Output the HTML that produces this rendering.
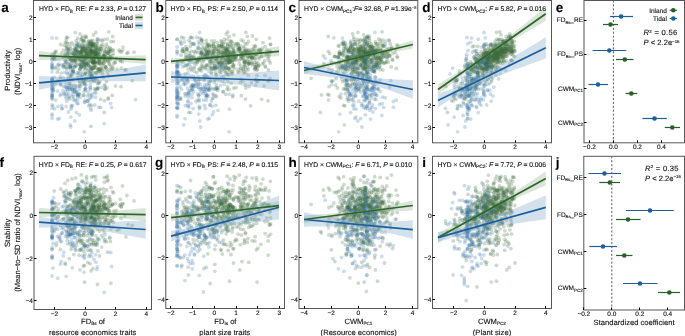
<!DOCTYPE html>
<html><head><meta charset="utf-8"><title>Figure</title>
<style>html,body{margin:0;padding:0;background:#fff;width:685px;height:336px;overflow:hidden} svg{display:block;will-change:transform}</style>
</head><body>
<svg xmlns="http://www.w3.org/2000/svg" width="685" height="336" viewBox="0 0 685 336">
<style>
text{font-family:"Liberation Sans", sans-serif;fill:#111;stroke:#111;stroke-width:0.12px;text-rendering:geometricPrecision}
.tk{font-size:6.5px}
.tt{font-size:6.8px}
.lab{font-size:13.5px;font-weight:bold;fill:#000}
.ax{font-size:7.6px}
</style>
<rect width="685" height="336" fill="#fff"/>
<clipPath id="clipa"><rect x="33.5" y="0.5" width="118.0" height="142.3"/></clipPath>
<g clip-path="url(#clipa)">
<g fill="#3d6d3c" fill-opacity="0.26"><circle cx="97.4" cy="55.3" r="1.9"/><circle cx="67.7" cy="43.3" r="1.9"/><circle cx="60.7" cy="44.5" r="1.9"/><circle cx="71.2" cy="60.2" r="1.9"/><circle cx="92.1" cy="58.2" r="1.9"/><circle cx="105.2" cy="60.3" r="1.9"/><circle cx="124.8" cy="69.8" r="1.9"/><circle cx="108.9" cy="56.1" r="1.9"/><circle cx="68.3" cy="48.8" r="1.9"/><circle cx="57.3" cy="72.2" r="1.9"/><circle cx="91.3" cy="41.4" r="1.9"/><circle cx="103.9" cy="56.4" r="1.9"/><circle cx="67.0" cy="49.4" r="1.9"/><circle cx="82.2" cy="56.8" r="1.9"/><circle cx="83.2" cy="95.1" r="1.9"/><circle cx="89.9" cy="51.4" r="1.9"/><circle cx="87.0" cy="63.6" r="1.9"/><circle cx="96.6" cy="57.4" r="1.9"/><circle cx="104.1" cy="56.9" r="1.9"/><circle cx="90.5" cy="49.4" r="1.9"/><circle cx="99.9" cy="63.4" r="1.9"/><circle cx="117.0" cy="69.2" r="1.9"/><circle cx="75.5" cy="52.0" r="1.9"/><circle cx="75.2" cy="61.6" r="1.9"/><circle cx="96.7" cy="72.9" r="1.9"/><circle cx="115.2" cy="62.9" r="1.9"/><circle cx="92.0" cy="73.9" r="1.9"/><circle cx="104.8" cy="66.3" r="1.9"/><circle cx="85.5" cy="88.6" r="1.9"/><circle cx="102.4" cy="55.2" r="1.9"/><circle cx="81.2" cy="47.5" r="1.9"/><circle cx="99.1" cy="57.7" r="1.9"/><circle cx="95.3" cy="62.3" r="1.9"/><circle cx="95.3" cy="52.1" r="1.9"/><circle cx="108.9" cy="49.1" r="1.9"/><circle cx="104.6" cy="58.3" r="1.9"/><circle cx="81.7" cy="50.6" r="1.9"/><circle cx="102.2" cy="71.7" r="1.9"/><circle cx="66.6" cy="57.4" r="1.9"/><circle cx="103.7" cy="62.9" r="1.9"/><circle cx="128.0" cy="52.4" r="1.9"/><circle cx="97.4" cy="53.3" r="1.9"/><circle cx="97.2" cy="45.6" r="1.9"/><circle cx="91.1" cy="67.1" r="1.9"/><circle cx="101.7" cy="61.5" r="1.9"/><circle cx="84.1" cy="63.5" r="1.9"/><circle cx="99.5" cy="71.2" r="1.9"/><circle cx="86.6" cy="54.4" r="1.9"/><circle cx="84.5" cy="50.8" r="1.9"/><circle cx="92.1" cy="62.2" r="1.9"/><circle cx="89.6" cy="43.1" r="1.9"/><circle cx="66.6" cy="48.1" r="1.9"/><circle cx="119.1" cy="49.9" r="1.9"/><circle cx="92.4" cy="51.9" r="1.9"/><circle cx="67.2" cy="46.9" r="1.9"/><circle cx="105.4" cy="56.7" r="1.9"/><circle cx="90.1" cy="50.0" r="1.9"/><circle cx="93.4" cy="72.7" r="1.9"/><circle cx="100.3" cy="71.5" r="1.9"/><circle cx="78.2" cy="52.4" r="1.9"/><circle cx="54.2" cy="57.8" r="1.9"/><circle cx="89.2" cy="48.5" r="1.9"/><circle cx="93.9" cy="81.6" r="1.9"/><circle cx="104.4" cy="55.7" r="1.9"/><circle cx="80.1" cy="52.5" r="1.9"/><circle cx="86.9" cy="63.5" r="1.9"/><circle cx="96.0" cy="50.2" r="1.9"/><circle cx="86.2" cy="78.3" r="1.9"/><circle cx="87.1" cy="56.7" r="1.9"/><circle cx="94.1" cy="60.3" r="1.9"/><circle cx="76.8" cy="45.8" r="1.9"/><circle cx="112.4" cy="50.1" r="1.9"/><circle cx="77.8" cy="57.2" r="1.9"/><circle cx="91.0" cy="49.9" r="1.9"/><circle cx="86.0" cy="44.2" r="1.9"/><circle cx="80.8" cy="39.4" r="1.9"/><circle cx="97.9" cy="69.8" r="1.9"/><circle cx="104.5" cy="100.8" r="1.9"/><circle cx="110.6" cy="51.4" r="1.9"/><circle cx="98.5" cy="56.4" r="1.9"/><circle cx="84.3" cy="64.6" r="1.9"/><circle cx="102.4" cy="44.2" r="1.9"/><circle cx="70.6" cy="66.9" r="1.9"/><circle cx="91.2" cy="50.4" r="1.9"/><circle cx="97.7" cy="87.7" r="1.9"/><circle cx="98.2" cy="70.0" r="1.9"/><circle cx="74.6" cy="58.3" r="1.9"/><circle cx="69.8" cy="67.4" r="1.9"/><circle cx="113.3" cy="53.4" r="1.9"/><circle cx="83.3" cy="81.2" r="1.9"/><circle cx="67.7" cy="37.3" r="1.9"/><circle cx="73.3" cy="71.6" r="1.9"/><circle cx="90.5" cy="60.7" r="1.9"/><circle cx="106.5" cy="49.2" r="1.9"/><circle cx="90.2" cy="41.3" r="1.9"/><circle cx="106.8" cy="51.8" r="1.9"/><circle cx="93.3" cy="62.3" r="1.9"/><circle cx="96.7" cy="52.9" r="1.9"/><circle cx="103.7" cy="55.7" r="1.9"/><circle cx="85.0" cy="57.4" r="1.9"/><circle cx="94.2" cy="62.2" r="1.9"/><circle cx="84.8" cy="52.1" r="1.9"/><circle cx="81.3" cy="52.8" r="1.9"/><circle cx="99.1" cy="56.4" r="1.9"/><circle cx="78.8" cy="57.6" r="1.9"/><circle cx="91.1" cy="81.3" r="1.9"/><circle cx="79.1" cy="59.9" r="1.9"/><circle cx="88.8" cy="105.8" r="1.9"/><circle cx="82.7" cy="57.3" r="1.9"/><circle cx="105.0" cy="58.8" r="1.9"/><circle cx="91.0" cy="43.5" r="1.9"/><circle cx="91.0" cy="50.8" r="1.9"/><circle cx="112.6" cy="36.5" r="1.9"/><circle cx="54.2" cy="55.0" r="1.9"/><circle cx="74.4" cy="59.7" r="1.9"/><circle cx="52.2" cy="68.6" r="1.9"/><circle cx="89.6" cy="43.6" r="1.9"/><circle cx="95.7" cy="32.4" r="1.9"/><circle cx="98.5" cy="63.0" r="1.9"/><circle cx="93.3" cy="61.4" r="1.9"/><circle cx="77.5" cy="50.2" r="1.9"/><circle cx="113.7" cy="63.0" r="1.9"/><circle cx="93.7" cy="58.0" r="1.9"/><circle cx="85.9" cy="79.6" r="1.9"/><circle cx="74.0" cy="85.2" r="1.9"/><circle cx="95.2" cy="45.7" r="1.9"/><circle cx="82.6" cy="66.4" r="1.9"/><circle cx="83.2" cy="47.3" r="1.9"/><circle cx="92.2" cy="59.3" r="1.9"/><circle cx="92.3" cy="52.6" r="1.9"/><circle cx="78.0" cy="74.8" r="1.9"/><circle cx="106.5" cy="68.6" r="1.9"/><circle cx="75.5" cy="48.4" r="1.9"/><circle cx="73.9" cy="60.9" r="1.9"/><circle cx="93.5" cy="50.3" r="1.9"/><circle cx="91.0" cy="50.7" r="1.9"/><circle cx="90.2" cy="43.6" r="1.9"/><circle cx="83.5" cy="82.2" r="1.9"/><circle cx="89.8" cy="46.4" r="1.9"/><circle cx="81.4" cy="56.6" r="1.9"/><circle cx="66.4" cy="61.9" r="1.9"/><circle cx="99.3" cy="62.2" r="1.9"/><circle cx="75.2" cy="60.0" r="1.9"/><circle cx="86.0" cy="65.8" r="1.9"/><circle cx="99.2" cy="60.5" r="1.9"/><circle cx="89.4" cy="56.4" r="1.9"/><circle cx="126.9" cy="53.3" r="1.9"/><circle cx="69.8" cy="58.6" r="1.9"/><circle cx="78.8" cy="72.9" r="1.9"/><circle cx="90.3" cy="56.2" r="1.9"/><circle cx="107.8" cy="53.5" r="1.9"/><circle cx="85.6" cy="69.4" r="1.9"/><circle cx="69.3" cy="50.3" r="1.9"/><circle cx="104.8" cy="61.4" r="1.9"/><circle cx="76.3" cy="62.1" r="1.9"/><circle cx="86.3" cy="37.4" r="1.9"/><circle cx="101.2" cy="48.7" r="1.9"/><circle cx="79.8" cy="69.0" r="1.9"/><circle cx="82.8" cy="36.4" r="1.9"/><circle cx="95.7" cy="62.9" r="1.9"/><circle cx="86.2" cy="52.1" r="1.9"/><circle cx="92.9" cy="79.5" r="1.9"/><circle cx="75.9" cy="50.5" r="1.9"/><circle cx="87.3" cy="50.7" r="1.9"/><circle cx="73.9" cy="53.7" r="1.9"/><circle cx="67.5" cy="54.0" r="1.9"/><circle cx="113.1" cy="69.1" r="1.9"/><circle cx="95.2" cy="57.1" r="1.9"/><circle cx="101.5" cy="62.3" r="1.9"/><circle cx="75.6" cy="65.7" r="1.9"/><circle cx="88.5" cy="59.8" r="1.9"/><circle cx="86.1" cy="64.9" r="1.9"/><circle cx="69.3" cy="99.0" r="1.9"/><circle cx="96.4" cy="52.8" r="1.9"/><circle cx="79.0" cy="52.7" r="1.9"/><circle cx="86.1" cy="54.7" r="1.9"/><circle cx="68.0" cy="59.6" r="1.9"/><circle cx="102.6" cy="57.0" r="1.9"/><circle cx="99.3" cy="60.0" r="1.9"/><circle cx="94.3" cy="52.1" r="1.9"/><circle cx="76.4" cy="55.4" r="1.9"/><circle cx="81.5" cy="50.3" r="1.9"/><circle cx="105.7" cy="67.5" r="1.9"/><circle cx="85.1" cy="47.6" r="1.9"/><circle cx="92.6" cy="62.4" r="1.9"/><circle cx="90.8" cy="71.2" r="1.9"/><circle cx="73.5" cy="96.8" r="1.9"/><circle cx="109.9" cy="60.6" r="1.9"/><circle cx="61.6" cy="52.9" r="1.9"/><circle cx="92.0" cy="60.7" r="1.9"/><circle cx="87.7" cy="65.2" r="1.9"/><circle cx="66.6" cy="94.3" r="1.9"/><circle cx="93.5" cy="43.7" r="1.9"/><circle cx="96.0" cy="55.2" r="1.9"/><circle cx="89.6" cy="66.1" r="1.9"/><circle cx="77.5" cy="55.5" r="1.9"/><circle cx="95.1" cy="64.9" r="1.9"/><circle cx="104.2" cy="39.4" r="1.9"/><circle cx="91.9" cy="69.3" r="1.9"/><circle cx="112.6" cy="66.2" r="1.9"/><circle cx="100.7" cy="50.7" r="1.9"/><circle cx="99.5" cy="68.6" r="1.9"/><circle cx="108.0" cy="52.9" r="1.9"/><circle cx="79.8" cy="46.6" r="1.9"/><circle cx="81.7" cy="51.3" r="1.9"/><circle cx="96.0" cy="53.2" r="1.9"/><circle cx="96.0" cy="47.0" r="1.9"/><circle cx="109.7" cy="54.1" r="1.9"/><circle cx="104.7" cy="52.5" r="1.9"/><circle cx="91.3" cy="56.7" r="1.9"/><circle cx="91.9" cy="49.9" r="1.9"/><circle cx="85.1" cy="64.1" r="1.9"/><circle cx="83.9" cy="48.4" r="1.9"/><circle cx="82.7" cy="60.1" r="1.9"/><circle cx="101.4" cy="65.4" r="1.9"/><circle cx="82.5" cy="52.3" r="1.9"/><circle cx="84.1" cy="40.3" r="1.9"/><circle cx="91.2" cy="46.9" r="1.9"/><circle cx="82.0" cy="60.2" r="1.9"/><circle cx="85.9" cy="49.3" r="1.9"/><circle cx="59.0" cy="59.7" r="1.9"/><circle cx="94.3" cy="56.7" r="1.9"/><circle cx="84.9" cy="54.8" r="1.9"/><circle cx="91.8" cy="76.5" r="1.9"/><circle cx="94.3" cy="53.8" r="1.9"/><circle cx="63.7" cy="64.8" r="1.9"/><circle cx="122.4" cy="61.9" r="1.9"/><circle cx="91.6" cy="68.9" r="1.9"/><circle cx="92.0" cy="69.2" r="1.9"/><circle cx="65.1" cy="64.1" r="1.9"/><circle cx="98.4" cy="88.1" r="1.9"/><circle cx="95.6" cy="89.5" r="1.9"/><circle cx="85.1" cy="55.8" r="1.9"/><circle cx="93.6" cy="45.7" r="1.9"/><circle cx="108.0" cy="57.9" r="1.9"/><circle cx="85.8" cy="72.8" r="1.9"/><circle cx="78.1" cy="54.2" r="1.9"/><circle cx="108.9" cy="51.5" r="1.9"/><circle cx="94.3" cy="59.4" r="1.9"/><circle cx="88.3" cy="52.8" r="1.9"/><circle cx="122.5" cy="50.4" r="1.9"/><circle cx="93.0" cy="63.3" r="1.9"/><circle cx="88.5" cy="68.9" r="1.9"/><circle cx="94.5" cy="57.6" r="1.9"/><circle cx="85.3" cy="57.5" r="1.9"/><circle cx="93.8" cy="58.7" r="1.9"/><circle cx="92.9" cy="46.7" r="1.9"/><circle cx="81.8" cy="40.0" r="1.9"/><circle cx="87.2" cy="59.3" r="1.9"/><circle cx="95.0" cy="49.3" r="1.9"/><circle cx="96.0" cy="47.1" r="1.9"/><circle cx="98.8" cy="49.1" r="1.9"/><circle cx="101.5" cy="46.1" r="1.9"/><circle cx="94.1" cy="59.1" r="1.9"/><circle cx="97.8" cy="48.9" r="1.9"/><circle cx="85.4" cy="37.3" r="1.9"/><circle cx="87.1" cy="48.3" r="1.9"/><circle cx="104.9" cy="70.2" r="1.9"/><circle cx="63.4" cy="50.1" r="1.9"/><circle cx="95.6" cy="44.2" r="1.9"/><circle cx="134.0" cy="52.2" r="1.9"/><circle cx="64.9" cy="60.6" r="1.9"/><circle cx="111.0" cy="41.6" r="1.9"/><circle cx="66.1" cy="66.8" r="1.9"/><circle cx="95.2" cy="51.0" r="1.9"/><circle cx="112.5" cy="55.7" r="1.9"/><circle cx="110.6" cy="66.3" r="1.9"/><circle cx="77.5" cy="44.6" r="1.9"/><circle cx="72.0" cy="52.4" r="1.9"/><circle cx="70.1" cy="66.1" r="1.9"/><circle cx="99.7" cy="50.1" r="1.9"/><circle cx="84.4" cy="59.5" r="1.9"/><circle cx="89.8" cy="72.7" r="1.9"/><circle cx="93.2" cy="61.8" r="1.9"/><circle cx="95.3" cy="53.2" r="1.9"/><circle cx="97.0" cy="49.8" r="1.9"/><circle cx="91.3" cy="54.1" r="1.9"/><circle cx="67.4" cy="55.2" r="1.9"/><circle cx="109.6" cy="51.3" r="1.9"/><circle cx="52.5" cy="57.5" r="1.9"/><circle cx="106.5" cy="81.6" r="1.9"/><circle cx="81.2" cy="54.2" r="1.9"/><circle cx="86.7" cy="52.9" r="1.9"/><circle cx="82.2" cy="50.7" r="1.9"/><circle cx="84.3" cy="65.1" r="1.9"/><circle cx="89.1" cy="62.0" r="1.9"/><circle cx="85.5" cy="88.2" r="1.9"/><circle cx="74.3" cy="52.5" r="1.9"/><circle cx="101.1" cy="58.1" r="1.9"/><circle cx="81.4" cy="52.5" r="1.9"/><circle cx="107.9" cy="59.9" r="1.9"/><circle cx="87.2" cy="53.0" r="1.9"/><circle cx="79.6" cy="93.7" r="1.9"/><circle cx="95.4" cy="53.1" r="1.9"/><circle cx="101.6" cy="69.8" r="1.9"/><circle cx="76.6" cy="43.6" r="1.9"/><circle cx="85.4" cy="73.6" r="1.9"/><circle cx="109.0" cy="69.8" r="1.9"/><circle cx="75.6" cy="49.5" r="1.9"/><circle cx="77.6" cy="58.9" r="1.9"/><circle cx="91.6" cy="75.6" r="1.9"/><circle cx="72.6" cy="65.9" r="1.9"/><circle cx="55.4" cy="52.0" r="1.9"/><circle cx="66.4" cy="39.4" r="1.9"/><circle cx="94.5" cy="67.1" r="1.9"/><circle cx="98.4" cy="52.5" r="1.9"/><circle cx="97.5" cy="89.0" r="1.9"/><circle cx="94.7" cy="53.8" r="1.9"/><circle cx="72.4" cy="71.9" r="1.9"/><circle cx="98.7" cy="82.8" r="1.9"/><circle cx="105.2" cy="51.4" r="1.9"/><circle cx="79.7" cy="55.9" r="1.9"/><circle cx="102.3" cy="40.8" r="1.9"/><circle cx="84.3" cy="61.9" r="1.9"/><circle cx="92.0" cy="54.0" r="1.9"/><circle cx="94.4" cy="88.9" r="1.9"/><circle cx="68.9" cy="85.2" r="1.9"/><circle cx="109.5" cy="63.7" r="1.9"/><circle cx="77.6" cy="79.1" r="1.9"/><circle cx="88.0" cy="56.0" r="1.9"/><circle cx="82.6" cy="47.9" r="1.9"/><circle cx="95.7" cy="54.4" r="1.9"/><circle cx="95.3" cy="62.4" r="1.9"/><circle cx="89.7" cy="53.7" r="1.9"/><circle cx="108.8" cy="31.8" r="1.9"/><circle cx="93.3" cy="44.1" r="1.9"/><circle cx="83.9" cy="95.7" r="1.9"/><circle cx="54.5" cy="56.8" r="1.9"/><circle cx="85.5" cy="63.5" r="1.9"/><circle cx="85.4" cy="49.9" r="1.9"/><circle cx="77.4" cy="57.1" r="1.9"/><circle cx="77.5" cy="38.1" r="1.9"/><circle cx="97.6" cy="47.2" r="1.9"/><circle cx="103.8" cy="63.4" r="1.9"/><circle cx="115.5" cy="85.9" r="1.9"/><circle cx="105.1" cy="86.1" r="1.9"/><circle cx="79.6" cy="64.8" r="1.9"/><circle cx="92.9" cy="43.9" r="1.9"/><circle cx="70.6" cy="75.3" r="1.9"/><circle cx="99.5" cy="58.7" r="1.9"/><circle cx="94.3" cy="44.1" r="1.9"/><circle cx="81.0" cy="53.8" r="1.9"/><circle cx="87.9" cy="56.3" r="1.9"/><circle cx="85.9" cy="62.7" r="1.9"/><circle cx="80.6" cy="60.7" r="1.9"/><circle cx="107.6" cy="61.3" r="1.9"/><circle cx="132.2" cy="80.7" r="1.9"/><circle cx="100.7" cy="46.4" r="1.9"/><circle cx="104.0" cy="50.5" r="1.9"/><circle cx="91.6" cy="57.5" r="1.9"/><circle cx="84.6" cy="46.1" r="1.9"/><circle cx="119.6" cy="51.6" r="1.9"/><circle cx="84.4" cy="74.7" r="1.9"/><circle cx="94.9" cy="77.9" r="1.9"/><circle cx="87.8" cy="57.7" r="1.9"/><circle cx="97.5" cy="50.8" r="1.9"/><circle cx="88.7" cy="41.0" r="1.9"/><circle cx="97.6" cy="39.0" r="1.9"/><circle cx="72.0" cy="42.7" r="1.9"/><circle cx="88.0" cy="81.1" r="1.9"/><circle cx="108.3" cy="75.4" r="1.9"/><circle cx="75.2" cy="50.4" r="1.9"/><circle cx="80.2" cy="55.3" r="1.9"/><circle cx="108.3" cy="99.1" r="1.9"/><circle cx="95.0" cy="56.7" r="1.9"/><circle cx="104.1" cy="53.6" r="1.9"/><circle cx="58.6" cy="69.1" r="1.9"/><circle cx="91.4" cy="51.5" r="1.9"/><circle cx="71.8" cy="59.6" r="1.9"/><circle cx="70.2" cy="46.7" r="1.9"/><circle cx="95.1" cy="51.4" r="1.9"/><circle cx="105.7" cy="56.6" r="1.9"/><circle cx="68.8" cy="52.7" r="1.9"/><circle cx="74.1" cy="55.7" r="1.9"/><circle cx="81.3" cy="48.7" r="1.9"/><circle cx="87.6" cy="101.0" r="1.9"/><circle cx="71.0" cy="60.5" r="1.9"/><circle cx="120.5" cy="60.9" r="1.9"/><circle cx="97.5" cy="83.8" r="1.9"/><circle cx="84.4" cy="67.2" r="1.9"/><circle cx="82.2" cy="46.6" r="1.9"/><circle cx="121.4" cy="52.0" r="1.9"/><circle cx="120.2" cy="60.6" r="1.9"/><circle cx="82.6" cy="62.3" r="1.9"/><circle cx="94.1" cy="54.5" r="1.9"/><circle cx="106.7" cy="53.2" r="1.9"/><circle cx="72.9" cy="50.0" r="1.9"/><circle cx="81.2" cy="67.0" r="1.9"/><circle cx="107.9" cy="60.9" r="1.9"/><circle cx="79.7" cy="56.4" r="1.9"/><circle cx="83.3" cy="41.1" r="1.9"/><circle cx="70.6" cy="76.8" r="1.9"/><circle cx="78.7" cy="51.6" r="1.9"/><circle cx="98.7" cy="60.4" r="1.9"/><circle cx="77.8" cy="51.7" r="1.9"/><circle cx="71.1" cy="60.0" r="1.9"/><circle cx="80.5" cy="52.3" r="1.9"/><circle cx="113.6" cy="41.4" r="1.9"/><circle cx="91.6" cy="105.3" r="1.9"/><circle cx="81.4" cy="66.5" r="1.9"/><circle cx="91.2" cy="52.2" r="1.9"/><circle cx="95.2" cy="62.3" r="1.9"/><circle cx="90.8" cy="50.7" r="1.9"/><circle cx="64.1" cy="57.4" r="1.9"/><circle cx="93.2" cy="62.9" r="1.9"/><circle cx="86.1" cy="55.9" r="1.9"/><circle cx="100.7" cy="57.6" r="1.9"/><circle cx="70.3" cy="48.8" r="1.9"/><circle cx="103.5" cy="55.9" r="1.9"/><circle cx="82.1" cy="62.4" r="1.9"/><circle cx="65.3" cy="42.4" r="1.9"/><circle cx="107.4" cy="46.6" r="1.9"/><circle cx="81.8" cy="44.1" r="1.9"/><circle cx="94.1" cy="68.0" r="1.9"/><circle cx="86.7" cy="56.5" r="1.9"/><circle cx="104.1" cy="59.3" r="1.9"/><circle cx="104.2" cy="112.4" r="1.9"/><circle cx="104.4" cy="47.0" r="1.9"/><circle cx="98.8" cy="54.6" r="1.9"/><circle cx="66.5" cy="68.9" r="1.9"/><circle cx="65.5" cy="55.9" r="1.9"/><circle cx="91.6" cy="68.3" r="1.9"/><circle cx="75.6" cy="54.1" r="1.9"/><circle cx="95.3" cy="66.4" r="1.9"/><circle cx="91.1" cy="67.0" r="1.9"/><circle cx="69.2" cy="54.5" r="1.9"/><circle cx="74.4" cy="56.3" r="1.9"/><circle cx="73.1" cy="70.5" r="1.9"/><circle cx="76.5" cy="48.8" r="1.9"/><circle cx="85.9" cy="36.0" r="1.9"/><circle cx="98.3" cy="68.9" r="1.9"/><circle cx="107.4" cy="39.1" r="1.9"/><circle cx="75.3" cy="88.1" r="1.9"/><circle cx="81.0" cy="60.0" r="1.9"/><circle cx="110.4" cy="57.2" r="1.9"/><circle cx="101.2" cy="68.6" r="1.9"/><circle cx="92.0" cy="43.8" r="1.9"/><circle cx="56.2" cy="51.1" r="1.9"/><circle cx="74.8" cy="62.3" r="1.9"/><circle cx="91.0" cy="58.1" r="1.9"/><circle cx="80.6" cy="86.2" r="1.9"/><circle cx="116.4" cy="58.7" r="1.9"/><circle cx="90.0" cy="75.2" r="1.9"/><circle cx="92.7" cy="62.5" r="1.9"/><circle cx="73.5" cy="59.5" r="1.9"/><circle cx="74.3" cy="54.2" r="1.9"/><circle cx="79.5" cy="46.1" r="1.9"/><circle cx="80.1" cy="80.7" r="1.9"/><circle cx="85.5" cy="59.7" r="1.9"/><circle cx="94.0" cy="62.2" r="1.9"/><circle cx="92.1" cy="51.5" r="1.9"/><circle cx="102.7" cy="58.8" r="1.9"/><circle cx="70.0" cy="58.4" r="1.9"/><circle cx="91.7" cy="45.8" r="1.9"/><circle cx="92.1" cy="75.4" r="1.9"/><circle cx="110.9" cy="69.7" r="1.9"/><circle cx="85.7" cy="57.3" r="1.9"/><circle cx="93.3" cy="68.4" r="1.9"/><circle cx="77.4" cy="72.6" r="1.9"/><circle cx="94.7" cy="55.7" r="1.9"/><circle cx="94.3" cy="65.1" r="1.9"/><circle cx="80.0" cy="34.0" r="1.9"/><circle cx="82.7" cy="49.1" r="1.9"/><circle cx="88.3" cy="54.3" r="1.9"/><circle cx="96.8" cy="57.3" r="1.9"/><circle cx="72.8" cy="90.4" r="1.9"/><circle cx="101.1" cy="49.1" r="1.9"/><circle cx="84.2" cy="40.9" r="1.9"/><circle cx="115.2" cy="62.1" r="1.9"/><circle cx="109.1" cy="64.0" r="1.9"/><circle cx="83.1" cy="49.0" r="1.9"/><circle cx="80.1" cy="69.5" r="1.9"/><circle cx="123.0" cy="47.1" r="1.9"/><circle cx="97.5" cy="43.3" r="1.9"/><circle cx="96.7" cy="53.5" r="1.9"/><circle cx="82.9" cy="56.1" r="1.9"/><circle cx="87.0" cy="48.5" r="1.9"/><circle cx="100.0" cy="69.5" r="1.9"/><circle cx="97.4" cy="54.7" r="1.9"/><circle cx="77.3" cy="46.0" r="1.9"/><circle cx="106.1" cy="66.8" r="1.9"/><circle cx="93.1" cy="46.6" r="1.9"/><circle cx="75.6" cy="59.3" r="1.9"/><circle cx="102.6" cy="74.3" r="1.9"/><circle cx="86.4" cy="56.5" r="1.9"/><circle cx="99.7" cy="81.6" r="1.9"/><circle cx="81.1" cy="65.4" r="1.9"/><circle cx="93.8" cy="66.1" r="1.9"/><circle cx="66.2" cy="46.1" r="1.9"/><circle cx="94.0" cy="62.2" r="1.9"/><circle cx="67.7" cy="52.3" r="1.9"/><circle cx="91.1" cy="60.9" r="1.9"/><circle cx="53.5" cy="58.5" r="1.9"/><circle cx="87.9" cy="44.8" r="1.9"/><circle cx="98.9" cy="53.6" r="1.9"/><circle cx="95.5" cy="72.5" r="1.9"/><circle cx="105.4" cy="66.8" r="1.9"/><circle cx="73.9" cy="45.1" r="1.9"/><circle cx="110.6" cy="49.0" r="1.9"/><circle cx="111.1" cy="58.5" r="1.9"/><circle cx="72.1" cy="53.4" r="1.9"/><circle cx="77.7" cy="96.5" r="1.9"/><circle cx="80.8" cy="64.7" r="1.9"/><circle cx="88.5" cy="63.0" r="1.9"/><circle cx="91.4" cy="52.4" r="1.9"/><circle cx="54.5" cy="52.9" r="1.9"/><circle cx="97.0" cy="62.3" r="1.9"/><circle cx="85.2" cy="48.9" r="1.9"/><circle cx="74.6" cy="48.5" r="1.9"/><circle cx="102.0" cy="68.5" r="1.9"/><circle cx="84.0" cy="46.2" r="1.9"/><circle cx="104.6" cy="58.2" r="1.9"/><circle cx="96.2" cy="56.6" r="1.9"/><circle cx="84.3" cy="51.3" r="1.9"/><circle cx="105.1" cy="55.9" r="1.9"/><circle cx="100.0" cy="48.4" r="1.9"/><circle cx="81.7" cy="79.1" r="1.9"/><circle cx="66.4" cy="42.7" r="1.9"/><circle cx="81.2" cy="62.6" r="1.9"/><circle cx="97.3" cy="57.0" r="1.9"/><circle cx="85.5" cy="68.0" r="1.9"/><circle cx="113.3" cy="50.1" r="1.9"/><circle cx="92.4" cy="44.1" r="1.9"/><circle cx="91.5" cy="45.9" r="1.9"/><circle cx="94.4" cy="48.0" r="1.9"/><circle cx="76.5" cy="91.9" r="1.9"/><circle cx="87.1" cy="62.6" r="1.9"/><circle cx="79.6" cy="59.7" r="1.9"/><circle cx="56.1" cy="82.3" r="1.9"/><circle cx="64.1" cy="45.4" r="1.9"/><circle cx="99.0" cy="53.9" r="1.9"/><circle cx="82.6" cy="55.8" r="1.9"/><circle cx="87.1" cy="51.2" r="1.9"/><circle cx="68.2" cy="64.1" r="1.9"/><circle cx="80.6" cy="68.2" r="1.9"/><circle cx="99.6" cy="63.5" r="1.9"/><circle cx="90.1" cy="51.1" r="1.9"/><circle cx="81.5" cy="52.5" r="1.9"/><circle cx="110.0" cy="50.3" r="1.9"/><circle cx="87.9" cy="45.8" r="1.9"/><circle cx="83.9" cy="67.8" r="1.9"/><circle cx="104.6" cy="85.0" r="1.9"/><circle cx="64.7" cy="54.2" r="1.9"/><circle cx="96.4" cy="67.7" r="1.9"/><circle cx="73.3" cy="60.4" r="1.9"/><circle cx="77.8" cy="86.5" r="1.9"/><circle cx="79.3" cy="81.7" r="1.9"/><circle cx="90.5" cy="45.8" r="1.9"/><circle cx="90.2" cy="55.2" r="1.9"/><circle cx="93.0" cy="57.5" r="1.9"/><circle cx="91.6" cy="45.8" r="1.9"/><circle cx="108.2" cy="98.0" r="1.9"/><circle cx="112.2" cy="68.5" r="1.9"/><circle cx="98.6" cy="68.8" r="1.9"/><circle cx="99.3" cy="58.9" r="1.9"/><circle cx="83.5" cy="61.1" r="1.9"/><circle cx="73.5" cy="55.6" r="1.9"/><circle cx="97.0" cy="79.7" r="1.9"/><circle cx="89.3" cy="94.9" r="1.9"/><circle cx="100.7" cy="99.3" r="1.9"/><circle cx="63.4" cy="67.5" r="1.9"/><circle cx="125.9" cy="70.0" r="1.9"/><circle cx="71.1" cy="63.3" r="1.9"/><circle cx="89.3" cy="54.1" r="1.9"/><circle cx="102.5" cy="63.9" r="1.9"/><circle cx="69.6" cy="67.7" r="1.9"/><circle cx="81.1" cy="66.5" r="1.9"/><circle cx="60.7" cy="78.5" r="1.9"/><circle cx="68.9" cy="57.2" r="1.9"/><circle cx="61.9" cy="64.8" r="1.9"/><circle cx="90.2" cy="73.9" r="1.9"/><circle cx="92.9" cy="40.3" r="1.9"/><circle cx="84.4" cy="56.9" r="1.9"/><circle cx="106.3" cy="44.1" r="1.9"/><circle cx="108.1" cy="53.0" r="1.9"/><circle cx="88.7" cy="65.7" r="1.9"/><circle cx="85.7" cy="57.9" r="1.9"/><circle cx="85.0" cy="81.1" r="1.9"/><circle cx="82.5" cy="48.6" r="1.9"/><circle cx="106.9" cy="87.9" r="1.9"/><circle cx="92.1" cy="43.6" r="1.9"/><circle cx="84.2" cy="50.3" r="1.9"/><circle cx="85.7" cy="73.8" r="1.9"/><circle cx="96.4" cy="48.5" r="1.9"/><circle cx="83.3" cy="41.6" r="1.9"/><circle cx="93.2" cy="62.7" r="1.9"/><circle cx="88.3" cy="46.7" r="1.9"/><circle cx="107.6" cy="71.8" r="1.9"/><circle cx="104.9" cy="89.3" r="1.9"/><circle cx="69.2" cy="83.4" r="1.9"/><circle cx="86.6" cy="51.2" r="1.9"/><circle cx="98.7" cy="71.7" r="1.9"/><circle cx="82.6" cy="79.3" r="1.9"/><circle cx="100.1" cy="52.0" r="1.9"/><circle cx="93.5" cy="34.9" r="1.9"/><circle cx="97.1" cy="60.9" r="1.9"/><circle cx="88.0" cy="48.1" r="1.9"/><circle cx="93.1" cy="54.6" r="1.9"/><circle cx="96.1" cy="57.6" r="1.9"/><circle cx="68.5" cy="50.0" r="1.9"/><circle cx="76.2" cy="40.7" r="1.9"/><circle cx="74.7" cy="66.7" r="1.9"/><circle cx="112.2" cy="95.4" r="1.9"/><circle cx="93.1" cy="52.4" r="1.9"/><circle cx="94.0" cy="68.4" r="1.9"/><circle cx="91.3" cy="41.0" r="1.9"/><circle cx="81.7" cy="38.0" r="1.9"/><circle cx="78.5" cy="64.2" r="1.9"/><circle cx="100.6" cy="39.9" r="1.9"/><circle cx="83.7" cy="55.1" r="1.9"/><circle cx="110.8" cy="57.0" r="1.9"/><circle cx="91.6" cy="76.4" r="1.9"/><circle cx="90.1" cy="53.5" r="1.9"/><circle cx="85.8" cy="52.6" r="1.9"/><circle cx="87.9" cy="41.9" r="1.9"/><circle cx="89.4" cy="43.9" r="1.9"/><circle cx="110.0" cy="47.5" r="1.9"/><circle cx="121.2" cy="68.2" r="1.9"/><circle cx="72.9" cy="69.7" r="1.9"/><circle cx="92.4" cy="79.1" r="1.9"/><circle cx="98.7" cy="63.9" r="1.9"/><circle cx="76.4" cy="54.2" r="1.9"/><circle cx="80.1" cy="65.2" r="1.9"/><circle cx="82.6" cy="57.2" r="1.9"/><circle cx="55.6" cy="67.1" r="1.9"/><circle cx="97.9" cy="40.9" r="1.9"/><circle cx="88.3" cy="64.8" r="1.9"/><circle cx="87.6" cy="56.7" r="1.9"/><circle cx="90.1" cy="57.3" r="1.9"/><circle cx="92.4" cy="44.7" r="1.9"/><circle cx="120.9" cy="86.6" r="1.9"/><circle cx="91.4" cy="55.9" r="1.9"/><circle cx="100.5" cy="57.4" r="1.9"/><circle cx="81.8" cy="50.8" r="1.9"/><circle cx="93.8" cy="51.3" r="1.9"/><circle cx="84.6" cy="59.7" r="1.9"/><circle cx="86.9" cy="53.4" r="1.9"/><circle cx="76.5" cy="58.9" r="1.9"/><circle cx="77.7" cy="51.3" r="1.9"/><circle cx="95.3" cy="56.5" r="1.9"/></g>
<g fill="#2c6ca3" fill-opacity="0.24"><circle cx="110.7" cy="103.5" r="1.9"/><circle cx="90.8" cy="67.6" r="1.9"/><circle cx="77.8" cy="94.3" r="1.9"/><circle cx="66.1" cy="98.3" r="1.9"/><circle cx="64.0" cy="93.8" r="1.9"/><circle cx="93.2" cy="58.6" r="1.9"/><circle cx="52.1" cy="85.1" r="1.9"/><circle cx="94.8" cy="92.5" r="1.9"/><circle cx="90.2" cy="98.1" r="1.9"/><circle cx="94.9" cy="105.0" r="1.9"/><circle cx="66.5" cy="37.4" r="1.9"/><circle cx="63.8" cy="86.7" r="1.9"/><circle cx="60.4" cy="83.4" r="1.9"/><circle cx="75.0" cy="91.5" r="1.9"/><circle cx="72.5" cy="67.6" r="1.9"/><circle cx="77.0" cy="103.4" r="1.9"/><circle cx="57.6" cy="119.1" r="1.9"/><circle cx="77.9" cy="96.0" r="1.9"/><circle cx="52.1" cy="80.2" r="1.9"/><circle cx="76.5" cy="47.0" r="1.9"/><circle cx="68.6" cy="87.3" r="1.9"/><circle cx="75.0" cy="100.9" r="1.9"/><circle cx="70.1" cy="89.9" r="1.9"/><circle cx="52.1" cy="99.5" r="1.9"/><circle cx="73.0" cy="99.6" r="1.9"/><circle cx="84.6" cy="84.4" r="1.9"/><circle cx="69.6" cy="80.9" r="1.9"/><circle cx="80.1" cy="97.4" r="1.9"/><circle cx="52.1" cy="67.1" r="1.9"/><circle cx="71.3" cy="87.3" r="1.9"/><circle cx="79.9" cy="84.0" r="1.9"/><circle cx="77.7" cy="94.9" r="1.9"/><circle cx="84.3" cy="79.6" r="1.9"/><circle cx="73.6" cy="78.9" r="1.9"/><circle cx="82.3" cy="74.5" r="1.9"/><circle cx="55.7" cy="100.1" r="1.9"/><circle cx="71.9" cy="75.1" r="1.9"/><circle cx="87.4" cy="95.8" r="1.9"/><circle cx="85.1" cy="84.2" r="1.9"/><circle cx="61.2" cy="73.1" r="1.9"/><circle cx="52.1" cy="59.8" r="1.9"/><circle cx="52.1" cy="93.7" r="1.9"/><circle cx="52.1" cy="105.0" r="1.9"/><circle cx="82.1" cy="83.5" r="1.9"/><circle cx="76.2" cy="64.8" r="1.9"/><circle cx="76.9" cy="91.6" r="1.9"/><circle cx="90.5" cy="43.9" r="1.9"/><circle cx="52.1" cy="118.4" r="1.9"/><circle cx="55.0" cy="59.9" r="1.9"/><circle cx="52.1" cy="65.7" r="1.9"/><circle cx="64.1" cy="66.7" r="1.9"/><circle cx="85.3" cy="100.2" r="1.9"/><circle cx="65.4" cy="62.4" r="1.9"/><circle cx="59.1" cy="65.6" r="1.9"/><circle cx="52.1" cy="64.2" r="1.9"/><circle cx="74.2" cy="89.7" r="1.9"/><circle cx="52.1" cy="90.0" r="1.9"/><circle cx="72.0" cy="63.4" r="1.9"/><circle cx="72.7" cy="79.8" r="1.9"/><circle cx="72.1" cy="53.8" r="1.9"/><circle cx="77.6" cy="100.2" r="1.9"/><circle cx="58.3" cy="81.3" r="1.9"/><circle cx="71.0" cy="109.2" r="1.9"/><circle cx="81.7" cy="75.8" r="1.9"/><circle cx="84.1" cy="83.1" r="1.9"/><circle cx="76.4" cy="112.6" r="1.9"/><circle cx="63.4" cy="78.0" r="1.9"/><circle cx="57.9" cy="65.0" r="1.9"/><circle cx="96.4" cy="81.5" r="1.9"/><circle cx="58.8" cy="64.1" r="1.9"/><circle cx="68.5" cy="96.3" r="1.9"/><circle cx="75.3" cy="32.5" r="1.9"/><circle cx="52.1" cy="108.3" r="1.9"/><circle cx="74.8" cy="92.3" r="1.9"/><circle cx="63.2" cy="66.1" r="1.9"/><circle cx="52.1" cy="90.8" r="1.9"/><circle cx="52.1" cy="95.9" r="1.9"/><circle cx="52.1" cy="71.9" r="1.9"/><circle cx="71.9" cy="58.0" r="1.9"/><circle cx="84.6" cy="79.0" r="1.9"/><circle cx="54.6" cy="108.8" r="1.9"/><circle cx="78.3" cy="42.4" r="1.9"/><circle cx="85.6" cy="90.2" r="1.9"/><circle cx="70.8" cy="117.1" r="1.9"/><circle cx="101.7" cy="87.4" r="1.9"/><circle cx="88.0" cy="70.2" r="1.9"/><circle cx="84.2" cy="131.8" r="1.9"/><circle cx="67.1" cy="89.0" r="1.9"/><circle cx="66.3" cy="80.3" r="1.9"/><circle cx="52.1" cy="95.3" r="1.9"/><circle cx="68.1" cy="79.2" r="1.9"/><circle cx="54.6" cy="77.3" r="1.9"/><circle cx="66.8" cy="67.8" r="1.9"/><circle cx="97.4" cy="39.2" r="1.9"/><circle cx="52.1" cy="80.4" r="1.9"/><circle cx="87.9" cy="101.5" r="1.9"/><circle cx="78.1" cy="103.7" r="1.9"/><circle cx="98.8" cy="107.3" r="1.9"/><circle cx="69.7" cy="73.6" r="1.9"/><circle cx="57.9" cy="80.1" r="1.9"/><circle cx="103.3" cy="77.9" r="1.9"/><circle cx="52.1" cy="82.5" r="1.9"/><circle cx="78.9" cy="58.3" r="1.9"/><circle cx="70.4" cy="67.0" r="1.9"/><circle cx="55.3" cy="68.4" r="1.9"/><circle cx="69.1" cy="97.7" r="1.9"/><circle cx="73.3" cy="91.5" r="1.9"/><circle cx="61.9" cy="108.5" r="1.9"/><circle cx="95.5" cy="97.2" r="1.9"/><circle cx="90.4" cy="84.4" r="1.9"/><circle cx="71.3" cy="107.2" r="1.9"/><circle cx="52.1" cy="97.0" r="1.9"/><circle cx="74.8" cy="51.0" r="1.9"/><circle cx="79.4" cy="89.2" r="1.9"/><circle cx="68.4" cy="112.0" r="1.9"/><circle cx="111.6" cy="107.6" r="1.9"/><circle cx="53.6" cy="87.5" r="1.9"/><circle cx="73.3" cy="71.4" r="1.9"/><circle cx="90.5" cy="87.5" r="1.9"/><circle cx="90.4" cy="71.0" r="1.9"/><circle cx="52.5" cy="80.6" r="1.9"/><circle cx="61.6" cy="105.3" r="1.9"/><circle cx="52.1" cy="68.1" r="1.9"/><circle cx="63.8" cy="93.8" r="1.9"/><circle cx="65.7" cy="53.4" r="1.9"/><circle cx="71.8" cy="96.2" r="1.9"/><circle cx="52.1" cy="88.4" r="1.9"/><circle cx="91.5" cy="95.4" r="1.9"/><circle cx="53.6" cy="90.6" r="1.9"/><circle cx="90.9" cy="78.0" r="1.9"/><circle cx="72.2" cy="89.2" r="1.9"/><circle cx="84.0" cy="65.4" r="1.9"/><circle cx="70.4" cy="78.5" r="1.9"/><circle cx="109.8" cy="58.5" r="1.9"/><circle cx="55.0" cy="84.7" r="1.9"/><circle cx="52.1" cy="63.5" r="1.9"/><circle cx="69.0" cy="65.1" r="1.9"/><circle cx="72.1" cy="88.3" r="1.9"/><circle cx="96.3" cy="41.9" r="1.9"/><circle cx="52.1" cy="59.6" r="1.9"/><circle cx="88.8" cy="76.4" r="1.9"/><circle cx="96.8" cy="89.2" r="1.9"/><circle cx="66.9" cy="87.2" r="1.9"/><circle cx="105.1" cy="88.7" r="1.9"/><circle cx="94.0" cy="80.8" r="1.9"/><circle cx="72.4" cy="105.3" r="1.9"/><circle cx="52.1" cy="84.7" r="1.9"/><circle cx="65.3" cy="96.1" r="1.9"/><circle cx="80.0" cy="56.9" r="1.9"/><circle cx="88.4" cy="72.4" r="1.9"/><circle cx="52.1" cy="56.8" r="1.9"/><circle cx="79.0" cy="44.4" r="1.9"/><circle cx="68.2" cy="77.3" r="1.9"/><circle cx="66.3" cy="50.7" r="1.9"/><circle cx="52.1" cy="79.0" r="1.9"/><circle cx="71.6" cy="74.6" r="1.9"/><circle cx="84.5" cy="101.9" r="1.9"/><circle cx="52.1" cy="84.1" r="1.9"/><circle cx="65.8" cy="60.8" r="1.9"/><circle cx="60.3" cy="76.9" r="1.9"/><circle cx="84.0" cy="92.0" r="1.9"/><circle cx="71.9" cy="85.4" r="1.9"/><circle cx="52.1" cy="98.2" r="1.9"/><circle cx="91.9" cy="97.1" r="1.9"/><circle cx="91.1" cy="110.3" r="1.9"/><circle cx="76.0" cy="66.3" r="1.9"/><circle cx="70.6" cy="66.5" r="1.9"/><circle cx="52.1" cy="87.3" r="1.9"/><circle cx="62.2" cy="108.6" r="1.9"/><circle cx="90.3" cy="89.6" r="1.9"/><circle cx="95.9" cy="50.7" r="1.9"/><circle cx="90.7" cy="108.4" r="1.9"/><circle cx="79.2" cy="94.2" r="1.9"/><circle cx="52.1" cy="93.6" r="1.9"/><circle cx="83.4" cy="71.6" r="1.9"/><circle cx="100.6" cy="107.4" r="1.9"/><circle cx="64.1" cy="80.9" r="1.9"/><circle cx="75.4" cy="99.7" r="1.9"/><circle cx="65.6" cy="91.6" r="1.9"/><circle cx="58.0" cy="106.4" r="1.9"/><circle cx="80.5" cy="76.3" r="1.9"/><circle cx="92.2" cy="93.9" r="1.9"/><circle cx="60.2" cy="95.6" r="1.9"/><circle cx="52.1" cy="66.5" r="1.9"/><circle cx="52.1" cy="79.4" r="1.9"/><circle cx="82.5" cy="44.6" r="1.9"/><circle cx="95.5" cy="78.1" r="1.9"/><circle cx="66.1" cy="83.9" r="1.9"/><circle cx="99.2" cy="83.2" r="1.9"/><circle cx="52.1" cy="37.8" r="1.9"/><circle cx="83.6" cy="63.8" r="1.9"/><circle cx="53.2" cy="90.2" r="1.9"/><circle cx="89.8" cy="79.8" r="1.9"/><circle cx="76.1" cy="94.2" r="1.9"/><circle cx="67.4" cy="73.9" r="1.9"/><circle cx="60.7" cy="94.0" r="1.9"/><circle cx="78.6" cy="94.9" r="1.9"/><circle cx="95.0" cy="77.7" r="1.9"/><circle cx="83.3" cy="61.9" r="1.9"/><circle cx="70.7" cy="70.6" r="1.9"/><circle cx="64.5" cy="72.4" r="1.9"/><circle cx="60.4" cy="84.6" r="1.9"/><circle cx="70.8" cy="127.0" r="1.9"/><circle cx="52.1" cy="88.2" r="1.9"/><circle cx="70.1" cy="89.0" r="1.9"/><circle cx="91.5" cy="76.2" r="1.9"/><circle cx="74.7" cy="55.1" r="1.9"/><circle cx="73.3" cy="72.3" r="1.9"/><circle cx="52.1" cy="115.5" r="1.9"/><circle cx="85.9" cy="85.0" r="1.9"/><circle cx="84.7" cy="89.5" r="1.9"/><circle cx="96.2" cy="73.0" r="1.9"/><circle cx="65.3" cy="86.5" r="1.9"/><circle cx="59.3" cy="118.6" r="1.9"/><circle cx="66.6" cy="101.2" r="1.9"/><circle cx="57.5" cy="91.1" r="1.9"/><circle cx="74.7" cy="121.0" r="1.9"/><circle cx="69.1" cy="87.8" r="1.9"/><circle cx="62.9" cy="90.6" r="1.9"/><circle cx="74.6" cy="67.1" r="1.9"/><circle cx="90.0" cy="87.7" r="1.9"/><circle cx="52.1" cy="96.5" r="1.9"/><circle cx="66.2" cy="87.9" r="1.9"/><circle cx="75.8" cy="85.4" r="1.9"/><circle cx="79.9" cy="68.9" r="1.9"/><circle cx="84.9" cy="102.3" r="1.9"/><circle cx="70.3" cy="124.9" r="1.9"/><circle cx="56.6" cy="38.1" r="1.9"/><circle cx="80.3" cy="72.7" r="1.9"/><circle cx="61.2" cy="85.1" r="1.9"/><circle cx="69.9" cy="43.9" r="1.9"/><circle cx="71.4" cy="105.7" r="1.9"/><circle cx="88.7" cy="99.6" r="1.9"/><circle cx="68.4" cy="93.5" r="1.9"/><circle cx="77.6" cy="77.4" r="1.9"/><circle cx="72.2" cy="93.9" r="1.9"/><circle cx="67.3" cy="72.4" r="1.9"/><circle cx="88.0" cy="92.0" r="1.9"/><circle cx="68.5" cy="63.4" r="1.9"/><circle cx="52.1" cy="77.9" r="1.9"/><circle cx="79.4" cy="114.8" r="1.9"/><circle cx="55.8" cy="59.2" r="1.9"/><circle cx="52.9" cy="105.8" r="1.9"/><circle cx="74.8" cy="88.4" r="1.9"/><circle cx="79.5" cy="86.0" r="1.9"/><circle cx="79.0" cy="47.1" r="1.9"/><circle cx="67.7" cy="90.1" r="1.9"/><circle cx="52.1" cy="114.1" r="1.9"/><circle cx="70.6" cy="84.2" r="1.9"/><circle cx="66.1" cy="106.4" r="1.9"/><circle cx="52.1" cy="54.3" r="1.9"/><circle cx="74.7" cy="73.8" r="1.9"/><circle cx="62.3" cy="58.8" r="1.9"/><circle cx="95.9" cy="93.1" r="1.9"/><circle cx="89.9" cy="104.4" r="1.9"/></g>
<circle cx="104.2" cy="123.6" r="1.9" fill="#2c6ca3" fill-opacity="0.24"/>
<circle cx="90.9" cy="126.3" r="1.9" fill="#3d6d3c" fill-opacity="0.26"/>
<circle cx="135.5" cy="99.7" r="1.9" fill="#2c6ca3" fill-opacity="0.24"/>
<polygon points="39.0,51.1 41.7,51.4 44.5,51.7 47.2,52.0 49.9,52.3 52.7,52.6 55.4,52.9 58.2,53.2 60.9,53.5 63.6,53.8 66.4,54.0 69.1,54.3 71.8,54.5 74.6,54.8 77.3,55.0 80.0,55.2 82.8,55.4 85.5,55.6 88.2,55.7 91.0,55.8 93.7,55.9 96.5,55.9 99.2,56.0 101.9,56.0 104.7,56.0 107.4,56.0 110.1,56.0 112.9,56.0 115.6,56.0 118.3,55.9 121.1,55.9 123.8,55.8 126.5,55.8 129.3,55.7 132.0,55.7 134.8,55.6 137.5,55.5 140.2,55.4 143.0,55.4 145.7,55.3 145.7,64.1 143.0,63.8 140.2,63.5 137.5,63.3 134.8,63.0 132.0,62.7 129.3,62.4 126.5,62.2 123.8,61.9 121.1,61.6 118.3,61.4 115.6,61.1 112.9,60.9 110.1,60.6 107.4,60.4 104.7,60.2 101.9,60.0 99.2,59.8 96.5,59.7 93.7,59.5 91.0,59.4 88.2,59.3 85.5,59.2 82.8,59.2 80.0,59.1 77.3,59.1 74.6,59.2 71.8,59.2 69.1,59.2 66.4,59.3 63.6,59.3 60.9,59.4 58.2,59.5 55.4,59.6 52.7,59.6 49.9,59.7 47.2,59.8 44.5,59.9 41.7,60.0 39.0,60.1" fill="#7d9f74" fill-opacity="0.27"/>
<polygon points="39.0,75.9 41.7,76.1 44.5,76.2 47.2,76.3 49.9,76.5 52.7,76.6 55.4,76.7 58.2,76.8 60.9,76.8 63.6,76.8 66.4,76.8 69.1,76.7 71.8,76.5 74.6,76.3 77.3,76.1 80.0,75.8 82.8,75.4 85.5,75.1 88.2,74.7 91.0,74.3 93.7,73.9 96.5,73.5 99.2,73.0 101.9,72.6 104.7,72.1 107.4,71.6 110.1,71.1 112.9,70.6 115.6,70.1 118.3,69.6 121.1,69.1 123.8,68.6 126.5,68.0 129.3,67.5 132.0,67.0 134.8,66.5 137.5,65.9 140.2,65.4 143.0,64.8 145.7,64.3 145.7,81.3 143.0,81.3 140.2,81.3 137.5,81.2 134.8,81.2 132.0,81.2 129.3,81.2 126.5,81.2 123.8,81.2 121.1,81.2 118.3,81.2 115.6,81.2 112.9,81.2 110.1,81.2 107.4,81.2 104.7,81.3 101.9,81.3 99.2,81.4 96.5,81.5 93.7,81.5 91.0,81.6 88.2,81.8 85.5,81.9 82.8,82.1 80.0,82.3 77.3,82.5 74.6,82.7 71.8,83.0 69.1,83.4 66.4,83.8 63.6,84.3 60.9,84.9 58.2,85.4 55.4,86.0 52.7,86.6 49.9,87.3 47.2,87.9 44.5,88.6 41.7,89.2 39.0,89.9" fill="#7ea7c9" fill-opacity="0.34"/>
<line x1="39" y1="55.6" x2="145.7" y2="59.7" stroke="#2c672c" stroke-width="1.7"/>
<line x1="39" y1="82.9" x2="145.7" y2="72.8" stroke="#1c5f9c" stroke-width="1.7"/>
</g>
<rect x="33.5" y="0.5" width="118.0" height="142.3" fill="none" stroke="#575757" stroke-width="1"/>
<line x1="33.5" y1="17.5" x2="36.0" y2="17.5" stroke="#000" stroke-width="1"/>
<text x="32.5" y="19.9" text-anchor="end" class="tk">2</text>
<line x1="33.5" y1="39.5" x2="36.0" y2="39.5" stroke="#000" stroke-width="1"/>
<text x="32.5" y="41.9" text-anchor="end" class="tk">1</text>
<line x1="33.5" y1="61.5" x2="36.0" y2="61.5" stroke="#000" stroke-width="1"/>
<text x="32.5" y="63.9" text-anchor="end" class="tk">0</text>
<line x1="33.5" y1="83.5" x2="36.0" y2="83.5" stroke="#000" stroke-width="1"/>
<text x="32.5" y="85.8" text-anchor="end" class="tk">−1</text>
<line x1="33.5" y1="105.5" x2="36.0" y2="105.5" stroke="#000" stroke-width="1"/>
<text x="32.5" y="107.8" text-anchor="end" class="tk">−2</text>
<line x1="33.5" y1="127.5" x2="36.0" y2="127.5" stroke="#000" stroke-width="1"/>
<text x="32.5" y="129.8" text-anchor="end" class="tk">−3</text>
<line x1="54.5" y1="142.8" x2="54.5" y2="140.3" stroke="#000" stroke-width="1"/>
<text x="54.4" y="149.2" text-anchor="middle" class="tk">−2</text>
<line x1="85.5" y1="142.8" x2="85.5" y2="140.3" stroke="#000" stroke-width="1"/>
<text x="85.0" y="149.2" text-anchor="middle" class="tk">0</text>
<line x1="115.5" y1="142.8" x2="115.5" y2="140.3" stroke="#000" stroke-width="1"/>
<text x="115.6" y="149.2" text-anchor="middle" class="tk">2</text>
<line x1="146.5" y1="142.8" x2="146.5" y2="140.3" stroke="#000" stroke-width="1"/>
<text x="146.2" y="149.2" text-anchor="middle" class="tk">4</text>
<text x="38.9" y="11.2" class="tt" textLength="107.2">HYD × FD<tspan dy="1.3" font-size="4.6">B</tspan><tspan dy="0.2" font-size="5.2" fill="#888" stroke="none">_</tspan><tspan dy="-1.5">RE: </tspan><tspan font-style="italic">F</tspan> = 2.33, <tspan font-style="italic">P</tspan> = 0.127</text>
<clipPath id="clipb"><rect x="165.8" y="0.5" width="118.7" height="142.3"/></clipPath>
<g clip-path="url(#clipb)">
<g fill="#3d6d3c" fill-opacity="0.26"><circle cx="243.3" cy="55.3" r="1.9"/><circle cx="236.5" cy="43.3" r="1.9"/><circle cx="209.3" cy="44.5" r="1.9"/><circle cx="233.0" cy="60.2" r="1.9"/><circle cx="189.3" cy="58.2" r="1.9"/><circle cx="248.0" cy="60.3" r="1.9"/><circle cx="224.6" cy="69.8" r="1.9"/><circle cx="232.0" cy="56.1" r="1.9"/><circle cx="253.4" cy="48.8" r="1.9"/><circle cx="215.4" cy="72.2" r="1.9"/><circle cx="248.5" cy="41.4" r="1.9"/><circle cx="215.0" cy="56.4" r="1.9"/><circle cx="238.6" cy="49.4" r="1.9"/><circle cx="215.8" cy="56.8" r="1.9"/><circle cx="232.9" cy="95.1" r="1.9"/><circle cx="260.4" cy="51.4" r="1.9"/><circle cx="210.0" cy="63.6" r="1.9"/><circle cx="211.0" cy="57.4" r="1.9"/><circle cx="217.8" cy="56.9" r="1.9"/><circle cx="232.9" cy="49.4" r="1.9"/><circle cx="249.9" cy="63.4" r="1.9"/><circle cx="211.9" cy="69.2" r="1.9"/><circle cx="177.1" cy="52.0" r="1.9"/><circle cx="210.1" cy="61.6" r="1.9"/><circle cx="187.8" cy="72.9" r="1.9"/><circle cx="212.4" cy="62.9" r="1.9"/><circle cx="226.2" cy="73.9" r="1.9"/><circle cx="202.8" cy="66.3" r="1.9"/><circle cx="209.5" cy="88.6" r="1.9"/><circle cx="181.1" cy="55.2" r="1.9"/><circle cx="230.2" cy="47.5" r="1.9"/><circle cx="207.9" cy="57.7" r="1.9"/><circle cx="251.9" cy="62.3" r="1.9"/><circle cx="251.0" cy="52.1" r="1.9"/><circle cx="205.1" cy="49.1" r="1.9"/><circle cx="217.0" cy="58.3" r="1.9"/><circle cx="227.2" cy="50.6" r="1.9"/><circle cx="244.1" cy="71.7" r="1.9"/><circle cx="185.9" cy="57.4" r="1.9"/><circle cx="224.2" cy="62.9" r="1.9"/><circle cx="270.6" cy="52.4" r="1.9"/><circle cx="223.9" cy="53.3" r="1.9"/><circle cx="231.3" cy="45.6" r="1.9"/><circle cx="226.0" cy="67.1" r="1.9"/><circle cx="197.5" cy="61.5" r="1.9"/><circle cx="248.8" cy="63.5" r="1.9"/><circle cx="232.5" cy="71.2" r="1.9"/><circle cx="230.0" cy="54.4" r="1.9"/><circle cx="243.5" cy="50.8" r="1.9"/><circle cx="245.0" cy="62.2" r="1.9"/><circle cx="180.8" cy="43.1" r="1.9"/><circle cx="237.7" cy="48.1" r="1.9"/><circle cx="212.2" cy="49.9" r="1.9"/><circle cx="230.0" cy="51.9" r="1.9"/><circle cx="209.1" cy="46.9" r="1.9"/><circle cx="205.5" cy="56.7" r="1.9"/><circle cx="249.0" cy="50.0" r="1.9"/><circle cx="226.0" cy="72.7" r="1.9"/><circle cx="219.5" cy="71.5" r="1.9"/><circle cx="219.4" cy="52.4" r="1.9"/><circle cx="228.2" cy="57.8" r="1.9"/><circle cx="225.9" cy="48.5" r="1.9"/><circle cx="184.2" cy="81.6" r="1.9"/><circle cx="205.5" cy="55.7" r="1.9"/><circle cx="220.8" cy="52.5" r="1.9"/><circle cx="244.3" cy="63.5" r="1.9"/><circle cx="259.1" cy="50.2" r="1.9"/><circle cx="204.2" cy="78.3" r="1.9"/><circle cx="268.5" cy="56.7" r="1.9"/><circle cx="228.9" cy="60.3" r="1.9"/><circle cx="238.4" cy="45.8" r="1.9"/><circle cx="213.9" cy="50.1" r="1.9"/><circle cx="212.3" cy="57.2" r="1.9"/><circle cx="261.1" cy="49.9" r="1.9"/><circle cx="221.6" cy="44.2" r="1.9"/><circle cx="224.4" cy="39.4" r="1.9"/><circle cx="254.6" cy="69.8" r="1.9"/><circle cx="268.1" cy="100.8" r="1.9"/><circle cx="191.1" cy="51.4" r="1.9"/><circle cx="222.5" cy="56.4" r="1.9"/><circle cx="226.8" cy="64.6" r="1.9"/><circle cx="270.5" cy="44.2" r="1.9"/><circle cx="255.4" cy="66.9" r="1.9"/><circle cx="225.9" cy="50.4" r="1.9"/><circle cx="236.1" cy="87.7" r="1.9"/><circle cx="247.9" cy="70.0" r="1.9"/><circle cx="254.8" cy="58.3" r="1.9"/><circle cx="219.6" cy="67.4" r="1.9"/><circle cx="247.8" cy="53.4" r="1.9"/><circle cx="210.6" cy="81.2" r="1.9"/><circle cx="190.6" cy="37.3" r="1.9"/><circle cx="194.4" cy="71.6" r="1.9"/><circle cx="232.6" cy="60.7" r="1.9"/><circle cx="246.2" cy="49.2" r="1.9"/><circle cx="180.5" cy="41.3" r="1.9"/><circle cx="184.4" cy="51.8" r="1.9"/><circle cx="226.9" cy="62.3" r="1.9"/><circle cx="207.1" cy="52.9" r="1.9"/><circle cx="241.1" cy="55.7" r="1.9"/><circle cx="252.5" cy="57.4" r="1.9"/><circle cx="197.5" cy="62.2" r="1.9"/><circle cx="246.2" cy="52.1" r="1.9"/><circle cx="223.3" cy="52.8" r="1.9"/><circle cx="261.9" cy="56.4" r="1.9"/><circle cx="234.7" cy="57.6" r="1.9"/><circle cx="222.3" cy="81.3" r="1.9"/><circle cx="231.0" cy="59.9" r="1.9"/><circle cx="250.6" cy="105.8" r="1.9"/><circle cx="232.7" cy="57.3" r="1.9"/><circle cx="229.2" cy="58.8" r="1.9"/><circle cx="193.7" cy="43.5" r="1.9"/><circle cx="239.8" cy="50.8" r="1.9"/><circle cx="229.1" cy="36.5" r="1.9"/><circle cx="269.1" cy="55.0" r="1.9"/><circle cx="228.1" cy="59.7" r="1.9"/><circle cx="226.3" cy="68.6" r="1.9"/><circle cx="213.5" cy="43.6" r="1.9"/><circle cx="245.8" cy="32.4" r="1.9"/><circle cx="223.6" cy="63.0" r="1.9"/><circle cx="211.6" cy="61.4" r="1.9"/><circle cx="266.9" cy="50.2" r="1.9"/><circle cx="270.3" cy="63.0" r="1.9"/><circle cx="217.7" cy="58.0" r="1.9"/><circle cx="204.1" cy="79.6" r="1.9"/><circle cx="255.6" cy="85.2" r="1.9"/><circle cx="208.6" cy="45.7" r="1.9"/><circle cx="245.2" cy="66.4" r="1.9"/><circle cx="225.4" cy="47.3" r="1.9"/><circle cx="251.7" cy="59.3" r="1.9"/><circle cx="197.6" cy="52.6" r="1.9"/><circle cx="227.9" cy="74.8" r="1.9"/><circle cx="254.9" cy="68.6" r="1.9"/><circle cx="239.3" cy="48.4" r="1.9"/><circle cx="215.9" cy="60.9" r="1.9"/><circle cx="253.9" cy="50.3" r="1.9"/><circle cx="246.5" cy="50.7" r="1.9"/><circle cx="223.3" cy="43.6" r="1.9"/><circle cx="214.3" cy="82.2" r="1.9"/><circle cx="222.3" cy="46.4" r="1.9"/><circle cx="261.2" cy="56.6" r="1.9"/><circle cx="210.3" cy="61.9" r="1.9"/><circle cx="229.6" cy="62.2" r="1.9"/><circle cx="209.1" cy="60.0" r="1.9"/><circle cx="258.9" cy="65.8" r="1.9"/><circle cx="224.9" cy="60.5" r="1.9"/><circle cx="249.5" cy="56.4" r="1.9"/><circle cx="242.4" cy="53.3" r="1.9"/><circle cx="214.9" cy="58.6" r="1.9"/><circle cx="245.6" cy="72.9" r="1.9"/><circle cx="251.4" cy="56.2" r="1.9"/><circle cx="201.3" cy="53.5" r="1.9"/><circle cx="245.7" cy="69.4" r="1.9"/><circle cx="227.2" cy="50.3" r="1.9"/><circle cx="221.7" cy="61.4" r="1.9"/><circle cx="244.2" cy="62.1" r="1.9"/><circle cx="196.8" cy="37.4" r="1.9"/><circle cx="239.9" cy="48.7" r="1.9"/><circle cx="214.7" cy="69.0" r="1.9"/><circle cx="247.3" cy="36.4" r="1.9"/><circle cx="227.6" cy="62.9" r="1.9"/><circle cx="200.6" cy="52.1" r="1.9"/><circle cx="255.3" cy="79.5" r="1.9"/><circle cx="223.7" cy="50.5" r="1.9"/><circle cx="204.5" cy="50.7" r="1.9"/><circle cx="230.5" cy="53.7" r="1.9"/><circle cx="205.6" cy="54.0" r="1.9"/><circle cx="238.4" cy="69.1" r="1.9"/><circle cx="227.3" cy="57.1" r="1.9"/><circle cx="220.0" cy="62.3" r="1.9"/><circle cx="244.9" cy="65.7" r="1.9"/><circle cx="198.1" cy="59.8" r="1.9"/><circle cx="252.3" cy="64.9" r="1.9"/><circle cx="180.6" cy="99.0" r="1.9"/><circle cx="267.6" cy="52.8" r="1.9"/><circle cx="233.3" cy="52.7" r="1.9"/><circle cx="222.5" cy="54.7" r="1.9"/><circle cx="211.2" cy="59.6" r="1.9"/><circle cx="242.1" cy="57.0" r="1.9"/><circle cx="225.0" cy="60.0" r="1.9"/><circle cx="224.6" cy="52.1" r="1.9"/><circle cx="253.7" cy="55.4" r="1.9"/><circle cx="218.4" cy="50.3" r="1.9"/><circle cx="223.2" cy="67.5" r="1.9"/><circle cx="239.2" cy="47.6" r="1.9"/><circle cx="254.7" cy="62.4" r="1.9"/><circle cx="225.3" cy="71.2" r="1.9"/><circle cx="232.7" cy="96.8" r="1.9"/><circle cx="230.0" cy="60.6" r="1.9"/><circle cx="246.8" cy="52.9" r="1.9"/><circle cx="264.8" cy="60.7" r="1.9"/><circle cx="206.3" cy="65.2" r="1.9"/><circle cx="225.7" cy="94.3" r="1.9"/><circle cx="227.7" cy="43.7" r="1.9"/><circle cx="243.1" cy="55.2" r="1.9"/><circle cx="265.1" cy="66.1" r="1.9"/><circle cx="228.5" cy="55.5" r="1.9"/><circle cx="234.0" cy="64.9" r="1.9"/><circle cx="256.2" cy="39.4" r="1.9"/><circle cx="198.8" cy="69.3" r="1.9"/><circle cx="210.3" cy="66.2" r="1.9"/><circle cx="218.0" cy="50.7" r="1.9"/><circle cx="228.7" cy="68.6" r="1.9"/><circle cx="234.4" cy="52.9" r="1.9"/><circle cx="216.3" cy="46.6" r="1.9"/><circle cx="270.3" cy="51.3" r="1.9"/><circle cx="211.8" cy="53.2" r="1.9"/><circle cx="223.9" cy="47.0" r="1.9"/><circle cx="255.1" cy="54.1" r="1.9"/><circle cx="247.5" cy="52.5" r="1.9"/><circle cx="228.4" cy="56.7" r="1.9"/><circle cx="237.9" cy="49.9" r="1.9"/><circle cx="248.6" cy="64.1" r="1.9"/><circle cx="228.4" cy="48.4" r="1.9"/><circle cx="244.4" cy="60.1" r="1.9"/><circle cx="206.5" cy="65.4" r="1.9"/><circle cx="230.4" cy="52.3" r="1.9"/><circle cx="189.0" cy="40.3" r="1.9"/><circle cx="207.1" cy="46.9" r="1.9"/><circle cx="201.0" cy="60.2" r="1.9"/><circle cx="258.8" cy="49.3" r="1.9"/><circle cx="217.4" cy="59.7" r="1.9"/><circle cx="235.8" cy="56.7" r="1.9"/><circle cx="206.1" cy="54.8" r="1.9"/><circle cx="223.6" cy="76.5" r="1.9"/><circle cx="221.7" cy="53.8" r="1.9"/><circle cx="207.7" cy="64.8" r="1.9"/><circle cx="249.2" cy="61.9" r="1.9"/><circle cx="188.1" cy="68.9" r="1.9"/><circle cx="243.5" cy="69.2" r="1.9"/><circle cx="248.7" cy="64.1" r="1.9"/><circle cx="208.4" cy="88.1" r="1.9"/><circle cx="229.0" cy="89.5" r="1.9"/><circle cx="190.4" cy="55.8" r="1.9"/><circle cx="227.5" cy="45.7" r="1.9"/><circle cx="186.0" cy="57.9" r="1.9"/><circle cx="243.2" cy="72.8" r="1.9"/><circle cx="216.0" cy="54.2" r="1.9"/><circle cx="183.0" cy="51.5" r="1.9"/><circle cx="196.4" cy="59.4" r="1.9"/><circle cx="189.2" cy="52.8" r="1.9"/><circle cx="220.7" cy="50.4" r="1.9"/><circle cx="248.2" cy="63.3" r="1.9"/><circle cx="217.8" cy="68.9" r="1.9"/><circle cx="198.8" cy="57.6" r="1.9"/><circle cx="207.0" cy="57.5" r="1.9"/><circle cx="230.0" cy="58.7" r="1.9"/><circle cx="186.0" cy="46.7" r="1.9"/><circle cx="241.3" cy="40.0" r="1.9"/><circle cx="236.8" cy="59.3" r="1.9"/><circle cx="186.8" cy="49.3" r="1.9"/><circle cx="255.5" cy="47.1" r="1.9"/><circle cx="186.9" cy="49.1" r="1.9"/><circle cx="221.4" cy="46.1" r="1.9"/><circle cx="255.2" cy="59.1" r="1.9"/><circle cx="186.7" cy="48.9" r="1.9"/><circle cx="181.5" cy="37.3" r="1.9"/><circle cx="199.1" cy="48.3" r="1.9"/><circle cx="199.9" cy="70.2" r="1.9"/><circle cx="222.9" cy="50.1" r="1.9"/><circle cx="213.4" cy="44.2" r="1.9"/><circle cx="214.1" cy="52.2" r="1.9"/><circle cx="214.4" cy="60.6" r="1.9"/><circle cx="221.7" cy="41.6" r="1.9"/><circle cx="205.3" cy="66.8" r="1.9"/><circle cx="234.1" cy="51.0" r="1.9"/><circle cx="226.0" cy="55.7" r="1.9"/><circle cx="201.3" cy="66.3" r="1.9"/><circle cx="270.5" cy="44.6" r="1.9"/><circle cx="195.1" cy="52.4" r="1.9"/><circle cx="244.0" cy="66.1" r="1.9"/><circle cx="208.0" cy="50.1" r="1.9"/><circle cx="234.9" cy="59.5" r="1.9"/><circle cx="238.9" cy="72.7" r="1.9"/><circle cx="247.2" cy="61.8" r="1.9"/><circle cx="260.9" cy="53.2" r="1.9"/><circle cx="205.8" cy="49.8" r="1.9"/><circle cx="245.4" cy="54.1" r="1.9"/><circle cx="236.3" cy="55.2" r="1.9"/><circle cx="206.7" cy="51.3" r="1.9"/><circle cx="193.4" cy="57.5" r="1.9"/><circle cx="257.7" cy="81.6" r="1.9"/><circle cx="266.7" cy="54.2" r="1.9"/><circle cx="226.3" cy="52.9" r="1.9"/><circle cx="245.3" cy="50.7" r="1.9"/><circle cx="258.9" cy="65.1" r="1.9"/><circle cx="229.2" cy="62.0" r="1.9"/><circle cx="216.5" cy="88.2" r="1.9"/><circle cx="226.0" cy="52.5" r="1.9"/><circle cx="247.4" cy="58.1" r="1.9"/><circle cx="227.5" cy="52.5" r="1.9"/><circle cx="197.0" cy="59.9" r="1.9"/><circle cx="245.4" cy="53.0" r="1.9"/><circle cx="184.9" cy="93.7" r="1.9"/><circle cx="208.7" cy="53.1" r="1.9"/><circle cx="257.2" cy="69.8" r="1.9"/><circle cx="232.8" cy="43.6" r="1.9"/><circle cx="232.7" cy="73.6" r="1.9"/><circle cx="229.6" cy="69.8" r="1.9"/><circle cx="252.2" cy="49.5" r="1.9"/><circle cx="225.7" cy="58.9" r="1.9"/><circle cx="179.4" cy="75.6" r="1.9"/><circle cx="233.0" cy="65.9" r="1.9"/><circle cx="201.8" cy="52.0" r="1.9"/><circle cx="177.0" cy="39.4" r="1.9"/><circle cx="265.6" cy="67.1" r="1.9"/><circle cx="252.3" cy="52.5" r="1.9"/><circle cx="215.6" cy="89.0" r="1.9"/><circle cx="225.1" cy="53.8" r="1.9"/><circle cx="229.0" cy="71.9" r="1.9"/><circle cx="251.4" cy="82.8" r="1.9"/><circle cx="208.0" cy="51.4" r="1.9"/><circle cx="205.4" cy="55.9" r="1.9"/><circle cx="211.5" cy="40.8" r="1.9"/><circle cx="230.2" cy="61.9" r="1.9"/><circle cx="233.3" cy="54.0" r="1.9"/><circle cx="217.2" cy="88.9" r="1.9"/><circle cx="245.4" cy="85.2" r="1.9"/><circle cx="201.9" cy="63.7" r="1.9"/><circle cx="225.0" cy="79.1" r="1.9"/><circle cx="210.0" cy="56.0" r="1.9"/><circle cx="202.3" cy="47.9" r="1.9"/><circle cx="256.8" cy="54.4" r="1.9"/><circle cx="219.1" cy="62.4" r="1.9"/><circle cx="202.3" cy="53.7" r="1.9"/><circle cx="227.8" cy="31.8" r="1.9"/><circle cx="202.4" cy="44.1" r="1.9"/><circle cx="241.4" cy="95.7" r="1.9"/><circle cx="247.6" cy="56.8" r="1.9"/><circle cx="251.9" cy="63.5" r="1.9"/><circle cx="201.0" cy="49.9" r="1.9"/><circle cx="223.3" cy="57.1" r="1.9"/><circle cx="269.6" cy="38.1" r="1.9"/><circle cx="221.6" cy="47.2" r="1.9"/><circle cx="257.8" cy="63.4" r="1.9"/><circle cx="264.1" cy="85.9" r="1.9"/><circle cx="193.2" cy="86.1" r="1.9"/><circle cx="256.5" cy="64.8" r="1.9"/><circle cx="245.3" cy="43.9" r="1.9"/><circle cx="248.3" cy="75.3" r="1.9"/><circle cx="268.2" cy="58.7" r="1.9"/><circle cx="238.2" cy="44.1" r="1.9"/><circle cx="228.9" cy="53.8" r="1.9"/><circle cx="241.9" cy="56.3" r="1.9"/><circle cx="218.5" cy="62.7" r="1.9"/><circle cx="239.1" cy="60.7" r="1.9"/><circle cx="177.8" cy="61.3" r="1.9"/><circle cx="269.2" cy="80.7" r="1.9"/><circle cx="214.0" cy="46.4" r="1.9"/><circle cx="240.1" cy="50.5" r="1.9"/><circle cx="234.6" cy="57.5" r="1.9"/><circle cx="229.5" cy="46.1" r="1.9"/><circle cx="229.7" cy="51.6" r="1.9"/><circle cx="228.5" cy="74.7" r="1.9"/><circle cx="186.9" cy="77.9" r="1.9"/><circle cx="213.6" cy="57.7" r="1.9"/><circle cx="256.1" cy="50.8" r="1.9"/><circle cx="202.0" cy="41.0" r="1.9"/><circle cx="201.2" cy="39.0" r="1.9"/><circle cx="262.9" cy="42.7" r="1.9"/><circle cx="256.4" cy="81.1" r="1.9"/><circle cx="265.0" cy="75.4" r="1.9"/><circle cx="226.6" cy="50.4" r="1.9"/><circle cx="233.4" cy="55.3" r="1.9"/><circle cx="245.5" cy="99.1" r="1.9"/><circle cx="240.6" cy="56.7" r="1.9"/><circle cx="224.7" cy="53.6" r="1.9"/><circle cx="191.2" cy="69.1" r="1.9"/><circle cx="208.9" cy="51.5" r="1.9"/><circle cx="190.0" cy="59.6" r="1.9"/><circle cx="265.1" cy="46.7" r="1.9"/><circle cx="216.9" cy="51.4" r="1.9"/><circle cx="222.2" cy="56.6" r="1.9"/><circle cx="233.5" cy="52.7" r="1.9"/><circle cx="227.0" cy="55.7" r="1.9"/><circle cx="239.4" cy="48.7" r="1.9"/><circle cx="211.3" cy="101.0" r="1.9"/><circle cx="189.4" cy="60.5" r="1.9"/><circle cx="269.1" cy="60.9" r="1.9"/><circle cx="209.1" cy="83.8" r="1.9"/><circle cx="214.8" cy="67.2" r="1.9"/><circle cx="207.0" cy="46.6" r="1.9"/><circle cx="213.0" cy="52.0" r="1.9"/><circle cx="226.8" cy="60.6" r="1.9"/><circle cx="244.4" cy="62.3" r="1.9"/><circle cx="200.6" cy="54.5" r="1.9"/><circle cx="233.2" cy="53.2" r="1.9"/><circle cx="209.8" cy="50.0" r="1.9"/><circle cx="255.3" cy="67.0" r="1.9"/><circle cx="196.2" cy="60.9" r="1.9"/><circle cx="228.5" cy="56.4" r="1.9"/><circle cx="243.4" cy="41.1" r="1.9"/><circle cx="193.0" cy="76.8" r="1.9"/><circle cx="228.7" cy="51.6" r="1.9"/><circle cx="229.5" cy="60.4" r="1.9"/><circle cx="206.6" cy="51.7" r="1.9"/><circle cx="220.7" cy="60.0" r="1.9"/><circle cx="249.9" cy="52.3" r="1.9"/><circle cx="231.8" cy="41.4" r="1.9"/><circle cx="215.8" cy="105.3" r="1.9"/><circle cx="220.8" cy="66.5" r="1.9"/><circle cx="236.6" cy="52.2" r="1.9"/><circle cx="256.5" cy="62.3" r="1.9"/><circle cx="245.0" cy="50.7" r="1.9"/><circle cx="243.4" cy="57.4" r="1.9"/><circle cx="263.6" cy="62.9" r="1.9"/><circle cx="188.4" cy="55.9" r="1.9"/><circle cx="191.0" cy="57.6" r="1.9"/><circle cx="183.2" cy="48.8" r="1.9"/><circle cx="245.8" cy="55.9" r="1.9"/><circle cx="183.6" cy="62.4" r="1.9"/><circle cx="224.5" cy="42.4" r="1.9"/><circle cx="243.8" cy="46.6" r="1.9"/><circle cx="191.9" cy="44.1" r="1.9"/><circle cx="209.6" cy="68.0" r="1.9"/><circle cx="219.2" cy="56.5" r="1.9"/><circle cx="243.1" cy="59.3" r="1.9"/><circle cx="188.9" cy="112.4" r="1.9"/><circle cx="233.1" cy="47.0" r="1.9"/><circle cx="242.2" cy="54.6" r="1.9"/><circle cx="228.8" cy="68.9" r="1.9"/><circle cx="229.2" cy="55.9" r="1.9"/><circle cx="255.4" cy="68.3" r="1.9"/><circle cx="230.7" cy="54.1" r="1.9"/><circle cx="224.8" cy="66.4" r="1.9"/><circle cx="217.3" cy="67.0" r="1.9"/><circle cx="241.0" cy="54.5" r="1.9"/><circle cx="218.4" cy="56.3" r="1.9"/><circle cx="241.0" cy="70.5" r="1.9"/><circle cx="227.7" cy="48.8" r="1.9"/><circle cx="252.4" cy="36.0" r="1.9"/><circle cx="206.3" cy="68.9" r="1.9"/><circle cx="227.1" cy="39.1" r="1.9"/><circle cx="233.7" cy="88.1" r="1.9"/><circle cx="235.2" cy="60.0" r="1.9"/><circle cx="252.4" cy="57.2" r="1.9"/><circle cx="234.7" cy="68.6" r="1.9"/><circle cx="247.0" cy="43.8" r="1.9"/><circle cx="269.1" cy="51.1" r="1.9"/><circle cx="245.5" cy="62.3" r="1.9"/><circle cx="199.9" cy="58.1" r="1.9"/><circle cx="191.1" cy="86.2" r="1.9"/><circle cx="241.3" cy="58.7" r="1.9"/><circle cx="216.2" cy="75.2" r="1.9"/><circle cx="232.2" cy="62.5" r="1.9"/><circle cx="221.1" cy="59.5" r="1.9"/><circle cx="256.6" cy="54.2" r="1.9"/><circle cx="254.0" cy="46.1" r="1.9"/><circle cx="198.2" cy="80.7" r="1.9"/><circle cx="231.8" cy="59.7" r="1.9"/><circle cx="218.0" cy="62.2" r="1.9"/><circle cx="193.9" cy="51.5" r="1.9"/><circle cx="240.7" cy="58.8" r="1.9"/><circle cx="221.8" cy="58.4" r="1.9"/><circle cx="235.8" cy="45.8" r="1.9"/><circle cx="257.0" cy="75.4" r="1.9"/><circle cx="257.0" cy="69.7" r="1.9"/><circle cx="251.6" cy="57.3" r="1.9"/><circle cx="215.5" cy="68.4" r="1.9"/><circle cx="196.9" cy="72.6" r="1.9"/><circle cx="255.1" cy="55.7" r="1.9"/><circle cx="218.0" cy="65.1" r="1.9"/><circle cx="226.3" cy="34.0" r="1.9"/><circle cx="216.2" cy="49.1" r="1.9"/><circle cx="227.6" cy="54.3" r="1.9"/><circle cx="258.7" cy="57.3" r="1.9"/><circle cx="217.7" cy="90.4" r="1.9"/><circle cx="218.4" cy="49.1" r="1.9"/><circle cx="230.0" cy="40.9" r="1.9"/><circle cx="232.0" cy="62.1" r="1.9"/><circle cx="196.5" cy="64.0" r="1.9"/><circle cx="182.7" cy="49.0" r="1.9"/><circle cx="211.2" cy="69.5" r="1.9"/><circle cx="220.0" cy="47.1" r="1.9"/><circle cx="206.2" cy="43.3" r="1.9"/><circle cx="201.1" cy="53.5" r="1.9"/><circle cx="202.5" cy="56.1" r="1.9"/><circle cx="215.5" cy="48.5" r="1.9"/><circle cx="222.0" cy="69.5" r="1.9"/><circle cx="185.8" cy="54.7" r="1.9"/><circle cx="211.6" cy="46.0" r="1.9"/><circle cx="233.2" cy="66.8" r="1.9"/><circle cx="221.7" cy="46.6" r="1.9"/><circle cx="192.2" cy="59.3" r="1.9"/><circle cx="216.1" cy="74.3" r="1.9"/><circle cx="224.1" cy="56.5" r="1.9"/><circle cx="242.9" cy="81.6" r="1.9"/><circle cx="185.7" cy="65.4" r="1.9"/><circle cx="240.9" cy="66.1" r="1.9"/><circle cx="213.5" cy="46.1" r="1.9"/><circle cx="229.4" cy="62.2" r="1.9"/><circle cx="240.8" cy="52.3" r="1.9"/><circle cx="203.7" cy="60.9" r="1.9"/><circle cx="205.2" cy="58.5" r="1.9"/><circle cx="221.7" cy="44.8" r="1.9"/><circle cx="241.7" cy="53.6" r="1.9"/><circle cx="211.4" cy="72.5" r="1.9"/><circle cx="190.7" cy="66.8" r="1.9"/><circle cx="207.8" cy="45.1" r="1.9"/><circle cx="233.5" cy="49.0" r="1.9"/><circle cx="252.0" cy="58.5" r="1.9"/><circle cx="212.2" cy="53.4" r="1.9"/><circle cx="216.5" cy="96.5" r="1.9"/><circle cx="220.0" cy="64.7" r="1.9"/><circle cx="221.0" cy="63.0" r="1.9"/><circle cx="201.6" cy="52.4" r="1.9"/><circle cx="213.7" cy="52.9" r="1.9"/><circle cx="229.3" cy="62.3" r="1.9"/><circle cx="226.6" cy="48.9" r="1.9"/><circle cx="224.7" cy="48.5" r="1.9"/><circle cx="200.2" cy="68.5" r="1.9"/><circle cx="211.0" cy="46.2" r="1.9"/><circle cx="207.1" cy="58.2" r="1.9"/><circle cx="249.1" cy="56.6" r="1.9"/><circle cx="258.7" cy="51.3" r="1.9"/><circle cx="232.2" cy="55.9" r="1.9"/><circle cx="262.0" cy="48.4" r="1.9"/><circle cx="217.2" cy="79.1" r="1.9"/><circle cx="217.3" cy="42.7" r="1.9"/><circle cx="193.3" cy="62.6" r="1.9"/><circle cx="229.6" cy="57.0" r="1.9"/><circle cx="213.4" cy="68.0" r="1.9"/><circle cx="226.4" cy="50.1" r="1.9"/><circle cx="235.8" cy="44.1" r="1.9"/><circle cx="218.5" cy="45.9" r="1.9"/><circle cx="197.6" cy="48.0" r="1.9"/><circle cx="223.2" cy="91.9" r="1.9"/><circle cx="222.5" cy="62.6" r="1.9"/><circle cx="224.9" cy="59.7" r="1.9"/><circle cx="240.3" cy="82.3" r="1.9"/><circle cx="219.2" cy="45.4" r="1.9"/><circle cx="218.0" cy="53.9" r="1.9"/><circle cx="265.4" cy="55.8" r="1.9"/><circle cx="249.8" cy="51.2" r="1.9"/><circle cx="222.2" cy="64.1" r="1.9"/><circle cx="202.3" cy="68.2" r="1.9"/><circle cx="213.9" cy="63.5" r="1.9"/><circle cx="233.5" cy="51.1" r="1.9"/><circle cx="244.4" cy="52.5" r="1.9"/><circle cx="260.0" cy="50.3" r="1.9"/><circle cx="218.8" cy="45.8" r="1.9"/><circle cx="228.2" cy="67.8" r="1.9"/><circle cx="216.3" cy="85.0" r="1.9"/><circle cx="226.6" cy="54.2" r="1.9"/><circle cx="215.7" cy="67.7" r="1.9"/><circle cx="199.5" cy="60.4" r="1.9"/><circle cx="249.0" cy="86.5" r="1.9"/><circle cx="227.9" cy="81.7" r="1.9"/><circle cx="255.3" cy="45.8" r="1.9"/><circle cx="213.0" cy="55.2" r="1.9"/><circle cx="231.2" cy="57.5" r="1.9"/><circle cx="240.5" cy="45.8" r="1.9"/><circle cx="180.7" cy="98.0" r="1.9"/><circle cx="193.9" cy="68.5" r="1.9"/><circle cx="242.8" cy="68.8" r="1.9"/><circle cx="227.5" cy="58.9" r="1.9"/><circle cx="181.8" cy="61.1" r="1.9"/><circle cx="207.7" cy="55.6" r="1.9"/><circle cx="200.4" cy="79.7" r="1.9"/><circle cx="213.8" cy="94.9" r="1.9"/><circle cx="261.7" cy="99.3" r="1.9"/><circle cx="211.7" cy="67.5" r="1.9"/><circle cx="268.3" cy="70.0" r="1.9"/><circle cx="219.4" cy="63.3" r="1.9"/><circle cx="208.1" cy="54.1" r="1.9"/><circle cx="262.4" cy="63.9" r="1.9"/><circle cx="247.8" cy="67.7" r="1.9"/><circle cx="258.0" cy="66.5" r="1.9"/><circle cx="270.1" cy="78.5" r="1.9"/><circle cx="250.6" cy="57.2" r="1.9"/><circle cx="254.4" cy="64.8" r="1.9"/><circle cx="185.1" cy="73.9" r="1.9"/><circle cx="206.2" cy="40.3" r="1.9"/><circle cx="236.2" cy="56.9" r="1.9"/><circle cx="230.6" cy="44.1" r="1.9"/><circle cx="242.8" cy="53.0" r="1.9"/><circle cx="214.6" cy="65.7" r="1.9"/><circle cx="252.1" cy="57.9" r="1.9"/><circle cx="267.9" cy="81.1" r="1.9"/><circle cx="239.8" cy="48.6" r="1.9"/><circle cx="245.8" cy="87.9" r="1.9"/><circle cx="238.1" cy="43.6" r="1.9"/><circle cx="248.1" cy="50.3" r="1.9"/><circle cx="231.3" cy="73.8" r="1.9"/><circle cx="214.3" cy="48.5" r="1.9"/><circle cx="230.9" cy="41.6" r="1.9"/><circle cx="228.8" cy="62.7" r="1.9"/><circle cx="190.2" cy="46.7" r="1.9"/><circle cx="231.8" cy="71.8" r="1.9"/><circle cx="226.9" cy="89.3" r="1.9"/><circle cx="231.2" cy="83.4" r="1.9"/><circle cx="213.4" cy="51.2" r="1.9"/><circle cx="237.7" cy="71.7" r="1.9"/><circle cx="241.0" cy="79.3" r="1.9"/><circle cx="209.6" cy="52.0" r="1.9"/><circle cx="233.9" cy="34.9" r="1.9"/><circle cx="244.7" cy="60.9" r="1.9"/><circle cx="243.8" cy="48.1" r="1.9"/><circle cx="204.5" cy="54.6" r="1.9"/><circle cx="202.0" cy="57.6" r="1.9"/><circle cx="226.7" cy="50.0" r="1.9"/><circle cx="201.3" cy="40.7" r="1.9"/><circle cx="256.5" cy="66.7" r="1.9"/><circle cx="206.7" cy="95.4" r="1.9"/><circle cx="207.0" cy="52.4" r="1.9"/><circle cx="240.9" cy="68.4" r="1.9"/><circle cx="214.5" cy="41.0" r="1.9"/><circle cx="183.8" cy="38.0" r="1.9"/><circle cx="222.0" cy="64.2" r="1.9"/><circle cx="202.0" cy="39.9" r="1.9"/><circle cx="212.8" cy="55.1" r="1.9"/><circle cx="187.0" cy="57.0" r="1.9"/><circle cx="203.7" cy="76.4" r="1.9"/><circle cx="221.0" cy="53.5" r="1.9"/><circle cx="222.9" cy="52.6" r="1.9"/><circle cx="198.4" cy="41.9" r="1.9"/><circle cx="207.6" cy="43.9" r="1.9"/><circle cx="204.3" cy="47.5" r="1.9"/><circle cx="227.6" cy="68.2" r="1.9"/><circle cx="220.7" cy="69.7" r="1.9"/><circle cx="194.7" cy="79.1" r="1.9"/><circle cx="239.3" cy="63.9" r="1.9"/><circle cx="207.6" cy="54.2" r="1.9"/><circle cx="233.2" cy="65.2" r="1.9"/><circle cx="202.4" cy="57.2" r="1.9"/><circle cx="230.9" cy="67.1" r="1.9"/><circle cx="221.1" cy="40.9" r="1.9"/><circle cx="225.2" cy="64.8" r="1.9"/><circle cx="235.7" cy="56.7" r="1.9"/><circle cx="234.1" cy="57.3" r="1.9"/><circle cx="227.7" cy="44.7" r="1.9"/><circle cx="227.6" cy="86.6" r="1.9"/><circle cx="193.8" cy="55.9" r="1.9"/><circle cx="222.1" cy="57.4" r="1.9"/><circle cx="181.8" cy="50.8" r="1.9"/><circle cx="183.0" cy="51.3" r="1.9"/><circle cx="216.4" cy="59.7" r="1.9"/><circle cx="218.5" cy="53.4" r="1.9"/><circle cx="259.0" cy="58.9" r="1.9"/><circle cx="239.5" cy="51.3" r="1.9"/><circle cx="249.9" cy="56.5" r="1.9"/></g>
<g fill="#2c6ca3" fill-opacity="0.24"><circle cx="191.0" cy="103.5" r="1.9"/><circle cx="225.6" cy="67.6" r="1.9"/><circle cx="229.4" cy="94.3" r="1.9"/><circle cx="213.1" cy="98.3" r="1.9"/><circle cx="212.5" cy="93.8" r="1.9"/><circle cx="188.7" cy="58.6" r="1.9"/><circle cx="192.3" cy="85.1" r="1.9"/><circle cx="178.7" cy="92.5" r="1.9"/><circle cx="177.0" cy="98.1" r="1.9"/><circle cx="209.7" cy="105.0" r="1.9"/><circle cx="191.0" cy="37.4" r="1.9"/><circle cx="180.0" cy="86.7" r="1.9"/><circle cx="177.0" cy="83.4" r="1.9"/><circle cx="223.0" cy="91.5" r="1.9"/><circle cx="216.9" cy="67.6" r="1.9"/><circle cx="177.9" cy="103.4" r="1.9"/><circle cx="207.7" cy="119.1" r="1.9"/><circle cx="185.4" cy="96.0" r="1.9"/><circle cx="194.7" cy="80.2" r="1.9"/><circle cx="177.0" cy="47.0" r="1.9"/><circle cx="217.2" cy="87.3" r="1.9"/><circle cx="188.2" cy="100.9" r="1.9"/><circle cx="191.9" cy="89.9" r="1.9"/><circle cx="179.6" cy="99.5" r="1.9"/><circle cx="177.0" cy="99.6" r="1.9"/><circle cx="183.5" cy="84.4" r="1.9"/><circle cx="177.0" cy="80.9" r="1.9"/><circle cx="206.9" cy="97.4" r="1.9"/><circle cx="177.0" cy="67.1" r="1.9"/><circle cx="198.2" cy="87.3" r="1.9"/><circle cx="200.4" cy="84.0" r="1.9"/><circle cx="207.4" cy="94.9" r="1.9"/><circle cx="215.3" cy="79.6" r="1.9"/><circle cx="180.9" cy="78.9" r="1.9"/><circle cx="179.0" cy="74.5" r="1.9"/><circle cx="203.6" cy="100.1" r="1.9"/><circle cx="206.0" cy="75.1" r="1.9"/><circle cx="215.4" cy="95.8" r="1.9"/><circle cx="207.2" cy="84.2" r="1.9"/><circle cx="220.0" cy="73.1" r="1.9"/><circle cx="203.6" cy="59.8" r="1.9"/><circle cx="188.1" cy="93.7" r="1.9"/><circle cx="210.2" cy="105.0" r="1.9"/><circle cx="184.6" cy="83.5" r="1.9"/><circle cx="187.4" cy="64.8" r="1.9"/><circle cx="202.2" cy="91.6" r="1.9"/><circle cx="193.2" cy="43.9" r="1.9"/><circle cx="209.3" cy="118.4" r="1.9"/><circle cx="191.6" cy="59.9" r="1.9"/><circle cx="221.3" cy="65.7" r="1.9"/><circle cx="182.9" cy="66.7" r="1.9"/><circle cx="206.2" cy="100.2" r="1.9"/><circle cx="190.4" cy="62.4" r="1.9"/><circle cx="177.0" cy="65.6" r="1.9"/><circle cx="188.9" cy="64.2" r="1.9"/><circle cx="207.0" cy="89.7" r="1.9"/><circle cx="200.0" cy="90.0" r="1.9"/><circle cx="177.0" cy="63.4" r="1.9"/><circle cx="219.1" cy="79.8" r="1.9"/><circle cx="177.0" cy="53.8" r="1.9"/><circle cx="197.9" cy="100.2" r="1.9"/><circle cx="208.8" cy="81.3" r="1.9"/><circle cx="229.3" cy="109.2" r="1.9"/><circle cx="177.0" cy="75.8" r="1.9"/><circle cx="195.7" cy="83.1" r="1.9"/><circle cx="190.6" cy="112.6" r="1.9"/><circle cx="206.3" cy="78.0" r="1.9"/><circle cx="187.3" cy="65.0" r="1.9"/><circle cx="178.2" cy="81.5" r="1.9"/><circle cx="177.7" cy="64.1" r="1.9"/><circle cx="205.8" cy="96.3" r="1.9"/><circle cx="199.7" cy="32.5" r="1.9"/><circle cx="177.0" cy="108.3" r="1.9"/><circle cx="177.0" cy="92.3" r="1.9"/><circle cx="184.7" cy="66.1" r="1.9"/><circle cx="189.5" cy="90.8" r="1.9"/><circle cx="208.4" cy="95.9" r="1.9"/><circle cx="177.0" cy="71.9" r="1.9"/><circle cx="194.6" cy="58.0" r="1.9"/><circle cx="183.3" cy="79.0" r="1.9"/><circle cx="199.5" cy="108.8" r="1.9"/><circle cx="190.5" cy="42.4" r="1.9"/><circle cx="208.9" cy="90.2" r="1.9"/><circle cx="177.0" cy="117.1" r="1.9"/><circle cx="198.5" cy="87.4" r="1.9"/><circle cx="177.0" cy="70.2" r="1.9"/><circle cx="229.1" cy="131.8" r="1.9"/><circle cx="205.5" cy="89.0" r="1.9"/><circle cx="204.2" cy="80.3" r="1.9"/><circle cx="198.5" cy="95.3" r="1.9"/><circle cx="199.3" cy="79.2" r="1.9"/><circle cx="198.2" cy="77.3" r="1.9"/><circle cx="177.0" cy="67.8" r="1.9"/><circle cx="177.2" cy="39.2" r="1.9"/><circle cx="187.3" cy="80.4" r="1.9"/><circle cx="195.8" cy="101.5" r="1.9"/><circle cx="177.0" cy="103.7" r="1.9"/><circle cx="199.7" cy="107.3" r="1.9"/><circle cx="177.0" cy="73.6" r="1.9"/><circle cx="181.6" cy="80.1" r="1.9"/><circle cx="184.0" cy="77.9" r="1.9"/><circle cx="188.0" cy="82.5" r="1.9"/><circle cx="198.8" cy="58.3" r="1.9"/><circle cx="194.4" cy="67.0" r="1.9"/><circle cx="223.8" cy="68.4" r="1.9"/><circle cx="191.9" cy="97.7" r="1.9"/><circle cx="193.7" cy="91.5" r="1.9"/><circle cx="177.9" cy="108.5" r="1.9"/><circle cx="177.0" cy="97.2" r="1.9"/><circle cx="198.1" cy="84.4" r="1.9"/><circle cx="177.0" cy="107.2" r="1.9"/><circle cx="188.3" cy="97.0" r="1.9"/><circle cx="177.0" cy="51.0" r="1.9"/><circle cx="192.3" cy="89.2" r="1.9"/><circle cx="213.5" cy="112.0" r="1.9"/><circle cx="177.0" cy="107.6" r="1.9"/><circle cx="191.2" cy="87.5" r="1.9"/><circle cx="177.0" cy="71.4" r="1.9"/><circle cx="205.0" cy="87.5" r="1.9"/><circle cx="201.5" cy="71.0" r="1.9"/><circle cx="210.4" cy="80.6" r="1.9"/><circle cx="204.4" cy="105.3" r="1.9"/><circle cx="204.8" cy="68.1" r="1.9"/><circle cx="197.8" cy="93.8" r="1.9"/><circle cx="209.3" cy="53.4" r="1.9"/><circle cx="177.0" cy="96.2" r="1.9"/><circle cx="201.6" cy="88.4" r="1.9"/><circle cx="178.5" cy="95.4" r="1.9"/><circle cx="190.8" cy="90.6" r="1.9"/><circle cx="187.8" cy="78.0" r="1.9"/><circle cx="181.4" cy="89.2" r="1.9"/><circle cx="214.8" cy="65.4" r="1.9"/><circle cx="177.0" cy="78.5" r="1.9"/><circle cx="211.8" cy="58.5" r="1.9"/><circle cx="204.8" cy="84.7" r="1.9"/><circle cx="217.2" cy="63.5" r="1.9"/><circle cx="177.0" cy="65.1" r="1.9"/><circle cx="214.3" cy="88.3" r="1.9"/><circle cx="184.3" cy="41.9" r="1.9"/><circle cx="199.2" cy="59.6" r="1.9"/><circle cx="177.0" cy="76.4" r="1.9"/><circle cx="203.9" cy="89.2" r="1.9"/><circle cx="205.8" cy="87.2" r="1.9"/><circle cx="177.0" cy="88.7" r="1.9"/><circle cx="187.5" cy="80.8" r="1.9"/><circle cx="187.8" cy="105.3" r="1.9"/><circle cx="185.7" cy="84.7" r="1.9"/><circle cx="198.7" cy="96.1" r="1.9"/><circle cx="192.3" cy="56.9" r="1.9"/><circle cx="178.5" cy="72.4" r="1.9"/><circle cx="209.9" cy="56.8" r="1.9"/><circle cx="181.5" cy="44.4" r="1.9"/><circle cx="190.3" cy="77.3" r="1.9"/><circle cx="186.9" cy="50.7" r="1.9"/><circle cx="186.8" cy="79.0" r="1.9"/><circle cx="204.7" cy="74.6" r="1.9"/><circle cx="187.5" cy="101.9" r="1.9"/><circle cx="177.0" cy="84.1" r="1.9"/><circle cx="188.0" cy="60.8" r="1.9"/><circle cx="177.0" cy="76.9" r="1.9"/><circle cx="177.0" cy="92.0" r="1.9"/><circle cx="209.2" cy="85.4" r="1.9"/><circle cx="212.4" cy="98.2" r="1.9"/><circle cx="177.4" cy="97.1" r="1.9"/><circle cx="218.0" cy="110.3" r="1.9"/><circle cx="221.6" cy="66.3" r="1.9"/><circle cx="178.1" cy="66.5" r="1.9"/><circle cx="202.5" cy="87.3" r="1.9"/><circle cx="193.1" cy="108.6" r="1.9"/><circle cx="208.1" cy="89.6" r="1.9"/><circle cx="196.8" cy="50.7" r="1.9"/><circle cx="205.3" cy="108.4" r="1.9"/><circle cx="191.9" cy="94.2" r="1.9"/><circle cx="203.3" cy="93.6" r="1.9"/><circle cx="208.8" cy="71.6" r="1.9"/><circle cx="189.0" cy="107.4" r="1.9"/><circle cx="196.2" cy="80.9" r="1.9"/><circle cx="177.0" cy="99.7" r="1.9"/><circle cx="205.0" cy="91.6" r="1.9"/><circle cx="212.2" cy="106.4" r="1.9"/><circle cx="207.1" cy="76.3" r="1.9"/><circle cx="186.4" cy="93.9" r="1.9"/><circle cx="206.4" cy="95.6" r="1.9"/><circle cx="177.0" cy="66.5" r="1.9"/><circle cx="177.0" cy="79.4" r="1.9"/><circle cx="194.5" cy="44.6" r="1.9"/><circle cx="194.4" cy="78.1" r="1.9"/><circle cx="198.7" cy="83.9" r="1.9"/><circle cx="178.6" cy="83.2" r="1.9"/><circle cx="192.6" cy="37.8" r="1.9"/><circle cx="180.8" cy="63.8" r="1.9"/><circle cx="209.4" cy="90.2" r="1.9"/><circle cx="214.0" cy="79.8" r="1.9"/><circle cx="177.4" cy="94.2" r="1.9"/><circle cx="177.0" cy="73.9" r="1.9"/><circle cx="200.1" cy="94.0" r="1.9"/><circle cx="189.1" cy="94.9" r="1.9"/><circle cx="184.3" cy="77.7" r="1.9"/><circle cx="227.7" cy="61.9" r="1.9"/><circle cx="191.3" cy="70.6" r="1.9"/><circle cx="177.0" cy="72.4" r="1.9"/><circle cx="193.1" cy="84.6" r="1.9"/><circle cx="200.7" cy="127.0" r="1.9"/><circle cx="218.1" cy="88.2" r="1.9"/><circle cx="201.0" cy="89.0" r="1.9"/><circle cx="180.0" cy="76.2" r="1.9"/><circle cx="190.2" cy="55.1" r="1.9"/><circle cx="221.7" cy="72.3" r="1.9"/><circle cx="177.0" cy="115.5" r="1.9"/><circle cx="196.2" cy="85.0" r="1.9"/><circle cx="212.8" cy="89.5" r="1.9"/><circle cx="177.0" cy="73.0" r="1.9"/><circle cx="194.0" cy="86.5" r="1.9"/><circle cx="185.0" cy="118.6" r="1.9"/><circle cx="199.1" cy="101.2" r="1.9"/><circle cx="204.0" cy="91.1" r="1.9"/><circle cx="199.9" cy="121.0" r="1.9"/><circle cx="210.7" cy="87.8" r="1.9"/><circle cx="177.0" cy="90.6" r="1.9"/><circle cx="214.4" cy="67.1" r="1.9"/><circle cx="177.0" cy="87.7" r="1.9"/><circle cx="177.0" cy="96.5" r="1.9"/><circle cx="192.6" cy="87.9" r="1.9"/><circle cx="220.5" cy="85.4" r="1.9"/><circle cx="213.9" cy="68.9" r="1.9"/><circle cx="177.0" cy="102.3" r="1.9"/><circle cx="183.7" cy="124.9" r="1.9"/><circle cx="199.6" cy="38.1" r="1.9"/><circle cx="177.0" cy="72.7" r="1.9"/><circle cx="192.1" cy="85.1" r="1.9"/><circle cx="199.2" cy="43.9" r="1.9"/><circle cx="185.3" cy="105.7" r="1.9"/><circle cx="199.2" cy="99.6" r="1.9"/><circle cx="206.0" cy="93.5" r="1.9"/><circle cx="221.5" cy="77.4" r="1.9"/><circle cx="177.0" cy="93.9" r="1.9"/><circle cx="178.0" cy="72.4" r="1.9"/><circle cx="188.5" cy="92.0" r="1.9"/><circle cx="194.9" cy="63.4" r="1.9"/><circle cx="209.2" cy="77.9" r="1.9"/><circle cx="212.2" cy="114.8" r="1.9"/><circle cx="198.4" cy="59.2" r="1.9"/><circle cx="188.2" cy="105.8" r="1.9"/><circle cx="187.6" cy="88.4" r="1.9"/><circle cx="195.2" cy="86.0" r="1.9"/><circle cx="198.4" cy="47.1" r="1.9"/><circle cx="177.0" cy="90.1" r="1.9"/><circle cx="198.8" cy="114.1" r="1.9"/><circle cx="224.2" cy="84.2" r="1.9"/><circle cx="199.3" cy="106.4" r="1.9"/><circle cx="203.8" cy="54.3" r="1.9"/><circle cx="211.3" cy="73.8" r="1.9"/><circle cx="210.0" cy="58.8" r="1.9"/><circle cx="188.5" cy="93.1" r="1.9"/><circle cx="178.6" cy="104.4" r="1.9"/></g>
<polygon points="171.0,58.3 173.8,58.2 176.5,58.0 179.3,57.9 182.1,57.7 184.8,57.6 187.6,57.4 190.4,57.3 193.2,57.1 195.9,57.0 198.7,56.8 201.5,56.6 204.2,56.5 207.0,56.3 209.8,56.1 212.5,55.9 215.3,55.6 218.1,55.4 220.8,55.2 223.6,54.9 226.4,54.6 229.2,54.3 231.9,54.0 234.7,53.6 237.5,53.2 240.2,52.8 243.0,52.4 245.8,51.9 248.5,51.5 251.3,51.0 254.1,50.6 256.8,50.1 259.6,49.6 262.4,49.2 265.2,48.7 267.9,48.2 270.7,47.7 273.5,47.3 276.2,46.8 279.0,46.3 279.0,56.3 276.2,56.3 273.5,56.4 270.7,56.4 267.9,56.4 265.2,56.5 262.4,56.5 259.6,56.6 256.8,56.6 254.1,56.7 251.3,56.7 248.5,56.8 245.8,56.8 243.0,56.9 240.2,57.0 237.5,57.1 234.7,57.2 231.9,57.3 229.2,57.5 226.4,57.7 223.6,57.9 220.8,58.2 218.1,58.5 215.3,58.7 212.5,59.0 209.8,59.3 207.0,59.7 204.2,60.0 201.5,60.3 198.7,60.7 195.9,61.0 193.2,61.4 190.4,61.7 187.6,62.1 184.8,62.4 182.1,62.8 179.3,63.2 176.5,63.6 173.8,63.9 171.0,64.3" fill="#7d9f74" fill-opacity="0.27"/>
<polygon points="171.0,71.0 173.8,71.6 176.5,72.1 179.3,72.6 182.1,73.1 184.8,73.6 187.6,74.0 190.4,74.3 193.2,74.6 195.9,74.8 198.7,74.9 201.5,74.9 204.2,75.0 207.0,74.9 209.8,74.9 212.5,74.8 215.3,74.8 218.1,74.7 220.8,74.5 223.6,74.4 226.4,74.2 229.2,74.1 231.9,73.9 234.7,73.8 237.5,73.6 240.2,73.4 243.0,73.2 245.8,73.0 248.5,72.8 251.3,72.6 254.1,72.4 256.8,72.2 259.6,72.0 262.4,71.8 265.2,71.6 267.9,71.4 270.7,71.1 273.5,70.9 276.2,70.7 279.0,70.5 279.0,90.5 276.2,90.1 273.5,89.7 270.7,89.3 267.9,88.9 265.2,88.5 262.4,88.1 259.6,87.7 256.8,87.4 254.1,87.0 251.3,86.6 248.5,86.2 245.8,85.8 243.0,85.5 240.2,85.1 237.5,84.7 234.7,84.4 231.9,84.0 229.2,83.7 226.4,83.3 223.6,83.0 220.8,82.7 218.1,82.4 215.3,82.1 212.5,81.8 209.8,81.6 207.0,81.4 204.2,81.2 201.5,81.0 198.7,80.9 195.9,80.8 193.2,80.8 190.4,80.9 187.6,81.1 184.8,81.3 182.1,81.6 179.3,81.9 176.5,82.3 173.8,82.6 171.0,83.0" fill="#7ea7c9" fill-opacity="0.34"/>
<line x1="171" y1="61.3" x2="279" y2="51.3" stroke="#2c672c" stroke-width="1.7"/>
<line x1="171" y1="77" x2="279" y2="80.5" stroke="#1c5f9c" stroke-width="1.7"/>
</g>
<rect x="165.8" y="0.5" width="118.7" height="142.3" fill="none" stroke="#575757" stroke-width="1"/>
<line x1="165.8" y1="17.5" x2="168.3" y2="17.5" stroke="#000" stroke-width="1"/>
<text x="164.8" y="19.9" text-anchor="end" class="tk">2</text>
<line x1="165.8" y1="39.5" x2="168.3" y2="39.5" stroke="#000" stroke-width="1"/>
<text x="164.8" y="41.9" text-anchor="end" class="tk">1</text>
<line x1="165.8" y1="61.5" x2="168.3" y2="61.5" stroke="#000" stroke-width="1"/>
<text x="164.8" y="63.9" text-anchor="end" class="tk">0</text>
<line x1="165.8" y1="83.5" x2="168.3" y2="83.5" stroke="#000" stroke-width="1"/>
<text x="164.8" y="85.8" text-anchor="end" class="tk">−1</text>
<line x1="165.8" y1="105.5" x2="168.3" y2="105.5" stroke="#000" stroke-width="1"/>
<text x="164.8" y="107.8" text-anchor="end" class="tk">−2</text>
<line x1="165.8" y1="127.5" x2="168.3" y2="127.5" stroke="#000" stroke-width="1"/>
<text x="164.8" y="129.8" text-anchor="end" class="tk">−3</text>
<line x1="170.5" y1="142.8" x2="170.5" y2="140.3" stroke="#000" stroke-width="1"/>
<text x="170.9" y="149.2" text-anchor="middle" class="tk">−2</text>
<line x1="192.5" y1="142.8" x2="192.5" y2="140.3" stroke="#000" stroke-width="1"/>
<text x="192.6" y="149.2" text-anchor="middle" class="tk">−1</text>
<line x1="214.5" y1="142.8" x2="214.5" y2="140.3" stroke="#000" stroke-width="1"/>
<text x="214.3" y="149.2" text-anchor="middle" class="tk">0</text>
<line x1="236.5" y1="142.8" x2="236.5" y2="140.3" stroke="#000" stroke-width="1"/>
<text x="236.0" y="149.2" text-anchor="middle" class="tk">1</text>
<line x1="257.5" y1="142.8" x2="257.5" y2="140.3" stroke="#000" stroke-width="1"/>
<text x="257.7" y="149.2" text-anchor="middle" class="tk">2</text>
<line x1="279.5" y1="142.8" x2="279.5" y2="140.3" stroke="#000" stroke-width="1"/>
<text x="279.4" y="149.2" text-anchor="middle" class="tk">3</text>
<text x="170.5" y="11.2" class="tt" textLength="107.5">HYD × FD<tspan dy="1.3" font-size="4.6">B</tspan><tspan dy="0.2" font-size="5.2" fill="#888" stroke="none">_</tspan><tspan dy="-1.5">PS: </tspan><tspan font-style="italic">F</tspan> = 2.50, <tspan font-style="italic">P</tspan> = 0.114</text>
<clipPath id="clipc"><rect x="299.0" y="0.5" width="118.8" height="142.3"/></clipPath>
<g clip-path="url(#clipc)">
<g fill="#3d6d3c" fill-opacity="0.26"><circle cx="342.9" cy="55.3" r="1.9"/><circle cx="367.1" cy="43.3" r="1.9"/><circle cx="355.7" cy="44.5" r="1.9"/><circle cx="392.6" cy="60.2" r="1.9"/><circle cx="361.5" cy="58.2" r="1.9"/><circle cx="358.9" cy="60.3" r="1.9"/><circle cx="352.9" cy="69.8" r="1.9"/><circle cx="390.2" cy="56.1" r="1.9"/><circle cx="353.1" cy="48.8" r="1.9"/><circle cx="355.4" cy="72.2" r="1.9"/><circle cx="358.3" cy="41.4" r="1.9"/><circle cx="361.8" cy="56.4" r="1.9"/><circle cx="365.7" cy="49.4" r="1.9"/><circle cx="379.0" cy="56.8" r="1.9"/><circle cx="329.0" cy="95.1" r="1.9"/><circle cx="365.2" cy="51.4" r="1.9"/><circle cx="383.7" cy="63.6" r="1.9"/><circle cx="356.0" cy="57.4" r="1.9"/><circle cx="360.9" cy="56.9" r="1.9"/><circle cx="353.7" cy="49.4" r="1.9"/><circle cx="323.9" cy="63.4" r="1.9"/><circle cx="357.3" cy="69.2" r="1.9"/><circle cx="381.9" cy="52.0" r="1.9"/><circle cx="355.0" cy="61.6" r="1.9"/><circle cx="331.3" cy="72.9" r="1.9"/><circle cx="364.9" cy="62.9" r="1.9"/><circle cx="358.1" cy="73.9" r="1.9"/><circle cx="374.0" cy="66.3" r="1.9"/><circle cx="364.3" cy="88.6" r="1.9"/><circle cx="360.2" cy="55.2" r="1.9"/><circle cx="372.6" cy="47.5" r="1.9"/><circle cx="337.7" cy="57.7" r="1.9"/><circle cx="377.1" cy="62.3" r="1.9"/><circle cx="367.8" cy="52.1" r="1.9"/><circle cx="381.7" cy="49.1" r="1.9"/><circle cx="377.9" cy="58.3" r="1.9"/><circle cx="361.7" cy="50.6" r="1.9"/><circle cx="355.7" cy="71.7" r="1.9"/><circle cx="350.8" cy="57.4" r="1.9"/><circle cx="331.9" cy="62.9" r="1.9"/><circle cx="363.2" cy="52.4" r="1.9"/><circle cx="366.9" cy="53.3" r="1.9"/><circle cx="352.3" cy="45.6" r="1.9"/><circle cx="369.6" cy="67.1" r="1.9"/><circle cx="363.1" cy="61.5" r="1.9"/><circle cx="367.3" cy="63.5" r="1.9"/><circle cx="347.1" cy="71.2" r="1.9"/><circle cx="339.4" cy="54.4" r="1.9"/><circle cx="376.7" cy="50.8" r="1.9"/><circle cx="370.0" cy="62.2" r="1.9"/><circle cx="367.0" cy="43.1" r="1.9"/><circle cx="360.7" cy="48.1" r="1.9"/><circle cx="362.1" cy="49.9" r="1.9"/><circle cx="363.3" cy="51.9" r="1.9"/><circle cx="359.9" cy="46.9" r="1.9"/><circle cx="335.0" cy="56.7" r="1.9"/><circle cx="377.1" cy="50.0" r="1.9"/><circle cx="336.3" cy="72.7" r="1.9"/><circle cx="353.2" cy="71.5" r="1.9"/><circle cx="360.7" cy="52.4" r="1.9"/><circle cx="366.7" cy="57.8" r="1.9"/><circle cx="343.7" cy="48.5" r="1.9"/><circle cx="371.2" cy="81.6" r="1.9"/><circle cx="373.1" cy="55.7" r="1.9"/><circle cx="376.0" cy="52.5" r="1.9"/><circle cx="378.9" cy="63.5" r="1.9"/><circle cx="354.7" cy="50.2" r="1.9"/><circle cx="311.1" cy="78.3" r="1.9"/><circle cx="368.2" cy="56.7" r="1.9"/><circle cx="380.8" cy="60.3" r="1.9"/><circle cx="384.1" cy="45.8" r="1.9"/><circle cx="358.5" cy="50.1" r="1.9"/><circle cx="362.1" cy="57.2" r="1.9"/><circle cx="370.2" cy="49.9" r="1.9"/><circle cx="342.7" cy="44.2" r="1.9"/><circle cx="360.7" cy="39.4" r="1.9"/><circle cx="349.7" cy="69.8" r="1.9"/><circle cx="369.4" cy="100.8" r="1.9"/><circle cx="356.4" cy="51.4" r="1.9"/><circle cx="386.0" cy="56.4" r="1.9"/><circle cx="360.9" cy="64.6" r="1.9"/><circle cx="344.6" cy="44.2" r="1.9"/><circle cx="391.2" cy="66.9" r="1.9"/><circle cx="352.3" cy="50.4" r="1.9"/><circle cx="360.8" cy="87.7" r="1.9"/><circle cx="382.8" cy="70.0" r="1.9"/><circle cx="355.6" cy="58.3" r="1.9"/><circle cx="342.3" cy="67.4" r="1.9"/><circle cx="379.7" cy="53.4" r="1.9"/><circle cx="355.4" cy="81.2" r="1.9"/><circle cx="353.6" cy="37.3" r="1.9"/><circle cx="342.8" cy="71.6" r="1.9"/><circle cx="356.7" cy="60.7" r="1.9"/><circle cx="380.2" cy="49.2" r="1.9"/><circle cx="365.4" cy="41.3" r="1.9"/><circle cx="374.8" cy="51.8" r="1.9"/><circle cx="385.0" cy="62.3" r="1.9"/><circle cx="383.1" cy="52.9" r="1.9"/><circle cx="384.4" cy="55.7" r="1.9"/><circle cx="380.9" cy="57.4" r="1.9"/><circle cx="338.9" cy="62.2" r="1.9"/><circle cx="382.7" cy="52.1" r="1.9"/><circle cx="369.8" cy="52.8" r="1.9"/><circle cx="362.1" cy="56.4" r="1.9"/><circle cx="348.1" cy="57.6" r="1.9"/><circle cx="332.0" cy="81.3" r="1.9"/><circle cx="346.8" cy="59.9" r="1.9"/><circle cx="344.9" cy="105.8" r="1.9"/><circle cx="346.9" cy="57.3" r="1.9"/><circle cx="351.4" cy="58.8" r="1.9"/><circle cx="359.9" cy="43.5" r="1.9"/><circle cx="375.4" cy="50.8" r="1.9"/><circle cx="367.1" cy="36.5" r="1.9"/><circle cx="362.3" cy="55.0" r="1.9"/><circle cx="381.3" cy="59.7" r="1.9"/><circle cx="354.7" cy="68.6" r="1.9"/><circle cx="377.1" cy="43.6" r="1.9"/><circle cx="357.9" cy="32.4" r="1.9"/><circle cx="366.0" cy="63.0" r="1.9"/><circle cx="363.6" cy="61.4" r="1.9"/><circle cx="368.6" cy="50.2" r="1.9"/><circle cx="354.7" cy="63.0" r="1.9"/><circle cx="348.7" cy="58.0" r="1.9"/><circle cx="350.9" cy="79.6" r="1.9"/><circle cx="346.4" cy="85.2" r="1.9"/><circle cx="382.5" cy="45.7" r="1.9"/><circle cx="372.9" cy="66.4" r="1.9"/><circle cx="350.3" cy="47.3" r="1.9"/><circle cx="371.6" cy="59.3" r="1.9"/><circle cx="358.5" cy="52.6" r="1.9"/><circle cx="363.4" cy="74.8" r="1.9"/><circle cx="352.4" cy="68.6" r="1.9"/><circle cx="346.0" cy="48.4" r="1.9"/><circle cx="376.5" cy="60.9" r="1.9"/><circle cx="372.5" cy="50.3" r="1.9"/><circle cx="348.7" cy="50.7" r="1.9"/><circle cx="341.9" cy="43.6" r="1.9"/><circle cx="346.6" cy="82.2" r="1.9"/><circle cx="350.9" cy="46.4" r="1.9"/><circle cx="358.6" cy="56.6" r="1.9"/><circle cx="370.5" cy="61.9" r="1.9"/><circle cx="382.4" cy="62.2" r="1.9"/><circle cx="357.4" cy="60.0" r="1.9"/><circle cx="379.8" cy="65.8" r="1.9"/><circle cx="378.7" cy="60.5" r="1.9"/><circle cx="357.7" cy="56.4" r="1.9"/><circle cx="341.4" cy="53.3" r="1.9"/><circle cx="375.1" cy="58.6" r="1.9"/><circle cx="366.3" cy="72.9" r="1.9"/><circle cx="397.2" cy="56.2" r="1.9"/><circle cx="385.2" cy="53.5" r="1.9"/><circle cx="370.0" cy="69.4" r="1.9"/><circle cx="390.0" cy="50.3" r="1.9"/><circle cx="347.2" cy="61.4" r="1.9"/><circle cx="364.5" cy="62.1" r="1.9"/><circle cx="367.1" cy="37.4" r="1.9"/><circle cx="391.4" cy="48.7" r="1.9"/><circle cx="367.2" cy="69.0" r="1.9"/><circle cx="328.2" cy="36.4" r="1.9"/><circle cx="380.8" cy="62.9" r="1.9"/><circle cx="352.7" cy="52.1" r="1.9"/><circle cx="366.2" cy="79.5" r="1.9"/><circle cx="359.4" cy="50.5" r="1.9"/><circle cx="369.6" cy="50.7" r="1.9"/><circle cx="374.0" cy="53.7" r="1.9"/><circle cx="367.6" cy="54.0" r="1.9"/><circle cx="345.7" cy="69.1" r="1.9"/><circle cx="383.5" cy="57.1" r="1.9"/><circle cx="367.4" cy="62.3" r="1.9"/><circle cx="360.3" cy="65.7" r="1.9"/><circle cx="372.7" cy="59.8" r="1.9"/><circle cx="353.3" cy="64.9" r="1.9"/><circle cx="374.7" cy="99.0" r="1.9"/><circle cx="368.6" cy="52.8" r="1.9"/><circle cx="370.6" cy="52.7" r="1.9"/><circle cx="369.6" cy="54.7" r="1.9"/><circle cx="350.0" cy="59.6" r="1.9"/><circle cx="347.2" cy="57.0" r="1.9"/><circle cx="365.8" cy="60.0" r="1.9"/><circle cx="370.7" cy="52.1" r="1.9"/><circle cx="383.5" cy="55.4" r="1.9"/><circle cx="372.8" cy="50.3" r="1.9"/><circle cx="344.5" cy="67.5" r="1.9"/><circle cx="374.9" cy="47.6" r="1.9"/><circle cx="373.5" cy="62.4" r="1.9"/><circle cx="372.7" cy="71.2" r="1.9"/><circle cx="353.6" cy="96.8" r="1.9"/><circle cx="345.2" cy="60.6" r="1.9"/><circle cx="381.8" cy="52.9" r="1.9"/><circle cx="352.1" cy="60.7" r="1.9"/><circle cx="368.9" cy="65.2" r="1.9"/><circle cx="327.6" cy="94.3" r="1.9"/><circle cx="379.7" cy="43.7" r="1.9"/><circle cx="353.5" cy="55.2" r="1.9"/><circle cx="375.8" cy="66.1" r="1.9"/><circle cx="389.4" cy="55.5" r="1.9"/><circle cx="377.4" cy="64.9" r="1.9"/><circle cx="354.0" cy="39.4" r="1.9"/><circle cx="345.9" cy="69.3" r="1.9"/><circle cx="348.1" cy="66.2" r="1.9"/><circle cx="375.6" cy="50.7" r="1.9"/><circle cx="364.4" cy="68.6" r="1.9"/><circle cx="367.6" cy="52.9" r="1.9"/><circle cx="372.1" cy="46.6" r="1.9"/><circle cx="374.2" cy="51.3" r="1.9"/><circle cx="374.5" cy="53.2" r="1.9"/><circle cx="391.5" cy="47.0" r="1.9"/><circle cx="364.1" cy="54.1" r="1.9"/><circle cx="368.4" cy="52.5" r="1.9"/><circle cx="337.7" cy="56.7" r="1.9"/><circle cx="347.8" cy="49.9" r="1.9"/><circle cx="351.3" cy="64.1" r="1.9"/><circle cx="350.2" cy="48.4" r="1.9"/><circle cx="365.7" cy="60.1" r="1.9"/><circle cx="375.3" cy="65.4" r="1.9"/><circle cx="359.4" cy="52.3" r="1.9"/><circle cx="363.2" cy="40.3" r="1.9"/><circle cx="360.3" cy="46.9" r="1.9"/><circle cx="364.4" cy="60.2" r="1.9"/><circle cx="358.9" cy="49.3" r="1.9"/><circle cx="368.7" cy="59.7" r="1.9"/><circle cx="368.1" cy="56.7" r="1.9"/><circle cx="369.4" cy="54.8" r="1.9"/><circle cx="367.2" cy="76.5" r="1.9"/><circle cx="365.3" cy="53.8" r="1.9"/><circle cx="362.7" cy="64.8" r="1.9"/><circle cx="386.7" cy="61.9" r="1.9"/><circle cx="358.5" cy="68.9" r="1.9"/><circle cx="370.3" cy="69.2" r="1.9"/><circle cx="361.7" cy="64.1" r="1.9"/><circle cx="345.5" cy="88.1" r="1.9"/><circle cx="344.9" cy="89.5" r="1.9"/><circle cx="352.5" cy="55.8" r="1.9"/><circle cx="368.0" cy="45.7" r="1.9"/><circle cx="354.7" cy="57.9" r="1.9"/><circle cx="351.7" cy="72.8" r="1.9"/><circle cx="381.9" cy="54.2" r="1.9"/><circle cx="363.7" cy="51.5" r="1.9"/><circle cx="378.8" cy="59.4" r="1.9"/><circle cx="368.9" cy="52.8" r="1.9"/><circle cx="378.2" cy="50.4" r="1.9"/><circle cx="352.6" cy="63.3" r="1.9"/><circle cx="361.2" cy="68.9" r="1.9"/><circle cx="397.4" cy="57.6" r="1.9"/><circle cx="375.1" cy="57.5" r="1.9"/><circle cx="377.1" cy="58.7" r="1.9"/><circle cx="370.7" cy="46.7" r="1.9"/><circle cx="382.1" cy="40.0" r="1.9"/><circle cx="346.2" cy="59.3" r="1.9"/><circle cx="354.4" cy="49.3" r="1.9"/><circle cx="373.3" cy="47.1" r="1.9"/><circle cx="378.1" cy="49.1" r="1.9"/><circle cx="361.8" cy="46.1" r="1.9"/><circle cx="360.1" cy="59.1" r="1.9"/><circle cx="361.4" cy="48.9" r="1.9"/><circle cx="368.2" cy="37.3" r="1.9"/><circle cx="349.8" cy="48.3" r="1.9"/><circle cx="338.2" cy="70.2" r="1.9"/><circle cx="364.9" cy="50.1" r="1.9"/><circle cx="343.7" cy="44.2" r="1.9"/><circle cx="351.4" cy="52.2" r="1.9"/><circle cx="352.7" cy="60.6" r="1.9"/><circle cx="354.3" cy="41.6" r="1.9"/><circle cx="363.1" cy="66.8" r="1.9"/><circle cx="359.3" cy="51.0" r="1.9"/><circle cx="362.7" cy="55.7" r="1.9"/><circle cx="345.6" cy="66.3" r="1.9"/><circle cx="357.5" cy="44.6" r="1.9"/><circle cx="372.3" cy="52.4" r="1.9"/><circle cx="365.0" cy="66.1" r="1.9"/><circle cx="359.3" cy="50.1" r="1.9"/><circle cx="367.5" cy="59.5" r="1.9"/><circle cx="360.0" cy="72.7" r="1.9"/><circle cx="363.7" cy="61.8" r="1.9"/><circle cx="387.2" cy="53.2" r="1.9"/><circle cx="360.3" cy="49.8" r="1.9"/><circle cx="370.3" cy="54.1" r="1.9"/><circle cx="369.9" cy="55.2" r="1.9"/><circle cx="362.0" cy="51.3" r="1.9"/><circle cx="346.5" cy="57.5" r="1.9"/><circle cx="363.7" cy="81.6" r="1.9"/><circle cx="367.9" cy="54.2" r="1.9"/><circle cx="365.4" cy="52.9" r="1.9"/><circle cx="365.8" cy="50.7" r="1.9"/><circle cx="360.4" cy="65.1" r="1.9"/><circle cx="348.6" cy="62.0" r="1.9"/><circle cx="355.5" cy="88.2" r="1.9"/><circle cx="339.2" cy="52.5" r="1.9"/><circle cx="362.3" cy="58.1" r="1.9"/><circle cx="343.6" cy="52.5" r="1.9"/><circle cx="356.9" cy="59.9" r="1.9"/><circle cx="374.6" cy="53.0" r="1.9"/><circle cx="345.5" cy="93.7" r="1.9"/><circle cx="357.7" cy="53.1" r="1.9"/><circle cx="365.4" cy="69.8" r="1.9"/><circle cx="364.2" cy="43.6" r="1.9"/><circle cx="350.9" cy="73.6" r="1.9"/><circle cx="352.5" cy="69.8" r="1.9"/><circle cx="387.1" cy="49.5" r="1.9"/><circle cx="371.6" cy="58.9" r="1.9"/><circle cx="362.7" cy="75.6" r="1.9"/><circle cx="342.7" cy="65.9" r="1.9"/><circle cx="373.5" cy="52.0" r="1.9"/><circle cx="357.4" cy="39.4" r="1.9"/><circle cx="365.8" cy="67.1" r="1.9"/><circle cx="348.7" cy="52.5" r="1.9"/><circle cx="378.4" cy="89.0" r="1.9"/><circle cx="340.2" cy="53.8" r="1.9"/><circle cx="374.5" cy="71.9" r="1.9"/><circle cx="364.4" cy="82.8" r="1.9"/><circle cx="339.8" cy="51.4" r="1.9"/><circle cx="359.8" cy="55.9" r="1.9"/><circle cx="389.3" cy="40.8" r="1.9"/><circle cx="377.0" cy="61.9" r="1.9"/><circle cx="340.4" cy="54.0" r="1.9"/><circle cx="343.4" cy="88.9" r="1.9"/><circle cx="335.6" cy="85.2" r="1.9"/><circle cx="345.7" cy="63.7" r="1.9"/><circle cx="345.3" cy="79.1" r="1.9"/><circle cx="389.1" cy="56.0" r="1.9"/><circle cx="368.0" cy="47.9" r="1.9"/><circle cx="360.5" cy="54.4" r="1.9"/><circle cx="356.0" cy="62.4" r="1.9"/><circle cx="373.4" cy="53.7" r="1.9"/><circle cx="382.0" cy="31.8" r="1.9"/><circle cx="354.6" cy="44.1" r="1.9"/><circle cx="368.9" cy="95.7" r="1.9"/><circle cx="347.4" cy="56.8" r="1.9"/><circle cx="356.3" cy="63.5" r="1.9"/><circle cx="371.7" cy="49.9" r="1.9"/><circle cx="386.8" cy="57.1" r="1.9"/><circle cx="364.9" cy="38.1" r="1.9"/><circle cx="370.4" cy="47.2" r="1.9"/><circle cx="378.7" cy="63.4" r="1.9"/><circle cx="360.6" cy="85.9" r="1.9"/><circle cx="367.7" cy="86.1" r="1.9"/><circle cx="374.4" cy="64.8" r="1.9"/><circle cx="371.3" cy="43.9" r="1.9"/><circle cx="364.7" cy="75.3" r="1.9"/><circle cx="375.0" cy="58.7" r="1.9"/><circle cx="367.2" cy="44.1" r="1.9"/><circle cx="386.5" cy="53.8" r="1.9"/><circle cx="334.9" cy="56.3" r="1.9"/><circle cx="347.5" cy="62.7" r="1.9"/><circle cx="381.7" cy="60.7" r="1.9"/><circle cx="367.1" cy="61.3" r="1.9"/><circle cx="344.7" cy="80.7" r="1.9"/><circle cx="372.0" cy="46.4" r="1.9"/><circle cx="380.5" cy="50.5" r="1.9"/><circle cx="354.6" cy="57.5" r="1.9"/><circle cx="377.6" cy="46.1" r="1.9"/><circle cx="363.0" cy="51.6" r="1.9"/><circle cx="354.4" cy="74.7" r="1.9"/><circle cx="353.9" cy="77.9" r="1.9"/><circle cx="378.2" cy="57.7" r="1.9"/><circle cx="349.2" cy="50.8" r="1.9"/><circle cx="363.5" cy="41.0" r="1.9"/><circle cx="378.8" cy="39.0" r="1.9"/><circle cx="350.8" cy="42.7" r="1.9"/><circle cx="331.3" cy="81.1" r="1.9"/><circle cx="363.8" cy="75.4" r="1.9"/><circle cx="365.2" cy="50.4" r="1.9"/><circle cx="361.3" cy="55.3" r="1.9"/><circle cx="348.9" cy="99.1" r="1.9"/><circle cx="349.1" cy="56.7" r="1.9"/><circle cx="392.8" cy="53.6" r="1.9"/><circle cx="344.2" cy="69.1" r="1.9"/><circle cx="358.6" cy="51.5" r="1.9"/><circle cx="341.6" cy="59.6" r="1.9"/><circle cx="360.7" cy="46.7" r="1.9"/><circle cx="386.4" cy="51.4" r="1.9"/><circle cx="363.1" cy="56.6" r="1.9"/><circle cx="372.7" cy="52.7" r="1.9"/><circle cx="356.4" cy="55.7" r="1.9"/><circle cx="391.5" cy="48.7" r="1.9"/><circle cx="348.5" cy="101.0" r="1.9"/><circle cx="343.7" cy="60.5" r="1.9"/><circle cx="372.1" cy="60.9" r="1.9"/><circle cx="347.4" cy="83.8" r="1.9"/><circle cx="367.5" cy="67.2" r="1.9"/><circle cx="368.6" cy="46.6" r="1.9"/><circle cx="368.3" cy="52.0" r="1.9"/><circle cx="363.3" cy="60.6" r="1.9"/><circle cx="347.9" cy="62.3" r="1.9"/><circle cx="342.4" cy="54.5" r="1.9"/><circle cx="377.9" cy="53.2" r="1.9"/><circle cx="363.4" cy="50.0" r="1.9"/><circle cx="363.0" cy="67.0" r="1.9"/><circle cx="354.7" cy="60.9" r="1.9"/><circle cx="334.3" cy="56.4" r="1.9"/><circle cx="350.6" cy="41.1" r="1.9"/><circle cx="375.0" cy="76.8" r="1.9"/><circle cx="353.6" cy="51.6" r="1.9"/><circle cx="356.0" cy="60.4" r="1.9"/><circle cx="343.9" cy="51.7" r="1.9"/><circle cx="354.1" cy="60.0" r="1.9"/><circle cx="359.2" cy="52.3" r="1.9"/><circle cx="365.4" cy="41.4" r="1.9"/><circle cx="343.5" cy="105.3" r="1.9"/><circle cx="350.2" cy="66.5" r="1.9"/><circle cx="356.4" cy="52.2" r="1.9"/><circle cx="360.5" cy="62.3" r="1.9"/><circle cx="369.6" cy="50.7" r="1.9"/><circle cx="360.5" cy="57.4" r="1.9"/><circle cx="385.1" cy="62.9" r="1.9"/><circle cx="366.0" cy="55.9" r="1.9"/><circle cx="364.7" cy="57.6" r="1.9"/><circle cx="356.5" cy="48.8" r="1.9"/><circle cx="377.6" cy="55.9" r="1.9"/><circle cx="346.1" cy="62.4" r="1.9"/><circle cx="345.2" cy="42.4" r="1.9"/><circle cx="352.7" cy="46.6" r="1.9"/><circle cx="376.2" cy="44.1" r="1.9"/><circle cx="342.3" cy="68.0" r="1.9"/><circle cx="381.1" cy="56.5" r="1.9"/><circle cx="361.4" cy="59.3" r="1.9"/><circle cx="320.4" cy="112.4" r="1.9"/><circle cx="363.1" cy="47.0" r="1.9"/><circle cx="388.7" cy="54.6" r="1.9"/><circle cx="346.0" cy="68.9" r="1.9"/><circle cx="344.5" cy="55.9" r="1.9"/><circle cx="365.6" cy="68.3" r="1.9"/><circle cx="382.2" cy="54.1" r="1.9"/><circle cx="373.4" cy="66.4" r="1.9"/><circle cx="354.2" cy="67.0" r="1.9"/><circle cx="366.2" cy="54.5" r="1.9"/><circle cx="367.5" cy="56.3" r="1.9"/><circle cx="374.1" cy="70.5" r="1.9"/><circle cx="396.0" cy="48.8" r="1.9"/><circle cx="368.9" cy="36.0" r="1.9"/><circle cx="376.5" cy="68.9" r="1.9"/><circle cx="364.4" cy="39.1" r="1.9"/><circle cx="359.2" cy="88.1" r="1.9"/><circle cx="348.3" cy="60.0" r="1.9"/><circle cx="351.7" cy="57.2" r="1.9"/><circle cx="364.1" cy="68.6" r="1.9"/><circle cx="354.9" cy="43.8" r="1.9"/><circle cx="377.3" cy="51.1" r="1.9"/><circle cx="352.8" cy="62.3" r="1.9"/><circle cx="363.3" cy="58.1" r="1.9"/><circle cx="350.4" cy="86.2" r="1.9"/><circle cx="357.2" cy="58.7" r="1.9"/><circle cx="357.6" cy="75.2" r="1.9"/><circle cx="375.8" cy="62.5" r="1.9"/><circle cx="392.4" cy="59.5" r="1.9"/><circle cx="346.8" cy="54.2" r="1.9"/><circle cx="370.9" cy="46.1" r="1.9"/><circle cx="351.2" cy="80.7" r="1.9"/><circle cx="348.7" cy="59.7" r="1.9"/><circle cx="364.7" cy="62.2" r="1.9"/><circle cx="352.2" cy="51.5" r="1.9"/><circle cx="360.8" cy="58.8" r="1.9"/><circle cx="379.6" cy="58.4" r="1.9"/><circle cx="338.2" cy="45.8" r="1.9"/><circle cx="359.2" cy="75.4" r="1.9"/><circle cx="364.1" cy="69.7" r="1.9"/><circle cx="348.9" cy="57.3" r="1.9"/><circle cx="365.7" cy="68.4" r="1.9"/><circle cx="361.7" cy="72.6" r="1.9"/><circle cx="358.1" cy="55.7" r="1.9"/><circle cx="376.7" cy="65.1" r="1.9"/><circle cx="352.7" cy="34.0" r="1.9"/><circle cx="374.7" cy="49.1" r="1.9"/><circle cx="360.3" cy="54.3" r="1.9"/><circle cx="347.5" cy="57.3" r="1.9"/><circle cx="347.5" cy="90.4" r="1.9"/><circle cx="360.6" cy="49.1" r="1.9"/><circle cx="380.2" cy="40.9" r="1.9"/><circle cx="339.5" cy="62.1" r="1.9"/><circle cx="357.2" cy="64.0" r="1.9"/><circle cx="359.1" cy="49.0" r="1.9"/><circle cx="380.1" cy="69.5" r="1.9"/><circle cx="350.5" cy="47.1" r="1.9"/><circle cx="382.7" cy="43.3" r="1.9"/><circle cx="339.1" cy="53.5" r="1.9"/><circle cx="367.8" cy="56.1" r="1.9"/><circle cx="363.8" cy="48.5" r="1.9"/><circle cx="363.2" cy="69.5" r="1.9"/><circle cx="353.5" cy="54.7" r="1.9"/><circle cx="339.1" cy="46.0" r="1.9"/><circle cx="337.0" cy="66.8" r="1.9"/><circle cx="385.0" cy="46.6" r="1.9"/><circle cx="364.6" cy="59.3" r="1.9"/><circle cx="343.7" cy="74.3" r="1.9"/><circle cx="375.4" cy="56.5" r="1.9"/><circle cx="342.7" cy="81.6" r="1.9"/><circle cx="348.8" cy="65.4" r="1.9"/><circle cx="341.8" cy="66.1" r="1.9"/><circle cx="383.2" cy="46.1" r="1.9"/><circle cx="388.2" cy="62.2" r="1.9"/><circle cx="350.5" cy="52.3" r="1.9"/><circle cx="365.0" cy="60.9" r="1.9"/><circle cx="375.6" cy="58.5" r="1.9"/><circle cx="396.9" cy="44.8" r="1.9"/><circle cx="329.7" cy="53.6" r="1.9"/><circle cx="358.5" cy="72.5" r="1.9"/><circle cx="367.8" cy="66.8" r="1.9"/><circle cx="345.9" cy="45.1" r="1.9"/><circle cx="371.1" cy="49.0" r="1.9"/><circle cx="364.5" cy="58.5" r="1.9"/><circle cx="373.9" cy="53.4" r="1.9"/><circle cx="339.2" cy="96.5" r="1.9"/><circle cx="365.3" cy="64.7" r="1.9"/><circle cx="351.5" cy="63.0" r="1.9"/><circle cx="372.6" cy="52.4" r="1.9"/><circle cx="366.0" cy="52.9" r="1.9"/><circle cx="355.0" cy="62.3" r="1.9"/><circle cx="345.3" cy="48.9" r="1.9"/><circle cx="388.8" cy="48.5" r="1.9"/><circle cx="373.6" cy="68.5" r="1.9"/><circle cx="378.8" cy="46.2" r="1.9"/><circle cx="352.4" cy="58.2" r="1.9"/><circle cx="357.5" cy="56.6" r="1.9"/><circle cx="388.0" cy="51.3" r="1.9"/><circle cx="373.2" cy="55.9" r="1.9"/><circle cx="353.4" cy="48.4" r="1.9"/><circle cx="354.6" cy="79.1" r="1.9"/><circle cx="369.6" cy="42.7" r="1.9"/><circle cx="357.3" cy="62.6" r="1.9"/><circle cx="348.9" cy="57.0" r="1.9"/><circle cx="375.9" cy="68.0" r="1.9"/><circle cx="373.2" cy="50.1" r="1.9"/><circle cx="364.4" cy="44.1" r="1.9"/><circle cx="344.2" cy="45.9" r="1.9"/><circle cx="357.4" cy="48.0" r="1.9"/><circle cx="349.1" cy="91.9" r="1.9"/><circle cx="372.5" cy="62.6" r="1.9"/><circle cx="356.1" cy="59.7" r="1.9"/><circle cx="368.5" cy="82.3" r="1.9"/><circle cx="368.7" cy="45.4" r="1.9"/><circle cx="353.0" cy="53.9" r="1.9"/><circle cx="323.4" cy="55.8" r="1.9"/><circle cx="348.0" cy="51.2" r="1.9"/><circle cx="338.7" cy="64.1" r="1.9"/><circle cx="356.1" cy="68.2" r="1.9"/><circle cx="364.7" cy="63.5" r="1.9"/><circle cx="384.4" cy="51.1" r="1.9"/><circle cx="364.0" cy="52.5" r="1.9"/><circle cx="348.6" cy="50.3" r="1.9"/><circle cx="398.0" cy="45.8" r="1.9"/><circle cx="362.9" cy="67.8" r="1.9"/><circle cx="348.3" cy="85.0" r="1.9"/><circle cx="359.9" cy="54.2" r="1.9"/><circle cx="339.4" cy="67.7" r="1.9"/><circle cx="370.3" cy="60.4" r="1.9"/><circle cx="356.8" cy="86.5" r="1.9"/><circle cx="375.7" cy="81.7" r="1.9"/><circle cx="382.4" cy="45.8" r="1.9"/><circle cx="375.6" cy="55.2" r="1.9"/><circle cx="380.2" cy="57.5" r="1.9"/><circle cx="362.8" cy="45.8" r="1.9"/><circle cx="340.9" cy="98.0" r="1.9"/><circle cx="357.6" cy="68.5" r="1.9"/><circle cx="340.6" cy="68.8" r="1.9"/><circle cx="359.9" cy="58.9" r="1.9"/><circle cx="356.5" cy="61.1" r="1.9"/><circle cx="372.7" cy="55.6" r="1.9"/><circle cx="354.0" cy="79.7" r="1.9"/><circle cx="321.5" cy="94.9" r="1.9"/><circle cx="347.3" cy="99.3" r="1.9"/><circle cx="378.8" cy="67.5" r="1.9"/><circle cx="331.9" cy="70.0" r="1.9"/><circle cx="349.7" cy="63.3" r="1.9"/><circle cx="364.1" cy="54.1" r="1.9"/><circle cx="341.4" cy="63.9" r="1.9"/><circle cx="351.0" cy="67.7" r="1.9"/><circle cx="360.1" cy="66.5" r="1.9"/><circle cx="336.1" cy="78.5" r="1.9"/><circle cx="366.9" cy="57.2" r="1.9"/><circle cx="365.7" cy="64.8" r="1.9"/><circle cx="338.6" cy="73.9" r="1.9"/><circle cx="369.6" cy="40.3" r="1.9"/><circle cx="378.2" cy="56.9" r="1.9"/><circle cx="365.3" cy="44.1" r="1.9"/><circle cx="370.6" cy="53.0" r="1.9"/><circle cx="368.8" cy="65.7" r="1.9"/><circle cx="359.3" cy="57.9" r="1.9"/><circle cx="367.8" cy="81.1" r="1.9"/><circle cx="371.6" cy="48.6" r="1.9"/><circle cx="337.4" cy="87.9" r="1.9"/><circle cx="375.4" cy="43.6" r="1.9"/><circle cx="377.7" cy="50.3" r="1.9"/><circle cx="368.1" cy="73.8" r="1.9"/><circle cx="357.1" cy="48.5" r="1.9"/><circle cx="375.4" cy="41.6" r="1.9"/><circle cx="380.3" cy="62.7" r="1.9"/><circle cx="370.2" cy="46.7" r="1.9"/><circle cx="374.3" cy="71.8" r="1.9"/><circle cx="369.4" cy="89.3" r="1.9"/><circle cx="352.7" cy="83.4" r="1.9"/><circle cx="374.7" cy="51.2" r="1.9"/><circle cx="353.5" cy="71.7" r="1.9"/><circle cx="369.9" cy="79.3" r="1.9"/><circle cx="363.8" cy="52.0" r="1.9"/><circle cx="363.7" cy="34.9" r="1.9"/><circle cx="361.4" cy="60.9" r="1.9"/><circle cx="365.5" cy="48.1" r="1.9"/><circle cx="369.5" cy="54.6" r="1.9"/><circle cx="369.6" cy="57.6" r="1.9"/><circle cx="349.4" cy="50.0" r="1.9"/><circle cx="360.2" cy="40.7" r="1.9"/><circle cx="364.7" cy="66.7" r="1.9"/><circle cx="355.6" cy="95.4" r="1.9"/><circle cx="366.2" cy="52.4" r="1.9"/><circle cx="396.3" cy="68.4" r="1.9"/><circle cx="385.2" cy="41.0" r="1.9"/><circle cx="369.4" cy="38.0" r="1.9"/><circle cx="371.0" cy="64.2" r="1.9"/><circle cx="388.7" cy="39.9" r="1.9"/><circle cx="369.3" cy="55.1" r="1.9"/><circle cx="338.7" cy="57.0" r="1.9"/><circle cx="357.5" cy="76.4" r="1.9"/><circle cx="365.5" cy="53.5" r="1.9"/><circle cx="395.3" cy="52.6" r="1.9"/><circle cx="343.2" cy="41.9" r="1.9"/><circle cx="390.3" cy="43.9" r="1.9"/><circle cx="364.9" cy="47.5" r="1.9"/><circle cx="372.5" cy="68.2" r="1.9"/><circle cx="354.7" cy="69.7" r="1.9"/><circle cx="357.8" cy="79.1" r="1.9"/><circle cx="377.0" cy="63.9" r="1.9"/><circle cx="365.9" cy="54.2" r="1.9"/><circle cx="375.5" cy="65.2" r="1.9"/><circle cx="362.4" cy="57.2" r="1.9"/><circle cx="354.1" cy="67.1" r="1.9"/><circle cx="366.7" cy="40.9" r="1.9"/><circle cx="353.7" cy="64.8" r="1.9"/><circle cx="362.1" cy="56.7" r="1.9"/><circle cx="382.9" cy="57.3" r="1.9"/><circle cx="351.8" cy="44.7" r="1.9"/><circle cx="329.1" cy="86.6" r="1.9"/><circle cx="363.9" cy="55.9" r="1.9"/><circle cx="387.4" cy="57.4" r="1.9"/><circle cx="380.9" cy="50.8" r="1.9"/><circle cx="384.6" cy="51.3" r="1.9"/><circle cx="380.5" cy="59.7" r="1.9"/><circle cx="354.9" cy="53.4" r="1.9"/><circle cx="364.8" cy="58.9" r="1.9"/><circle cx="328.4" cy="51.3" r="1.9"/><circle cx="355.4" cy="56.5" r="1.9"/></g>
<g fill="#2c6ca3" fill-opacity="0.24"><circle cx="369.4" cy="103.5" r="1.9"/><circle cx="342.9" cy="67.6" r="1.9"/><circle cx="369.9" cy="94.3" r="1.9"/><circle cx="367.5" cy="98.3" r="1.9"/><circle cx="364.4" cy="93.8" r="1.9"/><circle cx="364.1" cy="58.6" r="1.9"/><circle cx="359.1" cy="85.1" r="1.9"/><circle cx="372.0" cy="92.5" r="1.9"/><circle cx="371.2" cy="98.1" r="1.9"/><circle cx="372.5" cy="105.0" r="1.9"/><circle cx="366.8" cy="37.4" r="1.9"/><circle cx="374.1" cy="86.7" r="1.9"/><circle cx="359.0" cy="83.4" r="1.9"/><circle cx="380.3" cy="91.5" r="1.9"/><circle cx="357.5" cy="67.6" r="1.9"/><circle cx="382.1" cy="103.4" r="1.9"/><circle cx="370.6" cy="119.1" r="1.9"/><circle cx="363.1" cy="96.0" r="1.9"/><circle cx="347.4" cy="80.2" r="1.9"/><circle cx="364.4" cy="47.0" r="1.9"/><circle cx="366.8" cy="87.3" r="1.9"/><circle cx="365.0" cy="100.9" r="1.9"/><circle cx="368.1" cy="89.9" r="1.9"/><circle cx="365.9" cy="99.5" r="1.9"/><circle cx="351.6" cy="99.6" r="1.9"/><circle cx="345.7" cy="84.4" r="1.9"/><circle cx="369.8" cy="80.9" r="1.9"/><circle cx="366.2" cy="97.4" r="1.9"/><circle cx="379.7" cy="67.1" r="1.9"/><circle cx="389.6" cy="87.3" r="1.9"/><circle cx="373.0" cy="84.0" r="1.9"/><circle cx="372.1" cy="94.9" r="1.9"/><circle cx="368.7" cy="79.6" r="1.9"/><circle cx="362.3" cy="78.9" r="1.9"/><circle cx="351.5" cy="74.5" r="1.9"/><circle cx="328.5" cy="100.1" r="1.9"/><circle cx="370.7" cy="75.1" r="1.9"/><circle cx="371.6" cy="95.8" r="1.9"/><circle cx="362.2" cy="84.2" r="1.9"/><circle cx="361.7" cy="73.1" r="1.9"/><circle cx="371.1" cy="59.8" r="1.9"/><circle cx="375.7" cy="93.7" r="1.9"/><circle cx="367.7" cy="105.0" r="1.9"/><circle cx="366.8" cy="83.5" r="1.9"/><circle cx="366.9" cy="64.8" r="1.9"/><circle cx="373.8" cy="91.6" r="1.9"/><circle cx="385.4" cy="43.9" r="1.9"/><circle cx="354.8" cy="118.4" r="1.9"/><circle cx="364.7" cy="59.9" r="1.9"/><circle cx="346.9" cy="65.7" r="1.9"/><circle cx="352.8" cy="66.7" r="1.9"/><circle cx="396.2" cy="100.2" r="1.9"/><circle cx="352.7" cy="62.4" r="1.9"/><circle cx="357.1" cy="65.6" r="1.9"/><circle cx="350.7" cy="64.2" r="1.9"/><circle cx="374.3" cy="89.7" r="1.9"/><circle cx="356.9" cy="90.0" r="1.9"/><circle cx="335.8" cy="63.4" r="1.9"/><circle cx="362.9" cy="79.8" r="1.9"/><circle cx="374.2" cy="53.8" r="1.9"/><circle cx="363.9" cy="100.2" r="1.9"/><circle cx="363.4" cy="81.3" r="1.9"/><circle cx="356.1" cy="109.2" r="1.9"/><circle cx="347.6" cy="75.8" r="1.9"/><circle cx="361.5" cy="83.1" r="1.9"/><circle cx="350.6" cy="112.6" r="1.9"/><circle cx="354.6" cy="78.0" r="1.9"/><circle cx="345.1" cy="65.0" r="1.9"/><circle cx="357.9" cy="81.5" r="1.9"/><circle cx="376.2" cy="64.1" r="1.9"/><circle cx="363.0" cy="96.3" r="1.9"/><circle cx="374.9" cy="32.5" r="1.9"/><circle cx="370.3" cy="108.3" r="1.9"/><circle cx="366.8" cy="92.3" r="1.9"/><circle cx="346.2" cy="66.1" r="1.9"/><circle cx="363.9" cy="90.8" r="1.9"/><circle cx="366.8" cy="95.9" r="1.9"/><circle cx="369.8" cy="71.9" r="1.9"/><circle cx="338.9" cy="58.0" r="1.9"/><circle cx="341.6" cy="79.0" r="1.9"/><circle cx="353.6" cy="108.8" r="1.9"/><circle cx="343.2" cy="42.4" r="1.9"/><circle cx="363.7" cy="90.2" r="1.9"/><circle cx="356.0" cy="117.1" r="1.9"/><circle cx="355.5" cy="87.4" r="1.9"/><circle cx="366.8" cy="70.2" r="1.9"/><circle cx="338.7" cy="131.8" r="1.9"/><circle cx="358.7" cy="89.0" r="1.9"/><circle cx="365.5" cy="80.3" r="1.9"/><circle cx="376.9" cy="95.3" r="1.9"/><circle cx="362.3" cy="79.2" r="1.9"/><circle cx="351.0" cy="77.3" r="1.9"/><circle cx="371.4" cy="67.8" r="1.9"/><circle cx="366.8" cy="39.2" r="1.9"/><circle cx="390.8" cy="80.4" r="1.9"/><circle cx="393.3" cy="101.5" r="1.9"/><circle cx="361.5" cy="103.7" r="1.9"/><circle cx="383.6" cy="107.3" r="1.9"/><circle cx="362.5" cy="73.6" r="1.9"/><circle cx="346.8" cy="80.1" r="1.9"/><circle cx="369.9" cy="77.9" r="1.9"/><circle cx="378.8" cy="82.5" r="1.9"/><circle cx="325.2" cy="58.3" r="1.9"/><circle cx="376.7" cy="67.0" r="1.9"/><circle cx="347.5" cy="68.4" r="1.9"/><circle cx="385.3" cy="97.7" r="1.9"/><circle cx="365.7" cy="91.5" r="1.9"/><circle cx="367.2" cy="108.5" r="1.9"/><circle cx="382.4" cy="97.2" r="1.9"/><circle cx="356.8" cy="84.4" r="1.9"/><circle cx="393.4" cy="107.2" r="1.9"/><circle cx="366.8" cy="97.0" r="1.9"/><circle cx="347.9" cy="51.0" r="1.9"/><circle cx="347.2" cy="89.2" r="1.9"/><circle cx="373.0" cy="112.0" r="1.9"/><circle cx="363.9" cy="107.6" r="1.9"/><circle cx="372.6" cy="87.5" r="1.9"/><circle cx="374.1" cy="71.4" r="1.9"/><circle cx="372.5" cy="87.5" r="1.9"/><circle cx="373.8" cy="71.0" r="1.9"/><circle cx="375.4" cy="80.6" r="1.9"/><circle cx="363.3" cy="105.3" r="1.9"/><circle cx="348.5" cy="68.1" r="1.9"/><circle cx="349.2" cy="93.8" r="1.9"/><circle cx="366.3" cy="53.4" r="1.9"/><circle cx="355.7" cy="96.2" r="1.9"/><circle cx="366.8" cy="88.4" r="1.9"/><circle cx="351.3" cy="95.4" r="1.9"/><circle cx="359.0" cy="90.6" r="1.9"/><circle cx="363.0" cy="78.0" r="1.9"/><circle cx="358.2" cy="89.2" r="1.9"/><circle cx="343.9" cy="65.4" r="1.9"/><circle cx="367.3" cy="78.5" r="1.9"/><circle cx="366.8" cy="58.5" r="1.9"/><circle cx="356.4" cy="84.7" r="1.9"/><circle cx="371.5" cy="63.5" r="1.9"/><circle cx="361.2" cy="65.1" r="1.9"/><circle cx="377.4" cy="88.3" r="1.9"/><circle cx="355.3" cy="41.9" r="1.9"/><circle cx="364.5" cy="59.6" r="1.9"/><circle cx="359.8" cy="76.4" r="1.9"/><circle cx="355.4" cy="89.2" r="1.9"/><circle cx="366.0" cy="87.2" r="1.9"/><circle cx="374.3" cy="88.7" r="1.9"/><circle cx="333.0" cy="80.8" r="1.9"/><circle cx="352.6" cy="105.3" r="1.9"/><circle cx="331.8" cy="84.7" r="1.9"/><circle cx="349.4" cy="96.1" r="1.9"/><circle cx="338.4" cy="56.9" r="1.9"/><circle cx="366.8" cy="72.4" r="1.9"/><circle cx="351.7" cy="56.8" r="1.9"/><circle cx="366.7" cy="44.4" r="1.9"/><circle cx="375.6" cy="77.3" r="1.9"/><circle cx="343.7" cy="50.7" r="1.9"/><circle cx="352.3" cy="79.0" r="1.9"/><circle cx="366.8" cy="74.6" r="1.9"/><circle cx="353.9" cy="101.9" r="1.9"/><circle cx="354.3" cy="84.1" r="1.9"/><circle cx="331.0" cy="60.8" r="1.9"/><circle cx="368.5" cy="76.9" r="1.9"/><circle cx="364.6" cy="92.0" r="1.9"/><circle cx="346.9" cy="85.4" r="1.9"/><circle cx="366.8" cy="98.2" r="1.9"/><circle cx="347.4" cy="97.1" r="1.9"/><circle cx="369.8" cy="110.3" r="1.9"/><circle cx="350.4" cy="66.3" r="1.9"/><circle cx="340.4" cy="66.5" r="1.9"/><circle cx="355.8" cy="87.3" r="1.9"/><circle cx="375.3" cy="108.6" r="1.9"/><circle cx="377.6" cy="89.6" r="1.9"/><circle cx="372.8" cy="50.7" r="1.9"/><circle cx="365.5" cy="108.4" r="1.9"/><circle cx="365.1" cy="94.2" r="1.9"/><circle cx="365.6" cy="93.6" r="1.9"/><circle cx="367.2" cy="71.6" r="1.9"/><circle cx="371.8" cy="107.4" r="1.9"/><circle cx="346.6" cy="80.9" r="1.9"/><circle cx="352.7" cy="99.7" r="1.9"/><circle cx="356.2" cy="91.6" r="1.9"/><circle cx="366.8" cy="106.4" r="1.9"/><circle cx="352.1" cy="76.3" r="1.9"/><circle cx="351.4" cy="93.9" r="1.9"/><circle cx="375.9" cy="95.6" r="1.9"/><circle cx="377.2" cy="66.5" r="1.9"/><circle cx="347.2" cy="79.4" r="1.9"/><circle cx="352.2" cy="44.6" r="1.9"/><circle cx="366.8" cy="78.1" r="1.9"/><circle cx="354.8" cy="83.9" r="1.9"/><circle cx="372.5" cy="83.2" r="1.9"/><circle cx="333.8" cy="37.8" r="1.9"/><circle cx="354.1" cy="63.8" r="1.9"/><circle cx="370.1" cy="90.2" r="1.9"/><circle cx="380.3" cy="79.8" r="1.9"/><circle cx="374.7" cy="94.2" r="1.9"/><circle cx="366.8" cy="73.9" r="1.9"/><circle cx="341.0" cy="94.0" r="1.9"/><circle cx="350.2" cy="94.9" r="1.9"/><circle cx="370.4" cy="77.7" r="1.9"/><circle cx="366.6" cy="61.9" r="1.9"/><circle cx="372.8" cy="70.6" r="1.9"/><circle cx="367.7" cy="72.4" r="1.9"/><circle cx="352.5" cy="84.6" r="1.9"/><circle cx="361.9" cy="127.0" r="1.9"/><circle cx="348.8" cy="88.2" r="1.9"/><circle cx="372.2" cy="89.0" r="1.9"/><circle cx="341.9" cy="76.2" r="1.9"/><circle cx="356.5" cy="55.1" r="1.9"/><circle cx="366.8" cy="72.3" r="1.9"/><circle cx="381.8" cy="115.5" r="1.9"/><circle cx="350.0" cy="85.0" r="1.9"/><circle cx="366.4" cy="89.5" r="1.9"/><circle cx="344.9" cy="73.0" r="1.9"/><circle cx="374.4" cy="86.5" r="1.9"/><circle cx="360.7" cy="118.6" r="1.9"/><circle cx="358.7" cy="101.2" r="1.9"/><circle cx="348.4" cy="91.1" r="1.9"/><circle cx="357.8" cy="121.0" r="1.9"/><circle cx="352.0" cy="87.8" r="1.9"/><circle cx="352.9" cy="90.6" r="1.9"/><circle cx="373.2" cy="67.1" r="1.9"/><circle cx="347.4" cy="87.7" r="1.9"/><circle cx="365.4" cy="96.5" r="1.9"/><circle cx="372.1" cy="87.9" r="1.9"/><circle cx="366.8" cy="85.4" r="1.9"/><circle cx="328.8" cy="68.9" r="1.9"/><circle cx="369.4" cy="102.3" r="1.9"/><circle cx="344.3" cy="124.9" r="1.9"/><circle cx="342.4" cy="38.1" r="1.9"/><circle cx="357.1" cy="72.7" r="1.9"/><circle cx="364.1" cy="85.1" r="1.9"/><circle cx="350.2" cy="43.9" r="1.9"/><circle cx="354.1" cy="105.7" r="1.9"/><circle cx="376.0" cy="99.6" r="1.9"/><circle cx="364.7" cy="93.5" r="1.9"/><circle cx="366.8" cy="77.4" r="1.9"/><circle cx="349.6" cy="93.9" r="1.9"/><circle cx="357.1" cy="72.4" r="1.9"/><circle cx="360.9" cy="92.0" r="1.9"/><circle cx="364.2" cy="63.4" r="1.9"/><circle cx="362.3" cy="77.9" r="1.9"/><circle cx="365.4" cy="114.8" r="1.9"/><circle cx="387.0" cy="59.2" r="1.9"/><circle cx="361.5" cy="105.8" r="1.9"/><circle cx="366.9" cy="88.4" r="1.9"/><circle cx="363.1" cy="86.0" r="1.9"/><circle cx="346.2" cy="47.1" r="1.9"/><circle cx="371.2" cy="90.1" r="1.9"/><circle cx="339.9" cy="114.1" r="1.9"/><circle cx="375.7" cy="84.2" r="1.9"/><circle cx="366.8" cy="106.4" r="1.9"/><circle cx="351.3" cy="54.3" r="1.9"/><circle cx="360.0" cy="73.8" r="1.9"/><circle cx="349.6" cy="58.8" r="1.9"/><circle cx="354.7" cy="93.1" r="1.9"/><circle cx="379.6" cy="104.4" r="1.9"/></g>
<polygon points="304.0,67.0 306.8,66.5 309.6,65.9 312.4,65.4 315.2,64.9 317.9,64.3 320.7,63.8 323.5,63.2 326.3,62.7 329.1,62.1 331.9,61.6 334.7,61.0 337.5,60.4 340.3,59.9 343.1,59.3 345.8,58.7 348.6,58.1 351.4,57.5 354.2,56.9 357.0,56.3 359.8,55.7 362.6,55.0 365.4,54.3 368.2,53.6 371.0,52.9 373.7,52.1 376.5,51.4 379.3,50.6 382.1,49.7 384.9,48.9 387.7,48.1 390.5,47.2 393.3,46.4 396.1,45.5 398.9,44.7 401.6,43.8 404.4,42.9 407.2,42.0 410.0,41.2 412.8,40.3 412.8,48.7 410.0,49.2 407.2,49.6 404.4,50.1 401.6,50.5 398.9,51.0 396.1,51.5 393.3,52.0 390.5,52.4 387.7,52.9 384.9,53.4 382.1,53.9 379.3,54.4 376.5,55.0 373.7,55.5 371.0,56.1 368.2,56.7 365.4,57.3 362.6,58.0 359.8,58.7 357.0,59.4 354.2,60.1 351.4,60.8 348.6,61.5 345.8,62.3 343.1,63.0 340.3,63.8 337.5,64.6 334.7,65.3 331.9,66.1 329.1,66.9 326.3,67.7 323.5,68.4 320.7,69.2 317.9,70.0 315.2,70.8 312.4,71.6 309.6,72.4 306.8,73.2 304.0,74.0" fill="#7d9f74" fill-opacity="0.27"/>
<polygon points="304.0,61.1 306.8,61.9 309.6,62.7 312.4,63.5 315.2,64.3 317.9,65.1 320.7,65.9 323.5,66.7 326.3,67.4 329.1,68.2 331.9,69.0 334.7,69.7 337.5,70.5 340.3,71.2 343.1,71.9 345.8,72.6 348.6,73.3 351.4,73.9 354.2,74.6 357.0,75.2 359.8,75.8 362.6,76.3 365.4,76.8 368.2,77.2 371.0,77.6 373.7,77.9 376.5,78.2 379.3,78.4 382.1,78.7 384.9,78.8 387.7,79.0 390.5,79.2 393.3,79.4 396.1,79.5 398.9,79.7 401.6,79.8 404.4,79.9 407.2,80.1 410.0,80.2 412.8,80.3 412.8,98.7 410.0,97.7 407.2,96.7 404.4,95.7 401.6,94.7 398.9,93.7 396.1,92.7 393.3,91.7 390.5,90.8 387.7,89.8 384.9,88.9 382.1,87.9 379.3,87.0 376.5,86.1 373.7,85.3 371.0,84.5 368.2,83.7 365.4,83.0 362.6,82.4 359.8,81.8 357.0,81.2 354.2,80.7 351.4,80.2 348.6,79.8 345.8,79.3 343.1,78.9 340.3,78.5 337.5,78.1 334.7,77.7 331.9,77.3 329.1,76.9 326.3,76.6 323.5,76.2 320.7,75.9 317.9,75.5 315.2,75.2 312.4,74.9 309.6,74.5 306.8,74.2 304.0,73.9" fill="#7ea7c9" fill-opacity="0.34"/>
<line x1="304" y1="70.5" x2="412.8" y2="44.5" stroke="#2c672c" stroke-width="1.7"/>
<line x1="304" y1="67.5" x2="412.8" y2="89.5" stroke="#1c5f9c" stroke-width="1.7"/>
</g>
<rect x="299.0" y="0.5" width="118.8" height="142.3" fill="none" stroke="#575757" stroke-width="1"/>
<line x1="299.0" y1="17.5" x2="301.5" y2="17.5" stroke="#000" stroke-width="1"/>
<text x="298.0" y="19.9" text-anchor="end" class="tk">2</text>
<line x1="299.0" y1="39.5" x2="301.5" y2="39.5" stroke="#000" stroke-width="1"/>
<text x="298.0" y="41.9" text-anchor="end" class="tk">1</text>
<line x1="299.0" y1="61.5" x2="301.5" y2="61.5" stroke="#000" stroke-width="1"/>
<text x="298.0" y="63.9" text-anchor="end" class="tk">0</text>
<line x1="299.0" y1="83.5" x2="301.5" y2="83.5" stroke="#000" stroke-width="1"/>
<text x="298.0" y="85.8" text-anchor="end" class="tk">−1</text>
<line x1="299.0" y1="105.5" x2="301.5" y2="105.5" stroke="#000" stroke-width="1"/>
<text x="298.0" y="107.8" text-anchor="end" class="tk">−2</text>
<line x1="299.0" y1="127.5" x2="301.5" y2="127.5" stroke="#000" stroke-width="1"/>
<text x="298.0" y="129.8" text-anchor="end" class="tk">−3</text>
<line x1="304.5" y1="142.8" x2="304.5" y2="140.3" stroke="#000" stroke-width="1"/>
<text x="304.3" y="149.2" text-anchor="middle" class="tk">−4</text>
<line x1="331.5" y1="142.8" x2="331.5" y2="140.3" stroke="#000" stroke-width="1"/>
<text x="331.3" y="149.2" text-anchor="middle" class="tk">−2</text>
<line x1="358.5" y1="142.8" x2="358.5" y2="140.3" stroke="#000" stroke-width="1"/>
<text x="358.4" y="149.2" text-anchor="middle" class="tk">0</text>
<line x1="385.5" y1="142.8" x2="385.5" y2="140.3" stroke="#000" stroke-width="1"/>
<text x="385.5" y="149.2" text-anchor="middle" class="tk">2</text>
<line x1="412.5" y1="142.8" x2="412.5" y2="140.3" stroke="#000" stroke-width="1"/>
<text x="412.5" y="149.2" text-anchor="middle" class="tk">4</text>
<text x="304.0" y="11.2" class="tt" textLength="112.4">HYD × CWM<tspan dy="1.3" font-size="4.8">PC1</tspan><tspan dy="-1.3">:</tspan><tspan font-style="italic">F</tspan>= 32.68, <tspan font-style="italic">P</tspan> =1.39e<tspan dy="-2.4" font-size="4.0">−8</tspan></text>
<clipPath id="clipd"><rect x="432.5" y="0.5" width="119.0" height="142.3"/></clipPath>
<g clip-path="url(#clipd)">
<g fill="#3d6d3c" fill-opacity="0.26"><circle cx="488.7" cy="55.3" r="1.9"/><circle cx="503.9" cy="43.3" r="1.9"/><circle cx="506.4" cy="44.5" r="1.9"/><circle cx="510.8" cy="60.2" r="1.9"/><circle cx="487.8" cy="58.2" r="1.9"/><circle cx="493.2" cy="60.3" r="1.9"/><circle cx="495.9" cy="69.8" r="1.9"/><circle cx="475.4" cy="56.1" r="1.9"/><circle cx="484.2" cy="48.8" r="1.9"/><circle cx="470.4" cy="72.2" r="1.9"/><circle cx="504.6" cy="41.4" r="1.9"/><circle cx="514.8" cy="56.4" r="1.9"/><circle cx="502.7" cy="49.4" r="1.9"/><circle cx="504.1" cy="56.8" r="1.9"/><circle cx="460.7" cy="95.1" r="1.9"/><circle cx="475.7" cy="51.4" r="1.9"/><circle cx="467.3" cy="63.6" r="1.9"/><circle cx="501.9" cy="57.4" r="1.9"/><circle cx="494.8" cy="56.9" r="1.9"/><circle cx="487.7" cy="49.4" r="1.9"/><circle cx="498.0" cy="63.4" r="1.9"/><circle cx="469.7" cy="69.2" r="1.9"/><circle cx="507.2" cy="52.0" r="1.9"/><circle cx="502.4" cy="61.6" r="1.9"/><circle cx="473.6" cy="72.9" r="1.9"/><circle cx="478.6" cy="62.9" r="1.9"/><circle cx="487.1" cy="73.9" r="1.9"/><circle cx="476.0" cy="66.3" r="1.9"/><circle cx="475.5" cy="88.6" r="1.9"/><circle cx="483.9" cy="55.2" r="1.9"/><circle cx="508.0" cy="47.5" r="1.9"/><circle cx="493.5" cy="57.7" r="1.9"/><circle cx="485.1" cy="62.3" r="1.9"/><circle cx="489.1" cy="52.1" r="1.9"/><circle cx="501.6" cy="49.1" r="1.9"/><circle cx="475.3" cy="58.3" r="1.9"/><circle cx="495.8" cy="50.6" r="1.9"/><circle cx="477.8" cy="71.7" r="1.9"/><circle cx="498.8" cy="57.4" r="1.9"/><circle cx="477.3" cy="62.9" r="1.9"/><circle cx="512.0" cy="52.4" r="1.9"/><circle cx="493.3" cy="53.3" r="1.9"/><circle cx="492.1" cy="45.6" r="1.9"/><circle cx="497.4" cy="67.1" r="1.9"/><circle cx="504.3" cy="61.5" r="1.9"/><circle cx="486.3" cy="63.5" r="1.9"/><circle cx="473.9" cy="71.2" r="1.9"/><circle cx="495.4" cy="54.4" r="1.9"/><circle cx="492.0" cy="50.8" r="1.9"/><circle cx="486.2" cy="62.2" r="1.9"/><circle cx="512.0" cy="43.1" r="1.9"/><circle cx="503.7" cy="48.1" r="1.9"/><circle cx="500.1" cy="49.9" r="1.9"/><circle cx="500.3" cy="51.9" r="1.9"/><circle cx="500.7" cy="46.9" r="1.9"/><circle cx="500.9" cy="56.7" r="1.9"/><circle cx="506.6" cy="50.0" r="1.9"/><circle cx="477.3" cy="72.7" r="1.9"/><circle cx="482.5" cy="71.5" r="1.9"/><circle cx="511.9" cy="52.4" r="1.9"/><circle cx="496.2" cy="57.8" r="1.9"/><circle cx="498.3" cy="48.5" r="1.9"/><circle cx="491.7" cy="81.6" r="1.9"/><circle cx="494.3" cy="55.7" r="1.9"/><circle cx="487.0" cy="52.5" r="1.9"/><circle cx="494.0" cy="63.5" r="1.9"/><circle cx="490.6" cy="50.2" r="1.9"/><circle cx="471.7" cy="78.3" r="1.9"/><circle cx="496.3" cy="56.7" r="1.9"/><circle cx="489.4" cy="60.3" r="1.9"/><circle cx="495.4" cy="45.8" r="1.9"/><circle cx="493.8" cy="50.1" r="1.9"/><circle cx="487.7" cy="57.2" r="1.9"/><circle cx="509.2" cy="49.9" r="1.9"/><circle cx="497.0" cy="44.2" r="1.9"/><circle cx="502.1" cy="39.4" r="1.9"/><circle cx="501.1" cy="69.8" r="1.9"/><circle cx="453.2" cy="100.8" r="1.9"/><circle cx="510.9" cy="51.4" r="1.9"/><circle cx="505.3" cy="56.4" r="1.9"/><circle cx="485.7" cy="64.6" r="1.9"/><circle cx="490.8" cy="44.2" r="1.9"/><circle cx="489.2" cy="66.9" r="1.9"/><circle cx="504.4" cy="50.4" r="1.9"/><circle cx="477.2" cy="87.7" r="1.9"/><circle cx="483.4" cy="70.0" r="1.9"/><circle cx="502.8" cy="58.3" r="1.9"/><circle cx="497.2" cy="67.4" r="1.9"/><circle cx="486.7" cy="53.4" r="1.9"/><circle cx="486.5" cy="81.2" r="1.9"/><circle cx="510.5" cy="37.3" r="1.9"/><circle cx="476.4" cy="71.6" r="1.9"/><circle cx="487.3" cy="60.7" r="1.9"/><circle cx="514.0" cy="49.2" r="1.9"/><circle cx="514.4" cy="41.3" r="1.9"/><circle cx="481.4" cy="51.8" r="1.9"/><circle cx="489.7" cy="62.3" r="1.9"/><circle cx="495.2" cy="52.9" r="1.9"/><circle cx="492.6" cy="55.7" r="1.9"/><circle cx="488.3" cy="57.4" r="1.9"/><circle cx="476.1" cy="62.2" r="1.9"/><circle cx="504.8" cy="52.1" r="1.9"/><circle cx="488.2" cy="52.8" r="1.9"/><circle cx="490.3" cy="56.4" r="1.9"/><circle cx="487.3" cy="57.6" r="1.9"/><circle cx="467.2" cy="81.3" r="1.9"/><circle cx="497.4" cy="59.9" r="1.9"/><circle cx="457.5" cy="105.8" r="1.9"/><circle cx="486.9" cy="57.3" r="1.9"/><circle cx="483.3" cy="58.8" r="1.9"/><circle cx="499.8" cy="43.5" r="1.9"/><circle cx="506.7" cy="50.8" r="1.9"/><circle cx="510.6" cy="36.5" r="1.9"/><circle cx="496.8" cy="55.0" r="1.9"/><circle cx="488.1" cy="59.7" r="1.9"/><circle cx="481.6" cy="68.6" r="1.9"/><circle cx="505.8" cy="43.6" r="1.9"/><circle cx="496.5" cy="32.4" r="1.9"/><circle cx="502.7" cy="63.0" r="1.9"/><circle cx="482.6" cy="61.4" r="1.9"/><circle cx="493.6" cy="50.2" r="1.9"/><circle cx="500.2" cy="63.0" r="1.9"/><circle cx="494.3" cy="58.0" r="1.9"/><circle cx="475.5" cy="79.6" r="1.9"/><circle cx="465.4" cy="85.2" r="1.9"/><circle cx="488.3" cy="45.7" r="1.9"/><circle cx="487.3" cy="66.4" r="1.9"/><circle cx="511.6" cy="47.3" r="1.9"/><circle cx="483.3" cy="59.3" r="1.9"/><circle cx="508.8" cy="52.6" r="1.9"/><circle cx="468.8" cy="74.8" r="1.9"/><circle cx="477.3" cy="68.6" r="1.9"/><circle cx="504.5" cy="48.4" r="1.9"/><circle cx="490.0" cy="60.9" r="1.9"/><circle cx="504.6" cy="50.3" r="1.9"/><circle cx="491.6" cy="50.7" r="1.9"/><circle cx="494.7" cy="43.6" r="1.9"/><circle cx="456.4" cy="82.2" r="1.9"/><circle cx="490.9" cy="46.4" r="1.9"/><circle cx="483.9" cy="56.6" r="1.9"/><circle cx="476.6" cy="61.9" r="1.9"/><circle cx="491.8" cy="62.2" r="1.9"/><circle cx="484.9" cy="60.0" r="1.9"/><circle cx="468.5" cy="65.8" r="1.9"/><circle cx="512.4" cy="60.5" r="1.9"/><circle cx="486.2" cy="56.4" r="1.9"/><circle cx="485.0" cy="53.3" r="1.9"/><circle cx="502.9" cy="58.6" r="1.9"/><circle cx="490.8" cy="72.9" r="1.9"/><circle cx="483.5" cy="56.2" r="1.9"/><circle cx="482.8" cy="53.5" r="1.9"/><circle cx="474.3" cy="69.4" r="1.9"/><circle cx="508.5" cy="50.3" r="1.9"/><circle cx="486.9" cy="61.4" r="1.9"/><circle cx="481.9" cy="62.1" r="1.9"/><circle cx="508.6" cy="37.4" r="1.9"/><circle cx="510.5" cy="48.7" r="1.9"/><circle cx="471.2" cy="69.0" r="1.9"/><circle cx="506.3" cy="36.4" r="1.9"/><circle cx="476.1" cy="62.9" r="1.9"/><circle cx="513.7" cy="52.1" r="1.9"/><circle cx="491.3" cy="79.5" r="1.9"/><circle cx="506.8" cy="50.5" r="1.9"/><circle cx="497.0" cy="50.7" r="1.9"/><circle cx="501.6" cy="53.7" r="1.9"/><circle cx="476.9" cy="54.0" r="1.9"/><circle cx="485.9" cy="69.1" r="1.9"/><circle cx="481.2" cy="57.1" r="1.9"/><circle cx="477.1" cy="62.3" r="1.9"/><circle cx="479.9" cy="65.7" r="1.9"/><circle cx="487.8" cy="59.8" r="1.9"/><circle cx="491.9" cy="64.9" r="1.9"/><circle cx="465.8" cy="99.0" r="1.9"/><circle cx="498.9" cy="52.8" r="1.9"/><circle cx="488.2" cy="52.7" r="1.9"/><circle cx="501.0" cy="54.7" r="1.9"/><circle cx="490.0" cy="59.6" r="1.9"/><circle cx="503.6" cy="57.0" r="1.9"/><circle cx="482.6" cy="60.0" r="1.9"/><circle cx="472.5" cy="52.1" r="1.9"/><circle cx="490.2" cy="55.4" r="1.9"/><circle cx="512.5" cy="50.3" r="1.9"/><circle cx="488.9" cy="67.5" r="1.9"/><circle cx="499.0" cy="47.6" r="1.9"/><circle cx="496.7" cy="62.4" r="1.9"/><circle cx="486.2" cy="71.2" r="1.9"/><circle cx="465.4" cy="96.8" r="1.9"/><circle cx="485.7" cy="60.6" r="1.9"/><circle cx="497.1" cy="52.9" r="1.9"/><circle cx="491.9" cy="60.7" r="1.9"/><circle cx="480.9" cy="65.2" r="1.9"/><circle cx="453.4" cy="94.3" r="1.9"/><circle cx="505.0" cy="43.7" r="1.9"/><circle cx="503.2" cy="55.2" r="1.9"/><circle cx="491.6" cy="66.1" r="1.9"/><circle cx="498.8" cy="55.5" r="1.9"/><circle cx="491.3" cy="64.9" r="1.9"/><circle cx="499.9" cy="39.4" r="1.9"/><circle cx="485.6" cy="69.3" r="1.9"/><circle cx="495.1" cy="66.2" r="1.9"/><circle cx="514.5" cy="50.7" r="1.9"/><circle cx="484.3" cy="68.6" r="1.9"/><circle cx="498.8" cy="52.9" r="1.9"/><circle cx="510.8" cy="46.6" r="1.9"/><circle cx="512.7" cy="51.3" r="1.9"/><circle cx="499.0" cy="53.2" r="1.9"/><circle cx="504.4" cy="47.0" r="1.9"/><circle cx="496.3" cy="54.1" r="1.9"/><circle cx="486.0" cy="52.5" r="1.9"/><circle cx="503.3" cy="56.7" r="1.9"/><circle cx="496.6" cy="49.9" r="1.9"/><circle cx="472.2" cy="64.1" r="1.9"/><circle cx="498.7" cy="48.4" r="1.9"/><circle cx="475.3" cy="60.1" r="1.9"/><circle cx="477.5" cy="65.4" r="1.9"/><circle cx="497.1" cy="52.3" r="1.9"/><circle cx="498.4" cy="40.3" r="1.9"/><circle cx="510.8" cy="46.9" r="1.9"/><circle cx="477.6" cy="60.2" r="1.9"/><circle cx="501.7" cy="49.3" r="1.9"/><circle cx="496.0" cy="59.7" r="1.9"/><circle cx="506.5" cy="56.7" r="1.9"/><circle cx="503.2" cy="54.8" r="1.9"/><circle cx="479.7" cy="76.5" r="1.9"/><circle cx="496.5" cy="53.8" r="1.9"/><circle cx="486.4" cy="64.8" r="1.9"/><circle cx="499.5" cy="61.9" r="1.9"/><circle cx="477.9" cy="68.9" r="1.9"/><circle cx="488.1" cy="69.2" r="1.9"/><circle cx="486.7" cy="64.1" r="1.9"/><circle cx="470.5" cy="88.1" r="1.9"/><circle cx="464.9" cy="89.5" r="1.9"/><circle cx="513.2" cy="55.8" r="1.9"/><circle cx="496.4" cy="45.7" r="1.9"/><circle cx="494.7" cy="57.9" r="1.9"/><circle cx="483.1" cy="72.8" r="1.9"/><circle cx="500.9" cy="54.2" r="1.9"/><circle cx="501.6" cy="51.5" r="1.9"/><circle cx="495.1" cy="59.4" r="1.9"/><circle cx="505.3" cy="52.8" r="1.9"/><circle cx="485.2" cy="50.4" r="1.9"/><circle cx="488.3" cy="63.3" r="1.9"/><circle cx="472.8" cy="68.9" r="1.9"/><circle cx="494.9" cy="57.6" r="1.9"/><circle cx="482.4" cy="57.5" r="1.9"/><circle cx="483.3" cy="58.7" r="1.9"/><circle cx="501.0" cy="46.7" r="1.9"/><circle cx="510.8" cy="40.0" r="1.9"/><circle cx="496.5" cy="59.3" r="1.9"/><circle cx="502.1" cy="49.3" r="1.9"/><circle cx="513.7" cy="47.1" r="1.9"/><circle cx="491.2" cy="49.1" r="1.9"/><circle cx="483.4" cy="46.1" r="1.9"/><circle cx="487.8" cy="59.1" r="1.9"/><circle cx="497.3" cy="48.9" r="1.9"/><circle cx="510.1" cy="37.3" r="1.9"/><circle cx="510.9" cy="48.3" r="1.9"/><circle cx="470.9" cy="70.2" r="1.9"/><circle cx="509.3" cy="50.1" r="1.9"/><circle cx="512.7" cy="44.2" r="1.9"/><circle cx="504.5" cy="52.2" r="1.9"/><circle cx="493.6" cy="60.6" r="1.9"/><circle cx="503.0" cy="41.6" r="1.9"/><circle cx="486.1" cy="66.8" r="1.9"/><circle cx="493.8" cy="51.0" r="1.9"/><circle cx="495.5" cy="55.7" r="1.9"/><circle cx="473.6" cy="66.3" r="1.9"/><circle cx="507.4" cy="44.6" r="1.9"/><circle cx="496.0" cy="52.4" r="1.9"/><circle cx="488.9" cy="66.1" r="1.9"/><circle cx="502.0" cy="50.1" r="1.9"/><circle cx="481.9" cy="59.5" r="1.9"/><circle cx="492.4" cy="72.7" r="1.9"/><circle cx="480.4" cy="61.8" r="1.9"/><circle cx="504.2" cy="53.2" r="1.9"/><circle cx="484.8" cy="49.8" r="1.9"/><circle cx="498.9" cy="54.1" r="1.9"/><circle cx="487.5" cy="55.2" r="1.9"/><circle cx="498.2" cy="51.3" r="1.9"/><circle cx="487.1" cy="57.5" r="1.9"/><circle cx="454.2" cy="81.6" r="1.9"/><circle cx="485.6" cy="54.2" r="1.9"/><circle cx="497.2" cy="52.9" r="1.9"/><circle cx="503.9" cy="50.7" r="1.9"/><circle cx="473.7" cy="65.1" r="1.9"/><circle cx="470.4" cy="62.0" r="1.9"/><circle cx="460.5" cy="88.2" r="1.9"/><circle cx="495.0" cy="52.5" r="1.9"/><circle cx="486.8" cy="58.1" r="1.9"/><circle cx="489.7" cy="52.5" r="1.9"/><circle cx="498.5" cy="59.9" r="1.9"/><circle cx="505.0" cy="53.0" r="1.9"/><circle cx="470.5" cy="93.7" r="1.9"/><circle cx="488.1" cy="53.1" r="1.9"/><circle cx="483.7" cy="69.8" r="1.9"/><circle cx="502.3" cy="43.6" r="1.9"/><circle cx="467.3" cy="73.6" r="1.9"/><circle cx="490.9" cy="69.8" r="1.9"/><circle cx="500.0" cy="49.5" r="1.9"/><circle cx="487.5" cy="58.9" r="1.9"/><circle cx="491.0" cy="75.6" r="1.9"/><circle cx="493.0" cy="65.9" r="1.9"/><circle cx="504.9" cy="52.0" r="1.9"/><circle cx="498.9" cy="39.4" r="1.9"/><circle cx="491.6" cy="67.1" r="1.9"/><circle cx="485.6" cy="52.5" r="1.9"/><circle cx="464.2" cy="89.0" r="1.9"/><circle cx="504.7" cy="53.8" r="1.9"/><circle cx="474.5" cy="71.9" r="1.9"/><circle cx="473.0" cy="82.8" r="1.9"/><circle cx="501.3" cy="51.4" r="1.9"/><circle cx="507.0" cy="55.9" r="1.9"/><circle cx="512.3" cy="40.8" r="1.9"/><circle cx="497.3" cy="61.9" r="1.9"/><circle cx="494.0" cy="54.0" r="1.9"/><circle cx="475.9" cy="88.9" r="1.9"/><circle cx="475.4" cy="85.2" r="1.9"/><circle cx="486.5" cy="63.7" r="1.9"/><circle cx="487.7" cy="79.1" r="1.9"/><circle cx="498.5" cy="56.0" r="1.9"/><circle cx="493.8" cy="47.9" r="1.9"/><circle cx="506.6" cy="54.4" r="1.9"/><circle cx="486.7" cy="62.4" r="1.9"/><circle cx="501.2" cy="53.7" r="1.9"/><circle cx="499.9" cy="31.8" r="1.9"/><circle cx="503.4" cy="44.1" r="1.9"/><circle cx="453.9" cy="95.7" r="1.9"/><circle cx="484.7" cy="56.8" r="1.9"/><circle cx="471.1" cy="63.5" r="1.9"/><circle cx="512.2" cy="49.9" r="1.9"/><circle cx="491.8" cy="57.1" r="1.9"/><circle cx="510.5" cy="38.1" r="1.9"/><circle cx="511.0" cy="47.2" r="1.9"/><circle cx="487.0" cy="63.4" r="1.9"/><circle cx="474.7" cy="85.9" r="1.9"/><circle cx="457.9" cy="86.1" r="1.9"/><circle cx="488.8" cy="64.8" r="1.9"/><circle cx="500.1" cy="43.9" r="1.9"/><circle cx="483.1" cy="75.3" r="1.9"/><circle cx="493.5" cy="58.7" r="1.9"/><circle cx="491.3" cy="44.1" r="1.9"/><circle cx="479.3" cy="53.8" r="1.9"/><circle cx="484.8" cy="56.3" r="1.9"/><circle cx="495.2" cy="62.7" r="1.9"/><circle cx="494.1" cy="60.7" r="1.9"/><circle cx="493.4" cy="61.3" r="1.9"/><circle cx="456.3" cy="80.7" r="1.9"/><circle cx="477.8" cy="46.4" r="1.9"/><circle cx="492.9" cy="50.5" r="1.9"/><circle cx="489.9" cy="57.5" r="1.9"/><circle cx="496.5" cy="46.1" r="1.9"/><circle cx="500.7" cy="51.6" r="1.9"/><circle cx="477.5" cy="74.7" r="1.9"/><circle cx="465.9" cy="77.9" r="1.9"/><circle cx="484.8" cy="57.7" r="1.9"/><circle cx="499.5" cy="50.8" r="1.9"/><circle cx="506.6" cy="41.0" r="1.9"/><circle cx="507.0" cy="39.0" r="1.9"/><circle cx="505.3" cy="42.7" r="1.9"/><circle cx="471.6" cy="81.1" r="1.9"/><circle cx="479.5" cy="75.4" r="1.9"/><circle cx="489.6" cy="50.4" r="1.9"/><circle cx="491.3" cy="55.3" r="1.9"/><circle cx="464.2" cy="99.1" r="1.9"/><circle cx="498.5" cy="56.7" r="1.9"/><circle cx="494.5" cy="53.6" r="1.9"/><circle cx="487.0" cy="69.1" r="1.9"/><circle cx="498.0" cy="51.5" r="1.9"/><circle cx="474.4" cy="59.6" r="1.9"/><circle cx="472.3" cy="46.7" r="1.9"/><circle cx="512.0" cy="51.4" r="1.9"/><circle cx="500.8" cy="56.6" r="1.9"/><circle cx="496.1" cy="52.7" r="1.9"/><circle cx="478.8" cy="55.7" r="1.9"/><circle cx="488.4" cy="48.7" r="1.9"/><circle cx="470.0" cy="101.0" r="1.9"/><circle cx="465.6" cy="60.5" r="1.9"/><circle cx="487.2" cy="60.9" r="1.9"/><circle cx="479.4" cy="83.8" r="1.9"/><circle cx="486.3" cy="67.2" r="1.9"/><circle cx="508.2" cy="46.6" r="1.9"/><circle cx="496.0" cy="52.0" r="1.9"/><circle cx="511.5" cy="60.6" r="1.9"/><circle cx="479.8" cy="62.3" r="1.9"/><circle cx="483.1" cy="54.5" r="1.9"/><circle cx="498.6" cy="53.2" r="1.9"/><circle cx="511.4" cy="50.0" r="1.9"/><circle cx="484.7" cy="67.0" r="1.9"/><circle cx="499.3" cy="60.9" r="1.9"/><circle cx="488.9" cy="56.4" r="1.9"/><circle cx="495.3" cy="41.1" r="1.9"/><circle cx="489.7" cy="76.8" r="1.9"/><circle cx="511.4" cy="51.6" r="1.9"/><circle cx="504.0" cy="60.4" r="1.9"/><circle cx="493.5" cy="51.7" r="1.9"/><circle cx="480.5" cy="60.0" r="1.9"/><circle cx="486.5" cy="52.3" r="1.9"/><circle cx="503.6" cy="41.4" r="1.9"/><circle cx="459.7" cy="105.3" r="1.9"/><circle cx="490.1" cy="66.5" r="1.9"/><circle cx="484.2" cy="52.2" r="1.9"/><circle cx="490.6" cy="62.3" r="1.9"/><circle cx="498.4" cy="50.7" r="1.9"/><circle cx="493.6" cy="57.4" r="1.9"/><circle cx="488.2" cy="62.9" r="1.9"/><circle cx="492.2" cy="55.9" r="1.9"/><circle cx="497.9" cy="57.6" r="1.9"/><circle cx="500.9" cy="48.8" r="1.9"/><circle cx="496.0" cy="55.9" r="1.9"/><circle cx="482.7" cy="62.4" r="1.9"/><circle cx="508.3" cy="42.4" r="1.9"/><circle cx="500.4" cy="46.6" r="1.9"/><circle cx="484.7" cy="44.1" r="1.9"/><circle cx="488.6" cy="68.0" r="1.9"/><circle cx="491.2" cy="56.5" r="1.9"/><circle cx="499.5" cy="59.3" r="1.9"/><circle cx="447.4" cy="112.4" r="1.9"/><circle cx="500.3" cy="47.0" r="1.9"/><circle cx="497.0" cy="54.6" r="1.9"/><circle cx="483.5" cy="68.9" r="1.9"/><circle cx="490.0" cy="55.9" r="1.9"/><circle cx="468.1" cy="68.3" r="1.9"/><circle cx="511.9" cy="54.1" r="1.9"/><circle cx="471.6" cy="66.4" r="1.9"/><circle cx="482.1" cy="67.0" r="1.9"/><circle cx="501.0" cy="54.5" r="1.9"/><circle cx="497.1" cy="56.3" r="1.9"/><circle cx="487.4" cy="70.5" r="1.9"/><circle cx="506.5" cy="48.8" r="1.9"/><circle cx="509.0" cy="36.0" r="1.9"/><circle cx="486.3" cy="68.9" r="1.9"/><circle cx="496.8" cy="39.1" r="1.9"/><circle cx="459.3" cy="88.1" r="1.9"/><circle cx="492.8" cy="60.0" r="1.9"/><circle cx="489.8" cy="57.2" r="1.9"/><circle cx="479.0" cy="68.6" r="1.9"/><circle cx="506.2" cy="43.8" r="1.9"/><circle cx="510.8" cy="51.1" r="1.9"/><circle cx="482.6" cy="62.3" r="1.9"/><circle cx="486.0" cy="58.1" r="1.9"/><circle cx="476.2" cy="86.2" r="1.9"/><circle cx="496.6" cy="58.7" r="1.9"/><circle cx="496.0" cy="75.2" r="1.9"/><circle cx="497.9" cy="62.5" r="1.9"/><circle cx="493.2" cy="59.5" r="1.9"/><circle cx="492.4" cy="54.2" r="1.9"/><circle cx="503.8" cy="46.1" r="1.9"/><circle cx="472.6" cy="80.7" r="1.9"/><circle cx="478.9" cy="59.7" r="1.9"/><circle cx="489.0" cy="62.2" r="1.9"/><circle cx="496.0" cy="51.5" r="1.9"/><circle cx="489.6" cy="58.8" r="1.9"/><circle cx="488.2" cy="58.4" r="1.9"/><circle cx="513.0" cy="45.8" r="1.9"/><circle cx="484.6" cy="75.4" r="1.9"/><circle cx="491.3" cy="69.7" r="1.9"/><circle cx="487.5" cy="57.3" r="1.9"/><circle cx="475.0" cy="68.4" r="1.9"/><circle cx="478.2" cy="72.6" r="1.9"/><circle cx="496.3" cy="55.7" r="1.9"/><circle cx="483.6" cy="65.1" r="1.9"/><circle cx="509.9" cy="34.0" r="1.9"/><circle cx="508.0" cy="49.1" r="1.9"/><circle cx="498.0" cy="54.3" r="1.9"/><circle cx="484.2" cy="57.3" r="1.9"/><circle cx="462.6" cy="90.4" r="1.9"/><circle cx="493.6" cy="49.1" r="1.9"/><circle cx="507.7" cy="40.9" r="1.9"/><circle cx="478.7" cy="62.1" r="1.9"/><circle cx="485.9" cy="64.0" r="1.9"/><circle cx="505.7" cy="49.0" r="1.9"/><circle cx="483.4" cy="69.5" r="1.9"/><circle cx="492.9" cy="47.1" r="1.9"/><circle cx="498.6" cy="43.3" r="1.9"/><circle cx="497.1" cy="53.5" r="1.9"/><circle cx="498.1" cy="56.1" r="1.9"/><circle cx="507.4" cy="48.5" r="1.9"/><circle cx="481.9" cy="69.5" r="1.9"/><circle cx="483.3" cy="54.7" r="1.9"/><circle cx="514.6" cy="46.0" r="1.9"/><circle cx="488.0" cy="66.8" r="1.9"/><circle cx="505.1" cy="46.6" r="1.9"/><circle cx="494.0" cy="59.3" r="1.9"/><circle cx="470.1" cy="74.3" r="1.9"/><circle cx="490.7" cy="56.5" r="1.9"/><circle cx="475.8" cy="81.6" r="1.9"/><circle cx="495.6" cy="65.4" r="1.9"/><circle cx="486.4" cy="66.1" r="1.9"/><circle cx="474.1" cy="46.1" r="1.9"/><circle cx="486.8" cy="62.2" r="1.9"/><circle cx="500.0" cy="52.3" r="1.9"/><circle cx="501.5" cy="60.9" r="1.9"/><circle cx="498.3" cy="58.5" r="1.9"/><circle cx="505.1" cy="44.8" r="1.9"/><circle cx="508.5" cy="53.6" r="1.9"/><circle cx="492.7" cy="72.5" r="1.9"/><circle cx="493.7" cy="66.8" r="1.9"/><circle cx="490.4" cy="45.1" r="1.9"/><circle cx="507.1" cy="49.0" r="1.9"/><circle cx="497.3" cy="58.5" r="1.9"/><circle cx="491.4" cy="53.4" r="1.9"/><circle cx="466.8" cy="96.5" r="1.9"/><circle cx="490.7" cy="64.7" r="1.9"/><circle cx="484.2" cy="63.0" r="1.9"/><circle cx="495.8" cy="52.4" r="1.9"/><circle cx="494.1" cy="52.9" r="1.9"/><circle cx="491.0" cy="62.3" r="1.9"/><circle cx="495.9" cy="48.9" r="1.9"/><circle cx="504.8" cy="48.5" r="1.9"/><circle cx="466.9" cy="68.5" r="1.9"/><circle cx="499.3" cy="46.2" r="1.9"/><circle cx="477.2" cy="58.2" r="1.9"/><circle cx="489.2" cy="56.6" r="1.9"/><circle cx="502.3" cy="51.3" r="1.9"/><circle cx="494.2" cy="55.9" r="1.9"/><circle cx="499.0" cy="48.4" r="1.9"/><circle cx="476.1" cy="79.1" r="1.9"/><circle cx="511.6" cy="42.7" r="1.9"/><circle cx="478.8" cy="62.6" r="1.9"/><circle cx="501.0" cy="57.0" r="1.9"/><circle cx="470.9" cy="68.0" r="1.9"/><circle cx="494.5" cy="50.1" r="1.9"/><circle cx="504.9" cy="44.1" r="1.9"/><circle cx="494.5" cy="45.9" r="1.9"/><circle cx="502.1" cy="48.0" r="1.9"/><circle cx="471.7" cy="91.9" r="1.9"/><circle cx="478.0" cy="62.6" r="1.9"/><circle cx="490.3" cy="59.7" r="1.9"/><circle cx="469.6" cy="82.3" r="1.9"/><circle cx="485.2" cy="45.4" r="1.9"/><circle cx="494.0" cy="53.9" r="1.9"/><circle cx="487.0" cy="55.8" r="1.9"/><circle cx="509.7" cy="51.2" r="1.9"/><circle cx="479.6" cy="64.1" r="1.9"/><circle cx="499.3" cy="68.2" r="1.9"/><circle cx="483.2" cy="63.5" r="1.9"/><circle cx="515.0" cy="51.1" r="1.9"/><circle cx="501.6" cy="52.5" r="1.9"/><circle cx="502.5" cy="50.3" r="1.9"/><circle cx="509.2" cy="45.8" r="1.9"/><circle cx="492.5" cy="67.8" r="1.9"/><circle cx="483.2" cy="85.0" r="1.9"/><circle cx="510.8" cy="54.2" r="1.9"/><circle cx="481.5" cy="67.7" r="1.9"/><circle cx="479.3" cy="60.4" r="1.9"/><circle cx="445.8" cy="86.5" r="1.9"/><circle cx="469.9" cy="81.7" r="1.9"/><circle cx="508.8" cy="45.8" r="1.9"/><circle cx="498.0" cy="55.2" r="1.9"/><circle cx="493.8" cy="57.5" r="1.9"/><circle cx="499.0" cy="45.8" r="1.9"/><circle cx="454.6" cy="98.0" r="1.9"/><circle cx="481.4" cy="68.5" r="1.9"/><circle cx="487.2" cy="68.8" r="1.9"/><circle cx="476.0" cy="58.9" r="1.9"/><circle cx="496.4" cy="61.1" r="1.9"/><circle cx="481.3" cy="55.6" r="1.9"/><circle cx="473.6" cy="79.7" r="1.9"/><circle cx="457.2" cy="94.9" r="1.9"/><circle cx="456.0" cy="99.3" r="1.9"/><circle cx="475.4" cy="67.5" r="1.9"/><circle cx="472.5" cy="70.0" r="1.9"/><circle cx="486.0" cy="63.3" r="1.9"/><circle cx="485.8" cy="54.1" r="1.9"/><circle cx="509.4" cy="63.9" r="1.9"/><circle cx="480.9" cy="67.7" r="1.9"/><circle cx="479.7" cy="66.5" r="1.9"/><circle cx="471.0" cy="78.5" r="1.9"/><circle cx="483.4" cy="57.2" r="1.9"/><circle cx="465.0" cy="64.8" r="1.9"/><circle cx="477.3" cy="73.9" r="1.9"/><circle cx="509.2" cy="40.3" r="1.9"/><circle cx="479.8" cy="56.9" r="1.9"/><circle cx="503.5" cy="44.1" r="1.9"/><circle cx="485.6" cy="53.0" r="1.9"/><circle cx="485.8" cy="65.7" r="1.9"/><circle cx="495.6" cy="57.9" r="1.9"/><circle cx="478.1" cy="81.1" r="1.9"/><circle cx="503.6" cy="48.6" r="1.9"/><circle cx="462.1" cy="87.9" r="1.9"/><circle cx="511.6" cy="43.6" r="1.9"/><circle cx="494.4" cy="50.3" r="1.9"/><circle cx="482.7" cy="73.8" r="1.9"/><circle cx="506.2" cy="48.5" r="1.9"/><circle cx="502.7" cy="41.6" r="1.9"/><circle cx="477.1" cy="62.7" r="1.9"/><circle cx="506.8" cy="46.7" r="1.9"/><circle cx="471.3" cy="71.8" r="1.9"/><circle cx="459.3" cy="89.3" r="1.9"/><circle cx="462.2" cy="83.4" r="1.9"/><circle cx="505.2" cy="51.2" r="1.9"/><circle cx="479.9" cy="71.7" r="1.9"/><circle cx="455.2" cy="79.3" r="1.9"/><circle cx="503.6" cy="52.0" r="1.9"/><circle cx="501.0" cy="34.9" r="1.9"/><circle cx="505.9" cy="60.9" r="1.9"/><circle cx="495.2" cy="48.1" r="1.9"/><circle cx="495.7" cy="54.6" r="1.9"/><circle cx="497.1" cy="57.6" r="1.9"/><circle cx="506.6" cy="50.0" r="1.9"/><circle cx="506.4" cy="40.7" r="1.9"/><circle cx="475.6" cy="66.7" r="1.9"/><circle cx="469.1" cy="95.4" r="1.9"/><circle cx="502.2" cy="52.4" r="1.9"/><circle cx="472.1" cy="68.4" r="1.9"/><circle cx="502.6" cy="41.0" r="1.9"/><circle cx="510.7" cy="38.0" r="1.9"/><circle cx="487.3" cy="64.2" r="1.9"/><circle cx="511.4" cy="39.9" r="1.9"/><circle cx="501.7" cy="55.1" r="1.9"/><circle cx="497.8" cy="57.0" r="1.9"/><circle cx="476.5" cy="76.4" r="1.9"/><circle cx="483.8" cy="53.5" r="1.9"/><circle cx="502.0" cy="52.6" r="1.9"/><circle cx="512.5" cy="41.9" r="1.9"/><circle cx="509.1" cy="43.9" r="1.9"/><circle cx="500.3" cy="47.5" r="1.9"/><circle cx="483.8" cy="68.2" r="1.9"/><circle cx="495.7" cy="69.7" r="1.9"/><circle cx="488.2" cy="79.1" r="1.9"/><circle cx="490.5" cy="63.9" r="1.9"/><circle cx="501.6" cy="54.2" r="1.9"/><circle cx="479.7" cy="65.2" r="1.9"/><circle cx="498.1" cy="57.2" r="1.9"/><circle cx="477.6" cy="67.1" r="1.9"/><circle cx="504.7" cy="40.9" r="1.9"/><circle cx="485.7" cy="64.8" r="1.9"/><circle cx="489.1" cy="56.7" r="1.9"/><circle cx="474.0" cy="57.3" r="1.9"/><circle cx="495.5" cy="44.7" r="1.9"/><circle cx="472.3" cy="86.6" r="1.9"/><circle cx="493.4" cy="55.9" r="1.9"/><circle cx="489.2" cy="57.4" r="1.9"/><circle cx="501.8" cy="50.8" r="1.9"/><circle cx="503.7" cy="51.3" r="1.9"/><circle cx="498.4" cy="59.7" r="1.9"/><circle cx="488.7" cy="53.4" r="1.9"/><circle cx="491.7" cy="58.9" r="1.9"/><circle cx="494.6" cy="51.3" r="1.9"/><circle cx="485.6" cy="56.5" r="1.9"/></g>
<g fill="#2c6ca3" fill-opacity="0.24"><circle cx="470.7" cy="103.5" r="1.9"/><circle cx="465.1" cy="67.6" r="1.9"/><circle cx="461.8" cy="94.3" r="1.9"/><circle cx="462.6" cy="98.3" r="1.9"/><circle cx="469.3" cy="93.8" r="1.9"/><circle cx="466.1" cy="58.6" r="1.9"/><circle cx="454.3" cy="85.1" r="1.9"/><circle cx="483.8" cy="92.5" r="1.9"/><circle cx="464.6" cy="98.1" r="1.9"/><circle cx="466.0" cy="105.0" r="1.9"/><circle cx="467.0" cy="37.4" r="1.9"/><circle cx="467.4" cy="86.7" r="1.9"/><circle cx="467.4" cy="83.4" r="1.9"/><circle cx="467.2" cy="91.5" r="1.9"/><circle cx="492.0" cy="67.6" r="1.9"/><circle cx="479.5" cy="103.4" r="1.9"/><circle cx="470.8" cy="119.1" r="1.9"/><circle cx="485.1" cy="96.0" r="1.9"/><circle cx="457.2" cy="80.2" r="1.9"/><circle cx="484.1" cy="47.0" r="1.9"/><circle cx="467.8" cy="87.3" r="1.9"/><circle cx="451.5" cy="100.9" r="1.9"/><circle cx="474.8" cy="89.9" r="1.9"/><circle cx="475.1" cy="99.5" r="1.9"/><circle cx="471.6" cy="99.6" r="1.9"/><circle cx="468.1" cy="84.4" r="1.9"/><circle cx="472.2" cy="80.9" r="1.9"/><circle cx="471.8" cy="97.4" r="1.9"/><circle cx="467.8" cy="67.1" r="1.9"/><circle cx="475.0" cy="87.3" r="1.9"/><circle cx="477.9" cy="84.0" r="1.9"/><circle cx="483.3" cy="94.9" r="1.9"/><circle cx="476.6" cy="79.6" r="1.9"/><circle cx="498.5" cy="78.9" r="1.9"/><circle cx="477.8" cy="74.5" r="1.9"/><circle cx="471.8" cy="100.1" r="1.9"/><circle cx="482.8" cy="75.1" r="1.9"/><circle cx="469.7" cy="95.8" r="1.9"/><circle cx="470.4" cy="84.2" r="1.9"/><circle cx="467.1" cy="73.1" r="1.9"/><circle cx="466.7" cy="59.8" r="1.9"/><circle cx="454.9" cy="93.7" r="1.9"/><circle cx="486.7" cy="105.0" r="1.9"/><circle cx="480.3" cy="83.5" r="1.9"/><circle cx="483.4" cy="64.8" r="1.9"/><circle cx="474.3" cy="91.6" r="1.9"/><circle cx="486.5" cy="43.9" r="1.9"/><circle cx="467.5" cy="118.4" r="1.9"/><circle cx="477.2" cy="59.9" r="1.9"/><circle cx="469.0" cy="65.7" r="1.9"/><circle cx="488.5" cy="66.7" r="1.9"/><circle cx="475.0" cy="100.2" r="1.9"/><circle cx="481.3" cy="62.4" r="1.9"/><circle cx="466.9" cy="65.6" r="1.9"/><circle cx="477.5" cy="64.2" r="1.9"/><circle cx="461.6" cy="89.7" r="1.9"/><circle cx="487.4" cy="90.0" r="1.9"/><circle cx="484.8" cy="63.4" r="1.9"/><circle cx="473.1" cy="79.8" r="1.9"/><circle cx="476.8" cy="53.8" r="1.9"/><circle cx="480.8" cy="100.2" r="1.9"/><circle cx="485.0" cy="81.3" r="1.9"/><circle cx="467.7" cy="109.2" r="1.9"/><circle cx="467.7" cy="75.8" r="1.9"/><circle cx="471.7" cy="83.1" r="1.9"/><circle cx="478.3" cy="112.6" r="1.9"/><circle cx="483.8" cy="78.0" r="1.9"/><circle cx="487.1" cy="65.0" r="1.9"/><circle cx="462.5" cy="81.5" r="1.9"/><circle cx="472.9" cy="64.1" r="1.9"/><circle cx="468.1" cy="96.3" r="1.9"/><circle cx="484.1" cy="32.5" r="1.9"/><circle cx="445.4" cy="108.3" r="1.9"/><circle cx="454.5" cy="92.3" r="1.9"/><circle cx="480.7" cy="66.1" r="1.9"/><circle cx="463.2" cy="90.8" r="1.9"/><circle cx="473.9" cy="95.9" r="1.9"/><circle cx="475.8" cy="71.9" r="1.9"/><circle cx="488.0" cy="58.0" r="1.9"/><circle cx="469.7" cy="79.0" r="1.9"/><circle cx="457.3" cy="108.8" r="1.9"/><circle cx="470.4" cy="42.4" r="1.9"/><circle cx="469.3" cy="90.2" r="1.9"/><circle cx="454.1" cy="117.1" r="1.9"/><circle cx="454.5" cy="87.4" r="1.9"/><circle cx="505.5" cy="70.2" r="1.9"/><circle cx="457.6" cy="131.8" r="1.9"/><circle cx="469.8" cy="89.0" r="1.9"/><circle cx="456.4" cy="80.3" r="1.9"/><circle cx="461.1" cy="95.3" r="1.9"/><circle cx="473.1" cy="79.2" r="1.9"/><circle cx="478.0" cy="77.3" r="1.9"/><circle cx="484.6" cy="67.8" r="1.9"/><circle cx="478.2" cy="39.2" r="1.9"/><circle cx="478.6" cy="80.4" r="1.9"/><circle cx="479.2" cy="101.5" r="1.9"/><circle cx="463.5" cy="103.7" r="1.9"/><circle cx="467.2" cy="107.3" r="1.9"/><circle cx="459.6" cy="73.6" r="1.9"/><circle cx="466.8" cy="80.1" r="1.9"/><circle cx="462.3" cy="77.9" r="1.9"/><circle cx="479.7" cy="82.5" r="1.9"/><circle cx="478.3" cy="58.3" r="1.9"/><circle cx="492.2" cy="67.0" r="1.9"/><circle cx="479.0" cy="68.4" r="1.9"/><circle cx="477.0" cy="97.7" r="1.9"/><circle cx="467.2" cy="91.5" r="1.9"/><circle cx="468.7" cy="108.5" r="1.9"/><circle cx="460.0" cy="97.2" r="1.9"/><circle cx="488.2" cy="84.4" r="1.9"/><circle cx="467.4" cy="107.2" r="1.9"/><circle cx="453.1" cy="97.0" r="1.9"/><circle cx="476.6" cy="51.0" r="1.9"/><circle cx="467.9" cy="89.2" r="1.9"/><circle cx="467.2" cy="112.0" r="1.9"/><circle cx="476.7" cy="107.6" r="1.9"/><circle cx="467.7" cy="87.5" r="1.9"/><circle cx="496.5" cy="71.4" r="1.9"/><circle cx="466.4" cy="87.5" r="1.9"/><circle cx="459.4" cy="71.0" r="1.9"/><circle cx="465.6" cy="80.6" r="1.9"/><circle cx="471.5" cy="105.3" r="1.9"/><circle cx="452.7" cy="68.1" r="1.9"/><circle cx="465.2" cy="93.8" r="1.9"/><circle cx="489.0" cy="53.4" r="1.9"/><circle cx="462.3" cy="96.2" r="1.9"/><circle cx="467.2" cy="88.4" r="1.9"/><circle cx="468.3" cy="95.4" r="1.9"/><circle cx="487.6" cy="90.6" r="1.9"/><circle cx="492.7" cy="78.0" r="1.9"/><circle cx="462.6" cy="89.2" r="1.9"/><circle cx="470.4" cy="65.4" r="1.9"/><circle cx="475.9" cy="78.5" r="1.9"/><circle cx="486.4" cy="58.5" r="1.9"/><circle cx="477.2" cy="84.7" r="1.9"/><circle cx="484.8" cy="63.5" r="1.9"/><circle cx="487.6" cy="65.1" r="1.9"/><circle cx="483.7" cy="88.3" r="1.9"/><circle cx="502.1" cy="41.9" r="1.9"/><circle cx="481.9" cy="59.6" r="1.9"/><circle cx="471.7" cy="76.4" r="1.9"/><circle cx="472.0" cy="89.2" r="1.9"/><circle cx="493.8" cy="87.2" r="1.9"/><circle cx="480.7" cy="88.7" r="1.9"/><circle cx="481.7" cy="80.8" r="1.9"/><circle cx="481.1" cy="105.3" r="1.9"/><circle cx="485.5" cy="84.7" r="1.9"/><circle cx="492.9" cy="96.1" r="1.9"/><circle cx="474.0" cy="56.9" r="1.9"/><circle cx="479.3" cy="72.4" r="1.9"/><circle cx="466.5" cy="56.8" r="1.9"/><circle cx="492.2" cy="44.4" r="1.9"/><circle cx="467.8" cy="77.3" r="1.9"/><circle cx="468.0" cy="50.7" r="1.9"/><circle cx="473.1" cy="79.0" r="1.9"/><circle cx="470.3" cy="74.6" r="1.9"/><circle cx="468.6" cy="101.9" r="1.9"/><circle cx="484.4" cy="84.1" r="1.9"/><circle cx="486.7" cy="60.8" r="1.9"/><circle cx="465.5" cy="76.9" r="1.9"/><circle cx="465.2" cy="92.0" r="1.9"/><circle cx="475.6" cy="85.4" r="1.9"/><circle cx="480.9" cy="98.2" r="1.9"/><circle cx="470.1" cy="97.1" r="1.9"/><circle cx="469.2" cy="110.3" r="1.9"/><circle cx="464.7" cy="66.3" r="1.9"/><circle cx="474.1" cy="66.5" r="1.9"/><circle cx="465.8" cy="87.3" r="1.9"/><circle cx="469.3" cy="108.6" r="1.9"/><circle cx="469.9" cy="89.6" r="1.9"/><circle cx="474.4" cy="50.7" r="1.9"/><circle cx="457.4" cy="108.4" r="1.9"/><circle cx="473.0" cy="94.2" r="1.9"/><circle cx="465.2" cy="93.6" r="1.9"/><circle cx="487.3" cy="71.6" r="1.9"/><circle cx="468.9" cy="107.4" r="1.9"/><circle cx="471.9" cy="80.9" r="1.9"/><circle cx="477.8" cy="99.7" r="1.9"/><circle cx="460.5" cy="91.6" r="1.9"/><circle cx="476.1" cy="106.4" r="1.9"/><circle cx="468.9" cy="76.3" r="1.9"/><circle cx="477.6" cy="93.9" r="1.9"/><circle cx="464.1" cy="95.6" r="1.9"/><circle cx="467.5" cy="66.5" r="1.9"/><circle cx="457.6" cy="79.4" r="1.9"/><circle cx="484.0" cy="44.6" r="1.9"/><circle cx="479.3" cy="78.1" r="1.9"/><circle cx="460.5" cy="83.9" r="1.9"/><circle cx="489.8" cy="83.2" r="1.9"/><circle cx="485.2" cy="37.8" r="1.9"/><circle cx="468.2" cy="63.8" r="1.9"/><circle cx="489.7" cy="90.2" r="1.9"/><circle cx="467.6" cy="79.8" r="1.9"/><circle cx="484.0" cy="94.2" r="1.9"/><circle cx="450.0" cy="73.9" r="1.9"/><circle cx="490.4" cy="94.0" r="1.9"/><circle cx="467.4" cy="94.9" r="1.9"/><circle cx="474.8" cy="77.7" r="1.9"/><circle cx="481.9" cy="61.9" r="1.9"/><circle cx="467.4" cy="70.6" r="1.9"/><circle cx="484.7" cy="72.4" r="1.9"/><circle cx="477.1" cy="84.6" r="1.9"/><circle cx="464.9" cy="127.0" r="1.9"/><circle cx="466.8" cy="88.2" r="1.9"/><circle cx="468.1" cy="89.0" r="1.9"/><circle cx="478.5" cy="76.2" r="1.9"/><circle cx="488.3" cy="55.1" r="1.9"/><circle cx="477.5" cy="72.3" r="1.9"/><circle cx="463.1" cy="115.5" r="1.9"/><circle cx="466.5" cy="85.0" r="1.9"/><circle cx="478.3" cy="89.5" r="1.9"/><circle cx="467.4" cy="73.0" r="1.9"/><circle cx="471.1" cy="86.5" r="1.9"/><circle cx="467.7" cy="118.6" r="1.9"/><circle cx="491.2" cy="101.2" r="1.9"/><circle cx="457.0" cy="91.1" r="1.9"/><circle cx="465.8" cy="121.0" r="1.9"/><circle cx="471.2" cy="87.8" r="1.9"/><circle cx="483.4" cy="90.6" r="1.9"/><circle cx="476.3" cy="67.1" r="1.9"/><circle cx="467.5" cy="87.7" r="1.9"/><circle cx="459.4" cy="96.5" r="1.9"/><circle cx="473.1" cy="87.9" r="1.9"/><circle cx="467.4" cy="85.4" r="1.9"/><circle cx="471.0" cy="68.9" r="1.9"/><circle cx="463.2" cy="102.3" r="1.9"/><circle cx="448.1" cy="124.9" r="1.9"/><circle cx="471.6" cy="38.1" r="1.9"/><circle cx="467.9" cy="72.7" r="1.9"/><circle cx="466.5" cy="85.1" r="1.9"/><circle cx="467.7" cy="43.9" r="1.9"/><circle cx="467.8" cy="105.7" r="1.9"/><circle cx="483.4" cy="99.6" r="1.9"/><circle cx="454.6" cy="93.5" r="1.9"/><circle cx="482.8" cy="77.4" r="1.9"/><circle cx="475.6" cy="93.9" r="1.9"/><circle cx="490.7" cy="72.4" r="1.9"/><circle cx="483.8" cy="92.0" r="1.9"/><circle cx="467.6" cy="63.4" r="1.9"/><circle cx="478.1" cy="77.9" r="1.9"/><circle cx="467.8" cy="114.8" r="1.9"/><circle cx="481.3" cy="59.2" r="1.9"/><circle cx="472.3" cy="105.8" r="1.9"/><circle cx="467.0" cy="88.4" r="1.9"/><circle cx="484.6" cy="86.0" r="1.9"/><circle cx="481.9" cy="47.1" r="1.9"/><circle cx="467.4" cy="90.1" r="1.9"/><circle cx="467.2" cy="114.1" r="1.9"/><circle cx="469.3" cy="84.2" r="1.9"/><circle cx="461.5" cy="106.4" r="1.9"/><circle cx="466.6" cy="54.3" r="1.9"/><circle cx="500.1" cy="73.8" r="1.9"/><circle cx="483.0" cy="58.8" r="1.9"/><circle cx="471.8" cy="93.1" r="1.9"/><circle cx="467.2" cy="104.4" r="1.9"/></g>
<polygon points="438.0,84.5 440.8,82.8 443.5,81.1 446.3,79.3 449.1,77.6 451.8,75.9 454.6,74.1 457.3,72.4 460.1,70.7 462.9,68.9 465.6,67.2 468.4,65.4 471.2,63.6 473.9,61.8 476.7,60.0 479.5,58.2 482.2,56.3 485.0,54.5 487.8,52.6 490.5,50.6 493.3,48.6 496.0,46.6 498.8,44.5 501.6,42.4 504.3,40.3 507.1,38.1 509.9,35.9 512.6,33.7 515.4,31.5 518.2,29.3 520.9,27.0 523.7,24.8 526.5,22.6 529.2,20.3 532.0,18.1 534.7,15.8 537.5,13.6 540.3,11.3 543.0,9.1 545.8,6.8 545.8,20.8 543.0,22.4 540.3,24.0 537.5,25.7 534.7,27.3 532.0,28.9 529.2,30.6 526.5,32.2 523.7,33.8 520.9,35.5 518.2,37.1 515.4,38.8 512.6,40.5 509.9,42.1 507.1,43.8 504.3,45.6 501.6,47.3 498.8,49.1 496.0,50.9 493.3,52.7 490.5,54.6 487.8,56.6 485.0,58.6 482.2,60.6 479.5,62.6 476.7,64.6 473.9,66.7 471.2,68.8 468.4,70.9 465.6,73.0 462.9,75.1 460.1,77.3 457.3,79.4 454.6,81.6 451.8,83.7 449.1,85.9 446.3,88.0 443.5,90.2 440.8,92.3 438.0,94.5" fill="#7d9f74" fill-opacity="0.27"/>
<polygon points="438.0,93.7 440.8,92.8 443.5,91.8 446.3,90.9 449.1,89.9 451.8,88.9 454.6,87.8 457.3,86.8 460.1,85.7 462.9,84.6 465.6,83.4 468.4,82.1 471.2,80.8 473.9,79.4 476.7,78.0 479.5,76.5 482.2,75.1 485.0,73.5 487.8,72.0 490.5,70.4 493.3,68.9 496.0,67.3 498.8,65.6 501.6,64.0 504.3,62.4 507.1,60.7 509.9,59.1 512.6,57.4 515.4,55.7 518.2,54.0 520.9,52.4 523.7,50.7 526.5,49.0 529.2,47.3 532.0,45.6 534.7,43.9 537.5,42.2 540.3,40.5 543.0,38.8 545.8,37.1 545.8,58.5 543.0,59.5 540.3,60.5 537.5,61.5 534.7,62.5 532.0,63.5 529.2,64.5 526.5,65.5 523.7,66.5 520.9,67.6 518.2,68.6 515.4,69.6 512.6,70.6 509.9,71.7 507.1,72.7 504.3,73.8 501.6,74.8 498.8,75.9 496.0,77.0 493.3,78.1 490.5,79.2 487.8,80.3 485.0,81.5 482.2,82.7 479.5,83.9 476.7,85.2 473.9,86.5 471.2,87.8 468.4,89.2 465.6,90.6 462.9,92.1 460.1,93.7 457.3,95.3 454.6,96.9 451.8,98.6 449.1,100.3 446.3,102.0 443.5,103.8 440.8,105.5 438.0,107.3" fill="#7ea7c9" fill-opacity="0.34"/>
<line x1="438" y1="89.5" x2="545.8" y2="13.8" stroke="#2c672c" stroke-width="1.7"/>
<line x1="438" y1="100.5" x2="545.8" y2="47.8" stroke="#1c5f9c" stroke-width="1.7"/>
</g>
<rect x="432.5" y="0.5" width="119.0" height="142.3" fill="none" stroke="#575757" stroke-width="1"/>
<line x1="432.5" y1="17.5" x2="435.0" y2="17.5" stroke="#000" stroke-width="1"/>
<text x="431.5" y="19.9" text-anchor="end" class="tk">2</text>
<line x1="432.5" y1="39.5" x2="435.0" y2="39.5" stroke="#000" stroke-width="1"/>
<text x="431.5" y="41.9" text-anchor="end" class="tk">1</text>
<line x1="432.5" y1="61.5" x2="435.0" y2="61.5" stroke="#000" stroke-width="1"/>
<text x="431.5" y="63.9" text-anchor="end" class="tk">0</text>
<line x1="432.5" y1="83.5" x2="435.0" y2="83.5" stroke="#000" stroke-width="1"/>
<text x="431.5" y="85.8" text-anchor="end" class="tk">−1</text>
<line x1="432.5" y1="105.5" x2="435.0" y2="105.5" stroke="#000" stroke-width="1"/>
<text x="431.5" y="107.8" text-anchor="end" class="tk">−2</text>
<line x1="432.5" y1="127.5" x2="435.0" y2="127.5" stroke="#000" stroke-width="1"/>
<text x="431.5" y="129.8" text-anchor="end" class="tk">−3</text>
<line x1="453.5" y1="142.8" x2="453.5" y2="140.3" stroke="#000" stroke-width="1"/>
<text x="453.7" y="149.2" text-anchor="middle" class="tk">−2</text>
<line x1="484.5" y1="142.8" x2="484.5" y2="140.3" stroke="#000" stroke-width="1"/>
<text x="484.4" y="149.2" text-anchor="middle" class="tk">0</text>
<line x1="515.5" y1="142.8" x2="515.5" y2="140.3" stroke="#000" stroke-width="1"/>
<text x="515.1" y="149.2" text-anchor="middle" class="tk">2</text>
<line x1="545.5" y1="142.8" x2="545.5" y2="140.3" stroke="#000" stroke-width="1"/>
<text x="545.7" y="149.2" text-anchor="middle" class="tk">4</text>
<text x="437.5" y="11.2" class="tt" textLength="108.5">HYD × CWM<tspan dy="1.3" font-size="4.8">PC2</tspan><tspan dy="-1.3">: </tspan><tspan font-style="italic">F</tspan> = 5.82, <tspan font-style="italic">P</tspan> = 0.016</text>
<clipPath id="clipf"><rect x="34.0" y="156.3" width="117.5" height="153.2"/></clipPath>
<g clip-path="url(#clipf)">
<g fill="#3d6d3c" fill-opacity="0.26"><circle cx="97.4" cy="211.2" r="1.9"/><circle cx="67.7" cy="227.2" r="1.9"/><circle cx="60.7" cy="189.0" r="1.9"/><circle cx="71.2" cy="249.3" r="1.9"/><circle cx="92.1" cy="208.2" r="1.9"/><circle cx="105.2" cy="204.3" r="1.9"/><circle cx="124.8" cy="216.1" r="1.9"/><circle cx="108.9" cy="223.8" r="1.9"/><circle cx="68.3" cy="225.2" r="1.9"/><circle cx="57.3" cy="212.0" r="1.9"/><circle cx="91.3" cy="203.8" r="1.9"/><circle cx="103.9" cy="205.7" r="1.9"/><circle cx="67.0" cy="197.9" r="1.9"/><circle cx="82.2" cy="209.1" r="1.9"/><circle cx="83.2" cy="207.7" r="1.9"/><circle cx="89.9" cy="190.2" r="1.9"/><circle cx="87.0" cy="212.9" r="1.9"/><circle cx="96.6" cy="211.6" r="1.9"/><circle cx="104.1" cy="223.2" r="1.9"/><circle cx="90.5" cy="185.5" r="1.9"/><circle cx="99.9" cy="195.9" r="1.9"/><circle cx="117.0" cy="230.3" r="1.9"/><circle cx="75.5" cy="191.1" r="1.9"/><circle cx="75.2" cy="222.5" r="1.9"/><circle cx="96.7" cy="221.6" r="1.9"/><circle cx="115.2" cy="215.9" r="1.9"/><circle cx="92.0" cy="234.3" r="1.9"/><circle cx="104.8" cy="227.7" r="1.9"/><circle cx="85.5" cy="187.3" r="1.9"/><circle cx="102.4" cy="217.2" r="1.9"/><circle cx="81.2" cy="243.1" r="1.9"/><circle cx="99.1" cy="206.9" r="1.9"/><circle cx="95.3" cy="226.6" r="1.9"/><circle cx="95.3" cy="213.0" r="1.9"/><circle cx="108.9" cy="201.7" r="1.9"/><circle cx="104.6" cy="203.6" r="1.9"/><circle cx="81.7" cy="209.2" r="1.9"/><circle cx="102.2" cy="207.6" r="1.9"/><circle cx="66.6" cy="210.1" r="1.9"/><circle cx="103.7" cy="206.3" r="1.9"/><circle cx="128.0" cy="224.4" r="1.9"/><circle cx="97.4" cy="199.6" r="1.9"/><circle cx="97.2" cy="213.6" r="1.9"/><circle cx="91.1" cy="211.3" r="1.9"/><circle cx="101.7" cy="235.7" r="1.9"/><circle cx="84.1" cy="227.9" r="1.9"/><circle cx="99.5" cy="207.0" r="1.9"/><circle cx="86.6" cy="178.8" r="1.9"/><circle cx="84.5" cy="213.9" r="1.9"/><circle cx="92.1" cy="215.7" r="1.9"/><circle cx="89.6" cy="192.8" r="1.9"/><circle cx="66.6" cy="198.1" r="1.9"/><circle cx="119.1" cy="229.4" r="1.9"/><circle cx="92.4" cy="205.1" r="1.9"/><circle cx="67.2" cy="208.5" r="1.9"/><circle cx="105.4" cy="219.5" r="1.9"/><circle cx="90.1" cy="190.5" r="1.9"/><circle cx="93.4" cy="192.7" r="1.9"/><circle cx="100.3" cy="200.5" r="1.9"/><circle cx="78.2" cy="188.6" r="1.9"/><circle cx="54.2" cy="231.6" r="1.9"/><circle cx="89.2" cy="193.4" r="1.9"/><circle cx="93.9" cy="221.1" r="1.9"/><circle cx="104.4" cy="182.2" r="1.9"/><circle cx="80.1" cy="250.2" r="1.9"/><circle cx="86.9" cy="188.8" r="1.9"/><circle cx="96.0" cy="214.6" r="1.9"/><circle cx="86.2" cy="204.4" r="1.9"/><circle cx="87.1" cy="197.8" r="1.9"/><circle cx="94.1" cy="209.7" r="1.9"/><circle cx="76.8" cy="212.3" r="1.9"/><circle cx="112.4" cy="216.7" r="1.9"/><circle cx="77.8" cy="188.6" r="1.9"/><circle cx="91.0" cy="183.7" r="1.9"/><circle cx="86.0" cy="203.5" r="1.9"/><circle cx="80.8" cy="200.3" r="1.9"/><circle cx="97.9" cy="209.7" r="1.9"/><circle cx="104.5" cy="241.5" r="1.9"/><circle cx="110.6" cy="221.3" r="1.9"/><circle cx="98.5" cy="208.3" r="1.9"/><circle cx="84.3" cy="211.0" r="1.9"/><circle cx="102.4" cy="218.2" r="1.9"/><circle cx="70.6" cy="195.5" r="1.9"/><circle cx="91.2" cy="195.7" r="1.9"/><circle cx="97.7" cy="210.4" r="1.9"/><circle cx="98.2" cy="239.1" r="1.9"/><circle cx="74.6" cy="203.1" r="1.9"/><circle cx="69.8" cy="205.2" r="1.9"/><circle cx="113.3" cy="222.2" r="1.9"/><circle cx="83.3" cy="234.9" r="1.9"/><circle cx="67.7" cy="180.4" r="1.9"/><circle cx="73.3" cy="207.7" r="1.9"/><circle cx="90.5" cy="229.3" r="1.9"/><circle cx="106.5" cy="177.3" r="1.9"/><circle cx="90.2" cy="187.5" r="1.9"/><circle cx="106.8" cy="208.1" r="1.9"/><circle cx="93.3" cy="205.0" r="1.9"/><circle cx="96.7" cy="200.6" r="1.9"/><circle cx="103.7" cy="188.8" r="1.9"/><circle cx="85.0" cy="206.0" r="1.9"/><circle cx="94.2" cy="219.6" r="1.9"/><circle cx="84.8" cy="193.6" r="1.9"/><circle cx="81.3" cy="240.8" r="1.9"/><circle cx="99.1" cy="204.4" r="1.9"/><circle cx="78.8" cy="241.8" r="1.9"/><circle cx="91.1" cy="217.3" r="1.9"/><circle cx="79.1" cy="255.2" r="1.9"/><circle cx="88.8" cy="226.7" r="1.9"/><circle cx="82.7" cy="207.2" r="1.9"/><circle cx="105.0" cy="209.3" r="1.9"/><circle cx="91.0" cy="206.7" r="1.9"/><circle cx="91.0" cy="270.9" r="1.9"/><circle cx="112.6" cy="204.7" r="1.9"/><circle cx="54.2" cy="190.9" r="1.9"/><circle cx="74.4" cy="227.6" r="1.9"/><circle cx="52.2" cy="208.6" r="1.9"/><circle cx="89.6" cy="196.5" r="1.9"/><circle cx="95.7" cy="218.4" r="1.9"/><circle cx="98.5" cy="207.3" r="1.9"/><circle cx="93.3" cy="196.1" r="1.9"/><circle cx="77.5" cy="205.4" r="1.9"/><circle cx="113.7" cy="211.0" r="1.9"/><circle cx="93.7" cy="240.5" r="1.9"/><circle cx="85.9" cy="210.7" r="1.9"/><circle cx="74.0" cy="214.9" r="1.9"/><circle cx="95.2" cy="202.1" r="1.9"/><circle cx="82.6" cy="181.2" r="1.9"/><circle cx="83.2" cy="198.7" r="1.9"/><circle cx="92.2" cy="207.3" r="1.9"/><circle cx="92.3" cy="209.2" r="1.9"/><circle cx="78.0" cy="216.8" r="1.9"/><circle cx="106.5" cy="241.8" r="1.9"/><circle cx="75.5" cy="192.1" r="1.9"/><circle cx="73.9" cy="201.6" r="1.9"/><circle cx="93.5" cy="207.0" r="1.9"/><circle cx="91.0" cy="211.2" r="1.9"/><circle cx="90.2" cy="189.8" r="1.9"/><circle cx="83.5" cy="233.0" r="1.9"/><circle cx="89.8" cy="254.8" r="1.9"/><circle cx="81.4" cy="189.4" r="1.9"/><circle cx="66.4" cy="206.3" r="1.9"/><circle cx="99.3" cy="203.7" r="1.9"/><circle cx="75.2" cy="194.8" r="1.9"/><circle cx="86.0" cy="210.5" r="1.9"/><circle cx="99.2" cy="198.4" r="1.9"/><circle cx="89.4" cy="210.1" r="1.9"/><circle cx="126.9" cy="195.5" r="1.9"/><circle cx="69.8" cy="194.8" r="1.9"/><circle cx="78.8" cy="188.3" r="1.9"/><circle cx="90.3" cy="212.7" r="1.9"/><circle cx="107.8" cy="215.4" r="1.9"/><circle cx="85.6" cy="217.9" r="1.9"/><circle cx="69.3" cy="226.1" r="1.9"/><circle cx="104.8" cy="217.0" r="1.9"/><circle cx="76.3" cy="199.2" r="1.9"/><circle cx="86.3" cy="197.5" r="1.9"/><circle cx="101.2" cy="209.6" r="1.9"/><circle cx="79.8" cy="250.0" r="1.9"/><circle cx="82.8" cy="220.7" r="1.9"/><circle cx="95.7" cy="196.6" r="1.9"/><circle cx="86.2" cy="198.7" r="1.9"/><circle cx="92.9" cy="203.7" r="1.9"/><circle cx="75.9" cy="205.6" r="1.9"/><circle cx="87.3" cy="235.3" r="1.9"/><circle cx="73.9" cy="224.6" r="1.9"/><circle cx="67.5" cy="237.0" r="1.9"/><circle cx="113.1" cy="227.4" r="1.9"/><circle cx="95.2" cy="210.3" r="1.9"/><circle cx="101.5" cy="205.0" r="1.9"/><circle cx="75.6" cy="205.2" r="1.9"/><circle cx="88.5" cy="211.4" r="1.9"/><circle cx="86.1" cy="220.1" r="1.9"/><circle cx="69.3" cy="258.7" r="1.9"/><circle cx="96.4" cy="204.9" r="1.9"/><circle cx="79.0" cy="208.1" r="1.9"/><circle cx="86.1" cy="204.0" r="1.9"/><circle cx="68.0" cy="220.7" r="1.9"/><circle cx="102.6" cy="209.4" r="1.9"/><circle cx="99.3" cy="217.5" r="1.9"/><circle cx="94.3" cy="244.6" r="1.9"/><circle cx="76.4" cy="203.1" r="1.9"/><circle cx="81.5" cy="198.6" r="1.9"/><circle cx="105.7" cy="196.4" r="1.9"/><circle cx="85.1" cy="224.0" r="1.9"/><circle cx="92.6" cy="189.8" r="1.9"/><circle cx="90.8" cy="210.0" r="1.9"/><circle cx="73.5" cy="219.2" r="1.9"/><circle cx="109.9" cy="218.4" r="1.9"/><circle cx="61.6" cy="212.9" r="1.9"/><circle cx="92.0" cy="221.9" r="1.9"/><circle cx="87.7" cy="202.0" r="1.9"/><circle cx="66.6" cy="225.1" r="1.9"/><circle cx="93.5" cy="231.3" r="1.9"/><circle cx="96.0" cy="191.6" r="1.9"/><circle cx="89.6" cy="210.5" r="1.9"/><circle cx="77.5" cy="206.5" r="1.9"/><circle cx="95.1" cy="210.5" r="1.9"/><circle cx="104.2" cy="177.5" r="1.9"/><circle cx="91.9" cy="209.3" r="1.9"/><circle cx="112.6" cy="204.3" r="1.9"/><circle cx="100.7" cy="189.1" r="1.9"/><circle cx="99.5" cy="210.6" r="1.9"/><circle cx="108.0" cy="179.9" r="1.9"/><circle cx="79.8" cy="210.2" r="1.9"/><circle cx="81.7" cy="181.3" r="1.9"/><circle cx="96.0" cy="188.4" r="1.9"/><circle cx="96.0" cy="214.8" r="1.9"/><circle cx="109.7" cy="237.2" r="1.9"/><circle cx="104.7" cy="204.8" r="1.9"/><circle cx="91.3" cy="191.9" r="1.9"/><circle cx="91.9" cy="218.0" r="1.9"/><circle cx="85.1" cy="210.8" r="1.9"/><circle cx="83.9" cy="215.0" r="1.9"/><circle cx="82.7" cy="216.4" r="1.9"/><circle cx="101.4" cy="197.3" r="1.9"/><circle cx="82.5" cy="205.9" r="1.9"/><circle cx="84.1" cy="243.6" r="1.9"/><circle cx="91.2" cy="216.0" r="1.9"/><circle cx="82.0" cy="227.1" r="1.9"/><circle cx="85.9" cy="189.2" r="1.9"/><circle cx="59.0" cy="213.5" r="1.9"/><circle cx="94.3" cy="218.1" r="1.9"/><circle cx="84.9" cy="190.2" r="1.9"/><circle cx="91.8" cy="244.9" r="1.9"/><circle cx="94.3" cy="201.1" r="1.9"/><circle cx="63.7" cy="219.1" r="1.9"/><circle cx="122.4" cy="185.9" r="1.9"/><circle cx="91.6" cy="215.9" r="1.9"/><circle cx="92.0" cy="230.1" r="1.9"/><circle cx="65.1" cy="263.1" r="1.9"/><circle cx="98.4" cy="226.2" r="1.9"/><circle cx="95.6" cy="219.5" r="1.9"/><circle cx="85.1" cy="191.0" r="1.9"/><circle cx="93.6" cy="213.1" r="1.9"/><circle cx="108.0" cy="214.6" r="1.9"/><circle cx="85.8" cy="184.1" r="1.9"/><circle cx="78.1" cy="202.6" r="1.9"/><circle cx="108.9" cy="211.1" r="1.9"/><circle cx="94.3" cy="206.6" r="1.9"/><circle cx="88.3" cy="217.6" r="1.9"/><circle cx="122.5" cy="203.6" r="1.9"/><circle cx="93.0" cy="195.9" r="1.9"/><circle cx="88.5" cy="221.7" r="1.9"/><circle cx="94.5" cy="195.4" r="1.9"/><circle cx="85.3" cy="215.0" r="1.9"/><circle cx="93.8" cy="206.7" r="1.9"/><circle cx="92.9" cy="214.6" r="1.9"/><circle cx="81.8" cy="203.8" r="1.9"/><circle cx="87.2" cy="240.8" r="1.9"/><circle cx="95.0" cy="207.1" r="1.9"/><circle cx="96.0" cy="199.4" r="1.9"/><circle cx="98.8" cy="212.0" r="1.9"/><circle cx="101.5" cy="223.5" r="1.9"/><circle cx="94.1" cy="220.3" r="1.9"/><circle cx="97.8" cy="213.9" r="1.9"/><circle cx="85.4" cy="192.1" r="1.9"/><circle cx="87.1" cy="193.4" r="1.9"/><circle cx="104.9" cy="224.6" r="1.9"/><circle cx="63.4" cy="191.6" r="1.9"/><circle cx="95.6" cy="176.6" r="1.9"/><circle cx="134.0" cy="200.9" r="1.9"/><circle cx="64.9" cy="183.3" r="1.9"/><circle cx="111.0" cy="187.4" r="1.9"/><circle cx="66.1" cy="194.9" r="1.9"/><circle cx="95.2" cy="211.6" r="1.9"/><circle cx="112.5" cy="191.7" r="1.9"/><circle cx="110.6" cy="229.2" r="1.9"/><circle cx="77.5" cy="234.8" r="1.9"/><circle cx="72.0" cy="210.5" r="1.9"/><circle cx="70.1" cy="244.1" r="1.9"/><circle cx="99.7" cy="219.2" r="1.9"/><circle cx="84.4" cy="197.3" r="1.9"/><circle cx="89.8" cy="200.2" r="1.9"/><circle cx="93.2" cy="243.0" r="1.9"/><circle cx="95.3" cy="245.0" r="1.9"/><circle cx="97.0" cy="244.1" r="1.9"/><circle cx="91.3" cy="197.2" r="1.9"/><circle cx="67.4" cy="214.6" r="1.9"/><circle cx="109.6" cy="211.0" r="1.9"/><circle cx="52.5" cy="215.6" r="1.9"/><circle cx="106.5" cy="219.7" r="1.9"/><circle cx="81.2" cy="218.2" r="1.9"/><circle cx="86.7" cy="190.3" r="1.9"/><circle cx="82.2" cy="195.6" r="1.9"/><circle cx="84.3" cy="220.0" r="1.9"/><circle cx="89.1" cy="220.3" r="1.9"/><circle cx="85.5" cy="209.0" r="1.9"/><circle cx="74.3" cy="228.2" r="1.9"/><circle cx="101.1" cy="205.5" r="1.9"/><circle cx="81.4" cy="221.7" r="1.9"/><circle cx="107.9" cy="210.6" r="1.9"/><circle cx="87.2" cy="213.4" r="1.9"/><circle cx="79.6" cy="239.9" r="1.9"/><circle cx="95.4" cy="199.0" r="1.9"/><circle cx="101.6" cy="212.3" r="1.9"/><circle cx="76.6" cy="206.9" r="1.9"/><circle cx="85.4" cy="227.6" r="1.9"/><circle cx="109.0" cy="198.3" r="1.9"/><circle cx="75.6" cy="177.9" r="1.9"/><circle cx="77.6" cy="201.9" r="1.9"/><circle cx="91.6" cy="199.0" r="1.9"/><circle cx="72.6" cy="220.3" r="1.9"/><circle cx="55.4" cy="203.4" r="1.9"/><circle cx="66.4" cy="190.7" r="1.9"/><circle cx="94.5" cy="187.6" r="1.9"/><circle cx="98.4" cy="207.9" r="1.9"/><circle cx="97.5" cy="229.6" r="1.9"/><circle cx="94.7" cy="202.3" r="1.9"/><circle cx="72.4" cy="218.8" r="1.9"/><circle cx="98.7" cy="196.6" r="1.9"/><circle cx="105.2" cy="208.7" r="1.9"/><circle cx="79.7" cy="197.8" r="1.9"/><circle cx="102.3" cy="194.9" r="1.9"/><circle cx="84.3" cy="194.6" r="1.9"/><circle cx="92.0" cy="211.2" r="1.9"/><circle cx="94.4" cy="224.5" r="1.9"/><circle cx="68.9" cy="234.2" r="1.9"/><circle cx="109.5" cy="196.7" r="1.9"/><circle cx="77.6" cy="202.8" r="1.9"/><circle cx="88.0" cy="197.6" r="1.9"/><circle cx="82.6" cy="206.8" r="1.9"/><circle cx="95.7" cy="180.0" r="1.9"/><circle cx="95.3" cy="220.7" r="1.9"/><circle cx="89.7" cy="190.4" r="1.9"/><circle cx="108.8" cy="213.2" r="1.9"/><circle cx="93.3" cy="208.6" r="1.9"/><circle cx="83.9" cy="235.7" r="1.9"/><circle cx="54.5" cy="207.6" r="1.9"/><circle cx="85.5" cy="217.4" r="1.9"/><circle cx="85.4" cy="192.5" r="1.9"/><circle cx="77.4" cy="213.8" r="1.9"/><circle cx="77.5" cy="212.8" r="1.9"/><circle cx="97.6" cy="219.4" r="1.9"/><circle cx="103.8" cy="192.4" r="1.9"/><circle cx="115.5" cy="203.5" r="1.9"/><circle cx="105.1" cy="240.0" r="1.9"/><circle cx="79.6" cy="201.9" r="1.9"/><circle cx="92.9" cy="222.1" r="1.9"/><circle cx="70.6" cy="213.3" r="1.9"/><circle cx="99.5" cy="256.0" r="1.9"/><circle cx="94.3" cy="201.3" r="1.9"/><circle cx="81.0" cy="221.8" r="1.9"/><circle cx="87.9" cy="262.5" r="1.9"/><circle cx="85.9" cy="207.5" r="1.9"/><circle cx="80.6" cy="197.0" r="1.9"/><circle cx="107.6" cy="252.2" r="1.9"/><circle cx="132.2" cy="225.4" r="1.9"/><circle cx="100.7" cy="209.7" r="1.9"/><circle cx="104.0" cy="202.3" r="1.9"/><circle cx="91.6" cy="224.0" r="1.9"/><circle cx="84.6" cy="282.2" r="1.9"/><circle cx="119.6" cy="205.4" r="1.9"/><circle cx="84.4" cy="207.4" r="1.9"/><circle cx="94.9" cy="209.8" r="1.9"/><circle cx="87.8" cy="228.0" r="1.9"/><circle cx="97.5" cy="205.9" r="1.9"/><circle cx="88.7" cy="204.5" r="1.9"/><circle cx="97.6" cy="200.3" r="1.9"/><circle cx="72.0" cy="178.9" r="1.9"/><circle cx="88.0" cy="250.5" r="1.9"/><circle cx="108.3" cy="203.8" r="1.9"/><circle cx="75.2" cy="227.8" r="1.9"/><circle cx="80.2" cy="215.5" r="1.9"/><circle cx="108.3" cy="223.4" r="1.9"/><circle cx="95.0" cy="206.6" r="1.9"/><circle cx="104.1" cy="213.0" r="1.9"/><circle cx="58.6" cy="216.8" r="1.9"/><circle cx="91.4" cy="209.3" r="1.9"/><circle cx="71.8" cy="219.2" r="1.9"/><circle cx="70.2" cy="234.1" r="1.9"/><circle cx="95.1" cy="212.7" r="1.9"/><circle cx="105.7" cy="208.5" r="1.9"/><circle cx="68.8" cy="198.8" r="1.9"/><circle cx="74.1" cy="200.8" r="1.9"/><circle cx="81.3" cy="174.9" r="1.9"/><circle cx="87.6" cy="215.5" r="1.9"/><circle cx="71.0" cy="228.8" r="1.9"/><circle cx="120.5" cy="204.5" r="1.9"/><circle cx="97.5" cy="205.2" r="1.9"/><circle cx="84.4" cy="265.3" r="1.9"/><circle cx="82.2" cy="213.4" r="1.9"/><circle cx="121.4" cy="207.1" r="1.9"/><circle cx="120.2" cy="199.3" r="1.9"/><circle cx="82.6" cy="240.2" r="1.9"/><circle cx="94.1" cy="225.8" r="1.9"/><circle cx="106.7" cy="190.0" r="1.9"/><circle cx="72.9" cy="225.3" r="1.9"/><circle cx="81.2" cy="206.4" r="1.9"/><circle cx="107.9" cy="208.5" r="1.9"/><circle cx="79.7" cy="192.1" r="1.9"/><circle cx="83.3" cy="197.6" r="1.9"/><circle cx="70.6" cy="219.5" r="1.9"/><circle cx="78.7" cy="184.3" r="1.9"/><circle cx="98.7" cy="208.2" r="1.9"/><circle cx="77.8" cy="184.5" r="1.9"/><circle cx="71.1" cy="193.0" r="1.9"/><circle cx="80.5" cy="208.8" r="1.9"/><circle cx="113.6" cy="192.9" r="1.9"/><circle cx="91.6" cy="218.6" r="1.9"/><circle cx="81.4" cy="218.3" r="1.9"/><circle cx="91.2" cy="197.3" r="1.9"/><circle cx="95.2" cy="200.9" r="1.9"/><circle cx="90.8" cy="193.5" r="1.9"/><circle cx="64.1" cy="193.0" r="1.9"/><circle cx="93.2" cy="190.2" r="1.9"/><circle cx="86.1" cy="196.9" r="1.9"/><circle cx="100.7" cy="226.5" r="1.9"/><circle cx="70.3" cy="205.1" r="1.9"/><circle cx="103.5" cy="199.4" r="1.9"/><circle cx="82.1" cy="215.0" r="1.9"/><circle cx="65.3" cy="202.8" r="1.9"/><circle cx="107.4" cy="181.1" r="1.9"/><circle cx="81.8" cy="206.0" r="1.9"/><circle cx="94.1" cy="187.4" r="1.9"/><circle cx="86.7" cy="216.2" r="1.9"/><circle cx="104.1" cy="203.2" r="1.9"/><circle cx="104.2" cy="232.1" r="1.9"/><circle cx="104.4" cy="207.4" r="1.9"/><circle cx="98.8" cy="207.1" r="1.9"/><circle cx="66.5" cy="211.5" r="1.9"/><circle cx="65.5" cy="212.3" r="1.9"/><circle cx="91.6" cy="194.4" r="1.9"/><circle cx="75.6" cy="190.5" r="1.9"/><circle cx="95.3" cy="223.7" r="1.9"/><circle cx="91.1" cy="217.5" r="1.9"/><circle cx="69.2" cy="193.7" r="1.9"/><circle cx="74.4" cy="198.8" r="1.9"/><circle cx="73.1" cy="214.8" r="1.9"/><circle cx="76.5" cy="190.1" r="1.9"/><circle cx="85.9" cy="209.6" r="1.9"/><circle cx="98.3" cy="215.5" r="1.9"/><circle cx="107.4" cy="176.0" r="1.9"/><circle cx="75.3" cy="249.5" r="1.9"/><circle cx="81.0" cy="208.2" r="1.9"/><circle cx="110.4" cy="241.4" r="1.9"/><circle cx="101.2" cy="213.2" r="1.9"/><circle cx="92.0" cy="208.6" r="1.9"/><circle cx="56.2" cy="206.6" r="1.9"/><circle cx="74.8" cy="233.3" r="1.9"/><circle cx="91.0" cy="250.2" r="1.9"/><circle cx="80.6" cy="214.3" r="1.9"/><circle cx="116.4" cy="210.4" r="1.9"/><circle cx="90.0" cy="239.4" r="1.9"/><circle cx="92.7" cy="232.4" r="1.9"/><circle cx="73.5" cy="203.2" r="1.9"/><circle cx="74.3" cy="223.8" r="1.9"/><circle cx="79.5" cy="203.8" r="1.9"/><circle cx="80.1" cy="220.0" r="1.9"/><circle cx="85.5" cy="245.3" r="1.9"/><circle cx="94.0" cy="218.5" r="1.9"/><circle cx="92.1" cy="231.7" r="1.9"/><circle cx="102.7" cy="229.7" r="1.9"/><circle cx="70.0" cy="199.2" r="1.9"/><circle cx="91.7" cy="177.1" r="1.9"/><circle cx="92.1" cy="198.3" r="1.9"/><circle cx="110.9" cy="283.2" r="1.9"/><circle cx="85.7" cy="200.4" r="1.9"/><circle cx="93.3" cy="218.6" r="1.9"/><circle cx="77.4" cy="240.8" r="1.9"/><circle cx="94.7" cy="216.6" r="1.9"/><circle cx="94.3" cy="207.8" r="1.9"/><circle cx="80.0" cy="230.4" r="1.9"/><circle cx="82.7" cy="212.6" r="1.9"/><circle cx="88.3" cy="190.2" r="1.9"/><circle cx="96.8" cy="194.1" r="1.9"/><circle cx="72.8" cy="214.0" r="1.9"/><circle cx="101.1" cy="197.1" r="1.9"/><circle cx="84.2" cy="246.8" r="1.9"/><circle cx="115.2" cy="213.4" r="1.9"/><circle cx="109.1" cy="226.2" r="1.9"/><circle cx="83.1" cy="214.2" r="1.9"/><circle cx="80.1" cy="203.0" r="1.9"/><circle cx="123.0" cy="204.0" r="1.9"/><circle cx="97.5" cy="238.3" r="1.9"/><circle cx="96.7" cy="190.8" r="1.9"/><circle cx="82.9" cy="243.3" r="1.9"/><circle cx="87.0" cy="182.4" r="1.9"/><circle cx="100.0" cy="198.1" r="1.9"/><circle cx="97.4" cy="217.3" r="1.9"/><circle cx="77.3" cy="197.0" r="1.9"/><circle cx="106.1" cy="216.2" r="1.9"/><circle cx="93.1" cy="211.0" r="1.9"/><circle cx="75.6" cy="211.0" r="1.9"/><circle cx="102.6" cy="210.4" r="1.9"/><circle cx="86.4" cy="191.6" r="1.9"/><circle cx="99.7" cy="222.5" r="1.9"/><circle cx="81.1" cy="199.2" r="1.9"/><circle cx="93.8" cy="207.6" r="1.9"/><circle cx="66.2" cy="217.1" r="1.9"/><circle cx="94.0" cy="195.6" r="1.9"/><circle cx="67.7" cy="206.4" r="1.9"/><circle cx="91.1" cy="188.0" r="1.9"/><circle cx="53.5" cy="208.8" r="1.9"/><circle cx="87.9" cy="203.6" r="1.9"/><circle cx="98.9" cy="190.0" r="1.9"/><circle cx="95.5" cy="223.6" r="1.9"/><circle cx="105.4" cy="221.2" r="1.9"/><circle cx="73.9" cy="254.6" r="1.9"/><circle cx="110.6" cy="199.7" r="1.9"/><circle cx="111.1" cy="205.9" r="1.9"/><circle cx="72.1" cy="229.9" r="1.9"/><circle cx="77.7" cy="232.5" r="1.9"/><circle cx="80.8" cy="201.4" r="1.9"/><circle cx="88.5" cy="203.7" r="1.9"/><circle cx="91.4" cy="217.6" r="1.9"/><circle cx="54.5" cy="203.1" r="1.9"/><circle cx="97.0" cy="212.2" r="1.9"/><circle cx="85.2" cy="245.6" r="1.9"/><circle cx="74.6" cy="209.5" r="1.9"/><circle cx="102.0" cy="201.4" r="1.9"/><circle cx="84.0" cy="207.6" r="1.9"/><circle cx="104.6" cy="196.9" r="1.9"/><circle cx="96.2" cy="212.4" r="1.9"/><circle cx="84.3" cy="211.9" r="1.9"/><circle cx="105.1" cy="208.6" r="1.9"/><circle cx="100.0" cy="198.2" r="1.9"/><circle cx="81.7" cy="201.7" r="1.9"/><circle cx="66.4" cy="211.6" r="1.9"/><circle cx="81.2" cy="235.8" r="1.9"/><circle cx="97.3" cy="195.2" r="1.9"/><circle cx="85.5" cy="207.3" r="1.9"/><circle cx="113.3" cy="217.3" r="1.9"/><circle cx="92.4" cy="240.0" r="1.9"/><circle cx="91.5" cy="200.7" r="1.9"/><circle cx="94.4" cy="223.7" r="1.9"/><circle cx="76.5" cy="212.1" r="1.9"/><circle cx="87.1" cy="201.7" r="1.9"/><circle cx="79.6" cy="206.9" r="1.9"/><circle cx="56.1" cy="245.5" r="1.9"/><circle cx="64.1" cy="196.0" r="1.9"/><circle cx="99.0" cy="192.7" r="1.9"/><circle cx="82.6" cy="190.0" r="1.9"/><circle cx="87.1" cy="187.8" r="1.9"/><circle cx="68.2" cy="230.9" r="1.9"/><circle cx="80.6" cy="240.6" r="1.9"/><circle cx="99.6" cy="231.0" r="1.9"/><circle cx="90.1" cy="263.8" r="1.9"/><circle cx="81.5" cy="203.2" r="1.9"/><circle cx="110.0" cy="201.8" r="1.9"/><circle cx="87.9" cy="202.3" r="1.9"/><circle cx="83.9" cy="251.2" r="1.9"/><circle cx="104.6" cy="207.3" r="1.9"/><circle cx="64.7" cy="200.8" r="1.9"/><circle cx="96.4" cy="225.8" r="1.9"/><circle cx="73.3" cy="207.5" r="1.9"/><circle cx="77.8" cy="224.0" r="1.9"/><circle cx="79.3" cy="213.7" r="1.9"/><circle cx="90.5" cy="186.4" r="1.9"/><circle cx="90.2" cy="196.2" r="1.9"/><circle cx="93.0" cy="205.2" r="1.9"/><circle cx="91.6" cy="200.1" r="1.9"/><circle cx="108.2" cy="223.1" r="1.9"/><circle cx="112.2" cy="204.1" r="1.9"/><circle cx="98.6" cy="199.4" r="1.9"/><circle cx="99.3" cy="211.2" r="1.9"/><circle cx="83.5" cy="266.2" r="1.9"/><circle cx="73.5" cy="202.0" r="1.9"/><circle cx="97.0" cy="245.0" r="1.9"/><circle cx="89.3" cy="233.6" r="1.9"/><circle cx="100.7" cy="214.7" r="1.9"/><circle cx="63.4" cy="218.3" r="1.9"/><circle cx="125.9" cy="236.9" r="1.9"/><circle cx="71.1" cy="209.6" r="1.9"/><circle cx="89.3" cy="198.9" r="1.9"/><circle cx="102.5" cy="205.6" r="1.9"/><circle cx="69.6" cy="217.8" r="1.9"/><circle cx="81.1" cy="248.8" r="1.9"/><circle cx="60.7" cy="225.2" r="1.9"/><circle cx="68.9" cy="219.4" r="1.9"/><circle cx="61.9" cy="219.6" r="1.9"/><circle cx="90.2" cy="207.5" r="1.9"/><circle cx="92.9" cy="268.5" r="1.9"/><circle cx="84.4" cy="216.9" r="1.9"/><circle cx="106.3" cy="204.9" r="1.9"/><circle cx="108.1" cy="207.1" r="1.9"/><circle cx="88.7" cy="214.0" r="1.9"/><circle cx="85.7" cy="213.4" r="1.9"/><circle cx="85.0" cy="222.1" r="1.9"/><circle cx="82.5" cy="192.7" r="1.9"/><circle cx="106.9" cy="220.2" r="1.9"/><circle cx="92.1" cy="234.6" r="1.9"/><circle cx="84.2" cy="197.1" r="1.9"/><circle cx="85.7" cy="218.6" r="1.9"/><circle cx="96.4" cy="201.2" r="1.9"/><circle cx="83.3" cy="197.8" r="1.9"/><circle cx="93.2" cy="207.8" r="1.9"/><circle cx="88.3" cy="197.1" r="1.9"/><circle cx="107.6" cy="209.4" r="1.9"/><circle cx="104.9" cy="221.4" r="1.9"/><circle cx="69.2" cy="211.0" r="1.9"/><circle cx="86.6" cy="176.6" r="1.9"/><circle cx="98.7" cy="215.8" r="1.9"/><circle cx="82.6" cy="225.1" r="1.9"/><circle cx="100.1" cy="194.4" r="1.9"/><circle cx="93.5" cy="176.4" r="1.9"/><circle cx="97.1" cy="241.8" r="1.9"/><circle cx="88.0" cy="190.2" r="1.9"/><circle cx="93.1" cy="206.6" r="1.9"/><circle cx="96.1" cy="208.3" r="1.9"/><circle cx="68.5" cy="192.9" r="1.9"/><circle cx="76.2" cy="194.1" r="1.9"/><circle cx="74.7" cy="190.8" r="1.9"/><circle cx="112.2" cy="220.4" r="1.9"/><circle cx="93.1" cy="224.2" r="1.9"/><circle cx="94.0" cy="204.9" r="1.9"/><circle cx="91.3" cy="222.6" r="1.9"/><circle cx="81.7" cy="225.9" r="1.9"/><circle cx="78.5" cy="204.1" r="1.9"/><circle cx="100.6" cy="201.7" r="1.9"/><circle cx="83.7" cy="207.2" r="1.9"/><circle cx="110.8" cy="220.9" r="1.9"/><circle cx="91.6" cy="225.7" r="1.9"/><circle cx="90.1" cy="212.6" r="1.9"/><circle cx="85.8" cy="219.7" r="1.9"/><circle cx="87.9" cy="198.7" r="1.9"/><circle cx="89.4" cy="244.6" r="1.9"/><circle cx="110.0" cy="206.0" r="1.9"/><circle cx="121.2" cy="206.4" r="1.9"/><circle cx="72.9" cy="206.1" r="1.9"/><circle cx="92.4" cy="223.1" r="1.9"/><circle cx="98.7" cy="218.3" r="1.9"/><circle cx="76.4" cy="202.0" r="1.9"/><circle cx="80.1" cy="200.2" r="1.9"/><circle cx="82.6" cy="203.6" r="1.9"/><circle cx="55.6" cy="218.0" r="1.9"/><circle cx="97.9" cy="251.0" r="1.9"/><circle cx="88.3" cy="230.0" r="1.9"/><circle cx="87.6" cy="218.7" r="1.9"/><circle cx="90.1" cy="217.9" r="1.9"/><circle cx="92.4" cy="205.8" r="1.9"/><circle cx="120.9" cy="218.4" r="1.9"/><circle cx="91.4" cy="243.4" r="1.9"/><circle cx="100.5" cy="221.6" r="1.9"/><circle cx="81.8" cy="212.1" r="1.9"/><circle cx="93.8" cy="201.9" r="1.9"/><circle cx="84.6" cy="225.7" r="1.9"/><circle cx="86.9" cy="215.7" r="1.9"/><circle cx="76.5" cy="209.0" r="1.9"/><circle cx="77.7" cy="187.9" r="1.9"/><circle cx="95.3" cy="200.3" r="1.9"/></g>
<g fill="#2c6ca3" fill-opacity="0.24"><circle cx="110.7" cy="252.5" r="1.9"/><circle cx="90.8" cy="218.6" r="1.9"/><circle cx="77.8" cy="212.6" r="1.9"/><circle cx="66.1" cy="220.7" r="1.9"/><circle cx="64.0" cy="211.4" r="1.9"/><circle cx="93.2" cy="212.8" r="1.9"/><circle cx="52.1" cy="249.3" r="1.9"/><circle cx="94.8" cy="186.2" r="1.9"/><circle cx="90.2" cy="185.6" r="1.9"/><circle cx="94.9" cy="212.7" r="1.9"/><circle cx="66.5" cy="231.9" r="1.9"/><circle cx="63.8" cy="229.4" r="1.9"/><circle cx="60.4" cy="249.5" r="1.9"/><circle cx="75.0" cy="222.6" r="1.9"/><circle cx="72.5" cy="233.2" r="1.9"/><circle cx="77.0" cy="232.7" r="1.9"/><circle cx="57.6" cy="229.4" r="1.9"/><circle cx="77.9" cy="191.3" r="1.9"/><circle cx="52.1" cy="249.6" r="1.9"/><circle cx="76.5" cy="220.6" r="1.9"/><circle cx="68.6" cy="231.2" r="1.9"/><circle cx="75.0" cy="208.8" r="1.9"/><circle cx="70.1" cy="210.6" r="1.9"/><circle cx="52.1" cy="258.3" r="1.9"/><circle cx="73.0" cy="245.3" r="1.9"/><circle cx="84.6" cy="232.5" r="1.9"/><circle cx="69.6" cy="242.0" r="1.9"/><circle cx="80.1" cy="217.7" r="1.9"/><circle cx="52.1" cy="228.1" r="1.9"/><circle cx="71.3" cy="246.5" r="1.9"/><circle cx="79.9" cy="231.6" r="1.9"/><circle cx="77.7" cy="213.6" r="1.9"/><circle cx="84.3" cy="224.4" r="1.9"/><circle cx="73.6" cy="223.3" r="1.9"/><circle cx="82.3" cy="227.5" r="1.9"/><circle cx="55.7" cy="228.2" r="1.9"/><circle cx="71.9" cy="200.6" r="1.9"/><circle cx="87.4" cy="246.0" r="1.9"/><circle cx="85.1" cy="218.6" r="1.9"/><circle cx="61.2" cy="228.1" r="1.9"/><circle cx="52.1" cy="225.8" r="1.9"/><circle cx="52.1" cy="221.2" r="1.9"/><circle cx="52.1" cy="208.2" r="1.9"/><circle cx="82.1" cy="218.2" r="1.9"/><circle cx="76.2" cy="216.5" r="1.9"/><circle cx="76.9" cy="217.1" r="1.9"/><circle cx="90.5" cy="232.9" r="1.9"/><circle cx="52.1" cy="215.2" r="1.9"/><circle cx="55.0" cy="213.9" r="1.9"/><circle cx="52.1" cy="209.8" r="1.9"/><circle cx="64.1" cy="224.3" r="1.9"/><circle cx="85.3" cy="219.5" r="1.9"/><circle cx="65.4" cy="264.4" r="1.9"/><circle cx="59.1" cy="236.8" r="1.9"/><circle cx="52.1" cy="234.7" r="1.9"/><circle cx="74.2" cy="211.7" r="1.9"/><circle cx="52.1" cy="214.7" r="1.9"/><circle cx="72.0" cy="227.2" r="1.9"/><circle cx="72.7" cy="242.9" r="1.9"/><circle cx="72.1" cy="218.0" r="1.9"/><circle cx="77.6" cy="207.7" r="1.9"/><circle cx="58.3" cy="209.0" r="1.9"/><circle cx="71.0" cy="230.4" r="1.9"/><circle cx="81.7" cy="249.3" r="1.9"/><circle cx="84.1" cy="245.4" r="1.9"/><circle cx="76.4" cy="245.5" r="1.9"/><circle cx="63.4" cy="206.2" r="1.9"/><circle cx="57.9" cy="223.3" r="1.9"/><circle cx="96.4" cy="200.4" r="1.9"/><circle cx="58.8" cy="203.8" r="1.9"/><circle cx="68.5" cy="206.9" r="1.9"/><circle cx="75.3" cy="237.8" r="1.9"/><circle cx="52.1" cy="221.3" r="1.9"/><circle cx="74.8" cy="232.0" r="1.9"/><circle cx="63.2" cy="255.9" r="1.9"/><circle cx="52.1" cy="255.6" r="1.9"/><circle cx="52.1" cy="237.6" r="1.9"/><circle cx="52.1" cy="205.5" r="1.9"/><circle cx="71.9" cy="234.0" r="1.9"/><circle cx="84.6" cy="258.3" r="1.9"/><circle cx="54.6" cy="229.7" r="1.9"/><circle cx="78.3" cy="218.7" r="1.9"/><circle cx="85.6" cy="247.7" r="1.9"/><circle cx="70.8" cy="192.5" r="1.9"/><circle cx="101.7" cy="247.1" r="1.9"/><circle cx="88.0" cy="205.8" r="1.9"/><circle cx="84.2" cy="209.4" r="1.9"/><circle cx="67.1" cy="240.2" r="1.9"/><circle cx="66.3" cy="234.6" r="1.9"/><circle cx="52.1" cy="231.2" r="1.9"/><circle cx="68.1" cy="235.1" r="1.9"/><circle cx="54.6" cy="214.6" r="1.9"/><circle cx="66.8" cy="225.0" r="1.9"/><circle cx="97.4" cy="267.0" r="1.9"/><circle cx="52.1" cy="228.7" r="1.9"/><circle cx="87.9" cy="246.3" r="1.9"/><circle cx="78.1" cy="234.1" r="1.9"/><circle cx="98.8" cy="224.5" r="1.9"/><circle cx="69.7" cy="234.6" r="1.9"/><circle cx="57.9" cy="220.2" r="1.9"/><circle cx="103.3" cy="237.9" r="1.9"/><circle cx="52.1" cy="238.8" r="1.9"/><circle cx="78.9" cy="200.3" r="1.9"/><circle cx="70.4" cy="212.5" r="1.9"/><circle cx="55.3" cy="223.8" r="1.9"/><circle cx="69.1" cy="228.1" r="1.9"/><circle cx="73.3" cy="235.6" r="1.9"/><circle cx="61.9" cy="232.8" r="1.9"/><circle cx="95.5" cy="242.4" r="1.9"/><circle cx="90.4" cy="193.4" r="1.9"/><circle cx="71.3" cy="208.3" r="1.9"/><circle cx="52.1" cy="276.0" r="1.9"/><circle cx="74.8" cy="247.3" r="1.9"/><circle cx="79.4" cy="234.4" r="1.9"/><circle cx="68.4" cy="232.8" r="1.9"/><circle cx="111.6" cy="266.5" r="1.9"/><circle cx="53.6" cy="214.3" r="1.9"/><circle cx="73.3" cy="245.9" r="1.9"/><circle cx="90.5" cy="216.9" r="1.9"/><circle cx="90.4" cy="225.3" r="1.9"/><circle cx="52.5" cy="201.6" r="1.9"/><circle cx="61.6" cy="241.7" r="1.9"/><circle cx="52.1" cy="202.8" r="1.9"/><circle cx="63.8" cy="252.2" r="1.9"/><circle cx="65.7" cy="197.3" r="1.9"/><circle cx="71.8" cy="211.2" r="1.9"/><circle cx="52.1" cy="220.7" r="1.9"/><circle cx="91.5" cy="256.6" r="1.9"/><circle cx="53.6" cy="197.7" r="1.9"/><circle cx="90.9" cy="212.1" r="1.9"/><circle cx="72.2" cy="267.8" r="1.9"/><circle cx="84.0" cy="272.3" r="1.9"/><circle cx="70.4" cy="235.2" r="1.9"/><circle cx="109.8" cy="238.3" r="1.9"/><circle cx="55.0" cy="213.4" r="1.9"/><circle cx="52.1" cy="219.4" r="1.9"/><circle cx="69.0" cy="226.8" r="1.9"/><circle cx="72.1" cy="230.0" r="1.9"/><circle cx="96.3" cy="214.4" r="1.9"/><circle cx="52.1" cy="237.9" r="1.9"/><circle cx="88.8" cy="256.4" r="1.9"/><circle cx="96.8" cy="269.4" r="1.9"/><circle cx="66.9" cy="211.1" r="1.9"/><circle cx="105.1" cy="234.6" r="1.9"/><circle cx="94.0" cy="259.5" r="1.9"/><circle cx="72.4" cy="243.0" r="1.9"/><circle cx="52.1" cy="235.3" r="1.9"/><circle cx="65.3" cy="209.6" r="1.9"/><circle cx="80.0" cy="269.8" r="1.9"/><circle cx="88.4" cy="241.2" r="1.9"/><circle cx="52.1" cy="210.2" r="1.9"/><circle cx="79.0" cy="222.3" r="1.9"/><circle cx="68.2" cy="217.3" r="1.9"/><circle cx="66.3" cy="201.3" r="1.9"/><circle cx="52.1" cy="247.2" r="1.9"/><circle cx="71.6" cy="239.1" r="1.9"/><circle cx="84.5" cy="212.6" r="1.9"/><circle cx="52.1" cy="202.3" r="1.9"/><circle cx="65.8" cy="222.9" r="1.9"/><circle cx="60.3" cy="241.1" r="1.9"/><circle cx="84.0" cy="256.5" r="1.9"/><circle cx="71.9" cy="213.6" r="1.9"/><circle cx="52.1" cy="214.8" r="1.9"/><circle cx="91.9" cy="252.6" r="1.9"/><circle cx="91.1" cy="231.2" r="1.9"/><circle cx="76.0" cy="243.2" r="1.9"/><circle cx="70.6" cy="224.5" r="1.9"/><circle cx="52.1" cy="231.6" r="1.9"/><circle cx="62.2" cy="206.9" r="1.9"/><circle cx="90.3" cy="202.3" r="1.9"/><circle cx="95.9" cy="235.7" r="1.9"/><circle cx="90.7" cy="208.2" r="1.9"/><circle cx="79.2" cy="210.6" r="1.9"/><circle cx="52.1" cy="202.0" r="1.9"/><circle cx="83.4" cy="230.0" r="1.9"/><circle cx="100.6" cy="225.2" r="1.9"/><circle cx="64.1" cy="196.5" r="1.9"/><circle cx="75.4" cy="213.9" r="1.9"/><circle cx="65.6" cy="236.4" r="1.9"/><circle cx="58.0" cy="216.9" r="1.9"/><circle cx="80.5" cy="186.9" r="1.9"/><circle cx="92.2" cy="235.4" r="1.9"/><circle cx="60.2" cy="238.2" r="1.9"/><circle cx="52.1" cy="217.3" r="1.9"/><circle cx="52.1" cy="236.7" r="1.9"/><circle cx="82.5" cy="255.8" r="1.9"/><circle cx="95.5" cy="254.8" r="1.9"/><circle cx="66.1" cy="231.0" r="1.9"/><circle cx="99.2" cy="239.6" r="1.9"/><circle cx="52.1" cy="203.2" r="1.9"/><circle cx="83.6" cy="245.8" r="1.9"/><circle cx="53.2" cy="243.3" r="1.9"/><circle cx="89.8" cy="237.9" r="1.9"/><circle cx="76.1" cy="250.6" r="1.9"/><circle cx="67.4" cy="223.2" r="1.9"/><circle cx="60.7" cy="234.6" r="1.9"/><circle cx="78.6" cy="202.8" r="1.9"/><circle cx="95.0" cy="221.1" r="1.9"/><circle cx="83.3" cy="182.7" r="1.9"/><circle cx="70.7" cy="234.3" r="1.9"/><circle cx="64.5" cy="213.9" r="1.9"/><circle cx="60.4" cy="264.3" r="1.9"/><circle cx="70.8" cy="234.0" r="1.9"/><circle cx="52.1" cy="236.7" r="1.9"/><circle cx="70.1" cy="209.5" r="1.9"/><circle cx="91.5" cy="233.5" r="1.9"/><circle cx="74.7" cy="215.2" r="1.9"/><circle cx="73.3" cy="233.2" r="1.9"/><circle cx="52.1" cy="257.3" r="1.9"/><circle cx="85.9" cy="230.7" r="1.9"/><circle cx="84.7" cy="198.3" r="1.9"/><circle cx="96.2" cy="223.4" r="1.9"/><circle cx="65.3" cy="201.0" r="1.9"/><circle cx="59.3" cy="239.0" r="1.9"/><circle cx="66.6" cy="226.3" r="1.9"/><circle cx="57.5" cy="236.3" r="1.9"/><circle cx="74.7" cy="230.6" r="1.9"/><circle cx="69.1" cy="236.3" r="1.9"/><circle cx="62.9" cy="227.3" r="1.9"/><circle cx="74.6" cy="237.5" r="1.9"/><circle cx="90.0" cy="249.9" r="1.9"/><circle cx="52.1" cy="200.6" r="1.9"/><circle cx="66.2" cy="212.9" r="1.9"/><circle cx="75.8" cy="226.6" r="1.9"/><circle cx="79.9" cy="235.5" r="1.9"/><circle cx="84.9" cy="254.2" r="1.9"/><circle cx="70.3" cy="225.1" r="1.9"/><circle cx="56.6" cy="242.9" r="1.9"/><circle cx="80.3" cy="205.9" r="1.9"/><circle cx="61.2" cy="261.5" r="1.9"/><circle cx="69.9" cy="221.3" r="1.9"/><circle cx="71.4" cy="212.5" r="1.9"/><circle cx="88.7" cy="231.9" r="1.9"/><circle cx="68.4" cy="194.1" r="1.9"/><circle cx="77.6" cy="200.6" r="1.9"/><circle cx="72.2" cy="208.3" r="1.9"/><circle cx="67.3" cy="243.8" r="1.9"/><circle cx="88.0" cy="213.8" r="1.9"/><circle cx="68.5" cy="213.8" r="1.9"/><circle cx="52.1" cy="220.6" r="1.9"/><circle cx="79.4" cy="189.2" r="1.9"/><circle cx="55.8" cy="218.2" r="1.9"/><circle cx="52.9" cy="268.1" r="1.9"/><circle cx="74.8" cy="225.2" r="1.9"/><circle cx="79.5" cy="193.1" r="1.9"/><circle cx="79.0" cy="237.8" r="1.9"/><circle cx="67.7" cy="213.1" r="1.9"/><circle cx="52.1" cy="237.4" r="1.9"/><circle cx="70.6" cy="221.1" r="1.9"/><circle cx="66.1" cy="276.3" r="1.9"/><circle cx="52.1" cy="256.9" r="1.9"/><circle cx="74.7" cy="221.2" r="1.9"/><circle cx="62.3" cy="233.0" r="1.9"/><circle cx="95.9" cy="262.3" r="1.9"/><circle cx="89.9" cy="221.9" r="1.9"/></g>
<circle cx="104.2" cy="292.4" r="1.9" fill="#2c6ca3" fill-opacity="0.24"/>
<circle cx="97.5" cy="284.4" r="1.9" fill="#3d6d3c" fill-opacity="0.26"/>
<circle cx="57.7" cy="278.2" r="1.9" fill="#2c6ca3" fill-opacity="0.24"/>
<polygon points="39.0,207.7 41.7,208.0 44.5,208.2 47.2,208.5 49.9,208.8 52.7,209.0 55.4,209.3 58.2,209.6 60.9,209.8 63.6,210.1 66.4,210.3 69.1,210.5 71.8,210.7 74.6,211.0 77.3,211.1 80.0,211.3 82.8,211.5 85.5,211.6 88.2,211.7 91.0,211.7 93.7,211.7 96.5,211.7 99.2,211.6 101.9,211.5 104.7,211.4 107.4,211.2 110.1,211.0 112.9,210.8 115.6,210.6 118.3,210.4 121.1,210.2 123.8,210.0 126.5,209.7 129.3,209.5 132.0,209.3 134.8,209.1 137.5,208.8 140.2,208.6 143.0,208.3 145.7,208.1 145.7,221.1 143.0,220.8 140.2,220.4 137.5,220.1 134.8,219.7 132.0,219.4 129.3,219.0 126.5,218.7 123.8,218.4 121.1,218.0 118.3,217.7 115.6,217.4 112.9,217.1 110.1,216.8 107.4,216.5 104.7,216.2 101.9,216.0 99.2,215.8 96.5,215.6 93.7,215.4 91.0,215.3 88.2,215.3 85.5,215.3 82.8,215.3 80.0,215.3 77.3,215.4 74.6,215.4 71.8,215.5 69.1,215.7 66.4,215.8 63.6,215.9 60.9,216.0 58.2,216.2 55.4,216.3 52.7,216.5 49.9,216.6 47.2,216.8 44.5,217.0 41.7,217.1 39.0,217.3" fill="#7d9f74" fill-opacity="0.27"/>
<polygon points="39.0,216.5 41.7,217.0 44.5,217.5 47.2,217.9 49.9,218.4 52.7,218.9 55.4,219.3 58.2,219.7 60.9,220.1 63.6,220.5 66.4,220.8 69.1,221.1 71.8,221.3 74.6,221.6 77.3,221.7 80.0,221.9 82.8,222.0 85.5,222.1 88.2,222.1 91.0,222.1 93.7,222.1 96.5,222.1 99.2,222.0 101.9,222.0 104.7,221.9 107.4,221.9 110.1,221.8 112.9,221.7 115.6,221.6 118.3,221.5 121.1,221.4 123.8,221.3 126.5,221.2 129.3,221.0 132.0,220.9 134.8,220.8 137.5,220.7 140.2,220.6 143.0,220.4 145.7,220.3 145.7,238.7 143.0,238.2 140.2,237.7 137.5,237.2 134.8,236.7 132.0,236.2 129.3,235.7 126.5,235.2 123.8,234.7 121.1,234.2 118.3,233.7 115.6,233.2 112.9,232.8 110.1,232.3 107.4,231.8 104.7,231.4 101.9,230.9 99.2,230.5 96.5,230.1 93.7,229.7 91.0,229.3 88.2,228.9 85.5,228.6 82.8,228.3 80.0,228.0 77.3,227.8 74.6,227.6 71.8,227.4 69.1,227.3 66.4,227.2 63.6,227.2 60.9,227.1 58.2,227.2 55.4,227.2 52.7,227.2 49.9,227.3 47.2,227.4 44.5,227.5 41.7,227.6 39.0,227.7" fill="#7ea7c9" fill-opacity="0.34"/>
<line x1="39" y1="212.5" x2="145.7" y2="214.6" stroke="#2c672c" stroke-width="1.7"/>
<line x1="39" y1="222.1" x2="145.7" y2="229.5" stroke="#1c5f9c" stroke-width="1.7"/>
</g>
<rect x="34.0" y="156.3" width="117.5" height="153.2" fill="none" stroke="#575757" stroke-width="1"/>
<line x1="34.0" y1="172.5" x2="36.5" y2="172.5" stroke="#000" stroke-width="1"/>
<text x="33.0" y="175.3" text-anchor="end" class="tk">2</text>
<line x1="34.0" y1="215.5" x2="36.5" y2="215.5" stroke="#000" stroke-width="1"/>
<text x="33.0" y="217.9" text-anchor="end" class="tk">0</text>
<line x1="34.0" y1="258.5" x2="36.5" y2="258.5" stroke="#000" stroke-width="1"/>
<text x="33.0" y="260.6" text-anchor="end" class="tk">−2</text>
<line x1="34.0" y1="300.5" x2="36.5" y2="300.5" stroke="#000" stroke-width="1"/>
<text x="33.0" y="303.2" text-anchor="end" class="tk">−4</text>
<line x1="54.5" y1="309.5" x2="54.5" y2="307.0" stroke="#000" stroke-width="1"/>
<text x="54.4" y="315.9" text-anchor="middle" class="tk">−2</text>
<line x1="85.5" y1="309.5" x2="85.5" y2="307.0" stroke="#000" stroke-width="1"/>
<text x="85.0" y="315.9" text-anchor="middle" class="tk">0</text>
<line x1="115.5" y1="309.5" x2="115.5" y2="307.0" stroke="#000" stroke-width="1"/>
<text x="115.6" y="315.9" text-anchor="middle" class="tk">2</text>
<line x1="146.5" y1="309.5" x2="146.5" y2="307.0" stroke="#000" stroke-width="1"/>
<text x="146.2" y="315.9" text-anchor="middle" class="tk">4</text>
<text x="38.85" y="167.0" class="tt" textLength="107.6">HYD × FD<tspan dy="1.3" font-size="4.6">B</tspan><tspan dy="0.2" font-size="5.2" fill="#888" stroke="none">_</tspan><tspan dy="-1.5">RE: </tspan><tspan font-style="italic">F</tspan> = 0.25, <tspan font-style="italic">P</tspan> = 0.617</text>
<clipPath id="clipg"><rect x="165.8" y="156.3" width="118.7" height="152.2"/></clipPath>
<g clip-path="url(#clipg)">
<g fill="#3d6d3c" fill-opacity="0.26"><circle cx="243.3" cy="211.0" r="1.9"/><circle cx="236.5" cy="226.8" r="1.9"/><circle cx="209.3" cy="189.0" r="1.9"/><circle cx="233.0" cy="248.6" r="1.9"/><circle cx="189.3" cy="208.0" r="1.9"/><circle cx="248.0" cy="204.2" r="1.9"/><circle cx="224.6" cy="215.8" r="1.9"/><circle cx="232.0" cy="223.4" r="1.9"/><circle cx="253.4" cy="224.7" r="1.9"/><circle cx="215.4" cy="211.7" r="1.9"/><circle cx="248.5" cy="203.6" r="1.9"/><circle cx="215.0" cy="205.5" r="1.9"/><circle cx="238.6" cy="197.8" r="1.9"/><circle cx="215.8" cy="208.9" r="1.9"/><circle cx="232.9" cy="207.5" r="1.9"/><circle cx="260.4" cy="190.2" r="1.9"/><circle cx="210.0" cy="212.7" r="1.9"/><circle cx="211.0" cy="211.3" r="1.9"/><circle cx="217.8" cy="222.9" r="1.9"/><circle cx="232.9" cy="185.5" r="1.9"/><circle cx="249.9" cy="195.8" r="1.9"/><circle cx="211.9" cy="229.8" r="1.9"/><circle cx="177.1" cy="191.1" r="1.9"/><circle cx="210.1" cy="222.1" r="1.9"/><circle cx="187.8" cy="221.2" r="1.9"/><circle cx="212.4" cy="215.6" r="1.9"/><circle cx="226.2" cy="233.8" r="1.9"/><circle cx="202.8" cy="227.3" r="1.9"/><circle cx="209.5" cy="187.4" r="1.9"/><circle cx="181.1" cy="216.9" r="1.9"/><circle cx="230.2" cy="242.5" r="1.9"/><circle cx="207.9" cy="206.7" r="1.9"/><circle cx="251.9" cy="226.2" r="1.9"/><circle cx="251.0" cy="212.7" r="1.9"/><circle cx="205.1" cy="201.5" r="1.9"/><circle cx="217.0" cy="203.5" r="1.9"/><circle cx="227.2" cy="209.0" r="1.9"/><circle cx="244.1" cy="207.4" r="1.9"/><circle cx="185.9" cy="209.8" r="1.9"/><circle cx="224.2" cy="206.1" r="1.9"/><circle cx="270.6" cy="224.0" r="1.9"/><circle cx="223.9" cy="199.5" r="1.9"/><circle cx="231.3" cy="213.3" r="1.9"/><circle cx="226.0" cy="211.0" r="1.9"/><circle cx="197.5" cy="235.2" r="1.9"/><circle cx="248.8" cy="227.4" r="1.9"/><circle cx="232.5" cy="206.8" r="1.9"/><circle cx="230.0" cy="179.0" r="1.9"/><circle cx="243.5" cy="213.6" r="1.9"/><circle cx="245.0" cy="215.4" r="1.9"/><circle cx="180.8" cy="192.8" r="1.9"/><circle cx="237.7" cy="198.0" r="1.9"/><circle cx="212.2" cy="228.9" r="1.9"/><circle cx="230.0" cy="204.9" r="1.9"/><circle cx="209.1" cy="208.3" r="1.9"/><circle cx="205.5" cy="219.2" r="1.9"/><circle cx="249.0" cy="190.5" r="1.9"/><circle cx="226.0" cy="192.7" r="1.9"/><circle cx="219.5" cy="200.4" r="1.9"/><circle cx="219.4" cy="188.7" r="1.9"/><circle cx="228.2" cy="231.1" r="1.9"/><circle cx="225.9" cy="193.4" r="1.9"/><circle cx="184.2" cy="220.8" r="1.9"/><circle cx="205.5" cy="182.3" r="1.9"/><circle cx="220.8" cy="249.5" r="1.9"/><circle cx="244.3" cy="188.8" r="1.9"/><circle cx="259.1" cy="214.3" r="1.9"/><circle cx="204.2" cy="204.3" r="1.9"/><circle cx="268.5" cy="197.7" r="1.9"/><circle cx="228.9" cy="209.5" r="1.9"/><circle cx="238.4" cy="212.0" r="1.9"/><circle cx="213.9" cy="216.4" r="1.9"/><circle cx="212.3" cy="188.6" r="1.9"/><circle cx="261.1" cy="183.8" r="1.9"/><circle cx="221.6" cy="203.4" r="1.9"/><circle cx="224.4" cy="200.2" r="1.9"/><circle cx="254.6" cy="209.5" r="1.9"/><circle cx="268.1" cy="240.9" r="1.9"/><circle cx="191.1" cy="220.9" r="1.9"/><circle cx="222.5" cy="208.1" r="1.9"/><circle cx="226.8" cy="210.8" r="1.9"/><circle cx="270.5" cy="217.9" r="1.9"/><circle cx="255.4" cy="195.4" r="1.9"/><circle cx="225.9" cy="195.6" r="1.9"/><circle cx="236.1" cy="210.2" r="1.9"/><circle cx="247.9" cy="238.5" r="1.9"/><circle cx="254.8" cy="203.0" r="1.9"/><circle cx="219.6" cy="205.0" r="1.9"/><circle cx="247.8" cy="221.8" r="1.9"/><circle cx="210.6" cy="234.3" r="1.9"/><circle cx="190.6" cy="180.5" r="1.9"/><circle cx="194.4" cy="207.4" r="1.9"/><circle cx="232.6" cy="228.8" r="1.9"/><circle cx="246.2" cy="177.5" r="1.9"/><circle cx="180.5" cy="187.5" r="1.9"/><circle cx="184.4" cy="207.9" r="1.9"/><circle cx="226.9" cy="204.8" r="1.9"/><circle cx="207.1" cy="200.5" r="1.9"/><circle cx="241.1" cy="188.8" r="1.9"/><circle cx="252.5" cy="205.8" r="1.9"/><circle cx="197.5" cy="219.3" r="1.9"/><circle cx="246.2" cy="193.6" r="1.9"/><circle cx="223.3" cy="240.2" r="1.9"/><circle cx="261.9" cy="204.3" r="1.9"/><circle cx="234.7" cy="241.1" r="1.9"/><circle cx="222.3" cy="217.0" r="1.9"/><circle cx="231.0" cy="254.5" r="1.9"/><circle cx="250.6" cy="226.3" r="1.9"/><circle cx="232.7" cy="207.0" r="1.9"/><circle cx="229.2" cy="209.1" r="1.9"/><circle cx="193.7" cy="206.5" r="1.9"/><circle cx="239.8" cy="269.9" r="1.9"/><circle cx="229.1" cy="204.5" r="1.9"/><circle cx="269.1" cy="190.9" r="1.9"/><circle cx="228.1" cy="227.1" r="1.9"/><circle cx="226.3" cy="208.4" r="1.9"/><circle cx="213.5" cy="196.4" r="1.9"/><circle cx="245.8" cy="218.1" r="1.9"/><circle cx="223.6" cy="207.1" r="1.9"/><circle cx="211.6" cy="196.0" r="1.9"/><circle cx="266.9" cy="205.2" r="1.9"/><circle cx="270.3" cy="210.8" r="1.9"/><circle cx="217.7" cy="239.9" r="1.9"/><circle cx="204.1" cy="210.5" r="1.9"/><circle cx="255.6" cy="214.6" r="1.9"/><circle cx="208.6" cy="202.0" r="1.9"/><circle cx="245.2" cy="181.3" r="1.9"/><circle cx="225.4" cy="198.6" r="1.9"/><circle cx="251.7" cy="207.1" r="1.9"/><circle cx="197.6" cy="208.9" r="1.9"/><circle cx="227.9" cy="216.5" r="1.9"/><circle cx="254.9" cy="241.2" r="1.9"/><circle cx="239.3" cy="192.1" r="1.9"/><circle cx="215.9" cy="201.5" r="1.9"/><circle cx="253.9" cy="206.8" r="1.9"/><circle cx="246.5" cy="211.0" r="1.9"/><circle cx="223.3" cy="189.8" r="1.9"/><circle cx="214.3" cy="232.5" r="1.9"/><circle cx="222.3" cy="254.1" r="1.9"/><circle cx="261.2" cy="189.4" r="1.9"/><circle cx="210.3" cy="206.2" r="1.9"/><circle cx="229.6" cy="203.5" r="1.9"/><circle cx="209.1" cy="194.7" r="1.9"/><circle cx="258.9" cy="210.3" r="1.9"/><circle cx="224.9" cy="198.3" r="1.9"/><circle cx="249.5" cy="209.9" r="1.9"/><circle cx="242.4" cy="195.4" r="1.9"/><circle cx="214.9" cy="194.7" r="1.9"/><circle cx="245.6" cy="188.4" r="1.9"/><circle cx="251.4" cy="212.4" r="1.9"/><circle cx="201.3" cy="215.1" r="1.9"/><circle cx="245.7" cy="217.6" r="1.9"/><circle cx="227.2" cy="225.7" r="1.9"/><circle cx="221.7" cy="216.7" r="1.9"/><circle cx="244.2" cy="199.1" r="1.9"/><circle cx="196.8" cy="197.4" r="1.9"/><circle cx="239.9" cy="209.4" r="1.9"/><circle cx="214.7" cy="249.3" r="1.9"/><circle cx="247.3" cy="220.3" r="1.9"/><circle cx="227.6" cy="196.5" r="1.9"/><circle cx="200.6" cy="198.6" r="1.9"/><circle cx="255.3" cy="203.5" r="1.9"/><circle cx="223.7" cy="205.4" r="1.9"/><circle cx="204.5" cy="234.8" r="1.9"/><circle cx="230.5" cy="224.2" r="1.9"/><circle cx="205.6" cy="236.5" r="1.9"/><circle cx="238.4" cy="226.9" r="1.9"/><circle cx="227.3" cy="210.1" r="1.9"/><circle cx="220.0" cy="204.9" r="1.9"/><circle cx="244.9" cy="205.0" r="1.9"/><circle cx="198.1" cy="211.1" r="1.9"/><circle cx="252.3" cy="219.7" r="1.9"/><circle cx="180.6" cy="257.8" r="1.9"/><circle cx="267.6" cy="204.7" r="1.9"/><circle cx="233.3" cy="207.9" r="1.9"/><circle cx="222.5" cy="203.9" r="1.9"/><circle cx="211.2" cy="220.3" r="1.9"/><circle cx="242.1" cy="209.2" r="1.9"/><circle cx="225.0" cy="217.1" r="1.9"/><circle cx="224.6" cy="244.0" r="1.9"/><circle cx="253.7" cy="203.0" r="1.9"/><circle cx="218.4" cy="198.5" r="1.9"/><circle cx="223.2" cy="196.4" r="1.9"/><circle cx="239.2" cy="223.6" r="1.9"/><circle cx="254.7" cy="189.8" r="1.9"/><circle cx="225.3" cy="209.7" r="1.9"/><circle cx="232.7" cy="218.9" r="1.9"/><circle cx="230.0" cy="218.1" r="1.9"/><circle cx="246.8" cy="212.6" r="1.9"/><circle cx="264.8" cy="221.5" r="1.9"/><circle cx="206.3" cy="201.9" r="1.9"/><circle cx="225.7" cy="224.7" r="1.9"/><circle cx="227.7" cy="230.8" r="1.9"/><circle cx="243.1" cy="191.6" r="1.9"/><circle cx="265.1" cy="210.3" r="1.9"/><circle cx="228.5" cy="206.3" r="1.9"/><circle cx="234.0" cy="210.3" r="1.9"/><circle cx="256.2" cy="177.7" r="1.9"/><circle cx="198.8" cy="209.1" r="1.9"/><circle cx="210.3" cy="204.2" r="1.9"/><circle cx="218.0" cy="189.1" r="1.9"/><circle cx="228.7" cy="210.4" r="1.9"/><circle cx="234.4" cy="180.0" r="1.9"/><circle cx="216.3" cy="209.9" r="1.9"/><circle cx="270.3" cy="181.4" r="1.9"/><circle cx="211.8" cy="188.4" r="1.9"/><circle cx="223.9" cy="214.6" r="1.9"/><circle cx="255.1" cy="236.7" r="1.9"/><circle cx="247.5" cy="204.6" r="1.9"/><circle cx="228.4" cy="191.8" r="1.9"/><circle cx="237.9" cy="217.6" r="1.9"/><circle cx="248.6" cy="210.6" r="1.9"/><circle cx="228.4" cy="214.8" r="1.9"/><circle cx="244.4" cy="216.1" r="1.9"/><circle cx="206.5" cy="197.3" r="1.9"/><circle cx="230.4" cy="205.7" r="1.9"/><circle cx="189.0" cy="243.0" r="1.9"/><circle cx="207.1" cy="215.7" r="1.9"/><circle cx="201.0" cy="226.6" r="1.9"/><circle cx="258.8" cy="189.2" r="1.9"/><circle cx="217.4" cy="213.2" r="1.9"/><circle cx="235.8" cy="217.8" r="1.9"/><circle cx="206.1" cy="190.2" r="1.9"/><circle cx="223.6" cy="244.3" r="1.9"/><circle cx="221.7" cy="201.0" r="1.9"/><circle cx="207.7" cy="218.8" r="1.9"/><circle cx="249.2" cy="186.0" r="1.9"/><circle cx="188.1" cy="215.6" r="1.9"/><circle cx="243.5" cy="229.6" r="1.9"/><circle cx="248.7" cy="262.3" r="1.9"/><circle cx="208.4" cy="225.7" r="1.9"/><circle cx="229.0" cy="219.2" r="1.9"/><circle cx="190.4" cy="191.0" r="1.9"/><circle cx="227.5" cy="212.9" r="1.9"/><circle cx="186.0" cy="214.3" r="1.9"/><circle cx="243.2" cy="184.1" r="1.9"/><circle cx="216.0" cy="202.4" r="1.9"/><circle cx="183.0" cy="210.8" r="1.9"/><circle cx="196.4" cy="206.4" r="1.9"/><circle cx="189.2" cy="217.2" r="1.9"/><circle cx="220.7" cy="203.5" r="1.9"/><circle cx="248.2" cy="195.8" r="1.9"/><circle cx="217.8" cy="221.4" r="1.9"/><circle cx="198.8" cy="195.3" r="1.9"/><circle cx="207.0" cy="214.7" r="1.9"/><circle cx="230.0" cy="206.5" r="1.9"/><circle cx="186.0" cy="214.3" r="1.9"/><circle cx="241.3" cy="203.7" r="1.9"/><circle cx="236.8" cy="240.2" r="1.9"/><circle cx="186.8" cy="206.9" r="1.9"/><circle cx="255.5" cy="199.3" r="1.9"/><circle cx="186.9" cy="211.8" r="1.9"/><circle cx="221.4" cy="223.1" r="1.9"/><circle cx="255.2" cy="219.9" r="1.9"/><circle cx="186.7" cy="213.6" r="1.9"/><circle cx="181.5" cy="192.1" r="1.9"/><circle cx="199.1" cy="193.4" r="1.9"/><circle cx="199.9" cy="224.2" r="1.9"/><circle cx="222.9" cy="191.5" r="1.9"/><circle cx="213.4" cy="176.8" r="1.9"/><circle cx="214.1" cy="200.8" r="1.9"/><circle cx="214.4" cy="183.4" r="1.9"/><circle cx="221.7" cy="187.5" r="1.9"/><circle cx="205.3" cy="194.8" r="1.9"/><circle cx="234.1" cy="211.3" r="1.9"/><circle cx="226.0" cy="191.7" r="1.9"/><circle cx="201.3" cy="228.7" r="1.9"/><circle cx="270.5" cy="234.3" r="1.9"/><circle cx="195.1" cy="210.3" r="1.9"/><circle cx="244.0" cy="243.4" r="1.9"/><circle cx="208.0" cy="218.9" r="1.9"/><circle cx="234.9" cy="197.2" r="1.9"/><circle cx="238.9" cy="200.1" r="1.9"/><circle cx="247.2" cy="242.4" r="1.9"/><circle cx="260.9" cy="244.4" r="1.9"/><circle cx="205.8" cy="243.5" r="1.9"/><circle cx="245.4" cy="197.1" r="1.9"/><circle cx="236.3" cy="214.3" r="1.9"/><circle cx="206.7" cy="210.7" r="1.9"/><circle cx="193.4" cy="215.3" r="1.9"/><circle cx="257.7" cy="219.3" r="1.9"/><circle cx="266.7" cy="217.9" r="1.9"/><circle cx="226.3" cy="190.3" r="1.9"/><circle cx="245.3" cy="195.6" r="1.9"/><circle cx="258.9" cy="219.6" r="1.9"/><circle cx="229.2" cy="219.9" r="1.9"/><circle cx="216.5" cy="208.8" r="1.9"/><circle cx="226.0" cy="227.8" r="1.9"/><circle cx="247.4" cy="205.3" r="1.9"/><circle cx="227.5" cy="221.3" r="1.9"/><circle cx="197.0" cy="210.3" r="1.9"/><circle cx="245.4" cy="213.1" r="1.9"/><circle cx="184.9" cy="239.3" r="1.9"/><circle cx="208.7" cy="198.9" r="1.9"/><circle cx="257.2" cy="212.0" r="1.9"/><circle cx="232.8" cy="206.7" r="1.9"/><circle cx="232.7" cy="227.2" r="1.9"/><circle cx="229.6" cy="198.2" r="1.9"/><circle cx="252.2" cy="178.1" r="1.9"/><circle cx="225.7" cy="201.8" r="1.9"/><circle cx="179.4" cy="198.9" r="1.9"/><circle cx="233.0" cy="220.0" r="1.9"/><circle cx="201.8" cy="203.2" r="1.9"/><circle cx="177.0" cy="190.7" r="1.9"/><circle cx="265.6" cy="187.7" r="1.9"/><circle cx="252.3" cy="207.7" r="1.9"/><circle cx="215.6" cy="229.2" r="1.9"/><circle cx="225.1" cy="202.2" r="1.9"/><circle cx="229.0" cy="218.5" r="1.9"/><circle cx="251.4" cy="196.5" r="1.9"/><circle cx="208.0" cy="208.5" r="1.9"/><circle cx="205.4" cy="197.7" r="1.9"/><circle cx="211.5" cy="194.8" r="1.9"/><circle cx="230.2" cy="194.6" r="1.9"/><circle cx="233.3" cy="211.0" r="1.9"/><circle cx="217.2" cy="224.1" r="1.9"/><circle cx="245.4" cy="233.7" r="1.9"/><circle cx="201.9" cy="196.6" r="1.9"/><circle cx="225.0" cy="202.7" r="1.9"/><circle cx="210.0" cy="197.5" r="1.9"/><circle cx="202.3" cy="206.6" r="1.9"/><circle cx="256.8" cy="180.1" r="1.9"/><circle cx="219.1" cy="220.3" r="1.9"/><circle cx="202.3" cy="190.4" r="1.9"/><circle cx="227.8" cy="212.9" r="1.9"/><circle cx="202.4" cy="208.4" r="1.9"/><circle cx="241.4" cy="235.2" r="1.9"/><circle cx="247.6" cy="207.4" r="1.9"/><circle cx="251.9" cy="217.1" r="1.9"/><circle cx="201.0" cy="192.5" r="1.9"/><circle cx="223.3" cy="213.5" r="1.9"/><circle cx="269.6" cy="212.6" r="1.9"/><circle cx="221.6" cy="219.1" r="1.9"/><circle cx="257.8" cy="192.4" r="1.9"/><circle cx="264.1" cy="203.3" r="1.9"/><circle cx="193.2" cy="239.4" r="1.9"/><circle cx="256.5" cy="201.8" r="1.9"/><circle cx="245.3" cy="221.7" r="1.9"/><circle cx="248.3" cy="213.0" r="1.9"/><circle cx="268.2" cy="255.2" r="1.9"/><circle cx="238.2" cy="201.1" r="1.9"/><circle cx="228.9" cy="221.5" r="1.9"/><circle cx="241.9" cy="261.6" r="1.9"/><circle cx="218.5" cy="207.3" r="1.9"/><circle cx="239.1" cy="196.9" r="1.9"/><circle cx="177.8" cy="251.5" r="1.9"/><circle cx="269.2" cy="225.0" r="1.9"/><circle cx="214.0" cy="209.5" r="1.9"/><circle cx="240.1" cy="202.2" r="1.9"/><circle cx="234.6" cy="223.6" r="1.9"/><circle cx="229.5" cy="281.2" r="1.9"/><circle cx="229.7" cy="205.3" r="1.9"/><circle cx="228.5" cy="207.1" r="1.9"/><circle cx="186.9" cy="209.6" r="1.9"/><circle cx="213.6" cy="227.5" r="1.9"/><circle cx="256.1" cy="205.8" r="1.9"/><circle cx="202.0" cy="204.4" r="1.9"/><circle cx="201.2" cy="200.2" r="1.9"/><circle cx="262.9" cy="179.1" r="1.9"/><circle cx="256.4" cy="249.8" r="1.9"/><circle cx="265.0" cy="203.7" r="1.9"/><circle cx="226.6" cy="227.3" r="1.9"/><circle cx="233.4" cy="215.2" r="1.9"/><circle cx="245.5" cy="223.0" r="1.9"/><circle cx="240.6" cy="206.4" r="1.9"/><circle cx="224.7" cy="212.7" r="1.9"/><circle cx="191.2" cy="216.4" r="1.9"/><circle cx="208.9" cy="209.0" r="1.9"/><circle cx="190.0" cy="218.9" r="1.9"/><circle cx="265.1" cy="233.6" r="1.9"/><circle cx="216.9" cy="212.4" r="1.9"/><circle cx="222.2" cy="208.3" r="1.9"/><circle cx="233.5" cy="198.7" r="1.9"/><circle cx="227.0" cy="200.7" r="1.9"/><circle cx="239.4" cy="175.1" r="1.9"/><circle cx="211.3" cy="215.2" r="1.9"/><circle cx="189.4" cy="228.4" r="1.9"/><circle cx="269.1" cy="204.4" r="1.9"/><circle cx="209.1" cy="205.0" r="1.9"/><circle cx="214.8" cy="264.4" r="1.9"/><circle cx="207.0" cy="213.1" r="1.9"/><circle cx="213.0" cy="206.9" r="1.9"/><circle cx="226.8" cy="199.2" r="1.9"/><circle cx="244.4" cy="239.6" r="1.9"/><circle cx="200.6" cy="225.4" r="1.9"/><circle cx="233.2" cy="190.0" r="1.9"/><circle cx="209.8" cy="224.9" r="1.9"/><circle cx="255.3" cy="206.2" r="1.9"/><circle cx="196.2" cy="208.2" r="1.9"/><circle cx="228.5" cy="192.1" r="1.9"/><circle cx="243.4" cy="197.5" r="1.9"/><circle cx="193.0" cy="219.2" r="1.9"/><circle cx="228.7" cy="184.4" r="1.9"/><circle cx="229.5" cy="208.0" r="1.9"/><circle cx="206.6" cy="184.6" r="1.9"/><circle cx="220.7" cy="192.9" r="1.9"/><circle cx="249.9" cy="208.6" r="1.9"/><circle cx="231.8" cy="192.9" r="1.9"/><circle cx="215.8" cy="218.3" r="1.9"/><circle cx="220.8" cy="218.0" r="1.9"/><circle cx="236.6" cy="197.2" r="1.9"/><circle cx="256.5" cy="200.8" r="1.9"/><circle cx="245.0" cy="193.4" r="1.9"/><circle cx="243.4" cy="193.0" r="1.9"/><circle cx="263.6" cy="190.2" r="1.9"/><circle cx="188.4" cy="196.8" r="1.9"/><circle cx="191.0" cy="226.1" r="1.9"/><circle cx="183.2" cy="204.9" r="1.9"/><circle cx="245.8" cy="199.2" r="1.9"/><circle cx="183.6" cy="214.7" r="1.9"/><circle cx="224.5" cy="202.7" r="1.9"/><circle cx="243.8" cy="181.2" r="1.9"/><circle cx="191.9" cy="205.8" r="1.9"/><circle cx="209.6" cy="187.4" r="1.9"/><circle cx="219.2" cy="215.9" r="1.9"/><circle cx="243.1" cy="203.0" r="1.9"/><circle cx="188.9" cy="231.6" r="1.9"/><circle cx="233.1" cy="207.2" r="1.9"/><circle cx="242.2" cy="206.9" r="1.9"/><circle cx="228.8" cy="211.2" r="1.9"/><circle cx="229.2" cy="212.1" r="1.9"/><circle cx="255.4" cy="194.3" r="1.9"/><circle cx="230.7" cy="190.5" r="1.9"/><circle cx="224.8" cy="223.3" r="1.9"/><circle cx="217.3" cy="217.1" r="1.9"/><circle cx="241.0" cy="193.7" r="1.9"/><circle cx="218.4" cy="198.7" r="1.9"/><circle cx="241.0" cy="214.5" r="1.9"/><circle cx="227.7" cy="190.1" r="1.9"/><circle cx="252.4" cy="209.4" r="1.9"/><circle cx="206.3" cy="215.2" r="1.9"/><circle cx="227.1" cy="176.2" r="1.9"/><circle cx="233.7" cy="248.8" r="1.9"/><circle cx="235.2" cy="208.0" r="1.9"/><circle cx="252.4" cy="240.8" r="1.9"/><circle cx="234.7" cy="212.9" r="1.9"/><circle cx="247.0" cy="208.4" r="1.9"/><circle cx="269.1" cy="206.4" r="1.9"/><circle cx="245.5" cy="232.7" r="1.9"/><circle cx="199.9" cy="249.5" r="1.9"/><circle cx="191.1" cy="214.0" r="1.9"/><circle cx="241.3" cy="210.2" r="1.9"/><circle cx="216.2" cy="238.8" r="1.9"/><circle cx="232.2" cy="231.9" r="1.9"/><circle cx="221.1" cy="203.1" r="1.9"/><circle cx="256.6" cy="223.4" r="1.9"/><circle cx="254.0" cy="203.7" r="1.9"/><circle cx="198.2" cy="219.7" r="1.9"/><circle cx="231.8" cy="244.7" r="1.9"/><circle cx="218.0" cy="218.1" r="1.9"/><circle cx="193.9" cy="231.3" r="1.9"/><circle cx="240.7" cy="229.2" r="1.9"/><circle cx="221.8" cy="199.1" r="1.9"/><circle cx="235.8" cy="177.3" r="1.9"/><circle cx="257.0" cy="198.2" r="1.9"/><circle cx="257.0" cy="282.1" r="1.9"/><circle cx="251.6" cy="200.3" r="1.9"/><circle cx="215.5" cy="218.3" r="1.9"/><circle cx="196.9" cy="240.2" r="1.9"/><circle cx="255.1" cy="216.3" r="1.9"/><circle cx="218.0" cy="207.6" r="1.9"/><circle cx="226.3" cy="229.9" r="1.9"/><circle cx="216.2" cy="212.3" r="1.9"/><circle cx="227.6" cy="190.2" r="1.9"/><circle cx="258.7" cy="194.1" r="1.9"/><circle cx="217.7" cy="213.7" r="1.9"/><circle cx="218.4" cy="197.0" r="1.9"/><circle cx="230.0" cy="246.1" r="1.9"/><circle cx="232.0" cy="213.1" r="1.9"/><circle cx="196.5" cy="225.7" r="1.9"/><circle cx="182.7" cy="213.9" r="1.9"/><circle cx="211.2" cy="202.9" r="1.9"/><circle cx="220.0" cy="203.8" r="1.9"/><circle cx="206.2" cy="237.7" r="1.9"/><circle cx="201.1" cy="190.8" r="1.9"/><circle cx="202.5" cy="242.7" r="1.9"/><circle cx="215.5" cy="182.5" r="1.9"/><circle cx="222.0" cy="198.0" r="1.9"/><circle cx="185.8" cy="217.0" r="1.9"/><circle cx="211.6" cy="196.9" r="1.9"/><circle cx="233.2" cy="215.9" r="1.9"/><circle cx="221.7" cy="210.8" r="1.9"/><circle cx="192.2" cy="210.7" r="1.9"/><circle cx="216.1" cy="210.2" r="1.9"/><circle cx="224.1" cy="191.6" r="1.9"/><circle cx="242.9" cy="222.1" r="1.9"/><circle cx="185.7" cy="199.1" r="1.9"/><circle cx="240.9" cy="207.4" r="1.9"/><circle cx="213.5" cy="216.7" r="1.9"/><circle cx="229.4" cy="195.5" r="1.9"/><circle cx="240.8" cy="206.3" r="1.9"/><circle cx="203.7" cy="188.0" r="1.9"/><circle cx="205.2" cy="208.6" r="1.9"/><circle cx="221.7" cy="203.4" r="1.9"/><circle cx="241.7" cy="190.0" r="1.9"/><circle cx="211.4" cy="223.2" r="1.9"/><circle cx="190.7" cy="220.8" r="1.9"/><circle cx="207.8" cy="253.8" r="1.9"/><circle cx="233.5" cy="199.6" r="1.9"/><circle cx="252.0" cy="205.7" r="1.9"/><circle cx="212.2" cy="229.5" r="1.9"/><circle cx="216.5" cy="232.0" r="1.9"/><circle cx="220.0" cy="201.2" r="1.9"/><circle cx="221.0" cy="203.5" r="1.9"/><circle cx="201.6" cy="217.3" r="1.9"/><circle cx="213.7" cy="202.9" r="1.9"/><circle cx="229.3" cy="211.9" r="1.9"/><circle cx="226.6" cy="244.9" r="1.9"/><circle cx="224.7" cy="209.3" r="1.9"/><circle cx="200.2" cy="201.2" r="1.9"/><circle cx="211.0" cy="207.4" r="1.9"/><circle cx="207.1" cy="196.8" r="1.9"/><circle cx="249.1" cy="212.2" r="1.9"/><circle cx="258.7" cy="211.6" r="1.9"/><circle cx="232.2" cy="208.4" r="1.9"/><circle cx="262.0" cy="198.1" r="1.9"/><circle cx="217.2" cy="201.6" r="1.9"/><circle cx="217.3" cy="211.4" r="1.9"/><circle cx="193.3" cy="235.2" r="1.9"/><circle cx="229.6" cy="195.2" r="1.9"/><circle cx="213.4" cy="207.1" r="1.9"/><circle cx="226.4" cy="216.9" r="1.9"/><circle cx="235.8" cy="239.4" r="1.9"/><circle cx="218.5" cy="200.6" r="1.9"/><circle cx="197.6" cy="223.3" r="1.9"/><circle cx="223.2" cy="211.9" r="1.9"/><circle cx="222.5" cy="201.6" r="1.9"/><circle cx="224.9" cy="206.7" r="1.9"/><circle cx="240.3" cy="244.8" r="1.9"/><circle cx="219.2" cy="195.9" r="1.9"/><circle cx="218.0" cy="192.7" r="1.9"/><circle cx="265.4" cy="190.0" r="1.9"/><circle cx="249.8" cy="187.9" r="1.9"/><circle cx="222.2" cy="230.4" r="1.9"/><circle cx="202.3" cy="240.0" r="1.9"/><circle cx="213.9" cy="230.5" r="1.9"/><circle cx="233.5" cy="263.0" r="1.9"/><circle cx="244.4" cy="203.0" r="1.9"/><circle cx="260.0" cy="201.6" r="1.9"/><circle cx="218.8" cy="202.1" r="1.9"/><circle cx="228.2" cy="250.5" r="1.9"/><circle cx="216.3" cy="207.1" r="1.9"/><circle cx="226.6" cy="200.7" r="1.9"/><circle cx="215.7" cy="225.4" r="1.9"/><circle cx="199.5" cy="207.3" r="1.9"/><circle cx="249.0" cy="223.6" r="1.9"/><circle cx="227.9" cy="213.4" r="1.9"/><circle cx="255.3" cy="186.5" r="1.9"/><circle cx="213.0" cy="196.1" r="1.9"/><circle cx="231.2" cy="205.0" r="1.9"/><circle cx="240.5" cy="200.0" r="1.9"/><circle cx="180.7" cy="222.7" r="1.9"/><circle cx="193.9" cy="204.0" r="1.9"/><circle cx="242.8" cy="199.3" r="1.9"/><circle cx="227.5" cy="210.9" r="1.9"/><circle cx="181.8" cy="265.3" r="1.9"/><circle cx="207.7" cy="201.8" r="1.9"/><circle cx="200.4" cy="244.4" r="1.9"/><circle cx="213.8" cy="233.0" r="1.9"/><circle cx="261.7" cy="214.5" r="1.9"/><circle cx="211.7" cy="218.0" r="1.9"/><circle cx="268.3" cy="236.3" r="1.9"/><circle cx="219.4" cy="209.4" r="1.9"/><circle cx="208.1" cy="198.8" r="1.9"/><circle cx="262.4" cy="205.4" r="1.9"/><circle cx="247.8" cy="217.5" r="1.9"/><circle cx="258.0" cy="248.1" r="1.9"/><circle cx="270.1" cy="224.8" r="1.9"/><circle cx="250.6" cy="219.0" r="1.9"/><circle cx="254.4" cy="219.3" r="1.9"/><circle cx="185.1" cy="207.3" r="1.9"/><circle cx="206.2" cy="267.5" r="1.9"/><circle cx="236.2" cy="216.6" r="1.9"/><circle cx="230.6" cy="204.8" r="1.9"/><circle cx="242.8" cy="206.9" r="1.9"/><circle cx="214.6" cy="213.7" r="1.9"/><circle cx="252.1" cy="213.2" r="1.9"/><circle cx="267.9" cy="221.7" r="1.9"/><circle cx="239.8" cy="192.6" r="1.9"/><circle cx="245.8" cy="219.8" r="1.9"/><circle cx="238.1" cy="234.1" r="1.9"/><circle cx="248.1" cy="197.0" r="1.9"/><circle cx="231.3" cy="218.2" r="1.9"/><circle cx="214.3" cy="201.0" r="1.9"/><circle cx="230.9" cy="197.7" r="1.9"/><circle cx="228.8" cy="207.6" r="1.9"/><circle cx="190.2" cy="197.0" r="1.9"/><circle cx="231.8" cy="209.2" r="1.9"/><circle cx="226.9" cy="221.1" r="1.9"/><circle cx="231.2" cy="210.7" r="1.9"/><circle cx="213.4" cy="176.7" r="1.9"/><circle cx="237.7" cy="215.5" r="1.9"/><circle cx="241.0" cy="224.7" r="1.9"/><circle cx="209.6" cy="194.3" r="1.9"/><circle cx="233.9" cy="176.5" r="1.9"/><circle cx="244.7" cy="241.2" r="1.9"/><circle cx="243.8" cy="190.2" r="1.9"/><circle cx="204.5" cy="206.4" r="1.9"/><circle cx="202.0" cy="208.0" r="1.9"/><circle cx="226.7" cy="192.8" r="1.9"/><circle cx="201.3" cy="194.0" r="1.9"/><circle cx="256.5" cy="190.8" r="1.9"/><circle cx="206.7" cy="220.0" r="1.9"/><circle cx="207.0" cy="223.8" r="1.9"/><circle cx="240.9" cy="204.7" r="1.9"/><circle cx="214.5" cy="222.3" r="1.9"/><circle cx="183.8" cy="225.5" r="1.9"/><circle cx="222.0" cy="203.9" r="1.9"/><circle cx="202.0" cy="201.5" r="1.9"/><circle cx="212.8" cy="207.0" r="1.9"/><circle cx="187.0" cy="220.5" r="1.9"/><circle cx="203.7" cy="225.3" r="1.9"/><circle cx="221.0" cy="212.3" r="1.9"/><circle cx="222.9" cy="219.3" r="1.9"/><circle cx="198.4" cy="198.6" r="1.9"/><circle cx="207.6" cy="243.9" r="1.9"/><circle cx="204.3" cy="205.8" r="1.9"/><circle cx="227.6" cy="206.2" r="1.9"/><circle cx="220.7" cy="205.9" r="1.9"/><circle cx="194.7" cy="222.7" r="1.9"/><circle cx="239.3" cy="218.0" r="1.9"/><circle cx="207.6" cy="201.9" r="1.9"/><circle cx="233.2" cy="200.1" r="1.9"/><circle cx="202.4" cy="203.5" r="1.9"/><circle cx="230.9" cy="217.7" r="1.9"/><circle cx="221.1" cy="250.3" r="1.9"/><circle cx="225.2" cy="229.5" r="1.9"/><circle cx="235.7" cy="218.3" r="1.9"/><circle cx="234.1" cy="217.6" r="1.9"/><circle cx="227.7" cy="205.6" r="1.9"/><circle cx="227.6" cy="218.1" r="1.9"/><circle cx="193.8" cy="242.8" r="1.9"/><circle cx="222.1" cy="221.3" r="1.9"/><circle cx="181.8" cy="211.8" r="1.9"/><circle cx="183.0" cy="201.8" r="1.9"/><circle cx="216.4" cy="225.3" r="1.9"/><circle cx="218.5" cy="215.4" r="1.9"/><circle cx="259.0" cy="208.8" r="1.9"/><circle cx="239.5" cy="187.9" r="1.9"/><circle cx="249.9" cy="200.1" r="1.9"/></g>
<g fill="#2c6ca3" fill-opacity="0.24"><circle cx="191.0" cy="251.8" r="1.9"/><circle cx="225.6" cy="218.3" r="1.9"/><circle cx="229.4" cy="212.3" r="1.9"/><circle cx="213.1" cy="220.4" r="1.9"/><circle cx="212.5" cy="211.1" r="1.9"/><circle cx="188.7" cy="212.5" r="1.9"/><circle cx="192.3" cy="248.6" r="1.9"/><circle cx="178.7" cy="186.3" r="1.9"/><circle cx="177.0" cy="185.7" r="1.9"/><circle cx="209.7" cy="212.4" r="1.9"/><circle cx="191.0" cy="231.4" r="1.9"/><circle cx="180.0" cy="228.9" r="1.9"/><circle cx="177.0" cy="248.8" r="1.9"/><circle cx="223.0" cy="222.2" r="1.9"/><circle cx="216.9" cy="232.7" r="1.9"/><circle cx="177.9" cy="232.2" r="1.9"/><circle cx="207.7" cy="229.0" r="1.9"/><circle cx="185.4" cy="191.3" r="1.9"/><circle cx="194.7" cy="248.9" r="1.9"/><circle cx="177.0" cy="220.2" r="1.9"/><circle cx="217.2" cy="230.7" r="1.9"/><circle cx="188.2" cy="208.6" r="1.9"/><circle cx="191.9" cy="210.4" r="1.9"/><circle cx="179.6" cy="257.5" r="1.9"/><circle cx="177.0" cy="244.6" r="1.9"/><circle cx="183.5" cy="232.0" r="1.9"/><circle cx="177.0" cy="241.4" r="1.9"/><circle cx="206.9" cy="217.3" r="1.9"/><circle cx="177.0" cy="227.7" r="1.9"/><circle cx="198.2" cy="245.8" r="1.9"/><circle cx="200.4" cy="231.2" r="1.9"/><circle cx="207.4" cy="213.4" r="1.9"/><circle cx="215.3" cy="224.0" r="1.9"/><circle cx="180.9" cy="222.9" r="1.9"/><circle cx="179.0" cy="227.1" r="1.9"/><circle cx="203.6" cy="227.8" r="1.9"/><circle cx="206.0" cy="200.5" r="1.9"/><circle cx="215.4" cy="245.3" r="1.9"/><circle cx="207.2" cy="218.3" r="1.9"/><circle cx="220.0" cy="227.7" r="1.9"/><circle cx="203.6" cy="225.4" r="1.9"/><circle cx="188.1" cy="220.9" r="1.9"/><circle cx="210.2" cy="208.0" r="1.9"/><circle cx="184.6" cy="217.8" r="1.9"/><circle cx="187.4" cy="216.1" r="1.9"/><circle cx="202.2" cy="216.8" r="1.9"/><circle cx="193.2" cy="232.4" r="1.9"/><circle cx="209.3" cy="214.9" r="1.9"/><circle cx="191.6" cy="213.6" r="1.9"/><circle cx="221.3" cy="209.6" r="1.9"/><circle cx="182.9" cy="223.9" r="1.9"/><circle cx="206.2" cy="219.1" r="1.9"/><circle cx="190.4" cy="263.6" r="1.9"/><circle cx="177.0" cy="236.2" r="1.9"/><circle cx="188.9" cy="234.2" r="1.9"/><circle cx="207.0" cy="211.4" r="1.9"/><circle cx="200.0" cy="214.4" r="1.9"/><circle cx="177.0" cy="226.7" r="1.9"/><circle cx="219.1" cy="242.3" r="1.9"/><circle cx="177.0" cy="217.6" r="1.9"/><circle cx="197.9" cy="207.5" r="1.9"/><circle cx="208.8" cy="208.7" r="1.9"/><circle cx="229.3" cy="229.9" r="1.9"/><circle cx="177.0" cy="248.6" r="1.9"/><circle cx="195.7" cy="244.8" r="1.9"/><circle cx="190.6" cy="244.9" r="1.9"/><circle cx="206.3" cy="206.0" r="1.9"/><circle cx="187.3" cy="222.9" r="1.9"/><circle cx="178.2" cy="200.3" r="1.9"/><circle cx="177.7" cy="203.6" r="1.9"/><circle cx="205.8" cy="206.7" r="1.9"/><circle cx="199.7" cy="237.2" r="1.9"/><circle cx="177.0" cy="221.0" r="1.9"/><circle cx="177.0" cy="231.5" r="1.9"/><circle cx="184.7" cy="255.1" r="1.9"/><circle cx="189.5" cy="254.9" r="1.9"/><circle cx="208.4" cy="237.0" r="1.9"/><circle cx="177.0" cy="205.3" r="1.9"/><circle cx="194.6" cy="233.5" r="1.9"/><circle cx="183.3" cy="257.5" r="1.9"/><circle cx="199.5" cy="229.2" r="1.9"/><circle cx="190.5" cy="218.4" r="1.9"/><circle cx="208.9" cy="247.0" r="1.9"/><circle cx="177.0" cy="192.4" r="1.9"/><circle cx="198.5" cy="246.5" r="1.9"/><circle cx="177.0" cy="205.7" r="1.9"/><circle cx="229.1" cy="209.2" r="1.9"/><circle cx="205.5" cy="239.6" r="1.9"/><circle cx="204.2" cy="234.1" r="1.9"/><circle cx="198.5" cy="230.7" r="1.9"/><circle cx="199.3" cy="234.6" r="1.9"/><circle cx="198.2" cy="214.4" r="1.9"/><circle cx="177.0" cy="224.6" r="1.9"/><circle cx="177.2" cy="266.1" r="1.9"/><circle cx="187.3" cy="228.3" r="1.9"/><circle cx="195.8" cy="245.7" r="1.9"/><circle cx="177.0" cy="233.6" r="1.9"/><circle cx="199.7" cy="224.1" r="1.9"/><circle cx="177.0" cy="234.0" r="1.9"/><circle cx="181.6" cy="219.9" r="1.9"/><circle cx="184.0" cy="237.3" r="1.9"/><circle cx="188.0" cy="238.3" r="1.9"/><circle cx="198.8" cy="200.2" r="1.9"/><circle cx="194.4" cy="212.3" r="1.9"/><circle cx="223.8" cy="223.4" r="1.9"/><circle cx="191.9" cy="227.7" r="1.9"/><circle cx="193.7" cy="235.1" r="1.9"/><circle cx="177.9" cy="232.3" r="1.9"/><circle cx="177.0" cy="241.8" r="1.9"/><circle cx="198.1" cy="193.3" r="1.9"/><circle cx="177.0" cy="208.0" r="1.9"/><circle cx="188.3" cy="275.0" r="1.9"/><circle cx="177.0" cy="246.6" r="1.9"/><circle cx="192.3" cy="233.9" r="1.9"/><circle cx="213.5" cy="232.3" r="1.9"/><circle cx="177.0" cy="265.6" r="1.9"/><circle cx="191.2" cy="214.1" r="1.9"/><circle cx="177.0" cy="245.2" r="1.9"/><circle cx="205.0" cy="216.6" r="1.9"/><circle cx="201.5" cy="224.9" r="1.9"/><circle cx="210.4" cy="201.5" r="1.9"/><circle cx="204.4" cy="241.1" r="1.9"/><circle cx="204.8" cy="202.6" r="1.9"/><circle cx="197.8" cy="251.5" r="1.9"/><circle cx="209.3" cy="197.2" r="1.9"/><circle cx="177.0" cy="210.9" r="1.9"/><circle cx="201.6" cy="220.3" r="1.9"/><circle cx="178.5" cy="255.8" r="1.9"/><circle cx="190.8" cy="197.6" r="1.9"/><circle cx="187.8" cy="211.8" r="1.9"/><circle cx="181.4" cy="266.9" r="1.9"/><circle cx="214.8" cy="271.3" r="1.9"/><circle cx="177.0" cy="234.6" r="1.9"/><circle cx="211.8" cy="237.8" r="1.9"/><circle cx="204.8" cy="213.1" r="1.9"/><circle cx="217.2" cy="219.1" r="1.9"/><circle cx="177.0" cy="226.4" r="1.9"/><circle cx="214.3" cy="229.5" r="1.9"/><circle cx="184.3" cy="214.2" r="1.9"/><circle cx="199.2" cy="237.4" r="1.9"/><circle cx="177.0" cy="255.6" r="1.9"/><circle cx="203.9" cy="268.5" r="1.9"/><circle cx="205.8" cy="210.8" r="1.9"/><circle cx="177.0" cy="234.1" r="1.9"/><circle cx="187.5" cy="258.7" r="1.9"/><circle cx="187.8" cy="242.4" r="1.9"/><circle cx="185.7" cy="234.8" r="1.9"/><circle cx="198.7" cy="209.4" r="1.9"/><circle cx="192.3" cy="268.8" r="1.9"/><circle cx="178.5" cy="240.6" r="1.9"/><circle cx="209.9" cy="210.0" r="1.9"/><circle cx="181.5" cy="221.9" r="1.9"/><circle cx="190.3" cy="216.9" r="1.9"/><circle cx="186.9" cy="201.1" r="1.9"/><circle cx="186.8" cy="246.6" r="1.9"/><circle cx="204.7" cy="238.5" r="1.9"/><circle cx="187.5" cy="212.3" r="1.9"/><circle cx="177.0" cy="202.1" r="1.9"/><circle cx="188.0" cy="222.6" r="1.9"/><circle cx="177.0" cy="240.5" r="1.9"/><circle cx="177.0" cy="255.7" r="1.9"/><circle cx="209.2" cy="213.3" r="1.9"/><circle cx="212.4" cy="214.5" r="1.9"/><circle cx="177.4" cy="251.8" r="1.9"/><circle cx="218.0" cy="230.7" r="1.9"/><circle cx="221.6" cy="242.5" r="1.9"/><circle cx="178.1" cy="224.1" r="1.9"/><circle cx="202.5" cy="231.1" r="1.9"/><circle cx="193.1" cy="206.8" r="1.9"/><circle cx="208.1" cy="202.2" r="1.9"/><circle cx="196.8" cy="235.1" r="1.9"/><circle cx="205.3" cy="208.0" r="1.9"/><circle cx="191.9" cy="210.4" r="1.9"/><circle cx="203.3" cy="201.9" r="1.9"/><circle cx="208.8" cy="229.6" r="1.9"/><circle cx="189.0" cy="224.8" r="1.9"/><circle cx="196.2" cy="196.5" r="1.9"/><circle cx="177.0" cy="213.6" r="1.9"/><circle cx="205.0" cy="235.9" r="1.9"/><circle cx="212.2" cy="216.5" r="1.9"/><circle cx="207.1" cy="187.0" r="1.9"/><circle cx="186.4" cy="234.9" r="1.9"/><circle cx="206.4" cy="237.6" r="1.9"/><circle cx="177.0" cy="217.0" r="1.9"/><circle cx="177.0" cy="236.2" r="1.9"/><circle cx="194.5" cy="255.0" r="1.9"/><circle cx="194.4" cy="254.1" r="1.9"/><circle cx="198.7" cy="230.5" r="1.9"/><circle cx="178.6" cy="239.0" r="1.9"/><circle cx="192.6" cy="203.0" r="1.9"/><circle cx="180.8" cy="245.1" r="1.9"/><circle cx="209.4" cy="242.6" r="1.9"/><circle cx="214.0" cy="237.3" r="1.9"/><circle cx="177.4" cy="249.9" r="1.9"/><circle cx="177.0" cy="222.8" r="1.9"/><circle cx="200.1" cy="234.0" r="1.9"/><circle cx="189.1" cy="202.6" r="1.9"/><circle cx="184.3" cy="220.8" r="1.9"/><circle cx="227.7" cy="182.8" r="1.9"/><circle cx="191.3" cy="233.7" r="1.9"/><circle cx="177.0" cy="213.6" r="1.9"/><circle cx="193.1" cy="263.4" r="1.9"/><circle cx="200.7" cy="233.5" r="1.9"/><circle cx="218.1" cy="236.1" r="1.9"/><circle cx="201.0" cy="209.3" r="1.9"/><circle cx="180.0" cy="232.9" r="1.9"/><circle cx="190.2" cy="214.9" r="1.9"/><circle cx="221.7" cy="232.7" r="1.9"/><circle cx="177.0" cy="256.5" r="1.9"/><circle cx="196.2" cy="230.2" r="1.9"/><circle cx="212.8" cy="198.2" r="1.9"/><circle cx="177.0" cy="223.0" r="1.9"/><circle cx="194.0" cy="200.9" r="1.9"/><circle cx="185.0" cy="238.4" r="1.9"/><circle cx="199.1" cy="225.9" r="1.9"/><circle cx="204.0" cy="235.7" r="1.9"/><circle cx="199.9" cy="230.1" r="1.9"/><circle cx="210.7" cy="235.7" r="1.9"/><circle cx="177.0" cy="226.9" r="1.9"/><circle cx="214.4" cy="237.0" r="1.9"/><circle cx="177.0" cy="249.2" r="1.9"/><circle cx="177.0" cy="200.4" r="1.9"/><circle cx="192.6" cy="212.6" r="1.9"/><circle cx="220.5" cy="226.1" r="1.9"/><circle cx="213.9" cy="235.0" r="1.9"/><circle cx="177.0" cy="253.5" r="1.9"/><circle cx="183.7" cy="224.7" r="1.9"/><circle cx="199.6" cy="242.3" r="1.9"/><circle cx="177.0" cy="205.7" r="1.9"/><circle cx="192.1" cy="260.6" r="1.9"/><circle cx="199.2" cy="220.9" r="1.9"/><circle cx="185.3" cy="212.2" r="1.9"/><circle cx="199.2" cy="231.4" r="1.9"/><circle cx="206.0" cy="194.0" r="1.9"/><circle cx="221.5" cy="200.5" r="1.9"/><circle cx="177.0" cy="208.1" r="1.9"/><circle cx="178.0" cy="243.2" r="1.9"/><circle cx="188.5" cy="213.5" r="1.9"/><circle cx="194.9" cy="213.5" r="1.9"/><circle cx="209.2" cy="220.2" r="1.9"/><circle cx="212.2" cy="189.3" r="1.9"/><circle cx="198.4" cy="217.9" r="1.9"/><circle cx="188.2" cy="267.2" r="1.9"/><circle cx="187.6" cy="224.8" r="1.9"/><circle cx="195.2" cy="193.0" r="1.9"/><circle cx="198.4" cy="237.2" r="1.9"/><circle cx="177.0" cy="212.8" r="1.9"/><circle cx="198.8" cy="236.8" r="1.9"/><circle cx="224.2" cy="220.7" r="1.9"/><circle cx="199.3" cy="275.3" r="1.9"/><circle cx="203.8" cy="256.2" r="1.9"/><circle cx="211.3" cy="220.9" r="1.9"/><circle cx="210.0" cy="232.5" r="1.9"/><circle cx="188.5" cy="261.4" r="1.9"/><circle cx="178.6" cy="221.5" r="1.9"/></g>
<circle cx="203.4" cy="292" r="1.9" fill="#2c6ca3" fill-opacity="0.24"/>
<circle cx="210.2" cy="283.5" r="1.9" fill="#3d6d3c" fill-opacity="0.26"/>
<circle cx="185" cy="280.6" r="1.9" fill="#2c6ca3" fill-opacity="0.24"/>
<polygon points="171.0,213.8 173.8,213.7 176.5,213.5 179.3,213.4 182.1,213.3 184.8,213.1 187.6,213.0 190.4,212.8 193.2,212.7 195.9,212.5 198.7,212.4 201.5,212.2 204.2,212.0 207.0,211.8 209.8,211.6 212.5,211.4 215.3,211.2 218.1,210.9 220.8,210.7 223.6,210.4 226.4,210.0 229.2,209.7 231.9,209.3 234.7,208.9 237.5,208.5 240.2,208.0 243.0,207.6 245.8,207.1 248.5,206.6 251.3,206.2 254.1,205.7 256.8,205.2 259.6,204.7 262.4,204.2 265.2,203.7 267.9,203.2 270.7,202.7 273.5,202.2 276.2,201.7 279.0,201.2 279.0,210.2 276.2,210.3 273.5,210.4 270.7,210.5 267.9,210.7 265.2,210.8 262.4,210.9 259.6,211.0 256.8,211.1 254.1,211.3 251.3,211.4 248.5,211.5 245.8,211.7 243.0,211.8 240.2,212.0 237.5,212.2 234.7,212.4 231.9,212.6 229.2,212.8 226.4,213.1 223.6,213.4 220.8,213.7 218.1,214.0 215.3,214.4 212.5,214.8 209.8,215.1 207.0,215.6 204.2,216.0 201.5,216.4 198.7,216.9 195.9,217.3 193.2,217.8 190.4,218.3 187.6,218.7 184.8,219.2 182.1,219.7 179.3,220.2 176.5,220.6 173.8,221.1 171.0,221.6" fill="#7d9f74" fill-opacity="0.27"/>
<polygon points="171.0,230.7 173.8,230.4 176.5,230.0 179.3,229.6 182.1,229.2 184.8,228.7 187.6,228.3 190.4,227.7 193.2,227.1 195.9,226.4 198.7,225.7 201.5,224.9 204.2,224.1 207.0,223.2 209.8,222.3 212.5,221.3 215.3,220.3 218.1,219.3 220.8,218.3 223.6,217.3 226.4,216.2 229.2,215.1 231.9,214.1 234.7,213.0 237.5,211.9 240.2,210.8 243.0,209.7 245.8,208.6 248.5,207.5 251.3,206.4 254.1,205.3 256.8,204.2 259.6,203.1 262.4,202.0 265.2,200.9 267.9,199.8 270.7,198.7 273.5,197.5 276.2,196.4 279.0,195.3 279.0,219.3 276.2,219.7 273.5,220.0 270.7,220.4 267.9,220.7 265.2,221.1 262.4,221.5 259.6,221.8 256.8,222.2 254.1,222.6 251.3,222.9 248.5,223.3 245.8,223.7 243.0,224.1 240.2,224.5 237.5,224.8 234.7,225.2 231.9,225.6 229.2,226.0 226.4,226.5 223.6,226.9 220.8,227.3 218.1,227.8 215.3,228.3 212.5,228.7 209.8,229.3 207.0,229.8 204.2,230.4 201.5,231.0 198.7,231.7 195.9,232.5 193.2,233.3 190.4,234.1 187.6,235.1 184.8,236.1 182.1,237.1 179.3,238.2 176.5,239.3 173.8,240.4 171.0,241.5" fill="#7ea7c9" fill-opacity="0.34"/>
<line x1="171" y1="217.7" x2="279" y2="205.7" stroke="#2c672c" stroke-width="1.7"/>
<line x1="171" y1="236.1" x2="279" y2="207.3" stroke="#1c5f9c" stroke-width="1.7"/>
</g>
<rect x="165.8" y="156.3" width="118.7" height="152.2" fill="none" stroke="#575757" stroke-width="1"/>
<line x1="165.8" y1="173.5" x2="168.3" y2="173.5" stroke="#000" stroke-width="1"/>
<text x="164.8" y="175.5" text-anchor="end" class="tk">2</text>
<line x1="165.8" y1="215.5" x2="168.3" y2="215.5" stroke="#000" stroke-width="1"/>
<text x="164.8" y="217.7" text-anchor="end" class="tk">0</text>
<line x1="165.8" y1="257.5" x2="168.3" y2="257.5" stroke="#000" stroke-width="1"/>
<text x="164.8" y="259.8" text-anchor="end" class="tk">−2</text>
<line x1="165.8" y1="299.5" x2="168.3" y2="299.5" stroke="#000" stroke-width="1"/>
<text x="164.8" y="301.9" text-anchor="end" class="tk">−4</text>
<line x1="170.5" y1="308.5" x2="170.5" y2="306.0" stroke="#000" stroke-width="1"/>
<text x="170.9" y="314.9" text-anchor="middle" class="tk">−2</text>
<line x1="192.5" y1="308.5" x2="192.5" y2="306.0" stroke="#000" stroke-width="1"/>
<text x="192.6" y="314.9" text-anchor="middle" class="tk">−1</text>
<line x1="214.5" y1="308.5" x2="214.5" y2="306.0" stroke="#000" stroke-width="1"/>
<text x="214.3" y="314.9" text-anchor="middle" class="tk">0</text>
<line x1="236.5" y1="308.5" x2="236.5" y2="306.0" stroke="#000" stroke-width="1"/>
<text x="236.0" y="314.9" text-anchor="middle" class="tk">1</text>
<line x1="257.5" y1="308.5" x2="257.5" y2="306.0" stroke="#000" stroke-width="1"/>
<text x="257.7" y="314.9" text-anchor="middle" class="tk">2</text>
<line x1="279.5" y1="308.5" x2="279.5" y2="306.0" stroke="#000" stroke-width="1"/>
<text x="279.4" y="314.9" text-anchor="middle" class="tk">3</text>
<text x="170.5" y="167.0" class="tt" textLength="107.5">HYD × FD<tspan dy="1.3" font-size="4.6">B</tspan><tspan dy="0.2" font-size="5.2" fill="#888" stroke="none">_</tspan><tspan dy="-1.5">PS: </tspan><tspan font-style="italic">F</tspan> = 2.48, <tspan font-style="italic">P</tspan> = 0.115</text>
<clipPath id="cliph"><rect x="299.0" y="156.3" width="118.8" height="152.2"/></clipPath>
<g clip-path="url(#cliph)">
<g fill="#3d6d3c" fill-opacity="0.26"><circle cx="342.9" cy="211.0" r="1.9"/><circle cx="367.1" cy="226.8" r="1.9"/><circle cx="355.7" cy="189.0" r="1.9"/><circle cx="392.6" cy="248.6" r="1.9"/><circle cx="361.5" cy="208.0" r="1.9"/><circle cx="358.9" cy="204.2" r="1.9"/><circle cx="352.9" cy="215.8" r="1.9"/><circle cx="390.2" cy="223.4" r="1.9"/><circle cx="353.1" cy="224.7" r="1.9"/><circle cx="355.4" cy="211.7" r="1.9"/><circle cx="358.3" cy="203.6" r="1.9"/><circle cx="361.8" cy="205.5" r="1.9"/><circle cx="365.7" cy="197.8" r="1.9"/><circle cx="379.0" cy="208.9" r="1.9"/><circle cx="329.0" cy="207.5" r="1.9"/><circle cx="365.2" cy="190.2" r="1.9"/><circle cx="383.7" cy="212.7" r="1.9"/><circle cx="356.0" cy="211.3" r="1.9"/><circle cx="360.9" cy="222.9" r="1.9"/><circle cx="353.7" cy="185.5" r="1.9"/><circle cx="323.9" cy="195.8" r="1.9"/><circle cx="357.3" cy="229.8" r="1.9"/><circle cx="381.9" cy="191.1" r="1.9"/><circle cx="355.0" cy="222.1" r="1.9"/><circle cx="331.3" cy="221.2" r="1.9"/><circle cx="364.9" cy="215.6" r="1.9"/><circle cx="358.1" cy="233.8" r="1.9"/><circle cx="374.0" cy="227.3" r="1.9"/><circle cx="364.3" cy="187.4" r="1.9"/><circle cx="360.2" cy="216.9" r="1.9"/><circle cx="372.6" cy="242.5" r="1.9"/><circle cx="337.7" cy="206.7" r="1.9"/><circle cx="377.1" cy="226.2" r="1.9"/><circle cx="367.8" cy="212.7" r="1.9"/><circle cx="381.7" cy="201.5" r="1.9"/><circle cx="377.9" cy="203.5" r="1.9"/><circle cx="361.7" cy="209.0" r="1.9"/><circle cx="355.7" cy="207.4" r="1.9"/><circle cx="350.8" cy="209.8" r="1.9"/><circle cx="331.9" cy="206.1" r="1.9"/><circle cx="363.2" cy="224.0" r="1.9"/><circle cx="366.9" cy="199.5" r="1.9"/><circle cx="352.3" cy="213.3" r="1.9"/><circle cx="369.6" cy="211.0" r="1.9"/><circle cx="363.1" cy="235.2" r="1.9"/><circle cx="367.3" cy="227.4" r="1.9"/><circle cx="347.1" cy="206.8" r="1.9"/><circle cx="339.4" cy="179.0" r="1.9"/><circle cx="376.7" cy="213.6" r="1.9"/><circle cx="370.0" cy="215.4" r="1.9"/><circle cx="367.0" cy="192.8" r="1.9"/><circle cx="360.7" cy="198.0" r="1.9"/><circle cx="362.1" cy="228.9" r="1.9"/><circle cx="363.3" cy="204.9" r="1.9"/><circle cx="359.9" cy="208.3" r="1.9"/><circle cx="335.0" cy="219.2" r="1.9"/><circle cx="377.1" cy="190.5" r="1.9"/><circle cx="336.3" cy="192.7" r="1.9"/><circle cx="353.2" cy="200.4" r="1.9"/><circle cx="360.7" cy="188.7" r="1.9"/><circle cx="366.7" cy="231.1" r="1.9"/><circle cx="343.7" cy="193.4" r="1.9"/><circle cx="371.2" cy="220.8" r="1.9"/><circle cx="373.1" cy="182.3" r="1.9"/><circle cx="376.0" cy="249.5" r="1.9"/><circle cx="378.9" cy="188.8" r="1.9"/><circle cx="354.7" cy="214.3" r="1.9"/><circle cx="311.1" cy="204.3" r="1.9"/><circle cx="368.2" cy="197.7" r="1.9"/><circle cx="380.8" cy="209.5" r="1.9"/><circle cx="384.1" cy="212.0" r="1.9"/><circle cx="358.5" cy="216.4" r="1.9"/><circle cx="362.1" cy="188.6" r="1.9"/><circle cx="370.2" cy="183.8" r="1.9"/><circle cx="342.7" cy="203.4" r="1.9"/><circle cx="360.7" cy="200.2" r="1.9"/><circle cx="349.7" cy="209.5" r="1.9"/><circle cx="369.4" cy="240.9" r="1.9"/><circle cx="356.4" cy="220.9" r="1.9"/><circle cx="386.0" cy="208.1" r="1.9"/><circle cx="360.9" cy="210.8" r="1.9"/><circle cx="344.6" cy="217.9" r="1.9"/><circle cx="391.2" cy="195.4" r="1.9"/><circle cx="352.3" cy="195.6" r="1.9"/><circle cx="360.8" cy="210.2" r="1.9"/><circle cx="382.8" cy="238.5" r="1.9"/><circle cx="355.6" cy="203.0" r="1.9"/><circle cx="342.3" cy="205.0" r="1.9"/><circle cx="379.7" cy="221.8" r="1.9"/><circle cx="355.4" cy="234.3" r="1.9"/><circle cx="353.6" cy="180.5" r="1.9"/><circle cx="342.8" cy="207.4" r="1.9"/><circle cx="356.7" cy="228.8" r="1.9"/><circle cx="380.2" cy="177.5" r="1.9"/><circle cx="365.4" cy="187.5" r="1.9"/><circle cx="374.8" cy="207.9" r="1.9"/><circle cx="385.0" cy="204.8" r="1.9"/><circle cx="383.1" cy="200.5" r="1.9"/><circle cx="384.4" cy="188.8" r="1.9"/><circle cx="380.9" cy="205.8" r="1.9"/><circle cx="338.9" cy="219.3" r="1.9"/><circle cx="382.7" cy="193.6" r="1.9"/><circle cx="369.8" cy="240.2" r="1.9"/><circle cx="362.1" cy="204.3" r="1.9"/><circle cx="348.1" cy="241.1" r="1.9"/><circle cx="332.0" cy="217.0" r="1.9"/><circle cx="346.8" cy="254.5" r="1.9"/><circle cx="344.9" cy="226.3" r="1.9"/><circle cx="346.9" cy="207.0" r="1.9"/><circle cx="351.4" cy="209.1" r="1.9"/><circle cx="359.9" cy="206.5" r="1.9"/><circle cx="375.4" cy="269.9" r="1.9"/><circle cx="367.1" cy="204.5" r="1.9"/><circle cx="362.3" cy="190.9" r="1.9"/><circle cx="381.3" cy="227.1" r="1.9"/><circle cx="354.7" cy="208.4" r="1.9"/><circle cx="377.1" cy="196.4" r="1.9"/><circle cx="357.9" cy="218.1" r="1.9"/><circle cx="366.0" cy="207.1" r="1.9"/><circle cx="363.6" cy="196.0" r="1.9"/><circle cx="368.6" cy="205.2" r="1.9"/><circle cx="354.7" cy="210.8" r="1.9"/><circle cx="348.7" cy="239.9" r="1.9"/><circle cx="350.9" cy="210.5" r="1.9"/><circle cx="346.4" cy="214.6" r="1.9"/><circle cx="382.5" cy="202.0" r="1.9"/><circle cx="372.9" cy="181.3" r="1.9"/><circle cx="350.3" cy="198.6" r="1.9"/><circle cx="371.6" cy="207.1" r="1.9"/><circle cx="358.5" cy="208.9" r="1.9"/><circle cx="363.4" cy="216.5" r="1.9"/><circle cx="352.4" cy="241.2" r="1.9"/><circle cx="346.0" cy="192.1" r="1.9"/><circle cx="376.5" cy="201.5" r="1.9"/><circle cx="372.5" cy="206.8" r="1.9"/><circle cx="348.7" cy="211.0" r="1.9"/><circle cx="341.9" cy="189.8" r="1.9"/><circle cx="346.6" cy="232.5" r="1.9"/><circle cx="350.9" cy="254.1" r="1.9"/><circle cx="358.6" cy="189.4" r="1.9"/><circle cx="370.5" cy="206.2" r="1.9"/><circle cx="382.4" cy="203.5" r="1.9"/><circle cx="357.4" cy="194.7" r="1.9"/><circle cx="379.8" cy="210.3" r="1.9"/><circle cx="378.7" cy="198.3" r="1.9"/><circle cx="357.7" cy="209.9" r="1.9"/><circle cx="341.4" cy="195.4" r="1.9"/><circle cx="375.1" cy="194.7" r="1.9"/><circle cx="366.3" cy="188.4" r="1.9"/><circle cx="397.2" cy="212.4" r="1.9"/><circle cx="385.2" cy="215.1" r="1.9"/><circle cx="370.0" cy="217.6" r="1.9"/><circle cx="390.0" cy="225.7" r="1.9"/><circle cx="347.2" cy="216.7" r="1.9"/><circle cx="364.5" cy="199.1" r="1.9"/><circle cx="367.1" cy="197.4" r="1.9"/><circle cx="391.4" cy="209.4" r="1.9"/><circle cx="367.2" cy="249.3" r="1.9"/><circle cx="328.2" cy="220.3" r="1.9"/><circle cx="380.8" cy="196.5" r="1.9"/><circle cx="352.7" cy="198.6" r="1.9"/><circle cx="366.2" cy="203.5" r="1.9"/><circle cx="359.4" cy="205.4" r="1.9"/><circle cx="369.6" cy="234.8" r="1.9"/><circle cx="374.0" cy="224.2" r="1.9"/><circle cx="367.6" cy="236.5" r="1.9"/><circle cx="345.7" cy="226.9" r="1.9"/><circle cx="383.5" cy="210.1" r="1.9"/><circle cx="367.4" cy="204.9" r="1.9"/><circle cx="360.3" cy="205.0" r="1.9"/><circle cx="372.7" cy="211.1" r="1.9"/><circle cx="353.3" cy="219.7" r="1.9"/><circle cx="374.7" cy="257.8" r="1.9"/><circle cx="368.6" cy="204.7" r="1.9"/><circle cx="370.6" cy="207.9" r="1.9"/><circle cx="369.6" cy="203.9" r="1.9"/><circle cx="350.0" cy="220.3" r="1.9"/><circle cx="347.2" cy="209.2" r="1.9"/><circle cx="365.8" cy="217.1" r="1.9"/><circle cx="370.7" cy="244.0" r="1.9"/><circle cx="383.5" cy="203.0" r="1.9"/><circle cx="372.8" cy="198.5" r="1.9"/><circle cx="344.5" cy="196.4" r="1.9"/><circle cx="374.9" cy="223.6" r="1.9"/><circle cx="373.5" cy="189.8" r="1.9"/><circle cx="372.7" cy="209.7" r="1.9"/><circle cx="353.6" cy="218.9" r="1.9"/><circle cx="345.2" cy="218.1" r="1.9"/><circle cx="381.8" cy="212.6" r="1.9"/><circle cx="352.1" cy="221.5" r="1.9"/><circle cx="368.9" cy="201.9" r="1.9"/><circle cx="327.6" cy="224.7" r="1.9"/><circle cx="379.7" cy="230.8" r="1.9"/><circle cx="353.5" cy="191.6" r="1.9"/><circle cx="375.8" cy="210.3" r="1.9"/><circle cx="389.4" cy="206.3" r="1.9"/><circle cx="377.4" cy="210.3" r="1.9"/><circle cx="354.0" cy="177.7" r="1.9"/><circle cx="345.9" cy="209.1" r="1.9"/><circle cx="348.1" cy="204.2" r="1.9"/><circle cx="375.6" cy="189.1" r="1.9"/><circle cx="364.4" cy="210.4" r="1.9"/><circle cx="367.6" cy="180.0" r="1.9"/><circle cx="372.1" cy="209.9" r="1.9"/><circle cx="374.2" cy="181.4" r="1.9"/><circle cx="374.5" cy="188.4" r="1.9"/><circle cx="391.5" cy="214.6" r="1.9"/><circle cx="364.1" cy="236.7" r="1.9"/><circle cx="368.4" cy="204.6" r="1.9"/><circle cx="337.7" cy="191.8" r="1.9"/><circle cx="347.8" cy="217.6" r="1.9"/><circle cx="351.3" cy="210.6" r="1.9"/><circle cx="350.2" cy="214.8" r="1.9"/><circle cx="365.7" cy="216.1" r="1.9"/><circle cx="375.3" cy="197.3" r="1.9"/><circle cx="359.4" cy="205.7" r="1.9"/><circle cx="363.2" cy="243.0" r="1.9"/><circle cx="360.3" cy="215.7" r="1.9"/><circle cx="364.4" cy="226.6" r="1.9"/><circle cx="358.9" cy="189.2" r="1.9"/><circle cx="368.7" cy="213.2" r="1.9"/><circle cx="368.1" cy="217.8" r="1.9"/><circle cx="369.4" cy="190.2" r="1.9"/><circle cx="367.2" cy="244.3" r="1.9"/><circle cx="365.3" cy="201.0" r="1.9"/><circle cx="362.7" cy="218.8" r="1.9"/><circle cx="386.7" cy="186.0" r="1.9"/><circle cx="358.5" cy="215.6" r="1.9"/><circle cx="370.3" cy="229.6" r="1.9"/><circle cx="361.7" cy="262.3" r="1.9"/><circle cx="345.5" cy="225.7" r="1.9"/><circle cx="344.9" cy="219.2" r="1.9"/><circle cx="352.5" cy="191.0" r="1.9"/><circle cx="368.0" cy="212.9" r="1.9"/><circle cx="354.7" cy="214.3" r="1.9"/><circle cx="351.7" cy="184.1" r="1.9"/><circle cx="381.9" cy="202.4" r="1.9"/><circle cx="363.7" cy="210.8" r="1.9"/><circle cx="378.8" cy="206.4" r="1.9"/><circle cx="368.9" cy="217.2" r="1.9"/><circle cx="378.2" cy="203.5" r="1.9"/><circle cx="352.6" cy="195.8" r="1.9"/><circle cx="361.2" cy="221.4" r="1.9"/><circle cx="397.4" cy="195.3" r="1.9"/><circle cx="375.1" cy="214.7" r="1.9"/><circle cx="377.1" cy="206.5" r="1.9"/><circle cx="370.7" cy="214.3" r="1.9"/><circle cx="382.1" cy="203.7" r="1.9"/><circle cx="346.2" cy="240.2" r="1.9"/><circle cx="354.4" cy="206.9" r="1.9"/><circle cx="373.3" cy="199.3" r="1.9"/><circle cx="378.1" cy="211.8" r="1.9"/><circle cx="361.8" cy="223.1" r="1.9"/><circle cx="360.1" cy="219.9" r="1.9"/><circle cx="361.4" cy="213.6" r="1.9"/><circle cx="368.2" cy="192.1" r="1.9"/><circle cx="349.8" cy="193.4" r="1.9"/><circle cx="338.2" cy="224.2" r="1.9"/><circle cx="364.9" cy="191.5" r="1.9"/><circle cx="343.7" cy="176.8" r="1.9"/><circle cx="351.4" cy="200.8" r="1.9"/><circle cx="352.7" cy="183.4" r="1.9"/><circle cx="354.3" cy="187.5" r="1.9"/><circle cx="363.1" cy="194.8" r="1.9"/><circle cx="359.3" cy="211.3" r="1.9"/><circle cx="362.7" cy="191.7" r="1.9"/><circle cx="345.6" cy="228.7" r="1.9"/><circle cx="357.5" cy="234.3" r="1.9"/><circle cx="372.3" cy="210.3" r="1.9"/><circle cx="365.0" cy="243.4" r="1.9"/><circle cx="359.3" cy="218.9" r="1.9"/><circle cx="367.5" cy="197.2" r="1.9"/><circle cx="360.0" cy="200.1" r="1.9"/><circle cx="363.7" cy="242.4" r="1.9"/><circle cx="387.2" cy="244.4" r="1.9"/><circle cx="360.3" cy="243.5" r="1.9"/><circle cx="370.3" cy="197.1" r="1.9"/><circle cx="369.9" cy="214.3" r="1.9"/><circle cx="362.0" cy="210.7" r="1.9"/><circle cx="346.5" cy="215.3" r="1.9"/><circle cx="363.7" cy="219.3" r="1.9"/><circle cx="367.9" cy="217.9" r="1.9"/><circle cx="365.4" cy="190.3" r="1.9"/><circle cx="365.8" cy="195.6" r="1.9"/><circle cx="360.4" cy="219.6" r="1.9"/><circle cx="348.6" cy="219.9" r="1.9"/><circle cx="355.5" cy="208.8" r="1.9"/><circle cx="339.2" cy="227.8" r="1.9"/><circle cx="362.3" cy="205.3" r="1.9"/><circle cx="343.6" cy="221.3" r="1.9"/><circle cx="356.9" cy="210.3" r="1.9"/><circle cx="374.6" cy="213.1" r="1.9"/><circle cx="345.5" cy="239.3" r="1.9"/><circle cx="357.7" cy="198.9" r="1.9"/><circle cx="365.4" cy="212.0" r="1.9"/><circle cx="364.2" cy="206.7" r="1.9"/><circle cx="350.9" cy="227.2" r="1.9"/><circle cx="352.5" cy="198.2" r="1.9"/><circle cx="387.1" cy="178.1" r="1.9"/><circle cx="371.6" cy="201.8" r="1.9"/><circle cx="362.7" cy="198.9" r="1.9"/><circle cx="342.7" cy="220.0" r="1.9"/><circle cx="373.5" cy="203.2" r="1.9"/><circle cx="357.4" cy="190.7" r="1.9"/><circle cx="365.8" cy="187.7" r="1.9"/><circle cx="348.7" cy="207.7" r="1.9"/><circle cx="378.4" cy="229.2" r="1.9"/><circle cx="340.2" cy="202.2" r="1.9"/><circle cx="374.5" cy="218.5" r="1.9"/><circle cx="364.4" cy="196.5" r="1.9"/><circle cx="339.8" cy="208.5" r="1.9"/><circle cx="359.8" cy="197.7" r="1.9"/><circle cx="389.3" cy="194.8" r="1.9"/><circle cx="377.0" cy="194.6" r="1.9"/><circle cx="340.4" cy="211.0" r="1.9"/><circle cx="343.4" cy="224.1" r="1.9"/><circle cx="335.6" cy="233.7" r="1.9"/><circle cx="345.7" cy="196.6" r="1.9"/><circle cx="345.3" cy="202.7" r="1.9"/><circle cx="389.1" cy="197.5" r="1.9"/><circle cx="368.0" cy="206.6" r="1.9"/><circle cx="360.5" cy="180.1" r="1.9"/><circle cx="356.0" cy="220.3" r="1.9"/><circle cx="373.4" cy="190.4" r="1.9"/><circle cx="382.0" cy="212.9" r="1.9"/><circle cx="354.6" cy="208.4" r="1.9"/><circle cx="368.9" cy="235.2" r="1.9"/><circle cx="347.4" cy="207.4" r="1.9"/><circle cx="356.3" cy="217.1" r="1.9"/><circle cx="371.7" cy="192.5" r="1.9"/><circle cx="386.8" cy="213.5" r="1.9"/><circle cx="364.9" cy="212.6" r="1.9"/><circle cx="370.4" cy="219.1" r="1.9"/><circle cx="378.7" cy="192.4" r="1.9"/><circle cx="360.6" cy="203.3" r="1.9"/><circle cx="367.7" cy="239.4" r="1.9"/><circle cx="374.4" cy="201.8" r="1.9"/><circle cx="371.3" cy="221.7" r="1.9"/><circle cx="364.7" cy="213.0" r="1.9"/><circle cx="375.0" cy="255.2" r="1.9"/><circle cx="367.2" cy="201.1" r="1.9"/><circle cx="386.5" cy="221.5" r="1.9"/><circle cx="334.9" cy="261.6" r="1.9"/><circle cx="347.5" cy="207.3" r="1.9"/><circle cx="381.7" cy="196.9" r="1.9"/><circle cx="367.1" cy="251.5" r="1.9"/><circle cx="344.7" cy="225.0" r="1.9"/><circle cx="372.0" cy="209.5" r="1.9"/><circle cx="380.5" cy="202.2" r="1.9"/><circle cx="354.6" cy="223.6" r="1.9"/><circle cx="377.6" cy="281.2" r="1.9"/><circle cx="363.0" cy="205.3" r="1.9"/><circle cx="354.4" cy="207.1" r="1.9"/><circle cx="353.9" cy="209.6" r="1.9"/><circle cx="378.2" cy="227.5" r="1.9"/><circle cx="349.2" cy="205.8" r="1.9"/><circle cx="363.5" cy="204.4" r="1.9"/><circle cx="378.8" cy="200.2" r="1.9"/><circle cx="350.8" cy="179.1" r="1.9"/><circle cx="331.3" cy="249.8" r="1.9"/><circle cx="363.8" cy="203.7" r="1.9"/><circle cx="365.2" cy="227.3" r="1.9"/><circle cx="361.3" cy="215.2" r="1.9"/><circle cx="348.9" cy="223.0" r="1.9"/><circle cx="349.1" cy="206.4" r="1.9"/><circle cx="392.8" cy="212.7" r="1.9"/><circle cx="344.2" cy="216.4" r="1.9"/><circle cx="358.6" cy="209.0" r="1.9"/><circle cx="341.6" cy="218.9" r="1.9"/><circle cx="360.7" cy="233.6" r="1.9"/><circle cx="386.4" cy="212.4" r="1.9"/><circle cx="363.1" cy="208.3" r="1.9"/><circle cx="372.7" cy="198.7" r="1.9"/><circle cx="356.4" cy="200.7" r="1.9"/><circle cx="391.5" cy="175.1" r="1.9"/><circle cx="348.5" cy="215.2" r="1.9"/><circle cx="343.7" cy="228.4" r="1.9"/><circle cx="372.1" cy="204.4" r="1.9"/><circle cx="347.4" cy="205.0" r="1.9"/><circle cx="367.5" cy="264.4" r="1.9"/><circle cx="368.6" cy="213.1" r="1.9"/><circle cx="368.3" cy="206.9" r="1.9"/><circle cx="363.3" cy="199.2" r="1.9"/><circle cx="347.9" cy="239.6" r="1.9"/><circle cx="342.4" cy="225.4" r="1.9"/><circle cx="377.9" cy="190.0" r="1.9"/><circle cx="363.4" cy="224.9" r="1.9"/><circle cx="363.0" cy="206.2" r="1.9"/><circle cx="354.7" cy="208.2" r="1.9"/><circle cx="334.3" cy="192.1" r="1.9"/><circle cx="350.6" cy="197.5" r="1.9"/><circle cx="375.0" cy="219.2" r="1.9"/><circle cx="353.6" cy="184.4" r="1.9"/><circle cx="356.0" cy="208.0" r="1.9"/><circle cx="343.9" cy="184.6" r="1.9"/><circle cx="354.1" cy="192.9" r="1.9"/><circle cx="359.2" cy="208.6" r="1.9"/><circle cx="365.4" cy="192.9" r="1.9"/><circle cx="343.5" cy="218.3" r="1.9"/><circle cx="350.2" cy="218.0" r="1.9"/><circle cx="356.4" cy="197.2" r="1.9"/><circle cx="360.5" cy="200.8" r="1.9"/><circle cx="369.6" cy="193.4" r="1.9"/><circle cx="360.5" cy="193.0" r="1.9"/><circle cx="385.1" cy="190.2" r="1.9"/><circle cx="366.0" cy="196.8" r="1.9"/><circle cx="364.7" cy="226.1" r="1.9"/><circle cx="356.5" cy="204.9" r="1.9"/><circle cx="377.6" cy="199.2" r="1.9"/><circle cx="346.1" cy="214.7" r="1.9"/><circle cx="345.2" cy="202.7" r="1.9"/><circle cx="352.7" cy="181.2" r="1.9"/><circle cx="376.2" cy="205.8" r="1.9"/><circle cx="342.3" cy="187.4" r="1.9"/><circle cx="381.1" cy="215.9" r="1.9"/><circle cx="361.4" cy="203.0" r="1.9"/><circle cx="320.4" cy="231.6" r="1.9"/><circle cx="363.1" cy="207.2" r="1.9"/><circle cx="388.7" cy="206.9" r="1.9"/><circle cx="346.0" cy="211.2" r="1.9"/><circle cx="344.5" cy="212.1" r="1.9"/><circle cx="365.6" cy="194.3" r="1.9"/><circle cx="382.2" cy="190.5" r="1.9"/><circle cx="373.4" cy="223.3" r="1.9"/><circle cx="354.2" cy="217.1" r="1.9"/><circle cx="366.2" cy="193.7" r="1.9"/><circle cx="367.5" cy="198.7" r="1.9"/><circle cx="374.1" cy="214.5" r="1.9"/><circle cx="396.0" cy="190.1" r="1.9"/><circle cx="368.9" cy="209.4" r="1.9"/><circle cx="376.5" cy="215.2" r="1.9"/><circle cx="364.4" cy="176.2" r="1.9"/><circle cx="359.2" cy="248.8" r="1.9"/><circle cx="348.3" cy="208.0" r="1.9"/><circle cx="351.7" cy="240.8" r="1.9"/><circle cx="364.1" cy="212.9" r="1.9"/><circle cx="354.9" cy="208.4" r="1.9"/><circle cx="377.3" cy="206.4" r="1.9"/><circle cx="352.8" cy="232.7" r="1.9"/><circle cx="363.3" cy="249.5" r="1.9"/><circle cx="350.4" cy="214.0" r="1.9"/><circle cx="357.2" cy="210.2" r="1.9"/><circle cx="357.6" cy="238.8" r="1.9"/><circle cx="375.8" cy="231.9" r="1.9"/><circle cx="392.4" cy="203.1" r="1.9"/><circle cx="346.8" cy="223.4" r="1.9"/><circle cx="370.9" cy="203.7" r="1.9"/><circle cx="351.2" cy="219.7" r="1.9"/><circle cx="348.7" cy="244.7" r="1.9"/><circle cx="364.7" cy="218.1" r="1.9"/><circle cx="352.2" cy="231.3" r="1.9"/><circle cx="360.8" cy="229.2" r="1.9"/><circle cx="379.6" cy="199.1" r="1.9"/><circle cx="338.2" cy="177.3" r="1.9"/><circle cx="359.2" cy="198.2" r="1.9"/><circle cx="364.1" cy="282.1" r="1.9"/><circle cx="348.9" cy="200.3" r="1.9"/><circle cx="365.7" cy="218.3" r="1.9"/><circle cx="361.7" cy="240.2" r="1.9"/><circle cx="358.1" cy="216.3" r="1.9"/><circle cx="376.7" cy="207.6" r="1.9"/><circle cx="352.7" cy="229.9" r="1.9"/><circle cx="374.7" cy="212.3" r="1.9"/><circle cx="360.3" cy="190.2" r="1.9"/><circle cx="347.5" cy="194.1" r="1.9"/><circle cx="347.5" cy="213.7" r="1.9"/><circle cx="360.6" cy="197.0" r="1.9"/><circle cx="380.2" cy="246.1" r="1.9"/><circle cx="339.5" cy="213.1" r="1.9"/><circle cx="357.2" cy="225.7" r="1.9"/><circle cx="359.1" cy="213.9" r="1.9"/><circle cx="380.1" cy="202.9" r="1.9"/><circle cx="350.5" cy="203.8" r="1.9"/><circle cx="382.7" cy="237.7" r="1.9"/><circle cx="339.1" cy="190.8" r="1.9"/><circle cx="367.8" cy="242.7" r="1.9"/><circle cx="363.8" cy="182.5" r="1.9"/><circle cx="363.2" cy="198.0" r="1.9"/><circle cx="353.5" cy="217.0" r="1.9"/><circle cx="339.1" cy="196.9" r="1.9"/><circle cx="337.0" cy="215.9" r="1.9"/><circle cx="385.0" cy="210.8" r="1.9"/><circle cx="364.6" cy="210.7" r="1.9"/><circle cx="343.7" cy="210.2" r="1.9"/><circle cx="375.4" cy="191.6" r="1.9"/><circle cx="342.7" cy="222.1" r="1.9"/><circle cx="348.8" cy="199.1" r="1.9"/><circle cx="341.8" cy="207.4" r="1.9"/><circle cx="383.2" cy="216.7" r="1.9"/><circle cx="388.2" cy="195.5" r="1.9"/><circle cx="350.5" cy="206.3" r="1.9"/><circle cx="365.0" cy="188.0" r="1.9"/><circle cx="375.6" cy="208.6" r="1.9"/><circle cx="396.9" cy="203.4" r="1.9"/><circle cx="329.7" cy="190.0" r="1.9"/><circle cx="358.5" cy="223.2" r="1.9"/><circle cx="367.8" cy="220.8" r="1.9"/><circle cx="345.9" cy="253.8" r="1.9"/><circle cx="371.1" cy="199.6" r="1.9"/><circle cx="364.5" cy="205.7" r="1.9"/><circle cx="373.9" cy="229.5" r="1.9"/><circle cx="339.2" cy="232.0" r="1.9"/><circle cx="365.3" cy="201.2" r="1.9"/><circle cx="351.5" cy="203.5" r="1.9"/><circle cx="372.6" cy="217.3" r="1.9"/><circle cx="366.0" cy="202.9" r="1.9"/><circle cx="355.0" cy="211.9" r="1.9"/><circle cx="345.3" cy="244.9" r="1.9"/><circle cx="388.8" cy="209.3" r="1.9"/><circle cx="373.6" cy="201.2" r="1.9"/><circle cx="378.8" cy="207.4" r="1.9"/><circle cx="352.4" cy="196.8" r="1.9"/><circle cx="357.5" cy="212.2" r="1.9"/><circle cx="388.0" cy="211.6" r="1.9"/><circle cx="373.2" cy="208.4" r="1.9"/><circle cx="353.4" cy="198.1" r="1.9"/><circle cx="354.6" cy="201.6" r="1.9"/><circle cx="369.6" cy="211.4" r="1.9"/><circle cx="357.3" cy="235.2" r="1.9"/><circle cx="348.9" cy="195.2" r="1.9"/><circle cx="375.9" cy="207.1" r="1.9"/><circle cx="373.2" cy="216.9" r="1.9"/><circle cx="364.4" cy="239.4" r="1.9"/><circle cx="344.2" cy="200.6" r="1.9"/><circle cx="357.4" cy="223.3" r="1.9"/><circle cx="349.1" cy="211.9" r="1.9"/><circle cx="372.5" cy="201.6" r="1.9"/><circle cx="356.1" cy="206.7" r="1.9"/><circle cx="368.5" cy="244.8" r="1.9"/><circle cx="368.7" cy="195.9" r="1.9"/><circle cx="353.0" cy="192.7" r="1.9"/><circle cx="323.4" cy="190.0" r="1.9"/><circle cx="348.0" cy="187.9" r="1.9"/><circle cx="338.7" cy="230.4" r="1.9"/><circle cx="356.1" cy="240.0" r="1.9"/><circle cx="364.7" cy="230.5" r="1.9"/><circle cx="384.4" cy="263.0" r="1.9"/><circle cx="364.0" cy="203.0" r="1.9"/><circle cx="348.6" cy="201.6" r="1.9"/><circle cx="398.0" cy="202.1" r="1.9"/><circle cx="362.9" cy="250.5" r="1.9"/><circle cx="348.3" cy="207.1" r="1.9"/><circle cx="359.9" cy="200.7" r="1.9"/><circle cx="339.4" cy="225.4" r="1.9"/><circle cx="370.3" cy="207.3" r="1.9"/><circle cx="356.8" cy="223.6" r="1.9"/><circle cx="375.7" cy="213.4" r="1.9"/><circle cx="382.4" cy="186.5" r="1.9"/><circle cx="375.6" cy="196.1" r="1.9"/><circle cx="380.2" cy="205.0" r="1.9"/><circle cx="362.8" cy="200.0" r="1.9"/><circle cx="340.9" cy="222.7" r="1.9"/><circle cx="357.6" cy="204.0" r="1.9"/><circle cx="340.6" cy="199.3" r="1.9"/><circle cx="359.9" cy="210.9" r="1.9"/><circle cx="356.5" cy="265.3" r="1.9"/><circle cx="372.7" cy="201.8" r="1.9"/><circle cx="354.0" cy="244.4" r="1.9"/><circle cx="321.5" cy="233.0" r="1.9"/><circle cx="347.3" cy="214.5" r="1.9"/><circle cx="378.8" cy="218.0" r="1.9"/><circle cx="331.9" cy="236.3" r="1.9"/><circle cx="349.7" cy="209.4" r="1.9"/><circle cx="364.1" cy="198.8" r="1.9"/><circle cx="341.4" cy="205.4" r="1.9"/><circle cx="351.0" cy="217.5" r="1.9"/><circle cx="360.1" cy="248.1" r="1.9"/><circle cx="336.1" cy="224.8" r="1.9"/><circle cx="366.9" cy="219.0" r="1.9"/><circle cx="365.7" cy="219.3" r="1.9"/><circle cx="338.6" cy="207.3" r="1.9"/><circle cx="369.6" cy="267.5" r="1.9"/><circle cx="378.2" cy="216.6" r="1.9"/><circle cx="365.3" cy="204.8" r="1.9"/><circle cx="370.6" cy="206.9" r="1.9"/><circle cx="368.8" cy="213.7" r="1.9"/><circle cx="359.3" cy="213.2" r="1.9"/><circle cx="367.8" cy="221.7" r="1.9"/><circle cx="371.6" cy="192.6" r="1.9"/><circle cx="337.4" cy="219.8" r="1.9"/><circle cx="375.4" cy="234.1" r="1.9"/><circle cx="377.7" cy="197.0" r="1.9"/><circle cx="368.1" cy="218.2" r="1.9"/><circle cx="357.1" cy="201.0" r="1.9"/><circle cx="375.4" cy="197.7" r="1.9"/><circle cx="380.3" cy="207.6" r="1.9"/><circle cx="370.2" cy="197.0" r="1.9"/><circle cx="374.3" cy="209.2" r="1.9"/><circle cx="369.4" cy="221.1" r="1.9"/><circle cx="352.7" cy="210.7" r="1.9"/><circle cx="374.7" cy="176.7" r="1.9"/><circle cx="353.5" cy="215.5" r="1.9"/><circle cx="369.9" cy="224.7" r="1.9"/><circle cx="363.8" cy="194.3" r="1.9"/><circle cx="363.7" cy="176.5" r="1.9"/><circle cx="361.4" cy="241.2" r="1.9"/><circle cx="365.5" cy="190.2" r="1.9"/><circle cx="369.5" cy="206.4" r="1.9"/><circle cx="369.6" cy="208.0" r="1.9"/><circle cx="349.4" cy="192.8" r="1.9"/><circle cx="360.2" cy="194.0" r="1.9"/><circle cx="364.7" cy="190.8" r="1.9"/><circle cx="355.6" cy="220.0" r="1.9"/><circle cx="366.2" cy="223.8" r="1.9"/><circle cx="396.3" cy="204.7" r="1.9"/><circle cx="385.2" cy="222.3" r="1.9"/><circle cx="369.4" cy="225.5" r="1.9"/><circle cx="371.0" cy="203.9" r="1.9"/><circle cx="388.7" cy="201.5" r="1.9"/><circle cx="369.3" cy="207.0" r="1.9"/><circle cx="338.7" cy="220.5" r="1.9"/><circle cx="357.5" cy="225.3" r="1.9"/><circle cx="365.5" cy="212.3" r="1.9"/><circle cx="395.3" cy="219.3" r="1.9"/><circle cx="343.2" cy="198.6" r="1.9"/><circle cx="390.3" cy="243.9" r="1.9"/><circle cx="364.9" cy="205.8" r="1.9"/><circle cx="372.5" cy="206.2" r="1.9"/><circle cx="354.7" cy="205.9" r="1.9"/><circle cx="357.8" cy="222.7" r="1.9"/><circle cx="377.0" cy="218.0" r="1.9"/><circle cx="365.9" cy="201.9" r="1.9"/><circle cx="375.5" cy="200.1" r="1.9"/><circle cx="362.4" cy="203.5" r="1.9"/><circle cx="354.1" cy="217.7" r="1.9"/><circle cx="366.7" cy="250.3" r="1.9"/><circle cx="353.7" cy="229.5" r="1.9"/><circle cx="362.1" cy="218.3" r="1.9"/><circle cx="382.9" cy="217.6" r="1.9"/><circle cx="351.8" cy="205.6" r="1.9"/><circle cx="329.1" cy="218.1" r="1.9"/><circle cx="363.9" cy="242.8" r="1.9"/><circle cx="387.4" cy="221.3" r="1.9"/><circle cx="380.9" cy="211.8" r="1.9"/><circle cx="384.6" cy="201.8" r="1.9"/><circle cx="380.5" cy="225.3" r="1.9"/><circle cx="354.9" cy="215.4" r="1.9"/><circle cx="364.8" cy="208.8" r="1.9"/><circle cx="328.4" cy="187.9" r="1.9"/><circle cx="355.4" cy="200.1" r="1.9"/></g>
<g fill="#2c6ca3" fill-opacity="0.24"><circle cx="369.4" cy="251.8" r="1.9"/><circle cx="342.9" cy="218.3" r="1.9"/><circle cx="369.9" cy="212.3" r="1.9"/><circle cx="367.5" cy="220.4" r="1.9"/><circle cx="364.4" cy="211.1" r="1.9"/><circle cx="364.1" cy="212.5" r="1.9"/><circle cx="359.1" cy="248.6" r="1.9"/><circle cx="372.0" cy="186.3" r="1.9"/><circle cx="371.2" cy="185.7" r="1.9"/><circle cx="372.5" cy="212.4" r="1.9"/><circle cx="366.8" cy="231.4" r="1.9"/><circle cx="374.1" cy="228.9" r="1.9"/><circle cx="359.0" cy="248.8" r="1.9"/><circle cx="380.3" cy="222.2" r="1.9"/><circle cx="357.5" cy="232.7" r="1.9"/><circle cx="382.1" cy="232.2" r="1.9"/><circle cx="370.6" cy="229.0" r="1.9"/><circle cx="363.1" cy="191.3" r="1.9"/><circle cx="347.4" cy="248.9" r="1.9"/><circle cx="364.4" cy="220.2" r="1.9"/><circle cx="366.8" cy="230.7" r="1.9"/><circle cx="365.0" cy="208.6" r="1.9"/><circle cx="368.1" cy="210.4" r="1.9"/><circle cx="365.9" cy="257.5" r="1.9"/><circle cx="351.6" cy="244.6" r="1.9"/><circle cx="345.7" cy="232.0" r="1.9"/><circle cx="369.8" cy="241.4" r="1.9"/><circle cx="366.2" cy="217.3" r="1.9"/><circle cx="379.7" cy="227.7" r="1.9"/><circle cx="389.6" cy="245.8" r="1.9"/><circle cx="373.0" cy="231.2" r="1.9"/><circle cx="372.1" cy="213.4" r="1.9"/><circle cx="368.7" cy="224.0" r="1.9"/><circle cx="362.3" cy="222.9" r="1.9"/><circle cx="351.5" cy="227.1" r="1.9"/><circle cx="328.5" cy="227.8" r="1.9"/><circle cx="370.7" cy="200.5" r="1.9"/><circle cx="371.6" cy="245.3" r="1.9"/><circle cx="362.2" cy="218.3" r="1.9"/><circle cx="361.7" cy="227.7" r="1.9"/><circle cx="371.1" cy="225.4" r="1.9"/><circle cx="375.7" cy="220.9" r="1.9"/><circle cx="367.7" cy="208.0" r="1.9"/><circle cx="366.8" cy="217.8" r="1.9"/><circle cx="366.9" cy="216.1" r="1.9"/><circle cx="373.8" cy="216.8" r="1.9"/><circle cx="385.4" cy="232.4" r="1.9"/><circle cx="354.8" cy="214.9" r="1.9"/><circle cx="364.7" cy="213.6" r="1.9"/><circle cx="346.9" cy="209.6" r="1.9"/><circle cx="352.8" cy="223.9" r="1.9"/><circle cx="396.2" cy="219.1" r="1.9"/><circle cx="352.7" cy="263.6" r="1.9"/><circle cx="357.1" cy="236.2" r="1.9"/><circle cx="350.7" cy="234.2" r="1.9"/><circle cx="374.3" cy="211.4" r="1.9"/><circle cx="356.9" cy="214.4" r="1.9"/><circle cx="335.8" cy="226.7" r="1.9"/><circle cx="362.9" cy="242.3" r="1.9"/><circle cx="374.2" cy="217.6" r="1.9"/><circle cx="363.9" cy="207.5" r="1.9"/><circle cx="363.4" cy="208.7" r="1.9"/><circle cx="356.1" cy="229.9" r="1.9"/><circle cx="347.6" cy="248.6" r="1.9"/><circle cx="361.5" cy="244.8" r="1.9"/><circle cx="350.6" cy="244.9" r="1.9"/><circle cx="354.6" cy="206.0" r="1.9"/><circle cx="345.1" cy="222.9" r="1.9"/><circle cx="357.9" cy="200.3" r="1.9"/><circle cx="376.2" cy="203.6" r="1.9"/><circle cx="363.0" cy="206.7" r="1.9"/><circle cx="374.9" cy="237.2" r="1.9"/><circle cx="370.3" cy="221.0" r="1.9"/><circle cx="366.8" cy="231.5" r="1.9"/><circle cx="346.2" cy="255.1" r="1.9"/><circle cx="363.9" cy="254.9" r="1.9"/><circle cx="366.8" cy="237.0" r="1.9"/><circle cx="369.8" cy="205.3" r="1.9"/><circle cx="338.9" cy="233.5" r="1.9"/><circle cx="341.6" cy="257.5" r="1.9"/><circle cx="353.6" cy="229.2" r="1.9"/><circle cx="343.2" cy="218.4" r="1.9"/><circle cx="363.7" cy="247.0" r="1.9"/><circle cx="356.0" cy="192.4" r="1.9"/><circle cx="355.5" cy="246.5" r="1.9"/><circle cx="366.8" cy="205.7" r="1.9"/><circle cx="338.7" cy="209.2" r="1.9"/><circle cx="358.7" cy="239.6" r="1.9"/><circle cx="365.5" cy="234.1" r="1.9"/><circle cx="376.9" cy="230.7" r="1.9"/><circle cx="362.3" cy="234.6" r="1.9"/><circle cx="351.0" cy="214.4" r="1.9"/><circle cx="371.4" cy="224.6" r="1.9"/><circle cx="366.8" cy="266.1" r="1.9"/><circle cx="390.8" cy="228.3" r="1.9"/><circle cx="393.3" cy="245.7" r="1.9"/><circle cx="361.5" cy="233.6" r="1.9"/><circle cx="383.6" cy="224.1" r="1.9"/><circle cx="362.5" cy="234.0" r="1.9"/><circle cx="346.8" cy="219.9" r="1.9"/><circle cx="369.9" cy="237.3" r="1.9"/><circle cx="378.8" cy="238.3" r="1.9"/><circle cx="325.2" cy="200.2" r="1.9"/><circle cx="376.7" cy="212.3" r="1.9"/><circle cx="347.5" cy="223.4" r="1.9"/><circle cx="385.3" cy="227.7" r="1.9"/><circle cx="365.7" cy="235.1" r="1.9"/><circle cx="367.2" cy="232.3" r="1.9"/><circle cx="382.4" cy="241.8" r="1.9"/><circle cx="356.8" cy="193.3" r="1.9"/><circle cx="393.4" cy="208.0" r="1.9"/><circle cx="366.8" cy="275.0" r="1.9"/><circle cx="347.9" cy="246.6" r="1.9"/><circle cx="347.2" cy="233.9" r="1.9"/><circle cx="373.0" cy="232.3" r="1.9"/><circle cx="363.9" cy="265.6" r="1.9"/><circle cx="372.6" cy="214.1" r="1.9"/><circle cx="374.1" cy="245.2" r="1.9"/><circle cx="372.5" cy="216.6" r="1.9"/><circle cx="373.8" cy="224.9" r="1.9"/><circle cx="375.4" cy="201.5" r="1.9"/><circle cx="363.3" cy="241.1" r="1.9"/><circle cx="348.5" cy="202.6" r="1.9"/><circle cx="349.2" cy="251.5" r="1.9"/><circle cx="366.3" cy="197.2" r="1.9"/><circle cx="355.7" cy="210.9" r="1.9"/><circle cx="366.8" cy="220.3" r="1.9"/><circle cx="351.3" cy="255.8" r="1.9"/><circle cx="359.0" cy="197.6" r="1.9"/><circle cx="363.0" cy="211.8" r="1.9"/><circle cx="358.2" cy="266.9" r="1.9"/><circle cx="343.9" cy="271.3" r="1.9"/><circle cx="367.3" cy="234.6" r="1.9"/><circle cx="366.8" cy="237.8" r="1.9"/><circle cx="356.4" cy="213.1" r="1.9"/><circle cx="371.5" cy="219.1" r="1.9"/><circle cx="361.2" cy="226.4" r="1.9"/><circle cx="377.4" cy="229.5" r="1.9"/><circle cx="355.3" cy="214.2" r="1.9"/><circle cx="364.5" cy="237.4" r="1.9"/><circle cx="359.8" cy="255.6" r="1.9"/><circle cx="355.4" cy="268.5" r="1.9"/><circle cx="366.0" cy="210.8" r="1.9"/><circle cx="374.3" cy="234.1" r="1.9"/><circle cx="333.0" cy="258.7" r="1.9"/><circle cx="352.6" cy="242.4" r="1.9"/><circle cx="331.8" cy="234.8" r="1.9"/><circle cx="349.4" cy="209.4" r="1.9"/><circle cx="338.4" cy="268.8" r="1.9"/><circle cx="366.8" cy="240.6" r="1.9"/><circle cx="351.7" cy="210.0" r="1.9"/><circle cx="366.7" cy="221.9" r="1.9"/><circle cx="375.6" cy="216.9" r="1.9"/><circle cx="343.7" cy="201.1" r="1.9"/><circle cx="352.3" cy="246.6" r="1.9"/><circle cx="366.8" cy="238.5" r="1.9"/><circle cx="353.9" cy="212.3" r="1.9"/><circle cx="354.3" cy="202.1" r="1.9"/><circle cx="331.0" cy="222.6" r="1.9"/><circle cx="368.5" cy="240.5" r="1.9"/><circle cx="364.6" cy="255.7" r="1.9"/><circle cx="346.9" cy="213.3" r="1.9"/><circle cx="366.8" cy="214.5" r="1.9"/><circle cx="347.4" cy="251.8" r="1.9"/><circle cx="369.8" cy="230.7" r="1.9"/><circle cx="350.4" cy="242.5" r="1.9"/><circle cx="340.4" cy="224.1" r="1.9"/><circle cx="355.8" cy="231.1" r="1.9"/><circle cx="375.3" cy="206.8" r="1.9"/><circle cx="377.6" cy="202.2" r="1.9"/><circle cx="372.8" cy="235.1" r="1.9"/><circle cx="365.5" cy="208.0" r="1.9"/><circle cx="365.1" cy="210.4" r="1.9"/><circle cx="365.6" cy="201.9" r="1.9"/><circle cx="367.2" cy="229.6" r="1.9"/><circle cx="371.8" cy="224.8" r="1.9"/><circle cx="346.6" cy="196.5" r="1.9"/><circle cx="352.7" cy="213.6" r="1.9"/><circle cx="356.2" cy="235.9" r="1.9"/><circle cx="366.8" cy="216.5" r="1.9"/><circle cx="352.1" cy="187.0" r="1.9"/><circle cx="351.4" cy="234.9" r="1.9"/><circle cx="375.9" cy="237.6" r="1.9"/><circle cx="377.2" cy="217.0" r="1.9"/><circle cx="347.2" cy="236.2" r="1.9"/><circle cx="352.2" cy="255.0" r="1.9"/><circle cx="366.8" cy="254.1" r="1.9"/><circle cx="354.8" cy="230.5" r="1.9"/><circle cx="372.5" cy="239.0" r="1.9"/><circle cx="333.8" cy="203.0" r="1.9"/><circle cx="354.1" cy="245.1" r="1.9"/><circle cx="370.1" cy="242.6" r="1.9"/><circle cx="380.3" cy="237.3" r="1.9"/><circle cx="374.7" cy="249.9" r="1.9"/><circle cx="366.8" cy="222.8" r="1.9"/><circle cx="341.0" cy="234.0" r="1.9"/><circle cx="350.2" cy="202.6" r="1.9"/><circle cx="370.4" cy="220.8" r="1.9"/><circle cx="366.6" cy="182.8" r="1.9"/><circle cx="372.8" cy="233.7" r="1.9"/><circle cx="367.7" cy="213.6" r="1.9"/><circle cx="352.5" cy="263.4" r="1.9"/><circle cx="361.9" cy="233.5" r="1.9"/><circle cx="348.8" cy="236.1" r="1.9"/><circle cx="372.2" cy="209.3" r="1.9"/><circle cx="341.9" cy="232.9" r="1.9"/><circle cx="356.5" cy="214.9" r="1.9"/><circle cx="366.8" cy="232.7" r="1.9"/><circle cx="381.8" cy="256.5" r="1.9"/><circle cx="350.0" cy="230.2" r="1.9"/><circle cx="366.4" cy="198.2" r="1.9"/><circle cx="344.9" cy="223.0" r="1.9"/><circle cx="374.4" cy="200.9" r="1.9"/><circle cx="360.7" cy="238.4" r="1.9"/><circle cx="358.7" cy="225.9" r="1.9"/><circle cx="348.4" cy="235.7" r="1.9"/><circle cx="357.8" cy="230.1" r="1.9"/><circle cx="352.0" cy="235.7" r="1.9"/><circle cx="352.9" cy="226.9" r="1.9"/><circle cx="373.2" cy="237.0" r="1.9"/><circle cx="347.4" cy="249.2" r="1.9"/><circle cx="365.4" cy="200.4" r="1.9"/><circle cx="372.1" cy="212.6" r="1.9"/><circle cx="366.8" cy="226.1" r="1.9"/><circle cx="328.8" cy="235.0" r="1.9"/><circle cx="369.4" cy="253.5" r="1.9"/><circle cx="344.3" cy="224.7" r="1.9"/><circle cx="342.4" cy="242.3" r="1.9"/><circle cx="357.1" cy="205.7" r="1.9"/><circle cx="364.1" cy="260.6" r="1.9"/><circle cx="350.2" cy="220.9" r="1.9"/><circle cx="354.1" cy="212.2" r="1.9"/><circle cx="376.0" cy="231.4" r="1.9"/><circle cx="364.7" cy="194.0" r="1.9"/><circle cx="366.8" cy="200.5" r="1.9"/><circle cx="349.6" cy="208.1" r="1.9"/><circle cx="357.1" cy="243.2" r="1.9"/><circle cx="360.9" cy="213.5" r="1.9"/><circle cx="364.2" cy="213.5" r="1.9"/><circle cx="362.3" cy="220.2" r="1.9"/><circle cx="365.4" cy="189.3" r="1.9"/><circle cx="387.0" cy="217.9" r="1.9"/><circle cx="361.5" cy="267.2" r="1.9"/><circle cx="366.9" cy="224.8" r="1.9"/><circle cx="363.1" cy="193.0" r="1.9"/><circle cx="346.2" cy="237.2" r="1.9"/><circle cx="371.2" cy="212.8" r="1.9"/><circle cx="339.9" cy="236.8" r="1.9"/><circle cx="375.7" cy="220.7" r="1.9"/><circle cx="366.8" cy="275.3" r="1.9"/><circle cx="351.3" cy="256.2" r="1.9"/><circle cx="360.0" cy="220.9" r="1.9"/><circle cx="349.6" cy="232.5" r="1.9"/><circle cx="354.7" cy="261.4" r="1.9"/><circle cx="379.6" cy="221.5" r="1.9"/></g>
<circle cx="366.4" cy="291.4" r="1.9" fill="#2c6ca3" fill-opacity="0.24"/>
<circle cx="358.3" cy="283.1" r="1.9" fill="#3d6d3c" fill-opacity="0.26"/>
<circle cx="349.9" cy="277.8" r="1.9" fill="#3d6d3c" fill-opacity="0.26"/>
<polygon points="304.0,215.5 306.8,215.3 309.6,215.1 312.4,214.9 315.2,214.7 317.9,214.5 320.7,214.3 323.5,214.1 326.3,213.9 329.1,213.6 331.9,213.4 334.7,213.2 337.5,213.0 340.3,212.7 343.1,212.5 345.8,212.2 348.6,212.0 351.4,211.7 354.2,211.4 357.0,211.1 359.8,210.8 362.6,210.5 365.4,210.1 368.2,209.7 371.0,209.2 373.7,208.7 376.5,208.2 379.3,207.7 382.1,207.1 384.9,206.6 387.7,206.0 390.5,205.4 393.3,204.8 396.1,204.2 398.9,203.6 401.6,203.0 404.4,202.4 407.2,201.7 410.0,201.1 412.8,200.5 412.8,210.5 410.0,210.6 407.2,210.7 404.4,210.8 401.6,210.9 398.9,211.0 396.1,211.1 393.3,211.2 390.5,211.4 387.7,211.5 384.9,211.6 382.1,211.8 379.3,211.9 376.5,212.1 373.7,212.3 371.0,212.5 368.2,212.8 365.4,213.1 362.6,213.5 359.8,213.8 357.0,214.2 354.2,214.7 351.4,215.1 348.6,215.5 345.8,216.0 343.1,216.5 340.3,216.9 337.5,217.4 334.7,217.9 331.9,218.4 329.1,218.9 326.3,219.4 323.5,219.9 320.7,220.4 317.9,220.9 315.2,221.4 312.4,221.9 309.6,222.5 306.8,223.0 304.0,223.5" fill="#7d9f74" fill-opacity="0.27"/>
<polygon points="304.0,212.3 306.8,212.8 309.6,213.4 312.4,213.9 315.2,214.5 317.9,215.0 320.7,215.5 323.5,216.1 326.3,216.6 329.1,217.1 331.9,217.6 334.7,218.1 337.5,218.6 340.3,219.0 343.1,219.5 345.8,219.9 348.6,220.3 351.4,220.7 354.2,221.1 357.0,221.4 359.8,221.7 362.6,221.9 365.4,222.1 368.2,222.2 371.0,222.3 373.7,222.3 376.5,222.2 379.3,222.2 382.1,222.1 384.9,222.0 387.7,221.8 390.5,221.7 393.3,221.5 396.1,221.4 398.9,221.2 401.6,221.0 404.4,220.9 407.2,220.7 410.0,220.5 412.8,220.3 412.8,238.9 410.0,238.2 407.2,237.5 404.4,236.8 401.6,236.1 398.9,235.4 396.1,234.7 393.3,234.0 390.5,233.4 387.7,232.7 384.9,232.1 382.1,231.4 379.3,230.8 376.5,230.2 373.7,229.7 371.0,229.2 368.2,228.7 365.4,228.3 362.6,228.0 359.8,227.7 357.0,227.5 354.2,227.3 351.4,227.1 348.6,227.0 345.8,226.9 343.1,226.8 340.3,226.7 337.5,226.6 334.7,226.6 331.9,226.6 329.1,226.6 326.3,226.6 323.5,226.6 320.7,226.6 317.9,226.6 315.2,226.6 312.4,226.6 309.6,226.6 306.8,226.7 304.0,226.7" fill="#7ea7c9" fill-opacity="0.34"/>
<line x1="304" y1="219.5" x2="412.8" y2="205.5" stroke="#2c672c" stroke-width="1.7"/>
<line x1="304" y1="219.5" x2="412.8" y2="229.6" stroke="#1c5f9c" stroke-width="1.7"/>
</g>
<rect x="299.0" y="156.3" width="118.8" height="152.2" fill="none" stroke="#575757" stroke-width="1"/>
<line x1="299.0" y1="173.5" x2="301.5" y2="173.5" stroke="#000" stroke-width="1"/>
<text x="298.0" y="175.5" text-anchor="end" class="tk">2</text>
<line x1="299.0" y1="215.5" x2="301.5" y2="215.5" stroke="#000" stroke-width="1"/>
<text x="298.0" y="217.7" text-anchor="end" class="tk">0</text>
<line x1="299.0" y1="257.5" x2="301.5" y2="257.5" stroke="#000" stroke-width="1"/>
<text x="298.0" y="259.8" text-anchor="end" class="tk">−2</text>
<line x1="299.0" y1="299.5" x2="301.5" y2="299.5" stroke="#000" stroke-width="1"/>
<text x="298.0" y="301.9" text-anchor="end" class="tk">−4</text>
<line x1="304.5" y1="308.5" x2="304.5" y2="306.0" stroke="#000" stroke-width="1"/>
<text x="304.3" y="314.9" text-anchor="middle" class="tk">−4</text>
<line x1="331.5" y1="308.5" x2="331.5" y2="306.0" stroke="#000" stroke-width="1"/>
<text x="331.3" y="314.9" text-anchor="middle" class="tk">−2</text>
<line x1="358.5" y1="308.5" x2="358.5" y2="306.0" stroke="#000" stroke-width="1"/>
<text x="358.4" y="314.9" text-anchor="middle" class="tk">0</text>
<line x1="385.5" y1="308.5" x2="385.5" y2="306.0" stroke="#000" stroke-width="1"/>
<text x="385.5" y="314.9" text-anchor="middle" class="tk">2</text>
<line x1="412.5" y1="308.5" x2="412.5" y2="306.0" stroke="#000" stroke-width="1"/>
<text x="412.5" y="314.9" text-anchor="middle" class="tk">4</text>
<text x="304.0" y="167.0" class="tt" textLength="108.0">HYD × CWM<tspan dy="1.3" font-size="4.8">PC1</tspan><tspan dy="-1.3">: </tspan><tspan font-style="italic">F</tspan> = 6.71, <tspan font-style="italic">P</tspan> = 0.010</text>
<clipPath id="clipi"><rect x="432.5" y="156.3" width="119.0" height="152.2"/></clipPath>
<g clip-path="url(#clipi)">
<g fill="#3d6d3c" fill-opacity="0.26"><circle cx="488.7" cy="211.0" r="1.9"/><circle cx="503.9" cy="226.8" r="1.9"/><circle cx="506.4" cy="189.0" r="1.9"/><circle cx="510.8" cy="248.6" r="1.9"/><circle cx="487.8" cy="208.0" r="1.9"/><circle cx="493.2" cy="204.2" r="1.9"/><circle cx="495.9" cy="215.8" r="1.9"/><circle cx="475.4" cy="223.4" r="1.9"/><circle cx="484.2" cy="224.7" r="1.9"/><circle cx="470.4" cy="211.7" r="1.9"/><circle cx="504.6" cy="203.6" r="1.9"/><circle cx="514.8" cy="205.5" r="1.9"/><circle cx="502.7" cy="197.8" r="1.9"/><circle cx="504.1" cy="208.9" r="1.9"/><circle cx="460.7" cy="207.5" r="1.9"/><circle cx="475.7" cy="190.2" r="1.9"/><circle cx="467.3" cy="212.7" r="1.9"/><circle cx="501.9" cy="211.3" r="1.9"/><circle cx="494.8" cy="222.9" r="1.9"/><circle cx="487.7" cy="185.5" r="1.9"/><circle cx="498.0" cy="195.8" r="1.9"/><circle cx="469.7" cy="229.8" r="1.9"/><circle cx="507.2" cy="191.1" r="1.9"/><circle cx="502.4" cy="222.1" r="1.9"/><circle cx="473.6" cy="221.2" r="1.9"/><circle cx="478.6" cy="215.6" r="1.9"/><circle cx="487.1" cy="233.8" r="1.9"/><circle cx="476.0" cy="227.3" r="1.9"/><circle cx="475.5" cy="187.4" r="1.9"/><circle cx="483.9" cy="216.9" r="1.9"/><circle cx="508.0" cy="242.5" r="1.9"/><circle cx="493.5" cy="206.7" r="1.9"/><circle cx="485.1" cy="226.2" r="1.9"/><circle cx="489.1" cy="212.7" r="1.9"/><circle cx="501.6" cy="201.5" r="1.9"/><circle cx="475.3" cy="203.5" r="1.9"/><circle cx="495.8" cy="209.0" r="1.9"/><circle cx="477.8" cy="207.4" r="1.9"/><circle cx="498.8" cy="209.8" r="1.9"/><circle cx="477.3" cy="206.1" r="1.9"/><circle cx="512.0" cy="224.0" r="1.9"/><circle cx="493.3" cy="199.5" r="1.9"/><circle cx="492.1" cy="213.3" r="1.9"/><circle cx="497.4" cy="211.0" r="1.9"/><circle cx="504.3" cy="235.2" r="1.9"/><circle cx="486.3" cy="227.4" r="1.9"/><circle cx="473.9" cy="206.8" r="1.9"/><circle cx="495.4" cy="179.0" r="1.9"/><circle cx="492.0" cy="213.6" r="1.9"/><circle cx="486.2" cy="215.4" r="1.9"/><circle cx="512.0" cy="192.8" r="1.9"/><circle cx="503.7" cy="198.0" r="1.9"/><circle cx="500.1" cy="228.9" r="1.9"/><circle cx="500.3" cy="204.9" r="1.9"/><circle cx="500.7" cy="208.3" r="1.9"/><circle cx="500.9" cy="219.2" r="1.9"/><circle cx="506.6" cy="190.5" r="1.9"/><circle cx="477.3" cy="192.7" r="1.9"/><circle cx="482.5" cy="200.4" r="1.9"/><circle cx="511.9" cy="188.7" r="1.9"/><circle cx="496.2" cy="231.1" r="1.9"/><circle cx="498.3" cy="193.4" r="1.9"/><circle cx="491.7" cy="220.8" r="1.9"/><circle cx="494.3" cy="182.3" r="1.9"/><circle cx="487.0" cy="249.5" r="1.9"/><circle cx="494.0" cy="188.8" r="1.9"/><circle cx="490.6" cy="214.3" r="1.9"/><circle cx="471.7" cy="204.3" r="1.9"/><circle cx="496.3" cy="197.7" r="1.9"/><circle cx="489.4" cy="209.5" r="1.9"/><circle cx="495.4" cy="212.0" r="1.9"/><circle cx="493.8" cy="216.4" r="1.9"/><circle cx="487.7" cy="188.6" r="1.9"/><circle cx="509.2" cy="183.8" r="1.9"/><circle cx="497.0" cy="203.4" r="1.9"/><circle cx="502.1" cy="200.2" r="1.9"/><circle cx="501.1" cy="209.5" r="1.9"/><circle cx="453.2" cy="240.9" r="1.9"/><circle cx="510.9" cy="220.9" r="1.9"/><circle cx="505.3" cy="208.1" r="1.9"/><circle cx="485.7" cy="210.8" r="1.9"/><circle cx="490.8" cy="217.9" r="1.9"/><circle cx="489.2" cy="195.4" r="1.9"/><circle cx="504.4" cy="195.6" r="1.9"/><circle cx="477.2" cy="210.2" r="1.9"/><circle cx="483.4" cy="238.5" r="1.9"/><circle cx="502.8" cy="203.0" r="1.9"/><circle cx="497.2" cy="205.0" r="1.9"/><circle cx="486.7" cy="221.8" r="1.9"/><circle cx="486.5" cy="234.3" r="1.9"/><circle cx="510.5" cy="180.5" r="1.9"/><circle cx="476.4" cy="207.4" r="1.9"/><circle cx="487.3" cy="228.8" r="1.9"/><circle cx="514.0" cy="177.5" r="1.9"/><circle cx="514.4" cy="187.5" r="1.9"/><circle cx="481.4" cy="207.9" r="1.9"/><circle cx="489.7" cy="204.8" r="1.9"/><circle cx="495.2" cy="200.5" r="1.9"/><circle cx="492.6" cy="188.8" r="1.9"/><circle cx="488.3" cy="205.8" r="1.9"/><circle cx="476.1" cy="219.3" r="1.9"/><circle cx="504.8" cy="193.6" r="1.9"/><circle cx="488.2" cy="240.2" r="1.9"/><circle cx="490.3" cy="204.3" r="1.9"/><circle cx="487.3" cy="241.1" r="1.9"/><circle cx="467.2" cy="217.0" r="1.9"/><circle cx="497.4" cy="254.5" r="1.9"/><circle cx="457.5" cy="226.3" r="1.9"/><circle cx="486.9" cy="207.0" r="1.9"/><circle cx="483.3" cy="209.1" r="1.9"/><circle cx="499.8" cy="206.5" r="1.9"/><circle cx="506.7" cy="269.9" r="1.9"/><circle cx="510.6" cy="204.5" r="1.9"/><circle cx="496.8" cy="190.9" r="1.9"/><circle cx="488.1" cy="227.1" r="1.9"/><circle cx="481.6" cy="208.4" r="1.9"/><circle cx="505.8" cy="196.4" r="1.9"/><circle cx="496.5" cy="218.1" r="1.9"/><circle cx="502.7" cy="207.1" r="1.9"/><circle cx="482.6" cy="196.0" r="1.9"/><circle cx="493.6" cy="205.2" r="1.9"/><circle cx="500.2" cy="210.8" r="1.9"/><circle cx="494.3" cy="239.9" r="1.9"/><circle cx="475.5" cy="210.5" r="1.9"/><circle cx="465.4" cy="214.6" r="1.9"/><circle cx="488.3" cy="202.0" r="1.9"/><circle cx="487.3" cy="181.3" r="1.9"/><circle cx="511.6" cy="198.6" r="1.9"/><circle cx="483.3" cy="207.1" r="1.9"/><circle cx="508.8" cy="208.9" r="1.9"/><circle cx="468.8" cy="216.5" r="1.9"/><circle cx="477.3" cy="241.2" r="1.9"/><circle cx="504.5" cy="192.1" r="1.9"/><circle cx="490.0" cy="201.5" r="1.9"/><circle cx="504.6" cy="206.8" r="1.9"/><circle cx="491.6" cy="211.0" r="1.9"/><circle cx="494.7" cy="189.8" r="1.9"/><circle cx="456.4" cy="232.5" r="1.9"/><circle cx="490.9" cy="254.1" r="1.9"/><circle cx="483.9" cy="189.4" r="1.9"/><circle cx="476.6" cy="206.2" r="1.9"/><circle cx="491.8" cy="203.5" r="1.9"/><circle cx="484.9" cy="194.7" r="1.9"/><circle cx="468.5" cy="210.3" r="1.9"/><circle cx="512.4" cy="198.3" r="1.9"/><circle cx="486.2" cy="209.9" r="1.9"/><circle cx="485.0" cy="195.4" r="1.9"/><circle cx="502.9" cy="194.7" r="1.9"/><circle cx="490.8" cy="188.4" r="1.9"/><circle cx="483.5" cy="212.4" r="1.9"/><circle cx="482.8" cy="215.1" r="1.9"/><circle cx="474.3" cy="217.6" r="1.9"/><circle cx="508.5" cy="225.7" r="1.9"/><circle cx="486.9" cy="216.7" r="1.9"/><circle cx="481.9" cy="199.1" r="1.9"/><circle cx="508.6" cy="197.4" r="1.9"/><circle cx="510.5" cy="209.4" r="1.9"/><circle cx="471.2" cy="249.3" r="1.9"/><circle cx="506.3" cy="220.3" r="1.9"/><circle cx="476.1" cy="196.5" r="1.9"/><circle cx="513.7" cy="198.6" r="1.9"/><circle cx="491.3" cy="203.5" r="1.9"/><circle cx="506.8" cy="205.4" r="1.9"/><circle cx="497.0" cy="234.8" r="1.9"/><circle cx="501.6" cy="224.2" r="1.9"/><circle cx="476.9" cy="236.5" r="1.9"/><circle cx="485.9" cy="226.9" r="1.9"/><circle cx="481.2" cy="210.1" r="1.9"/><circle cx="477.1" cy="204.9" r="1.9"/><circle cx="479.9" cy="205.0" r="1.9"/><circle cx="487.8" cy="211.1" r="1.9"/><circle cx="491.9" cy="219.7" r="1.9"/><circle cx="465.8" cy="257.8" r="1.9"/><circle cx="498.9" cy="204.7" r="1.9"/><circle cx="488.2" cy="207.9" r="1.9"/><circle cx="501.0" cy="203.9" r="1.9"/><circle cx="490.0" cy="220.3" r="1.9"/><circle cx="503.6" cy="209.2" r="1.9"/><circle cx="482.6" cy="217.1" r="1.9"/><circle cx="472.5" cy="244.0" r="1.9"/><circle cx="490.2" cy="203.0" r="1.9"/><circle cx="512.5" cy="198.5" r="1.9"/><circle cx="488.9" cy="196.4" r="1.9"/><circle cx="499.0" cy="223.6" r="1.9"/><circle cx="496.7" cy="189.8" r="1.9"/><circle cx="486.2" cy="209.7" r="1.9"/><circle cx="465.4" cy="218.9" r="1.9"/><circle cx="485.7" cy="218.1" r="1.9"/><circle cx="497.1" cy="212.6" r="1.9"/><circle cx="491.9" cy="221.5" r="1.9"/><circle cx="480.9" cy="201.9" r="1.9"/><circle cx="453.4" cy="224.7" r="1.9"/><circle cx="505.0" cy="230.8" r="1.9"/><circle cx="503.2" cy="191.6" r="1.9"/><circle cx="491.6" cy="210.3" r="1.9"/><circle cx="498.8" cy="206.3" r="1.9"/><circle cx="491.3" cy="210.3" r="1.9"/><circle cx="499.9" cy="177.7" r="1.9"/><circle cx="485.6" cy="209.1" r="1.9"/><circle cx="495.1" cy="204.2" r="1.9"/><circle cx="514.5" cy="189.1" r="1.9"/><circle cx="484.3" cy="210.4" r="1.9"/><circle cx="498.8" cy="180.0" r="1.9"/><circle cx="510.8" cy="209.9" r="1.9"/><circle cx="512.7" cy="181.4" r="1.9"/><circle cx="499.0" cy="188.4" r="1.9"/><circle cx="504.4" cy="214.6" r="1.9"/><circle cx="496.3" cy="236.7" r="1.9"/><circle cx="486.0" cy="204.6" r="1.9"/><circle cx="503.3" cy="191.8" r="1.9"/><circle cx="496.6" cy="217.6" r="1.9"/><circle cx="472.2" cy="210.6" r="1.9"/><circle cx="498.7" cy="214.8" r="1.9"/><circle cx="475.3" cy="216.1" r="1.9"/><circle cx="477.5" cy="197.3" r="1.9"/><circle cx="497.1" cy="205.7" r="1.9"/><circle cx="498.4" cy="243.0" r="1.9"/><circle cx="510.8" cy="215.7" r="1.9"/><circle cx="477.6" cy="226.6" r="1.9"/><circle cx="501.7" cy="189.2" r="1.9"/><circle cx="496.0" cy="213.2" r="1.9"/><circle cx="506.5" cy="217.8" r="1.9"/><circle cx="503.2" cy="190.2" r="1.9"/><circle cx="479.7" cy="244.3" r="1.9"/><circle cx="496.5" cy="201.0" r="1.9"/><circle cx="486.4" cy="218.8" r="1.9"/><circle cx="499.5" cy="186.0" r="1.9"/><circle cx="477.9" cy="215.6" r="1.9"/><circle cx="488.1" cy="229.6" r="1.9"/><circle cx="486.7" cy="262.3" r="1.9"/><circle cx="470.5" cy="225.7" r="1.9"/><circle cx="464.9" cy="219.2" r="1.9"/><circle cx="513.2" cy="191.0" r="1.9"/><circle cx="496.4" cy="212.9" r="1.9"/><circle cx="494.7" cy="214.3" r="1.9"/><circle cx="483.1" cy="184.1" r="1.9"/><circle cx="500.9" cy="202.4" r="1.9"/><circle cx="501.6" cy="210.8" r="1.9"/><circle cx="495.1" cy="206.4" r="1.9"/><circle cx="505.3" cy="217.2" r="1.9"/><circle cx="485.2" cy="203.5" r="1.9"/><circle cx="488.3" cy="195.8" r="1.9"/><circle cx="472.8" cy="221.4" r="1.9"/><circle cx="494.9" cy="195.3" r="1.9"/><circle cx="482.4" cy="214.7" r="1.9"/><circle cx="483.3" cy="206.5" r="1.9"/><circle cx="501.0" cy="214.3" r="1.9"/><circle cx="510.8" cy="203.7" r="1.9"/><circle cx="496.5" cy="240.2" r="1.9"/><circle cx="502.1" cy="206.9" r="1.9"/><circle cx="513.7" cy="199.3" r="1.9"/><circle cx="491.2" cy="211.8" r="1.9"/><circle cx="483.4" cy="223.1" r="1.9"/><circle cx="487.8" cy="219.9" r="1.9"/><circle cx="497.3" cy="213.6" r="1.9"/><circle cx="510.1" cy="192.1" r="1.9"/><circle cx="510.9" cy="193.4" r="1.9"/><circle cx="470.9" cy="224.2" r="1.9"/><circle cx="509.3" cy="191.5" r="1.9"/><circle cx="512.7" cy="176.8" r="1.9"/><circle cx="504.5" cy="200.8" r="1.9"/><circle cx="493.6" cy="183.4" r="1.9"/><circle cx="503.0" cy="187.5" r="1.9"/><circle cx="486.1" cy="194.8" r="1.9"/><circle cx="493.8" cy="211.3" r="1.9"/><circle cx="495.5" cy="191.7" r="1.9"/><circle cx="473.6" cy="228.7" r="1.9"/><circle cx="507.4" cy="234.3" r="1.9"/><circle cx="496.0" cy="210.3" r="1.9"/><circle cx="488.9" cy="243.4" r="1.9"/><circle cx="502.0" cy="218.9" r="1.9"/><circle cx="481.9" cy="197.2" r="1.9"/><circle cx="492.4" cy="200.1" r="1.9"/><circle cx="480.4" cy="242.4" r="1.9"/><circle cx="504.2" cy="244.4" r="1.9"/><circle cx="484.8" cy="243.5" r="1.9"/><circle cx="498.9" cy="197.1" r="1.9"/><circle cx="487.5" cy="214.3" r="1.9"/><circle cx="498.2" cy="210.7" r="1.9"/><circle cx="487.1" cy="215.3" r="1.9"/><circle cx="454.2" cy="219.3" r="1.9"/><circle cx="485.6" cy="217.9" r="1.9"/><circle cx="497.2" cy="190.3" r="1.9"/><circle cx="503.9" cy="195.6" r="1.9"/><circle cx="473.7" cy="219.6" r="1.9"/><circle cx="470.4" cy="219.9" r="1.9"/><circle cx="460.5" cy="208.8" r="1.9"/><circle cx="495.0" cy="227.8" r="1.9"/><circle cx="486.8" cy="205.3" r="1.9"/><circle cx="489.7" cy="221.3" r="1.9"/><circle cx="498.5" cy="210.3" r="1.9"/><circle cx="505.0" cy="213.1" r="1.9"/><circle cx="470.5" cy="239.3" r="1.9"/><circle cx="488.1" cy="198.9" r="1.9"/><circle cx="483.7" cy="212.0" r="1.9"/><circle cx="502.3" cy="206.7" r="1.9"/><circle cx="467.3" cy="227.2" r="1.9"/><circle cx="490.9" cy="198.2" r="1.9"/><circle cx="500.0" cy="178.1" r="1.9"/><circle cx="487.5" cy="201.8" r="1.9"/><circle cx="491.0" cy="198.9" r="1.9"/><circle cx="493.0" cy="220.0" r="1.9"/><circle cx="504.9" cy="203.2" r="1.9"/><circle cx="498.9" cy="190.7" r="1.9"/><circle cx="491.6" cy="187.7" r="1.9"/><circle cx="485.6" cy="207.7" r="1.9"/><circle cx="464.2" cy="229.2" r="1.9"/><circle cx="504.7" cy="202.2" r="1.9"/><circle cx="474.5" cy="218.5" r="1.9"/><circle cx="473.0" cy="196.5" r="1.9"/><circle cx="501.3" cy="208.5" r="1.9"/><circle cx="507.0" cy="197.7" r="1.9"/><circle cx="512.3" cy="194.8" r="1.9"/><circle cx="497.3" cy="194.6" r="1.9"/><circle cx="494.0" cy="211.0" r="1.9"/><circle cx="475.9" cy="224.1" r="1.9"/><circle cx="475.4" cy="233.7" r="1.9"/><circle cx="486.5" cy="196.6" r="1.9"/><circle cx="487.7" cy="202.7" r="1.9"/><circle cx="498.5" cy="197.5" r="1.9"/><circle cx="493.8" cy="206.6" r="1.9"/><circle cx="506.6" cy="180.1" r="1.9"/><circle cx="486.7" cy="220.3" r="1.9"/><circle cx="501.2" cy="190.4" r="1.9"/><circle cx="499.9" cy="212.9" r="1.9"/><circle cx="503.4" cy="208.4" r="1.9"/><circle cx="453.9" cy="235.2" r="1.9"/><circle cx="484.7" cy="207.4" r="1.9"/><circle cx="471.1" cy="217.1" r="1.9"/><circle cx="512.2" cy="192.5" r="1.9"/><circle cx="491.8" cy="213.5" r="1.9"/><circle cx="510.5" cy="212.6" r="1.9"/><circle cx="511.0" cy="219.1" r="1.9"/><circle cx="487.0" cy="192.4" r="1.9"/><circle cx="474.7" cy="203.3" r="1.9"/><circle cx="457.9" cy="239.4" r="1.9"/><circle cx="488.8" cy="201.8" r="1.9"/><circle cx="500.1" cy="221.7" r="1.9"/><circle cx="483.1" cy="213.0" r="1.9"/><circle cx="493.5" cy="255.2" r="1.9"/><circle cx="491.3" cy="201.1" r="1.9"/><circle cx="479.3" cy="221.5" r="1.9"/><circle cx="484.8" cy="261.6" r="1.9"/><circle cx="495.2" cy="207.3" r="1.9"/><circle cx="494.1" cy="196.9" r="1.9"/><circle cx="493.4" cy="251.5" r="1.9"/><circle cx="456.3" cy="225.0" r="1.9"/><circle cx="477.8" cy="209.5" r="1.9"/><circle cx="492.9" cy="202.2" r="1.9"/><circle cx="489.9" cy="223.6" r="1.9"/><circle cx="496.5" cy="281.2" r="1.9"/><circle cx="500.7" cy="205.3" r="1.9"/><circle cx="477.5" cy="207.1" r="1.9"/><circle cx="465.9" cy="209.6" r="1.9"/><circle cx="484.8" cy="227.5" r="1.9"/><circle cx="499.5" cy="205.8" r="1.9"/><circle cx="506.6" cy="204.4" r="1.9"/><circle cx="507.0" cy="200.2" r="1.9"/><circle cx="505.3" cy="179.1" r="1.9"/><circle cx="471.6" cy="249.8" r="1.9"/><circle cx="479.5" cy="203.7" r="1.9"/><circle cx="489.6" cy="227.3" r="1.9"/><circle cx="491.3" cy="215.2" r="1.9"/><circle cx="464.2" cy="223.0" r="1.9"/><circle cx="498.5" cy="206.4" r="1.9"/><circle cx="494.5" cy="212.7" r="1.9"/><circle cx="487.0" cy="216.4" r="1.9"/><circle cx="498.0" cy="209.0" r="1.9"/><circle cx="474.4" cy="218.9" r="1.9"/><circle cx="472.3" cy="233.6" r="1.9"/><circle cx="512.0" cy="212.4" r="1.9"/><circle cx="500.8" cy="208.3" r="1.9"/><circle cx="496.1" cy="198.7" r="1.9"/><circle cx="478.8" cy="200.7" r="1.9"/><circle cx="488.4" cy="175.1" r="1.9"/><circle cx="470.0" cy="215.2" r="1.9"/><circle cx="465.6" cy="228.4" r="1.9"/><circle cx="487.2" cy="204.4" r="1.9"/><circle cx="479.4" cy="205.0" r="1.9"/><circle cx="486.3" cy="264.4" r="1.9"/><circle cx="508.2" cy="213.1" r="1.9"/><circle cx="496.0" cy="206.9" r="1.9"/><circle cx="511.5" cy="199.2" r="1.9"/><circle cx="479.8" cy="239.6" r="1.9"/><circle cx="483.1" cy="225.4" r="1.9"/><circle cx="498.6" cy="190.0" r="1.9"/><circle cx="511.4" cy="224.9" r="1.9"/><circle cx="484.7" cy="206.2" r="1.9"/><circle cx="499.3" cy="208.2" r="1.9"/><circle cx="488.9" cy="192.1" r="1.9"/><circle cx="495.3" cy="197.5" r="1.9"/><circle cx="489.7" cy="219.2" r="1.9"/><circle cx="511.4" cy="184.4" r="1.9"/><circle cx="504.0" cy="208.0" r="1.9"/><circle cx="493.5" cy="184.6" r="1.9"/><circle cx="480.5" cy="192.9" r="1.9"/><circle cx="486.5" cy="208.6" r="1.9"/><circle cx="503.6" cy="192.9" r="1.9"/><circle cx="459.7" cy="218.3" r="1.9"/><circle cx="490.1" cy="218.0" r="1.9"/><circle cx="484.2" cy="197.2" r="1.9"/><circle cx="490.6" cy="200.8" r="1.9"/><circle cx="498.4" cy="193.4" r="1.9"/><circle cx="493.6" cy="193.0" r="1.9"/><circle cx="488.2" cy="190.2" r="1.9"/><circle cx="492.2" cy="196.8" r="1.9"/><circle cx="497.9" cy="226.1" r="1.9"/><circle cx="500.9" cy="204.9" r="1.9"/><circle cx="496.0" cy="199.2" r="1.9"/><circle cx="482.7" cy="214.7" r="1.9"/><circle cx="508.3" cy="202.7" r="1.9"/><circle cx="500.4" cy="181.2" r="1.9"/><circle cx="484.7" cy="205.8" r="1.9"/><circle cx="488.6" cy="187.4" r="1.9"/><circle cx="491.2" cy="215.9" r="1.9"/><circle cx="499.5" cy="203.0" r="1.9"/><circle cx="447.4" cy="231.6" r="1.9"/><circle cx="500.3" cy="207.2" r="1.9"/><circle cx="497.0" cy="206.9" r="1.9"/><circle cx="483.5" cy="211.2" r="1.9"/><circle cx="490.0" cy="212.1" r="1.9"/><circle cx="468.1" cy="194.3" r="1.9"/><circle cx="511.9" cy="190.5" r="1.9"/><circle cx="471.6" cy="223.3" r="1.9"/><circle cx="482.1" cy="217.1" r="1.9"/><circle cx="501.0" cy="193.7" r="1.9"/><circle cx="497.1" cy="198.7" r="1.9"/><circle cx="487.4" cy="214.5" r="1.9"/><circle cx="506.5" cy="190.1" r="1.9"/><circle cx="509.0" cy="209.4" r="1.9"/><circle cx="486.3" cy="215.2" r="1.9"/><circle cx="496.8" cy="176.2" r="1.9"/><circle cx="459.3" cy="248.8" r="1.9"/><circle cx="492.8" cy="208.0" r="1.9"/><circle cx="489.8" cy="240.8" r="1.9"/><circle cx="479.0" cy="212.9" r="1.9"/><circle cx="506.2" cy="208.4" r="1.9"/><circle cx="510.8" cy="206.4" r="1.9"/><circle cx="482.6" cy="232.7" r="1.9"/><circle cx="486.0" cy="249.5" r="1.9"/><circle cx="476.2" cy="214.0" r="1.9"/><circle cx="496.6" cy="210.2" r="1.9"/><circle cx="496.0" cy="238.8" r="1.9"/><circle cx="497.9" cy="231.9" r="1.9"/><circle cx="493.2" cy="203.1" r="1.9"/><circle cx="492.4" cy="223.4" r="1.9"/><circle cx="503.8" cy="203.7" r="1.9"/><circle cx="472.6" cy="219.7" r="1.9"/><circle cx="478.9" cy="244.7" r="1.9"/><circle cx="489.0" cy="218.1" r="1.9"/><circle cx="496.0" cy="231.3" r="1.9"/><circle cx="489.6" cy="229.2" r="1.9"/><circle cx="488.2" cy="199.1" r="1.9"/><circle cx="513.0" cy="177.3" r="1.9"/><circle cx="484.6" cy="198.2" r="1.9"/><circle cx="491.3" cy="282.1" r="1.9"/><circle cx="487.5" cy="200.3" r="1.9"/><circle cx="475.0" cy="218.3" r="1.9"/><circle cx="478.2" cy="240.2" r="1.9"/><circle cx="496.3" cy="216.3" r="1.9"/><circle cx="483.6" cy="207.6" r="1.9"/><circle cx="509.9" cy="229.9" r="1.9"/><circle cx="508.0" cy="212.3" r="1.9"/><circle cx="498.0" cy="190.2" r="1.9"/><circle cx="484.2" cy="194.1" r="1.9"/><circle cx="462.6" cy="213.7" r="1.9"/><circle cx="493.6" cy="197.0" r="1.9"/><circle cx="507.7" cy="246.1" r="1.9"/><circle cx="478.7" cy="213.1" r="1.9"/><circle cx="485.9" cy="225.7" r="1.9"/><circle cx="505.7" cy="213.9" r="1.9"/><circle cx="483.4" cy="202.9" r="1.9"/><circle cx="492.9" cy="203.8" r="1.9"/><circle cx="498.6" cy="237.7" r="1.9"/><circle cx="497.1" cy="190.8" r="1.9"/><circle cx="498.1" cy="242.7" r="1.9"/><circle cx="507.4" cy="182.5" r="1.9"/><circle cx="481.9" cy="198.0" r="1.9"/><circle cx="483.3" cy="217.0" r="1.9"/><circle cx="514.6" cy="196.9" r="1.9"/><circle cx="488.0" cy="215.9" r="1.9"/><circle cx="505.1" cy="210.8" r="1.9"/><circle cx="494.0" cy="210.7" r="1.9"/><circle cx="470.1" cy="210.2" r="1.9"/><circle cx="490.7" cy="191.6" r="1.9"/><circle cx="475.8" cy="222.1" r="1.9"/><circle cx="495.6" cy="199.1" r="1.9"/><circle cx="486.4" cy="207.4" r="1.9"/><circle cx="474.1" cy="216.7" r="1.9"/><circle cx="486.8" cy="195.5" r="1.9"/><circle cx="500.0" cy="206.3" r="1.9"/><circle cx="501.5" cy="188.0" r="1.9"/><circle cx="498.3" cy="208.6" r="1.9"/><circle cx="505.1" cy="203.4" r="1.9"/><circle cx="508.5" cy="190.0" r="1.9"/><circle cx="492.7" cy="223.2" r="1.9"/><circle cx="493.7" cy="220.8" r="1.9"/><circle cx="490.4" cy="253.8" r="1.9"/><circle cx="507.1" cy="199.6" r="1.9"/><circle cx="497.3" cy="205.7" r="1.9"/><circle cx="491.4" cy="229.5" r="1.9"/><circle cx="466.8" cy="232.0" r="1.9"/><circle cx="490.7" cy="201.2" r="1.9"/><circle cx="484.2" cy="203.5" r="1.9"/><circle cx="495.8" cy="217.3" r="1.9"/><circle cx="494.1" cy="202.9" r="1.9"/><circle cx="491.0" cy="211.9" r="1.9"/><circle cx="495.9" cy="244.9" r="1.9"/><circle cx="504.8" cy="209.3" r="1.9"/><circle cx="466.9" cy="201.2" r="1.9"/><circle cx="499.3" cy="207.4" r="1.9"/><circle cx="477.2" cy="196.8" r="1.9"/><circle cx="489.2" cy="212.2" r="1.9"/><circle cx="502.3" cy="211.6" r="1.9"/><circle cx="494.2" cy="208.4" r="1.9"/><circle cx="499.0" cy="198.1" r="1.9"/><circle cx="476.1" cy="201.6" r="1.9"/><circle cx="511.6" cy="211.4" r="1.9"/><circle cx="478.8" cy="235.2" r="1.9"/><circle cx="501.0" cy="195.2" r="1.9"/><circle cx="470.9" cy="207.1" r="1.9"/><circle cx="494.5" cy="216.9" r="1.9"/><circle cx="504.9" cy="239.4" r="1.9"/><circle cx="494.5" cy="200.6" r="1.9"/><circle cx="502.1" cy="223.3" r="1.9"/><circle cx="471.7" cy="211.9" r="1.9"/><circle cx="478.0" cy="201.6" r="1.9"/><circle cx="490.3" cy="206.7" r="1.9"/><circle cx="469.6" cy="244.8" r="1.9"/><circle cx="485.2" cy="195.9" r="1.9"/><circle cx="494.0" cy="192.7" r="1.9"/><circle cx="487.0" cy="190.0" r="1.9"/><circle cx="509.7" cy="187.9" r="1.9"/><circle cx="479.6" cy="230.4" r="1.9"/><circle cx="499.3" cy="240.0" r="1.9"/><circle cx="483.2" cy="230.5" r="1.9"/><circle cx="515.0" cy="263.0" r="1.9"/><circle cx="501.6" cy="203.0" r="1.9"/><circle cx="502.5" cy="201.6" r="1.9"/><circle cx="509.2" cy="202.1" r="1.9"/><circle cx="492.5" cy="250.5" r="1.9"/><circle cx="483.2" cy="207.1" r="1.9"/><circle cx="510.8" cy="200.7" r="1.9"/><circle cx="481.5" cy="225.4" r="1.9"/><circle cx="479.3" cy="207.3" r="1.9"/><circle cx="445.8" cy="223.6" r="1.9"/><circle cx="469.9" cy="213.4" r="1.9"/><circle cx="508.8" cy="186.5" r="1.9"/><circle cx="498.0" cy="196.1" r="1.9"/><circle cx="493.8" cy="205.0" r="1.9"/><circle cx="499.0" cy="200.0" r="1.9"/><circle cx="454.6" cy="222.7" r="1.9"/><circle cx="481.4" cy="204.0" r="1.9"/><circle cx="487.2" cy="199.3" r="1.9"/><circle cx="476.0" cy="210.9" r="1.9"/><circle cx="496.4" cy="265.3" r="1.9"/><circle cx="481.3" cy="201.8" r="1.9"/><circle cx="473.6" cy="244.4" r="1.9"/><circle cx="457.2" cy="233.0" r="1.9"/><circle cx="456.0" cy="214.5" r="1.9"/><circle cx="475.4" cy="218.0" r="1.9"/><circle cx="472.5" cy="236.3" r="1.9"/><circle cx="486.0" cy="209.4" r="1.9"/><circle cx="485.8" cy="198.8" r="1.9"/><circle cx="509.4" cy="205.4" r="1.9"/><circle cx="480.9" cy="217.5" r="1.9"/><circle cx="479.7" cy="248.1" r="1.9"/><circle cx="471.0" cy="224.8" r="1.9"/><circle cx="483.4" cy="219.0" r="1.9"/><circle cx="465.0" cy="219.3" r="1.9"/><circle cx="477.3" cy="207.3" r="1.9"/><circle cx="509.2" cy="267.5" r="1.9"/><circle cx="479.8" cy="216.6" r="1.9"/><circle cx="503.5" cy="204.8" r="1.9"/><circle cx="485.6" cy="206.9" r="1.9"/><circle cx="485.8" cy="213.7" r="1.9"/><circle cx="495.6" cy="213.2" r="1.9"/><circle cx="478.1" cy="221.7" r="1.9"/><circle cx="503.6" cy="192.6" r="1.9"/><circle cx="462.1" cy="219.8" r="1.9"/><circle cx="511.6" cy="234.1" r="1.9"/><circle cx="494.4" cy="197.0" r="1.9"/><circle cx="482.7" cy="218.2" r="1.9"/><circle cx="506.2" cy="201.0" r="1.9"/><circle cx="502.7" cy="197.7" r="1.9"/><circle cx="477.1" cy="207.6" r="1.9"/><circle cx="506.8" cy="197.0" r="1.9"/><circle cx="471.3" cy="209.2" r="1.9"/><circle cx="459.3" cy="221.1" r="1.9"/><circle cx="462.2" cy="210.7" r="1.9"/><circle cx="505.2" cy="176.7" r="1.9"/><circle cx="479.9" cy="215.5" r="1.9"/><circle cx="455.2" cy="224.7" r="1.9"/><circle cx="503.6" cy="194.3" r="1.9"/><circle cx="501.0" cy="176.5" r="1.9"/><circle cx="505.9" cy="241.2" r="1.9"/><circle cx="495.2" cy="190.2" r="1.9"/><circle cx="495.7" cy="206.4" r="1.9"/><circle cx="497.1" cy="208.0" r="1.9"/><circle cx="506.6" cy="192.8" r="1.9"/><circle cx="506.4" cy="194.0" r="1.9"/><circle cx="475.6" cy="190.8" r="1.9"/><circle cx="469.1" cy="220.0" r="1.9"/><circle cx="502.2" cy="223.8" r="1.9"/><circle cx="472.1" cy="204.7" r="1.9"/><circle cx="502.6" cy="222.3" r="1.9"/><circle cx="510.7" cy="225.5" r="1.9"/><circle cx="487.3" cy="203.9" r="1.9"/><circle cx="511.4" cy="201.5" r="1.9"/><circle cx="501.7" cy="207.0" r="1.9"/><circle cx="497.8" cy="220.5" r="1.9"/><circle cx="476.5" cy="225.3" r="1.9"/><circle cx="483.8" cy="212.3" r="1.9"/><circle cx="502.0" cy="219.3" r="1.9"/><circle cx="512.5" cy="198.6" r="1.9"/><circle cx="509.1" cy="243.9" r="1.9"/><circle cx="500.3" cy="205.8" r="1.9"/><circle cx="483.8" cy="206.2" r="1.9"/><circle cx="495.7" cy="205.9" r="1.9"/><circle cx="488.2" cy="222.7" r="1.9"/><circle cx="490.5" cy="218.0" r="1.9"/><circle cx="501.6" cy="201.9" r="1.9"/><circle cx="479.7" cy="200.1" r="1.9"/><circle cx="498.1" cy="203.5" r="1.9"/><circle cx="477.6" cy="217.7" r="1.9"/><circle cx="504.7" cy="250.3" r="1.9"/><circle cx="485.7" cy="229.5" r="1.9"/><circle cx="489.1" cy="218.3" r="1.9"/><circle cx="474.0" cy="217.6" r="1.9"/><circle cx="495.5" cy="205.6" r="1.9"/><circle cx="472.3" cy="218.1" r="1.9"/><circle cx="493.4" cy="242.8" r="1.9"/><circle cx="489.2" cy="221.3" r="1.9"/><circle cx="501.8" cy="211.8" r="1.9"/><circle cx="503.7" cy="201.8" r="1.9"/><circle cx="498.4" cy="225.3" r="1.9"/><circle cx="488.7" cy="215.4" r="1.9"/><circle cx="491.7" cy="208.8" r="1.9"/><circle cx="494.6" cy="187.9" r="1.9"/><circle cx="485.6" cy="200.1" r="1.9"/></g>
<g fill="#2c6ca3" fill-opacity="0.24"><circle cx="470.7" cy="251.8" r="1.9"/><circle cx="465.1" cy="218.3" r="1.9"/><circle cx="461.8" cy="212.3" r="1.9"/><circle cx="462.6" cy="220.4" r="1.9"/><circle cx="469.3" cy="211.1" r="1.9"/><circle cx="466.1" cy="212.5" r="1.9"/><circle cx="454.3" cy="248.6" r="1.9"/><circle cx="483.8" cy="186.3" r="1.9"/><circle cx="464.6" cy="185.7" r="1.9"/><circle cx="466.0" cy="212.4" r="1.9"/><circle cx="467.0" cy="231.4" r="1.9"/><circle cx="467.4" cy="228.9" r="1.9"/><circle cx="467.4" cy="248.8" r="1.9"/><circle cx="467.2" cy="222.2" r="1.9"/><circle cx="492.0" cy="232.7" r="1.9"/><circle cx="479.5" cy="232.2" r="1.9"/><circle cx="470.8" cy="229.0" r="1.9"/><circle cx="485.1" cy="191.3" r="1.9"/><circle cx="457.2" cy="248.9" r="1.9"/><circle cx="484.1" cy="220.2" r="1.9"/><circle cx="467.8" cy="230.7" r="1.9"/><circle cx="451.5" cy="208.6" r="1.9"/><circle cx="474.8" cy="210.4" r="1.9"/><circle cx="475.1" cy="257.5" r="1.9"/><circle cx="471.6" cy="244.6" r="1.9"/><circle cx="468.1" cy="232.0" r="1.9"/><circle cx="472.2" cy="241.4" r="1.9"/><circle cx="471.8" cy="217.3" r="1.9"/><circle cx="467.8" cy="227.7" r="1.9"/><circle cx="475.0" cy="245.8" r="1.9"/><circle cx="477.9" cy="231.2" r="1.9"/><circle cx="483.3" cy="213.4" r="1.9"/><circle cx="476.6" cy="224.0" r="1.9"/><circle cx="498.5" cy="222.9" r="1.9"/><circle cx="477.8" cy="227.1" r="1.9"/><circle cx="471.8" cy="227.8" r="1.9"/><circle cx="482.8" cy="200.5" r="1.9"/><circle cx="469.7" cy="245.3" r="1.9"/><circle cx="470.4" cy="218.3" r="1.9"/><circle cx="467.1" cy="227.7" r="1.9"/><circle cx="466.7" cy="225.4" r="1.9"/><circle cx="454.9" cy="220.9" r="1.9"/><circle cx="486.7" cy="208.0" r="1.9"/><circle cx="480.3" cy="217.8" r="1.9"/><circle cx="483.4" cy="216.1" r="1.9"/><circle cx="474.3" cy="216.8" r="1.9"/><circle cx="486.5" cy="232.4" r="1.9"/><circle cx="467.5" cy="214.9" r="1.9"/><circle cx="477.2" cy="213.6" r="1.9"/><circle cx="469.0" cy="209.6" r="1.9"/><circle cx="488.5" cy="223.9" r="1.9"/><circle cx="475.0" cy="219.1" r="1.9"/><circle cx="481.3" cy="263.6" r="1.9"/><circle cx="466.9" cy="236.2" r="1.9"/><circle cx="477.5" cy="234.2" r="1.9"/><circle cx="461.6" cy="211.4" r="1.9"/><circle cx="487.4" cy="214.4" r="1.9"/><circle cx="484.8" cy="226.7" r="1.9"/><circle cx="473.1" cy="242.3" r="1.9"/><circle cx="476.8" cy="217.6" r="1.9"/><circle cx="480.8" cy="207.5" r="1.9"/><circle cx="485.0" cy="208.7" r="1.9"/><circle cx="467.7" cy="229.9" r="1.9"/><circle cx="467.7" cy="248.6" r="1.9"/><circle cx="471.7" cy="244.8" r="1.9"/><circle cx="478.3" cy="244.9" r="1.9"/><circle cx="483.8" cy="206.0" r="1.9"/><circle cx="487.1" cy="222.9" r="1.9"/><circle cx="462.5" cy="200.3" r="1.9"/><circle cx="472.9" cy="203.6" r="1.9"/><circle cx="468.1" cy="206.7" r="1.9"/><circle cx="484.1" cy="237.2" r="1.9"/><circle cx="445.4" cy="221.0" r="1.9"/><circle cx="454.5" cy="231.5" r="1.9"/><circle cx="480.7" cy="255.1" r="1.9"/><circle cx="463.2" cy="254.9" r="1.9"/><circle cx="473.9" cy="237.0" r="1.9"/><circle cx="475.8" cy="205.3" r="1.9"/><circle cx="488.0" cy="233.5" r="1.9"/><circle cx="469.7" cy="257.5" r="1.9"/><circle cx="457.3" cy="229.2" r="1.9"/><circle cx="470.4" cy="218.4" r="1.9"/><circle cx="469.3" cy="247.0" r="1.9"/><circle cx="454.1" cy="192.4" r="1.9"/><circle cx="454.5" cy="246.5" r="1.9"/><circle cx="505.5" cy="205.7" r="1.9"/><circle cx="457.6" cy="209.2" r="1.9"/><circle cx="469.8" cy="239.6" r="1.9"/><circle cx="456.4" cy="234.1" r="1.9"/><circle cx="461.1" cy="230.7" r="1.9"/><circle cx="473.1" cy="234.6" r="1.9"/><circle cx="478.0" cy="214.4" r="1.9"/><circle cx="484.6" cy="224.6" r="1.9"/><circle cx="478.2" cy="266.1" r="1.9"/><circle cx="478.6" cy="228.3" r="1.9"/><circle cx="479.2" cy="245.7" r="1.9"/><circle cx="463.5" cy="233.6" r="1.9"/><circle cx="467.2" cy="224.1" r="1.9"/><circle cx="459.6" cy="234.0" r="1.9"/><circle cx="466.8" cy="219.9" r="1.9"/><circle cx="462.3" cy="237.3" r="1.9"/><circle cx="479.7" cy="238.3" r="1.9"/><circle cx="478.3" cy="200.2" r="1.9"/><circle cx="492.2" cy="212.3" r="1.9"/><circle cx="479.0" cy="223.4" r="1.9"/><circle cx="477.0" cy="227.7" r="1.9"/><circle cx="467.2" cy="235.1" r="1.9"/><circle cx="468.7" cy="232.3" r="1.9"/><circle cx="460.0" cy="241.8" r="1.9"/><circle cx="488.2" cy="193.3" r="1.9"/><circle cx="467.4" cy="208.0" r="1.9"/><circle cx="453.1" cy="275.0" r="1.9"/><circle cx="476.6" cy="246.6" r="1.9"/><circle cx="467.9" cy="233.9" r="1.9"/><circle cx="467.2" cy="232.3" r="1.9"/><circle cx="476.7" cy="265.6" r="1.9"/><circle cx="467.7" cy="214.1" r="1.9"/><circle cx="496.5" cy="245.2" r="1.9"/><circle cx="466.4" cy="216.6" r="1.9"/><circle cx="459.4" cy="224.9" r="1.9"/><circle cx="465.6" cy="201.5" r="1.9"/><circle cx="471.5" cy="241.1" r="1.9"/><circle cx="452.7" cy="202.6" r="1.9"/><circle cx="465.2" cy="251.5" r="1.9"/><circle cx="489.0" cy="197.2" r="1.9"/><circle cx="462.3" cy="210.9" r="1.9"/><circle cx="467.2" cy="220.3" r="1.9"/><circle cx="468.3" cy="255.8" r="1.9"/><circle cx="487.6" cy="197.6" r="1.9"/><circle cx="492.7" cy="211.8" r="1.9"/><circle cx="462.6" cy="266.9" r="1.9"/><circle cx="470.4" cy="271.3" r="1.9"/><circle cx="475.9" cy="234.6" r="1.9"/><circle cx="486.4" cy="237.8" r="1.9"/><circle cx="477.2" cy="213.1" r="1.9"/><circle cx="484.8" cy="219.1" r="1.9"/><circle cx="487.6" cy="226.4" r="1.9"/><circle cx="483.7" cy="229.5" r="1.9"/><circle cx="502.1" cy="214.2" r="1.9"/><circle cx="481.9" cy="237.4" r="1.9"/><circle cx="471.7" cy="255.6" r="1.9"/><circle cx="472.0" cy="268.5" r="1.9"/><circle cx="493.8" cy="210.8" r="1.9"/><circle cx="480.7" cy="234.1" r="1.9"/><circle cx="481.7" cy="258.7" r="1.9"/><circle cx="481.1" cy="242.4" r="1.9"/><circle cx="485.5" cy="234.8" r="1.9"/><circle cx="492.9" cy="209.4" r="1.9"/><circle cx="474.0" cy="268.8" r="1.9"/><circle cx="479.3" cy="240.6" r="1.9"/><circle cx="466.5" cy="210.0" r="1.9"/><circle cx="492.2" cy="221.9" r="1.9"/><circle cx="467.8" cy="216.9" r="1.9"/><circle cx="468.0" cy="201.1" r="1.9"/><circle cx="473.1" cy="246.6" r="1.9"/><circle cx="470.3" cy="238.5" r="1.9"/><circle cx="468.6" cy="212.3" r="1.9"/><circle cx="484.4" cy="202.1" r="1.9"/><circle cx="486.7" cy="222.6" r="1.9"/><circle cx="465.5" cy="240.5" r="1.9"/><circle cx="465.2" cy="255.7" r="1.9"/><circle cx="475.6" cy="213.3" r="1.9"/><circle cx="480.9" cy="214.5" r="1.9"/><circle cx="470.1" cy="251.8" r="1.9"/><circle cx="469.2" cy="230.7" r="1.9"/><circle cx="464.7" cy="242.5" r="1.9"/><circle cx="474.1" cy="224.1" r="1.9"/><circle cx="465.8" cy="231.1" r="1.9"/><circle cx="469.3" cy="206.8" r="1.9"/><circle cx="469.9" cy="202.2" r="1.9"/><circle cx="474.4" cy="235.1" r="1.9"/><circle cx="457.4" cy="208.0" r="1.9"/><circle cx="473.0" cy="210.4" r="1.9"/><circle cx="465.2" cy="201.9" r="1.9"/><circle cx="487.3" cy="229.6" r="1.9"/><circle cx="468.9" cy="224.8" r="1.9"/><circle cx="471.9" cy="196.5" r="1.9"/><circle cx="477.8" cy="213.6" r="1.9"/><circle cx="460.5" cy="235.9" r="1.9"/><circle cx="476.1" cy="216.5" r="1.9"/><circle cx="468.9" cy="187.0" r="1.9"/><circle cx="477.6" cy="234.9" r="1.9"/><circle cx="464.1" cy="237.6" r="1.9"/><circle cx="467.5" cy="217.0" r="1.9"/><circle cx="457.6" cy="236.2" r="1.9"/><circle cx="484.0" cy="255.0" r="1.9"/><circle cx="479.3" cy="254.1" r="1.9"/><circle cx="460.5" cy="230.5" r="1.9"/><circle cx="489.8" cy="239.0" r="1.9"/><circle cx="485.2" cy="203.0" r="1.9"/><circle cx="468.2" cy="245.1" r="1.9"/><circle cx="489.7" cy="242.6" r="1.9"/><circle cx="467.6" cy="237.3" r="1.9"/><circle cx="484.0" cy="249.9" r="1.9"/><circle cx="450.0" cy="222.8" r="1.9"/><circle cx="490.4" cy="234.0" r="1.9"/><circle cx="467.4" cy="202.6" r="1.9"/><circle cx="474.8" cy="220.8" r="1.9"/><circle cx="481.9" cy="182.8" r="1.9"/><circle cx="467.4" cy="233.7" r="1.9"/><circle cx="484.7" cy="213.6" r="1.9"/><circle cx="477.1" cy="263.4" r="1.9"/><circle cx="464.9" cy="233.5" r="1.9"/><circle cx="466.8" cy="236.1" r="1.9"/><circle cx="468.1" cy="209.3" r="1.9"/><circle cx="478.5" cy="232.9" r="1.9"/><circle cx="488.3" cy="214.9" r="1.9"/><circle cx="477.5" cy="232.7" r="1.9"/><circle cx="463.1" cy="256.5" r="1.9"/><circle cx="466.5" cy="230.2" r="1.9"/><circle cx="478.3" cy="198.2" r="1.9"/><circle cx="467.4" cy="223.0" r="1.9"/><circle cx="471.1" cy="200.9" r="1.9"/><circle cx="467.7" cy="238.4" r="1.9"/><circle cx="491.2" cy="225.9" r="1.9"/><circle cx="457.0" cy="235.7" r="1.9"/><circle cx="465.8" cy="230.1" r="1.9"/><circle cx="471.2" cy="235.7" r="1.9"/><circle cx="483.4" cy="226.9" r="1.9"/><circle cx="476.3" cy="237.0" r="1.9"/><circle cx="467.5" cy="249.2" r="1.9"/><circle cx="459.4" cy="200.4" r="1.9"/><circle cx="473.1" cy="212.6" r="1.9"/><circle cx="467.4" cy="226.1" r="1.9"/><circle cx="471.0" cy="235.0" r="1.9"/><circle cx="463.2" cy="253.5" r="1.9"/><circle cx="448.1" cy="224.7" r="1.9"/><circle cx="471.6" cy="242.3" r="1.9"/><circle cx="467.9" cy="205.7" r="1.9"/><circle cx="466.5" cy="260.6" r="1.9"/><circle cx="467.7" cy="220.9" r="1.9"/><circle cx="467.8" cy="212.2" r="1.9"/><circle cx="483.4" cy="231.4" r="1.9"/><circle cx="454.6" cy="194.0" r="1.9"/><circle cx="482.8" cy="200.5" r="1.9"/><circle cx="475.6" cy="208.1" r="1.9"/><circle cx="490.7" cy="243.2" r="1.9"/><circle cx="483.8" cy="213.5" r="1.9"/><circle cx="467.6" cy="213.5" r="1.9"/><circle cx="478.1" cy="220.2" r="1.9"/><circle cx="467.8" cy="189.3" r="1.9"/><circle cx="481.3" cy="217.9" r="1.9"/><circle cx="472.3" cy="267.2" r="1.9"/><circle cx="467.0" cy="224.8" r="1.9"/><circle cx="484.6" cy="193.0" r="1.9"/><circle cx="481.9" cy="237.2" r="1.9"/><circle cx="467.4" cy="212.8" r="1.9"/><circle cx="467.2" cy="236.8" r="1.9"/><circle cx="469.3" cy="220.7" r="1.9"/><circle cx="461.5" cy="275.3" r="1.9"/><circle cx="466.6" cy="256.2" r="1.9"/><circle cx="500.1" cy="220.9" r="1.9"/><circle cx="483.0" cy="232.5" r="1.9"/><circle cx="471.8" cy="261.4" r="1.9"/><circle cx="467.2" cy="221.5" r="1.9"/></g>
<circle cx="466.2" cy="300.5" r="1.9" fill="#2c6ca3" fill-opacity="0.24"/>
<circle cx="477" cy="286.9" r="1.9" fill="#3d6d3c" fill-opacity="0.26"/>
<circle cx="467.7" cy="286.3" r="1.9" fill="#2c6ca3" fill-opacity="0.24"/>
<circle cx="464.3" cy="277.8" r="1.9" fill="#2c6ca3" fill-opacity="0.24"/>
<circle cx="464.3" cy="280" r="1.9" fill="#2c6ca3" fill-opacity="0.24"/>
<circle cx="464.3" cy="282.2" r="1.9" fill="#2c6ca3" fill-opacity="0.24"/>
<circle cx="464.3" cy="284.4" r="1.9" fill="#2c6ca3" fill-opacity="0.24"/>
<polygon points="438.0,232.6 440.8,231.3 443.5,230.0 446.3,228.7 449.1,227.4 451.8,226.1 454.6,224.8 457.3,223.5 460.1,222.1 462.9,220.8 465.6,219.5 468.4,218.1 471.2,216.8 473.9,215.4 476.7,214.0 479.5,212.6 482.2,211.2 485.0,209.7 487.8,208.3 490.5,206.8 493.3,205.2 496.0,203.6 498.8,201.9 501.6,200.3 504.3,198.5 507.1,196.8 509.9,195.0 512.6,193.2 515.4,191.4 518.2,189.6 520.9,187.8 523.7,186.0 526.5,184.2 529.2,182.4 532.0,180.6 534.7,178.7 537.5,176.9 540.3,175.1 543.0,173.2 545.8,171.4 545.8,185.4 543.0,186.6 540.3,187.8 537.5,189.0 534.7,190.2 532.0,191.4 529.2,192.6 526.5,193.8 523.7,195.1 520.9,196.3 518.2,197.5 515.4,198.7 512.6,200.0 509.9,201.2 507.1,202.5 504.3,203.8 501.6,205.1 498.8,206.5 496.0,207.9 493.3,209.3 490.5,210.8 487.8,212.3 485.0,213.8 482.2,215.4 479.5,217.0 476.7,218.7 473.9,220.3 471.2,222.0 468.4,223.7 465.6,225.4 462.9,227.1 460.1,228.8 457.3,230.5 454.6,232.2 451.8,233.9 449.1,235.7 446.3,237.4 443.5,239.1 440.8,240.9 438.0,242.6" fill="#7d9f74" fill-opacity="0.27"/>
<polygon points="438.0,232.6 440.8,232.0 443.5,231.5 446.3,230.9 449.1,230.3 451.8,229.7 454.6,229.0 457.3,228.4 460.1,227.7 462.9,227.0 465.6,226.3 468.4,225.6 471.2,224.8 473.9,224.0 476.7,223.2 479.5,222.3 482.2,221.3 485.0,220.3 487.8,219.3 490.5,218.3 493.3,217.2 496.0,216.1 498.8,215.0 501.6,213.9 504.3,212.8 507.1,211.7 509.9,210.6 512.6,209.4 515.4,208.3 518.2,207.1 520.9,205.9 523.7,204.8 526.5,203.6 529.2,202.5 532.0,201.3 534.7,200.1 537.5,198.9 540.3,197.8 543.0,196.6 545.8,195.4 545.8,219.4 543.0,219.8 540.3,220.1 537.5,220.5 534.7,220.9 532.0,221.3 529.2,221.6 526.5,222.0 523.7,222.4 520.9,222.8 518.2,223.2 515.4,223.6 512.6,224.0 509.9,224.4 507.1,224.8 504.3,225.2 501.6,225.6 498.8,226.1 496.0,226.5 493.3,227.0 490.5,227.5 487.8,228.0 485.0,228.5 482.2,229.1 479.5,229.7 476.7,230.4 473.9,231.1 471.2,231.8 468.4,232.6 465.6,233.4 462.9,234.2 460.1,235.1 457.3,236.0 454.6,236.9 451.8,237.8 449.1,238.7 446.3,239.7 443.5,240.6 440.8,241.6 438.0,242.6" fill="#7ea7c9" fill-opacity="0.34"/>
<line x1="438" y1="237.6" x2="545.8" y2="178.4" stroke="#2c672c" stroke-width="1.7"/>
<line x1="438" y1="237.6" x2="545.8" y2="207.4" stroke="#1c5f9c" stroke-width="1.7"/>
</g>
<rect x="432.5" y="156.3" width="119.0" height="152.2" fill="none" stroke="#575757" stroke-width="1"/>
<line x1="432.5" y1="173.5" x2="435.0" y2="173.5" stroke="#000" stroke-width="1"/>
<text x="431.5" y="175.5" text-anchor="end" class="tk">2</text>
<line x1="432.5" y1="215.5" x2="435.0" y2="215.5" stroke="#000" stroke-width="1"/>
<text x="431.5" y="217.7" text-anchor="end" class="tk">0</text>
<line x1="432.5" y1="257.5" x2="435.0" y2="257.5" stroke="#000" stroke-width="1"/>
<text x="431.5" y="259.8" text-anchor="end" class="tk">−2</text>
<line x1="432.5" y1="299.5" x2="435.0" y2="299.5" stroke="#000" stroke-width="1"/>
<text x="431.5" y="301.9" text-anchor="end" class="tk">−4</text>
<line x1="453.5" y1="308.5" x2="453.5" y2="306.0" stroke="#000" stroke-width="1"/>
<text x="453.7" y="314.9" text-anchor="middle" class="tk">−2</text>
<line x1="484.5" y1="308.5" x2="484.5" y2="306.0" stroke="#000" stroke-width="1"/>
<text x="484.4" y="314.9" text-anchor="middle" class="tk">0</text>
<line x1="515.5" y1="308.5" x2="515.5" y2="306.0" stroke="#000" stroke-width="1"/>
<text x="515.1" y="314.9" text-anchor="middle" class="tk">2</text>
<line x1="545.5" y1="308.5" x2="545.5" y2="306.0" stroke="#000" stroke-width="1"/>
<text x="545.7" y="314.9" text-anchor="middle" class="tk">4</text>
<text x="437.5" y="167.0" class="tt" textLength="108.5">HYD × CWM<tspan dy="1.3" font-size="4.8">PC2</tspan><tspan dy="-1.3">: </tspan><tspan font-style="italic">F</tspan> = 7.72, <tspan font-style="italic">P</tspan> = 0.006</text>
<text x="1.2" y="11.9" class="lab">a</text>
<text x="155.6" y="11.9" class="lab">b</text>
<text x="288.6" y="11.9" class="lab">c</text>
<text x="422.2" y="11.9" class="lab">d</text>
<text x="555.8" y="11.9" class="lab">e</text>
<text x="-0.4" y="167.2" class="lab">f</text>
<text x="155.0" y="167.2" class="lab">g</text>
<text x="288.6" y="167.2" class="lab">h</text>
<text x="422.2" y="167.2" class="lab">i</text>
<text x="555.8" y="167.2" class="lab">j</text>
<rect x="135" y="13.9" width="7.8" height="6.9" fill="#dae5d6"/>
<line x1="135.6" y1="17.4" x2="142.4" y2="17.4" stroke="#2c672c" stroke-width="1.6"/>
<rect x="135" y="22" width="7.8" height="7.2" fill="#d2e0ed"/>
<line x1="135.6" y1="25.5" x2="142.4" y2="25.5" stroke="#1c5f9c" stroke-width="1.6"/>
<text x="132.9" y="20" text-anchor="end" class="tk">Inland</text>
<text x="132.9" y="27.6" text-anchor="end" class="tk">Tidal</text>
<text transform="translate(10.3,70.5) rotate(-90)" text-anchor="middle" class="ax" textLength="40.6">Productivity</text>
<text transform="translate(20.2,71.3) rotate(-90)" text-anchor="middle" class="ax" textLength="47.2">(NDVI<tspan dy="1.7" font-size="4.6">max</tspan><tspan dy="-1.7">, log)</tspan></text>
<text transform="translate(9.9,232.8) rotate(-90)" text-anchor="middle" class="ax" textLength="28.2">Stability</text>
<text transform="translate(20.2,232.5) rotate(-90)" text-anchor="middle" class="ax" textLength="118.5">(Mean−to−SD ratio of NDVI<tspan dy="1.7" font-size="4.6">max</tspan><tspan dy="-1.7">, log)</tspan></text>
<text x="93.0" y="323.6" text-anchor="middle" class="ax">FD<tspan dy="1.7" font-size="4.6">Bs</tspan><tspan dy="-1.7"> of</tspan></text>
<text x="92.65" y="334.6" text-anchor="middle" class="ax" textLength="87.4">resource economics traits</text>
<text x="225.4" y="323.6" text-anchor="middle" class="ax">FD<tspan dy="1.7" font-size="4.6">Is</tspan><tspan dy="-1.7"> of</tspan></text>
<text x="224.75" y="334.6" text-anchor="middle" class="ax" textLength="50.8">plant size traits</text>
<text x="358.4" y="323.6" text-anchor="middle" class="ax">CWM<tspan dy="1.7" font-size="4.6">PC1</tspan></text>
<text x="358.7" y="334.6" text-anchor="middle" class="ax" textLength="76.2">(Resource economics)</text>
<text x="491.9" y="323.6" text-anchor="middle" class="ax">CWM<tspan dy="1.7" font-size="4.6">PC2</tspan></text>
<text x="492.0" y="334.6" text-anchor="middle" class="ax" textLength="38.4">(Plant size)</text>
<text x="634.1" y="324.6" text-anchor="middle" class="ax" textLength="81.0">Standardized coefficient</text>
<line x1="613.4" y1="0.5" x2="613.4" y2="142.8" stroke="#333" stroke-width="0.8" stroke-dasharray="2.1,1.8"/>
<line x1="610" y1="16.5" x2="633" y2="16.5" stroke="#1b5f9b" stroke-width="1.2"/>
<circle cx="621.1" cy="16.5" r="2.3" fill="#1b5f9b"/>
<line x1="603" y1="24.5" x2="618" y2="24.5" stroke="#2a5e2a" stroke-width="1.2"/>
<circle cx="610.5" cy="24.5" r="2.3" fill="#2a5e2a"/>
<line x1="592.5" y1="50.5" x2="626.3" y2="50.5" stroke="#1b5f9b" stroke-width="1.2"/>
<circle cx="609.3" cy="50.5" r="2.3" fill="#1b5f9b"/>
<line x1="616" y1="59.5" x2="633.5" y2="59.5" stroke="#2a5e2a" stroke-width="1.2"/>
<circle cx="624.8" cy="59.5" r="2.3" fill="#2a5e2a"/>
<line x1="588.5" y1="84.5" x2="608" y2="84.5" stroke="#1b5f9b" stroke-width="1.2"/>
<circle cx="598.0" cy="84.5" r="2.3" fill="#1b5f9b"/>
<line x1="625.5" y1="93.5" x2="637.3" y2="93.5" stroke="#2a5e2a" stroke-width="1.2"/>
<circle cx="631.3" cy="93.5" r="2.3" fill="#2a5e2a"/>
<line x1="642.5" y1="118.5" x2="666.8" y2="118.5" stroke="#1b5f9b" stroke-width="1.2"/>
<circle cx="654.5" cy="118.5" r="2.3" fill="#1b5f9b"/>
<line x1="664.8" y1="127.5" x2="680" y2="127.5" stroke="#2a5e2a" stroke-width="1.2"/>
<circle cx="672.3" cy="127.5" r="2.3" fill="#2a5e2a"/>
<rect x="584.0" y="0.5" width="100.5" height="142.3" fill="none" stroke="#575757" stroke-width="1"/>
<line x1="589.5" y1="142.8" x2="589.5" y2="140.3" stroke="#000" stroke-width="1"/>
<text x="589.4" y="149.2" text-anchor="middle" class="tk">−0.2</text>
<line x1="613.5" y1="142.8" x2="613.5" y2="140.3" stroke="#000" stroke-width="1"/>
<text x="613.4" y="149.2" text-anchor="middle" class="tk">0.0</text>
<line x1="637.5" y1="142.8" x2="637.5" y2="140.3" stroke="#000" stroke-width="1"/>
<text x="637.4" y="149.2" text-anchor="middle" class="tk">0.2</text>
<line x1="661.5" y1="142.8" x2="661.5" y2="140.3" stroke="#000" stroke-width="1"/>
<text x="661.4" y="149.2" text-anchor="middle" class="tk">0.4</text>
<line x1="584.0" y1="20.5" x2="586.5" y2="20.5" stroke="#000" stroke-width="1"/>
<text x="583.0" y="22.2" text-anchor="end" class="tk">FD<tspan dy="1.5" font-size="4.2">Bs</tspan><tspan dy="-1.5">_RE</tspan></text>
<line x1="584.0" y1="54.5" x2="586.5" y2="54.5" stroke="#000" stroke-width="1"/>
<text x="583.0" y="56.400000000000006" text-anchor="end" class="tk">FD<tspan dy="1.5" font-size="4.2">Bs</tspan><tspan dy="-1.5">_PS</tspan></text>
<line x1="584.0" y1="88.5" x2="586.5" y2="88.5" stroke="#000" stroke-width="1"/>
<text x="583.0" y="90.7" text-anchor="end" class="tk">CWM<tspan dy="1.5" font-size="4.5">PC1</tspan></text>
<line x1="584.0" y1="122.5" x2="586.5" y2="122.5" stroke="#000" stroke-width="1"/>
<text x="583.0" y="124.8" text-anchor="end" class="tk">CWM<tspan dy="1.5" font-size="4.5">PC2</tspan></text>
<text x="643.6" y="35.4" class="ax" style="font-size:7.6px" textLength="33.6"><tspan font-style="italic">R</tspan><tspan dy="-2.7" font-size="4.4">2</tspan><tspan dy="2.7"> = 0.56</tspan></text>
<text x="643.6" y="45.4" class="ax" style="font-size:7.6px"><tspan font-style="italic">P</tspan> &lt; 2.2e<tspan dy="-2.7" font-size="4.4">−16</tspan></text>
<text x="666.9" y="12.6" text-anchor="end" class="tk">Inland</text>
<text x="666.9" y="20.8" text-anchor="end" class="tk">Tidal</text>
<line x1="669.6" y1="10.3" x2="677" y2="10.3" stroke="#2a5e2a" stroke-width="1.1"/><circle cx="673.3" cy="10.3" r="2.3" fill="#2a5e2a"/>
<line x1="669.6" y1="18.5" x2="677" y2="18.5" stroke="#1b5f9b" stroke-width="1.1"/><circle cx="673.3" cy="18.5" r="2.3" fill="#1b5f9b"/>
<line x1="611.8" y1="156.3" x2="611.8" y2="310.0" stroke="#333" stroke-width="0.8" stroke-dasharray="2.1,1.8"/>
<line x1="588.5" y1="173.5" x2="621" y2="173.5" stroke="#1b5f9b" stroke-width="1.2"/>
<circle cx="604.5" cy="173.5" r="2.3" fill="#1b5f9b"/>
<line x1="599.3" y1="182.5" x2="620" y2="182.5" stroke="#2a5e2a" stroke-width="1.2"/>
<circle cx="609.8" cy="182.5" r="2.3" fill="#2a5e2a"/>
<line x1="626" y1="210.5" x2="673.8" y2="210.5" stroke="#1b5f9b" stroke-width="1.2"/>
<circle cx="650.0" cy="210.5" r="2.3" fill="#1b5f9b"/>
<line x1="616" y1="219.5" x2="640.5" y2="219.5" stroke="#2a5e2a" stroke-width="1.2"/>
<circle cx="628.0" cy="219.5" r="2.3" fill="#2a5e2a"/>
<line x1="589.3" y1="246.5" x2="617" y2="246.5" stroke="#1b5f9b" stroke-width="1.2"/>
<circle cx="603.0" cy="246.5" r="2.3" fill="#1b5f9b"/>
<line x1="616" y1="255.5" x2="632.5" y2="255.5" stroke="#2a5e2a" stroke-width="1.2"/>
<circle cx="624.3" cy="255.5" r="2.3" fill="#2a5e2a"/>
<line x1="623" y1="283.5" x2="657.5" y2="283.5" stroke="#1b5f9b" stroke-width="1.2"/>
<circle cx="640.0" cy="283.5" r="2.3" fill="#1b5f9b"/>
<line x1="658" y1="292.5" x2="680" y2="292.5" stroke="#2a5e2a" stroke-width="1.2"/>
<circle cx="669.3" cy="292.5" r="2.3" fill="#2a5e2a"/>
<rect x="583.8" y="156.3" width="100.7" height="153.7" fill="none" stroke="#575757" stroke-width="1"/>
<line x1="583.5" y1="310.0" x2="583.5" y2="307.5" stroke="#000" stroke-width="1"/>
<text x="583.8" y="316.4" text-anchor="middle" class="tk">−0.2</text>
<line x1="611.5" y1="310.0" x2="611.5" y2="307.5" stroke="#000" stroke-width="1"/>
<text x="611.8" y="316.4" text-anchor="middle" class="tk">0.0</text>
<line x1="639.5" y1="310.0" x2="639.5" y2="307.5" stroke="#000" stroke-width="1"/>
<text x="639.8" y="316.4" text-anchor="middle" class="tk">0.2</text>
<line x1="667.5" y1="310.0" x2="667.5" y2="307.5" stroke="#000" stroke-width="1"/>
<text x="667.7" y="316.4" text-anchor="middle" class="tk">0.4</text>
<line x1="583.8" y1="177.5" x2="586.3" y2="177.5" stroke="#000" stroke-width="1"/>
<text x="582.8" y="179.7" text-anchor="end" class="tk">FD<tspan dy="1.5" font-size="4.2">Bs</tspan><tspan dy="-1.5">_RE</tspan></text>
<line x1="583.8" y1="214.5" x2="586.3" y2="214.5" stroke="#000" stroke-width="1"/>
<text x="582.8" y="216.7" text-anchor="end" class="tk">FD<tspan dy="1.5" font-size="4.2">Bs</tspan><tspan dy="-1.5">_PS</tspan></text>
<line x1="583.8" y1="251.5" x2="586.3" y2="251.5" stroke="#000" stroke-width="1"/>
<text x="582.8" y="253.5" text-anchor="end" class="tk">CWM<tspan dy="1.5" font-size="4.5">PC1</tspan></text>
<line x1="583.8" y1="288.5" x2="586.3" y2="288.5" stroke="#000" stroke-width="1"/>
<text x="582.8" y="290.2" text-anchor="end" class="tk">CWM<tspan dy="1.5" font-size="4.5">PC2</tspan></text>
<text x="645.0" y="171.0" class="ax" style="font-size:7.6px" textLength="33.6"><tspan font-style="italic">R</tspan><tspan dy="-2.7" font-size="4.4">2</tspan><tspan dy="2.7"> = 0.35</tspan></text>
<text x="645.0" y="181.0" class="ax" style="font-size:7.6px"><tspan font-style="italic">P</tspan> &lt; 2.2e<tspan dy="-2.7" font-size="4.4">−16</tspan></text>
</svg>
</body></html>
